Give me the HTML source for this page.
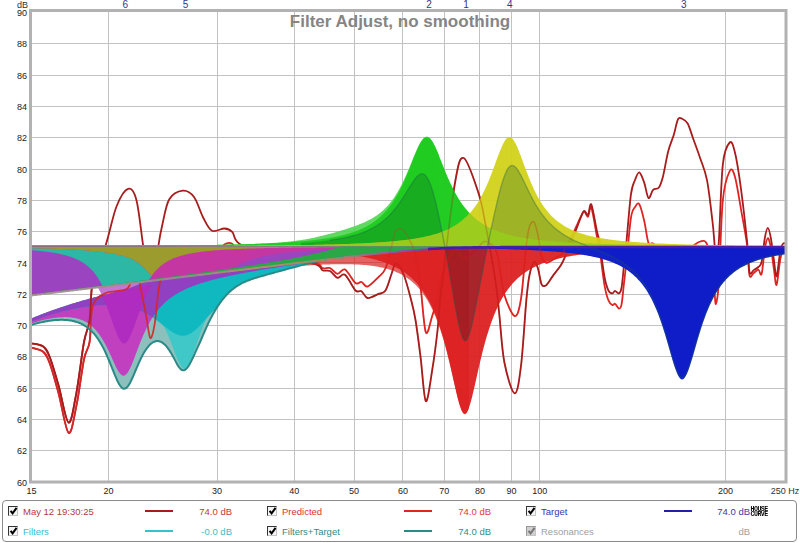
<!DOCTYPE html>
<html><head><meta charset="utf-8"><style>
html,body{margin:0;padding:0;background:#fff;width:800px;height:543px;overflow:hidden;position:relative;font-family:"Liberation Sans",sans-serif}
.lg{position:absolute;left:2px;top:500px;width:795px;height:41.5px;border:1px solid #8a8a8a;border-radius:4px;box-sizing:border-box}
.t{position:absolute;font-size:9.5px;line-height:11px;white-space:nowrap}
.cb{position:absolute;width:8px;height:8px;border:1px solid #444;border-right-color:#c4c4c4;border-bottom-color:#c4c4c4;background:#f4f4f4}
.sw{position:absolute;height:2px;width:28px}
</style></head><body>
<svg width="800" height="543" viewBox="0 0 800 543" style="position:absolute;left:0;top:0"><line x1="108.5" y1="11" x2="108.5" y2="481" stroke="#c2c2c2" stroke-width="1"/><line x1="217.5" y1="11" x2="217.5" y2="481" stroke="#c2c2c2" stroke-width="1"/><line x1="294.5" y1="11" x2="294.5" y2="481" stroke="#c2c2c2" stroke-width="1"/><line x1="354.5" y1="11" x2="354.5" y2="481" stroke="#c2c2c2" stroke-width="1"/><line x1="402.5" y1="11" x2="402.5" y2="481" stroke="#c2c2c2" stroke-width="1"/><line x1="444.5" y1="11" x2="444.5" y2="481" stroke="#c2c2c2" stroke-width="1"/><line x1="479.5" y1="11" x2="479.5" y2="481" stroke="#c2c2c2" stroke-width="1"/><line x1="511.5" y1="11" x2="511.5" y2="481" stroke="#c2c2c2" stroke-width="1"/><line x1="539.5" y1="11" x2="539.5" y2="481" stroke="#c2c2c2" stroke-width="1"/><line x1="725.5" y1="11" x2="725.5" y2="481" stroke="#c2c2c2" stroke-width="1"/><line x1="31" y1="450.5" x2="785" y2="450.5" stroke="#c2c2c2" stroke-width="1"/><line x1="31" y1="419.5" x2="785" y2="419.5" stroke="#c2c2c2" stroke-width="1"/><line x1="31" y1="388.5" x2="785" y2="388.5" stroke="#c2c2c2" stroke-width="1"/><line x1="31" y1="356.5" x2="785" y2="356.5" stroke="#c2c2c2" stroke-width="1"/><line x1="31" y1="325.5" x2="785" y2="325.5" stroke="#c2c2c2" stroke-width="1"/><line x1="31" y1="294.5" x2="785" y2="294.5" stroke="#c2c2c2" stroke-width="1"/><line x1="31" y1="262.5" x2="785" y2="262.5" stroke="#c2c2c2" stroke-width="1"/><line x1="31" y1="231.5" x2="785" y2="231.5" stroke="#c2c2c2" stroke-width="1"/><line x1="31" y1="200.5" x2="785" y2="200.5" stroke="#c2c2c2" stroke-width="1"/><line x1="31" y1="169.5" x2="785" y2="169.5" stroke="#c2c2c2" stroke-width="1"/><line x1="31" y1="137.5" x2="785" y2="137.5" stroke="#c2c2c2" stroke-width="1"/><line x1="31" y1="106.5" x2="785" y2="106.5" stroke="#c2c2c2" stroke-width="1"/><line x1="31" y1="75.5" x2="785" y2="75.5" stroke="#c2c2c2" stroke-width="1"/><line x1="31" y1="43.5" x2="785" y2="43.5" stroke="#c2c2c2" stroke-width="1"/><defs><clipPath id="plot"><rect x="31" y="12" width="754" height="469"/></clipPath></defs><g clip-path="url(#plot)"><path d="M30,347.2 C32.2,347.9 39.9,349 43.2,351.8 C46.5,354.5 47.3,356.7 49.9,363.6 C52.5,370.6 55.6,382.2 58.7,393.7 C61.8,405.2 65.6,430.8 68.6,432.8 C71.5,434.8 73.8,418.2 76.4,405.9 C79,393.7 81.8,370 84,359.3 C86.2,348.6 88.1,350.9 89.6,341.8 C91.1,332.7 90.3,312.9 93,304.8 C95.7,296.6 102,295.3 105.9,293 C109.8,290.7 112.8,292.1 116.5,291.2 C120.2,290.4 124.7,291 128,287.8 C131.3,284.6 133.9,270 136.4,272 C138.9,274.1 141.3,292.4 143,300 C144.7,307.6 145.3,311.5 146.5,317.8 C147.7,324.1 149,336.9 150.3,338 C151.7,339.1 153.2,332.4 154.6,324.4 C156,316.3 157.3,298.5 158.6,289.8 C159.9,281.2 160.7,277.5 162.5,272.3 C164.3,267.2 165.9,256.8 169.3,259.1 C172.7,261.4 178.6,284.2 182.8,286.2 C186.9,288.1 190.6,274.7 194,270.7 C197.4,266.8 200,264.5 203,262.6 C206,260.6 208.4,261.9 212,258.9 C215.6,256 221,247.1 224.4,244.6 C227.8,242.1 229.6,242.3 232.2,243.7 C234.9,245.2 233,250.7 240.1,253.2 C247.2,255.7 262.5,257 275,258.6 C287.5,260.3 307.1,261.4 315,263 C322.9,264.6 320,267.4 322.5,268.2 C325,269.1 327.5,267.2 330,268.1 C332.5,269 335,273.6 337.5,273.8 C340,274 342,268 345,269.5 C348,271.1 352.8,280.9 355.5,283 C358.2,285 359.5,281.4 361.5,282 C363.5,282.6 364.8,287.3 367.5,286.6 C370.2,285.8 375,280.6 378,277.6 C381,274.6 383.2,273.7 385.5,268.5 C387.8,263.3 389.8,252.7 391.5,246.4 C393.2,240.1 394,233.4 396,230.7 C398,228 401,228.3 403.5,230.3 C406,232.3 409,238.5 411,242.8 C413,247 413.9,248.3 415.5,255.7 C417.1,263.2 418.9,274.6 420.6,287.4 C422.3,300.1 423.9,327.5 425.8,332.2 C427.7,337 430.3,321.6 432.2,316 C434.1,310.4 436.1,304.6 437.4,298.8 C438.7,292.9 439.1,285 440,280.8 C440.9,276.6 440,278.8 442.5,273.5 C445,268.2 451.3,251.6 454.8,249.2 C458.3,246.8 459.8,259.3 463.7,258.9 C467.6,258.6 474.7,249.9 478.3,247 C481.9,244.1 482.4,241 485.2,241.3 C488,241.5 493,244.7 495.3,248.7 C497.6,252.6 497.7,257.1 499.2,264.8 C500.7,272.5 501.8,286.4 504.4,294.9 C507,303.4 511.9,315.4 514.7,316 C517.5,316.5 519.2,309.9 521.1,298.1 C523,286.3 524.9,257.1 526.3,245.1 C527.7,233.2 528.2,230.2 529.5,226.4 C530.8,222.5 532.6,220.8 534,222.1 C535.4,223.3 536.4,228.2 537.7,233.9 C539,239.6 540.3,251.5 541.6,256.3 C542.9,261 544.4,261.4 545.5,262.4 C546.6,263.4 546.7,262.8 548,262.3 C549.3,261.9 551,260.8 553.2,259.5 C555.4,258.3 558.9,256.8 561,254.7 C563.1,252.7 563.4,252 566,247.3 C568.6,242.6 574,231.4 576.4,226.5 C578.8,221.5 579,220.2 580.3,217.7 C581.6,215.2 582.8,211.7 584.1,211.5 C585.4,211.3 586.8,217.4 588,216.7 C589.2,216.1 589.8,204.3 591.3,207.7 C592.8,211 595.6,230 597,236.8 C598.4,243.5 599,244.5 599.6,248.2 C600.2,251.8 600,252.4 600.9,258.8 C601.8,265.1 603.4,279.3 604.7,286.3 C606,293.3 607.3,297.6 608.6,300.7 C609.9,303.9 611.4,304.6 612.5,305.1 C613.6,305.6 613.9,303.2 615,303.8 C616.1,304.3 617.8,308.3 618.9,308.5 C620,308.6 620.6,308.8 621.5,304.6 C622.4,300.4 623.1,290.8 624,283.2 C624.9,275.6 625.5,270 626.7,259.1 C627.9,248.1 629.6,226.1 631,217.5 C632.4,208.8 633.6,209.3 635,207.1 C636.4,204.9 637.8,201.8 639.3,204.2 C640.8,206.5 642.8,214.7 644.3,221.2 C645.8,227.6 647,239.2 648.5,242.9 C650,246.6 651.4,241.5 653.1,243.5 C654.8,245.5 657.1,252.8 658.7,254.9 C660.3,257 661.2,257.3 662.8,256.2 C664.4,255.1 666.4,249.1 668.3,248.2 C670.1,247.4 672.3,251.2 673.9,250.9 C675.5,250.6 676.6,246.7 678,246.6 C679.4,246.5 680.6,250.2 682.2,250.4 C683.8,250.6 685.9,248.4 687.7,247.6 C689.5,246.8 691.1,246.7 693.2,245.7 C695.3,244.7 697.8,241.8 700.1,241.6 C702.4,241.3 704.9,238.8 707,244.2 C709.1,249.5 711.2,265.5 712.5,273.5 C713.8,281.4 713.9,286.8 714.5,291.8 C715.1,296.9 715.2,305.3 715.9,303.8 C716.6,302.4 717.6,300.3 718.8,283.1 C719.9,265.9 721,219.4 722.8,200.7 C724.6,182 727.7,175 729.7,171.1 C731.7,167.1 733.1,170.6 735,176.9 C736.9,183.3 739,198 741,209.3 C743,220.7 745.7,234.3 747.1,245.2 C748.5,256.2 748.4,270.6 749.5,275.2 C750.6,279.8 752.3,273.8 753.8,272.9 C755.2,272 757.1,269.4 758.4,269.6 C759.7,269.8 760.5,277.2 761.6,274 C762.7,270.7 763.7,255.8 764.7,249.9 C765.7,243.9 766.8,238.4 767.8,238.2 C768.8,237.9 770,243.2 771,248.4 C772,253.7 773.1,263.6 774,269.7 C774.9,275.8 775.6,286.6 776.6,284.9 C777.6,283.1 779.2,264.6 780.3,259 C781.4,253.3 782.3,252.1 783.4,250.9 C784.5,249.7 786.4,251.8 787,252" fill="none" stroke="#e02424" stroke-width="1.8"/><path d="M30,343.2 C32.2,343.8 39.9,344.1 43.2,346.5 C46.5,348.9 47.3,350.9 49.9,357.5 C52.5,364.1 55.6,375.1 58.7,386 C61.8,396.9 65.6,421.5 68.6,422.6 C71.5,423.7 73.8,406.2 76.4,392.8 C79,379.4 81.8,354.1 84,342 C86.2,329.9 88.1,330.4 89.6,320 C91.1,309.6 90.3,292.1 93,279.5 C95.7,266.9 102,256.8 105.9,244.6 C109.8,232.4 112.8,215.8 116.5,206.5 C120.2,197.2 124.7,190 128,188.9 C131.3,187.8 133.9,190.6 136.4,199.9 C138.9,209.2 141.3,233.2 143,244.6 C144.7,255.9 145.3,260.1 146.5,268 C147.7,275.9 149,290 150.3,292 C151.7,294 153.2,287.9 154.6,280 C156,272.1 157.3,253.9 158.6,244.6 C159.9,235.3 160.7,231.6 162.5,224 C164.3,216.4 165.9,204.8 169.3,199.2 C172.7,193.7 178.6,191.1 182.8,190.7 C186.9,190.3 190.6,192.6 194,197 C197.4,201.4 200,211.6 203,217.2 C206,222.9 208.4,228.9 212,230.8 C215.6,232.6 221,228.3 224.4,228.5 C227.8,228.7 229.6,229.3 232.2,231.9 C234.9,234.5 233,240.2 240.1,244.2 C247.2,248.3 262.5,252.7 275,256 C287.5,259.3 307.1,261.9 315,264.2 C322.9,266.6 320,269.1 322.5,270.2 C325,271.4 327.5,269.8 330,271 C332.5,272.2 335,277.1 337.5,277.8 C340,278.4 342,272.6 345,274.8 C348,276.9 352.8,287.8 355.5,290.5 C358.2,293.2 359.5,290 361.5,291.2 C363.5,292.5 364.8,297.5 367.5,298 C370.2,298.5 375,295.5 378,294.2 C381,293 383.2,293.9 385.5,290.5 C387.8,287.1 389.8,278.5 391.5,274 C393.2,269.5 394,263.5 396,263.5 C398,263.5 401,268 403.5,274 C406,280 409,291.8 411,299.5 C413,307.2 413.9,310.4 415.5,320 C417.1,329.6 418.9,343.8 420.6,357.3 C422.3,370.8 423.9,399 425.8,401.1 C427.7,403.2 430.3,381.8 432.2,370.2 C434.1,358.6 436.1,343.1 437.4,331.5 C438.7,319.9 439.1,309.2 440,300.6 C440.9,292 440,299.4 442.5,280 C445,260.6 451.3,204.3 454.8,184 C458.3,163.7 459.8,156.6 463.7,158 C467.6,159.4 474.7,181.6 478.3,192.4 C481.9,203.2 482.4,208.2 485.2,222.8 C488,237.4 493,264.9 495.3,280 C497.6,295.1 497.7,299.8 499.2,313.5 C500.7,327.2 501.8,349.2 504.4,362.5 C507,375.8 511.9,393 514.7,393.4 C517.5,393.8 519.2,380.5 521.1,365 C523,349.5 524.9,315.6 526.3,300.6 C527.7,285.6 528.2,281.4 529.5,275 C530.8,268.6 532.6,263.2 534,262 C535.4,260.8 536.4,263.9 537.7,267.6 C539,271.3 540.3,281.4 541.6,284.4 C542.9,287.4 544.4,285.9 545.5,285.7 C546.6,285.5 546.7,284.7 548,283 C549.3,281.3 551,278.4 553.2,275.4 C555.4,272.4 558.9,268.4 561,265 C563.1,261.6 563.4,260.7 566,254.7 C568.6,248.7 574,235 576.4,229 C578.8,223 579,221.7 580.3,218.7 C581.6,215.7 582.8,211.7 584.1,211 C585.4,210.3 586.8,215.9 588,214.8 C589.2,213.7 589.8,201.7 591.3,204.5 C592.8,207.3 595.6,225.3 597,231.5 C598.4,237.7 599,238.5 599.6,241.9 C600.2,245.3 600,246 600.9,252 C601.8,258 603.4,271.5 604.7,278 C606,284.5 607.3,288.2 608.6,290.8 C609.9,293.4 611.4,293.4 612.5,293.4 C613.6,293.4 613.9,290.8 615,290.8 C616.1,290.8 617.8,293.9 618.9,293.4 C620,292.9 620.6,292.7 621.5,288 C622.4,283.3 623.1,273.2 624,265 C624.9,256.8 625.5,250.8 626.7,239 C627.9,227.2 629.6,203.8 631,194 C632.4,184.2 633.6,183.6 635,180 C636.4,176.4 637.8,171.9 639.3,172.4 C640.8,172.9 642.8,178.6 644.3,182.9 C645.8,187.2 647,196.8 648.5,198 C650,199.2 651.4,191.5 653.1,189.8 C654.8,188.1 657.1,189.9 658.7,187.8 C660.3,185.7 661.2,183.4 662.8,177.3 C664.4,171.2 666.4,158.2 668.3,151.1 C670.1,144 672.3,139.8 673.9,134.5 C675.5,129.2 676.6,121.9 678,119.3 C679.4,116.7 680.6,118.1 682.2,118.8 C683.8,119.5 685.9,120.2 687.7,123.5 C689.5,126.8 691.1,132.9 693.2,138.7 C695.3,144.4 697.8,151.1 700.1,158 C702.4,164.9 704.9,169.5 707,180.1 C709.1,190.7 711.2,210.9 712.5,221.5 C713.8,232.1 713.9,237.5 714.5,243.6 C715.1,249.7 715.2,258.3 715.9,258 C716.6,257.7 717.6,257.3 718.8,241.8 C719.9,226.3 721,181.4 722.8,164.8 C724.6,148.2 727.7,144.5 729.7,142.5 C731.7,140.5 733.1,144.9 735,152.7 C736.9,160.4 739,174.2 741,189 C743,203.8 745.7,228 747.1,241.8 C748.5,255.6 748.4,267.3 749.5,272 C750.6,276.7 752.3,270.8 753.8,270 C755.2,269.2 757.1,268.3 758.4,267 C759.7,265.7 760.5,266.7 761.6,262 C762.7,257.3 763.7,244.4 764.7,238.8 C765.7,233.1 766.8,227.8 767.8,227.8 C768.8,227.8 770,233.3 771,238.8 C772,244.2 773.1,254.4 774,260.6 C774.9,266.9 775.6,277.9 776.6,276.2 C777.6,274.6 779.2,256.5 780.3,251 C781.4,245.5 782.3,244.4 783.4,243.4 C784.5,242.4 786.4,244.7 787,245" fill="none" stroke="#a81c1c" stroke-width="1.8"/><defs><clipPath id="RT"><path d="M30,246.6 L31,246.6 L32,246.6 L33,246.6 L34,246.6 L35,246.6 L36,246.6 L37,246.6 L38,246.6 L39,246.6 L40,246.6 L41,246.6 L42,246.6 L43,246.6 L44,246.6 L45,246.6 L46,246.6 L47,246.6 L48,246.6 L49,246.6 L50,246.6 L51,246.6 L52,246.6 L53,246.6 L54,246.6 L55,246.6 L56,246.6 L57,246.6 L58,246.6 L59,246.6 L60,246.6 L61,246.6 L62,246.6 L63,246.6 L64,246.6 L65,246.6 L66,246.6 L67,246.6 L68,246.6 L69,246.6 L70,246.6 L71,246.6 L72,246.6 L73,246.6 L74,246.6 L75,246.6 L76,246.6 L77,246.6 L78,246.6 L79,246.6 L80,246.6 L81,246.6 L82,246.6 L83,246.6 L84,246.6 L85,246.6 L86,246.6 L87,246.6 L88,246.6 L89,246.6 L90,246.6 L91,246.6 L92,246.6 L93,246.6 L94,246.6 L95,246.6 L96,246.6 L97,246.6 L98,246.6 L99,246.6 L100,246.6 L101,246.6 L102,246.6 L103,246.6 L104,246.6 L105,246.6 L106,246.6 L107,246.6 L108,246.6 L109,246.6 L110,246.6 L111,246.6 L112,246.6 L113,246.6 L114,246.6 L115,246.6 L116,246.6 L117,246.6 L118,246.6 L119,246.6 L120,246.6 L121,246.6 L122,246.6 L123,246.6 L124,246.6 L125,246.6 L126,246.6 L127,246.6 L128,246.6 L129,246.6 L130,246.6 L131,246.6 L132,246.6 L133,246.6 L134,246.6 L135,246.6 L136,246.6 L137,246.6 L138,246.6 L139,246.6 L140,246.6 L141,246.6 L142,246.6 L143,246.6 L144,246.6 L145,246.6 L146,246.6 L147,246.6 L148,246.6 L149,246.6 L150,246.6 L151,246.6 L152,246.6 L153,246.6 L154,246.6 L155,246.6 L156,246.6 L157,246.6 L158,246.6 L159,246.6 L160,246.6 L161,246.6 L162,246.6 L163,246.6 L164,246.6 L165,246.6 L166,246.6 L167,246.6 L168,246.6 L169,246.6 L170,246.6 L171,246.6 L172,246.6 L173,246.6 L174,246.6 L175,246.6 L176,246.6 L177,246.6 L178,246.6 L179,246.6 L180,246.6 L181,246.6 L182,246.6 L183,246.6 L184,246.6 L185,246.6 L186,246.6 L187,246.6 L188,246.6 L189,246.6 L190,246.6 L191,246.6 L192,246.6 L193,246.6 L194,246.6 L195,246.6 L196,246.6 L197,246.6 L198,246.6 L199,246.6 L200,246.6 L201,246.6 L202,246.6 L203,246.6 L204,246.6 L205,246.6 L206,246.6 L207,246.6 L208,246.6 L209,246.6 L210,246.6 L211,246.6 L212,246.6 L213,246.6 L214,246.6 L215,246.6 L216,246.6 L217,246.6 L218,246.6 L219,246.6 L220,246.6 L221,246.6 L222,246.6 L223,246.6 L224,246.6 L225,246.6 L226,246.6 L227,246.6 L228,246.6 L229,246.6 L230,246.6 L231,246.6 L232,246.6 L233,246.6 L234,246.6 L235,246.6 L236,246.6 L237,246.6 L238,246.6 L239,246.6 L240,246.6 L241,246.6 L242,246.6 L243,246.6 L244,246.6 L245,246.6 L246,246.6 L247,246.6 L248,246.6 L249,246.6 L250,246.6 L251,246.6 L252,246.6 L253,246.6 L254,246.6 L255,246.6 L256,246.6 L257,246.6 L258,246.6 L259,246.6 L260,246.6 L261,246.6 L262,246.6 L263,246.6 L264,246.6 L265,246.6 L266,246.6 L267,246.6 L268,246.6 L269,246.6 L270,246.6 L271,246.6 L272,246.6 L273,246.6 L274,246.6 L275,246.6 L276,246.6 L277,246.6 L278,246.6 L279,246.6 L280,246.6 L281,246.6 L282,246.6 L283,246.6 L284,246.6 L285,246.6 L286,246.6 L287,246.6 L288,246.6 L289,246.6 L290,246.6 L291,246.6 L292,246.6 L293,246.6 L294,246.6 L295,246.6 L296,246.6 L297,246.6 L298,246.6 L299,246.6 L300,246.6 L301,246.6 L302,246.6 L303,246.6 L304,246.6 L305,246.6 L306,246.6 L307,246.6 L308,246.6 L309,246.6 L310,246.6 L311,246.6 L312,246.6 L313,246.6 L314,246.6 L315,246.6 L316,246.6 L317,246.6 L318,246.6 L319,246.6 L320,246.6 L321,246.6 L322,246.6 L323,246.6 L324,246.6 L325,246.6 L326,246.6 L327,246.6 L328,246.6 L329,246.6 L330,246.6 L331,246.6 L332,246.6 L333,246.6 L334,246.6 L335,246.6 L336,246.6 L337,246.6 L338,246.6 L339,246.6 L340,246.6 L341,246.6 L342,246.6 L343,246.6 L344,246.6 L345,246.6 L346,246.6 L347,246.6 L348,246.6 L349,246.6 L350,246.6 L351,246.6 L352,246.6 L353,246.6 L354,246.6 L355,246.6 L356,246.6 L357,246.6 L358,246.6 L359,246.6 L360,246.6 L361,246.6 L362,246.6 L363,246.6 L364,246.6 L365,246.6 L366,246.6 L367,246.6 L368,246.6 L369,246.6 L370,246.6 L371,246.6 L372,246.6 L373,246.6 L374,246.6 L375,246.6 L376,246.6 L377,246.6 L378,246.6 L379,246.6 L380,246.6 L381,246.6 L382,246.6 L383,246.6 L384,246.6 L385,246.6 L386,246.6 L387,246.6 L388,246.6 L389,246.6 L390,246.6 L391,246.6 L392,246.6 L393,246.6 L394,246.6 L395,246.6 L396,246.6 L397,246.6 L398,246.6 L399,246.6 L400,246.6 L401,246.6 L402,246.6 L403,246.6 L404,246.6 L405,246.6 L406,246.6 L407,246.6 L408,246.6 L409,246.6 L410,246.6 L411,246.6 L412,246.6 L413,246.6 L414,246.6 L415,246.6 L416,246.6 L417,246.6 L418,246.6 L419,246.6 L420,246.6 L421,246.6 L422,246.6 L423,246.6 L424,246.6 L425,246.6 L426,246.6 L427,246.6 L428,246.6 L429,246.6 L430,246.6 L431,246.6 L432,246.6 L433,246.6 L434,246.6 L435,246.6 L436,246.6 L437,246.6 L438,246.6 L439,246.6 L440,246.6 L441,246.6 L442,246.6 L443,246.6 L444,246.6 L445,246.6 L446,246.6 L447,246.6 L448,246.6 L449,246.6 L450,246.6 L451,246.6 L452,246.6 L453,246.6 L454,246.6 L455,246.6 L456,246.6 L457,246.6 L458,246.6 L459,246.6 L460,246.6 L461,246.6 L462,246.6 L463,246.6 L464,246.6 L465,246.6 L466,246.6 L467,246.6 L468,246.6 L469,246.6 L469,247.1 L468,247.1 L467,247.1 L466,247.2 L465,247.2 L464,247.2 L463,247.2 L462,247.3 L461,247.3 L460,247.3 L459,247.3 L458,247.4 L457,247.4 L456,247.4 L455,247.4 L454,247.5 L453,247.5 L452,247.5 L451,247.6 L450,247.6 L449,247.6 L448,247.7 L447,247.7 L446,247.8 L445,247.8 L444,247.8 L443,247.9 L442,247.9 L441,248 L440,248 L439,248.1 L438,248.1 L437,248.2 L436,248.2 L435,248.3 L434,248.3 L433,248.4 L432,248.4 L431,248.5 L430,248.5 L429,248.6 L428,248.6 L427,248.7 L426,248.8 L425,248.8 L424,248.9 L423,249 L422,249 L421,249.1 L420,249.2 L419,249.2 L418,249.3 L417,249.4 L416,249.5 L415,249.5 L414,249.6 L413,249.7 L412,249.8 L411,249.8 L410,249.9 L409,250 L408,250.1 L407,250.2 L406,250.3 L405,250.3 L404,250.4 L403,250.5 L402,250.6 L401,250.7 L400,250.8 L399,250.9 L398,251 L397,251.1 L396,251.2 L395,251.3 L394,251.4 L393,251.5 L392,251.5 L391,251.6 L390,251.7 L389,251.8 L388,251.9 L387,252 L386,252.2 L385,252.3 L384,252.4 L383,252.5 L382,252.6 L381,252.7 L380,252.8 L379,252.9 L378,253 L377,253.1 L376,253.2 L375,253.3 L374,253.4 L373,253.5 L372,253.6 L371,253.8 L370,253.9 L369,254 L368,254.1 L367,254.2 L366,254.3 L365,254.4 L364,254.5 L363,254.7 L362,254.8 L361,254.9 L360,255 L359,255.1 L358,255.2 L357,255.3 L356,255.5 L355,255.6 L354,255.7 L353,255.8 L352,255.9 L351,256 L350,256.2 L349,256.3 L348,256.4 L347,256.5 L346,256.6 L345,256.7 L344,256.9 L343,257 L342,257.1 L341,257.2 L340,257.3 L339,257.4 L338,257.6 L337,257.7 L336,257.8 L335,257.9 L334,258 L333,258.2 L332,258.3 L331,258.4 L330,258.5 L329,258.6 L328,258.8 L327,258.9 L326,259 L325,259.1 L324,259.2 L323,259.4 L322,259.5 L321,259.6 L320,259.7 L319,259.8 L318,260 L317,260.1 L316,260.2 L315,260.3 L314,260.4 L313,260.6 L312,260.7 L311,260.8 L310,260.9 L309,261 L308,261.2 L307,261.3 L306,261.4 L305,261.5 L304,261.6 L303,261.8 L302,261.9 L301,262 L300,262.1 L299,262.3 L298,262.4 L297,262.5 L296,262.6 L295,262.7 L294,262.9 L293,263 L292,263.1 L291,263.2 L290,263.3 L289,263.5 L288,263.6 L287,263.7 L286,263.8 L285,264 L284,264.1 L283,264.2 L282,264.3 L281,264.4 L280,264.6 L279,264.7 L278,264.8 L277,264.9 L276,265 L275,265.2 L274,265.3 L273,265.4 L272,265.5 L271,265.7 L270,265.8 L269,265.9 L268,266 L267,266.1 L266,266.3 L265,266.4 L264,266.5 L263,266.6 L262,266.7 L261,266.9 L260,267 L259,267.1 L258,267.2 L257,267.4 L256,267.5 L255,267.6 L254,267.7 L253,267.8 L252,268 L251,268.1 L250,268.2 L249,268.3 L248,268.4 L247,268.6 L246,268.7 L245,268.8 L244,268.9 L243,269.1 L242,269.2 L241,269.3 L240,269.4 L239,269.5 L238,269.7 L237,269.8 L236,269.9 L235,270 L234,270.2 L233,270.3 L232,270.4 L231,270.5 L230,270.6 L229,270.8 L228,270.9 L227,271 L226,271.1 L225,271.2 L224,271.4 L223,271.5 L222,271.6 L221,271.7 L220,271.9 L219,272 L218,272.1 L217,272.2 L216,272.3 L215,272.5 L214,272.6 L213,272.7 L212,272.8 L211,273 L210,273.1 L209,273.2 L208,273.3 L207,273.4 L206,273.6 L205,273.7 L204,273.8 L203,273.9 L202,274.1 L201,274.2 L200,274.3 L199,274.4 L198,274.5 L197,274.7 L196,274.8 L195,274.9 L194,275 L193,275.1 L192,275.3 L191,275.4 L190,275.5 L189,275.6 L188,275.8 L187,275.9 L186,276 L185,276.1 L184,276.2 L183,276.4 L182,276.5 L181,276.6 L180,276.7 L179,276.9 L178,277 L177,277.1 L176,277.2 L175,277.3 L174,277.5 L173,277.6 L172,277.7 L171,277.8 L170,277.9 L169,278.1 L168,278.2 L167,278.3 L166,278.4 L165,278.6 L164,278.7 L163,278.8 L162,278.9 L161,279 L160,279.2 L159,279.3 L158,279.4 L157,279.5 L156,279.7 L155,279.8 L154,279.9 L153,280 L152,280.1 L151,280.3 L150,280.4 L149,280.5 L148,280.6 L147,280.7 L146,280.9 L145,281 L144,281.1 L143,281.2 L142,281.4 L141,281.5 L140,281.6 L139,281.7 L138,281.8 L137,282 L136,282.1 L135,282.2 L134,282.3 L133,282.5 L132,282.6 L131,282.7 L130,282.8 L129,282.9 L128,283.1 L127,283.2 L126,283.3 L125,283.4 L124,283.6 L123,283.7 L122,283.8 L121,283.9 L120,284 L119,284.2 L118,284.3 L117,284.4 L116,284.5 L115,284.6 L114,284.8 L113,284.9 L112,285 L111,285.1 L110,285.3 L109,285.4 L108,285.5 L107,285.6 L106,285.7 L105,285.9 L104,286 L103,286.1 L102,286.2 L101,286.4 L100,286.5 L99,286.6 L98,286.7 L97,286.8 L96,287 L95,287.1 L94,287.2 L93,287.3 L92,287.4 L91,287.6 L90,287.7 L89,287.8 L88,287.9 L87,288.1 L86,288.2 L85,288.3 L84,288.4 L83,288.5 L82,288.7 L81,288.8 L80,288.9 L79,289 L78,289.2 L77,289.3 L76,289.4 L75,289.5 L74,289.6 L73,289.8 L72,289.9 L71,290 L70,290.1 L69,290.2 L68,290.4 L67,290.5 L66,290.6 L65,290.7 L64,290.9 L63,291 L62,291.1 L61,291.2 L60,291.3 L59,291.5 L58,291.6 L57,291.7 L56,291.8 L55,292 L54,292.1 L53,292.2 L52,292.3 L51,292.4 L50,292.6 L49,292.7 L48,292.8 L47,292.9 L46,293.1 L45,293.2 L44,293.3 L43,293.4 L42,293.5 L41,293.7 L40,293.8 L39,293.9 L38,294 L37,294.1 L36,294.3 L35,294.4 L34,294.5 L33,294.6 L32,294.8 L31,294.9 L30,295Z"/></clipPath><clipPath id="CF2"><path d="M30,246.3 L31,246.3 L32,246.3 L33,246.3 L34,246.3 L35,246.3 L36,246.3 L37,246.3 L38,246.3 L39,246.3 L40,246.3 L41,246.3 L42,246.3 L43,246.3 L44,246.3 L45,246.3 L46,246.3 L47,246.3 L48,246.2 L49,246.2 L50,246.2 L51,246.2 L52,246.2 L53,246.2 L54,246.2 L55,246.2 L56,246.2 L57,246.2 L58,246.2 L59,246.2 L60,246.2 L61,246.2 L62,246.2 L63,246.2 L64,246.2 L65,246.2 L66,246.2 L67,246.2 L68,246.2 L69,246.2 L70,246.2 L71,246.2 L72,246.2 L73,246.2 L74,246.2 L75,246.2 L76,246.2 L77,246.1 L78,246.1 L79,246.1 L80,246.1 L81,246.1 L82,246.1 L83,246.1 L84,246.1 L85,246.1 L86,246.1 L87,246.1 L88,246.1 L89,246.1 L90,246.1 L91,246.1 L92,246.1 L93,246.1 L94,246.1 L95,246.1 L96,246.1 L97,246.1 L98,246.1 L99,246.1 L100,246 L101,246 L102,246 L103,246 L104,246 L105,246 L106,246 L107,246 L108,246 L109,246 L110,246 L111,246 L112,246 L113,246 L114,246 L115,246 L116,246 L117,246 L118,246 L119,245.9 L120,245.9 L121,245.9 L122,245.9 L123,245.9 L124,245.9 L125,245.9 L126,245.9 L127,245.9 L128,245.9 L129,245.9 L130,245.9 L131,245.9 L132,245.9 L133,245.9 L134,245.9 L135,245.8 L136,245.8 L137,245.8 L138,245.8 L139,245.8 L140,245.8 L141,245.8 L142,245.8 L143,245.8 L144,245.8 L145,245.8 L146,245.8 L147,245.8 L148,245.7 L149,245.7 L150,245.7 L151,245.7 L152,245.7 L153,245.7 L154,245.7 L155,245.7 L156,245.7 L157,245.7 L158,245.7 L159,245.7 L160,245.6 L161,245.6 L162,245.6 L163,245.6 L164,245.6 L165,245.6 L166,245.6 L167,245.6 L168,245.6 L169,245.6 L170,245.5 L171,245.5 L172,245.5 L173,245.5 L174,245.5 L175,245.5 L176,245.5 L177,245.5 L178,245.5 L179,245.4 L180,245.4 L181,245.4 L182,245.4 L183,245.4 L184,245.4 L185,245.4 L186,245.4 L187,245.3 L188,245.3 L189,245.3 L190,245.3 L191,245.3 L192,245.3 L193,245.3 L194,245.3 L195,245.2 L196,245.2 L197,245.2 L198,245.2 L199,245.2 L200,245.2 L201,245.1 L202,245.1 L203,245.1 L204,245.1 L205,245.1 L206,245.1 L207,245 L208,245 L209,245 L210,245 L211,245 L212,245 L213,244.9 L214,244.9 L215,244.9 L216,244.9 L217,244.9 L218,244.8 L219,244.8 L220,244.8 L221,244.8 L222,244.8 L223,244.7 L224,244.7 L225,244.7 L226,244.7 L227,244.7 L228,244.6 L229,244.6 L230,244.6 L231,244.6 L232,244.5 L233,244.5 L234,244.5 L235,244.5 L236,244.4 L237,244.4 L238,244.4 L239,244.4 L240,244.3 L241,244.3 L242,244.3 L243,244.3 L244,244.2 L245,244.2 L246,244.2 L247,244.1 L248,244.1 L249,244.1 L250,244 L251,244 L252,244 L253,243.9 L254,243.9 L255,243.9 L256,243.8 L257,243.8 L258,243.8 L259,243.7 L260,243.7 L261,243.7 L262,243.6 L263,243.6 L264,243.5 L265,243.5 L266,243.5 L267,243.4 L268,243.4 L269,243.3 L270,243.3 L271,243.2 L272,243.2 L273,243.1 L274,243.1 L275,243 L276,243 L277,242.9 L278,242.9 L279,242.8 L280,242.8 L281,242.7 L282,242.7 L283,242.6 L284,242.5 L285,242.5 L286,242.4 L287,242.4 L288,242.3 L289,242.2 L290,242.2 L291,242.1 L292,242 L293,242 L294,241.9 L295,241.8 L296,241.7 L297,241.7 L298,241.6 L299,241.5 L300,241.4 L301,241.3 L302,241.3 L303,241.2 L304,241.1 L305,241 L306,240.9 L307,240.8 L308,240.7 L309,240.6 L310,240.5 L311,240.4 L312,240.3 L313,240.2 L314,240.1 L315,240 L316,239.8 L317,239.7 L318,239.6 L319,239.5 L320,239.3 L321,239.2 L322,239.1 L323,238.9 L324,238.8 L325,238.6 L326,238.5 L327,238.3 L328,238.2 L329,238 L330,237.8 L331,237.6 L332,237.5 L333,237.3 L334,237.1 L335,236.9 L336,236.7 L337,236.5 L338,236.3 L339,236.1 L340,235.8 L341,235.6 L342,235.4 L343,235.1 L344,234.9 L345,234.6 L346,234.4 L347,234.1 L348,233.8 L349,233.5 L350,233.2 L351,232.9 L352,232.6 L353,232.2 L354,231.9 L355,231.5 L356,231.2 L357,230.8 L358,230.4 L359,230 L360,229.6 L361,229.1 L362,228.7 L363,228.2 L364,227.7 L365,227.2 L366,226.7 L367,226.2 L368,225.6 L369,225 L370,224.4 L371,223.8 L372,223.2 L373,222.5 L374,221.8 L375,221.1 L376,220.3 L377,219.5 L378,218.7 L379,217.9 L380,217 L381,216.1 L382,215.1 L383,214.2 L384,213.1 L385,212.1 L386,210.9 L387,209.8 L388,208.6 L389,207.3 L390,206 L391,204.7 L392,203.2 L393,201.8 L394,200.3 L395,198.7 L396,197 L397,195.3 L398,193.5 L399,191.7 L400,189.8 L401,187.8 L402,185.7 L403,183.6 L404,181.4 L405,179.2 L406,176.9 L407,174.5 L408,172.1 L409,169.7 L410,167.2 L411,164.7 L412,162.2 L413,159.6 L414,157.1 L415,154.7 L416,152.3 L417,149.9 L418,147.7 L419,145.6 L420,143.7 L421,142 L422,140.5 L423,139.2 L424,138.2 L425,137.5 L426,137.1 L427,137.1 L428,137.3 L429,137.8 L430,138.6 L431,139.8 L432,141.1 L433,142.7 L434,144.5 L435,146.5 L436,148.7 L437,150.9 L438,153.3 L439,155.7 L440,158.2 L441,160.7 L442,163.3 L443,165.8 L444,168.3 L445,170.8 L446,173.2 L447,175.6 L448,177.9 L449,180.2 L450,182.4 L451,184.6 L452,186.6 L453,188.7 L454,190.6 L455,192.5 L456,194.3 L457,196.1 L458,197.7 L459,199.4 L460,200.9 L461,202.4 L462,203.9 L463,205.3 L464,206.6 L465,207.9 L466,209.1 L467,210.3 L468,211.4 L469,212.5 L470,213.6 L471,214.6 L472,215.6 L473,216.5 L474,217.4 L475,218.3 L476,219.1 L477,219.9 L478,220.7 L479,221.4 L480,222.1 L481,222.8 L482,223.4 L483,224.1 L484,224.7 L485,225.3 L486,225.9 L487,226.4 L488,226.9 L489,227.4 L490,227.9 L491,228.4 L492,228.9 L493,229.3 L494,229.7 L495,230.2 L496,230.6 L497,231 L498,231.3 L499,231.7 L500,232 L501,232.4 L502,232.7 L503,233 L504,233.3 L505,233.6 L506,233.9 L507,234.2 L508,234.5 L509,234.7 L510,235 L511,235.2 L512,235.5 L513,235.7 L514,235.9 L515,236.2 L516,236.4 L517,236.6 L518,236.8 L519,237 L520,237.2 L521,237.4 L522,237.5 L523,237.7 L524,237.9 L525,238.1 L526,238.2 L527,238.4 L528,238.5 L529,238.7 L530,238.8 L531,239 L532,239.1 L533,239.3 L534,239.4 L535,239.5 L536,239.6 L537,239.8 L538,239.9 L539,240 L540,240.1 L541,240.2 L542,240.3 L543,240.4 L544,240.5 L545,240.6 L546,240.7 L547,240.8 L548,240.9 L549,241 L550,241.1 L551,241.2 L552,241.3 L553,241.4 L554,241.5 L555,241.5 L556,241.6 L557,241.7 L558,241.8 L559,241.9 L560,241.9 L561,242 L562,242.1 L563,242.1 L564,242.2 L565,242.3 L566,242.3 L567,242.4 L568,242.5 L569,242.5 L570,242.6 L571,242.6 L572,242.7 L573,242.7 L574,242.8 L575,242.9 L576,242.9 L577,243 L578,243 L579,243.1 L580,243.1 L581,243.2 L582,243.2 L583,243.3 L584,243.3 L585,243.3 L586,243.4 L587,243.4 L588,243.5 L589,243.5 L590,243.6 L591,243.6 L592,243.6 L593,243.7 L594,243.7 L595,243.7 L596,243.8 L597,243.8 L598,243.9 L599,243.9 L600,243.9 L601,244 L602,244 L603,244 L604,244.1 L605,244.1 L606,244.1 L607,244.1 L608,244.2 L609,244.2 L610,244.2 L611,244.3 L612,244.3 L613,244.3 L614,244.4 L615,244.4 L616,244.4 L617,244.4 L618,244.5 L619,244.5 L620,244.5 L621,244.5 L622,244.6 L623,244.6 L624,244.6 L625,244.6 L626,244.6 L627,244.7 L628,244.7 L629,244.7 L630,244.7 L631,244.8 L632,244.8 L633,244.8 L634,244.8 L635,244.8 L636,244.9 L637,244.9 L638,244.9 L639,244.9 L640,244.9 L641,245 L642,245 L643,245 L644,245 L645,245 L646,245 L647,245.1 L648,245.1 L649,245.1 L650,245.1 L651,245.1 L652,245.1 L653,245.2 L654,245.2 L655,245.2 L656,245.2 L657,245.2 L658,245.2 L659,245.2 L660,245.3 L661,245.3 L662,245.3 L663,245.3 L664,245.3 L665,245.3 L666,245.3 L667,245.4 L668,245.4 L669,245.4 L670,245.4 L671,245.4 L672,245.4 L673,245.4 L674,245.4 L675,245.4 L676,245.5 L677,245.5 L678,245.5 L679,245.5 L680,245.5 L681,245.5 L682,245.5 L683,245.5 L684,245.5 L685,245.6 L686,245.6 L687,245.6 L688,245.6 L689,245.6 L690,245.6 L691,245.6 L692,245.6 L693,245.6 L694,245.6 L695,245.7 L696,245.7 L697,245.7 L698,245.7 L699,245.7 L700,245.7 L701,245.7 L702,245.7 L703,245.7 L704,245.7 L705,245.7 L706,245.8 L707,245.8 L708,245.8 L709,245.8 L710,245.8 L711,245.8 L712,245.8 L713,245.8 L714,245.8 L715,245.8 L716,245.8 L717,245.8 L718,245.8 L719,245.8 L720,245.9 L721,245.9 L722,245.9 L723,245.9 L724,245.9 L725,245.9 L726,245.9 L727,245.9 L728,245.9 L729,245.9 L730,245.9 L731,245.9 L732,245.9 L733,245.9 L734,245.9 L735,246 L736,246 L737,246 L738,246 L739,246 L740,246 L741,246 L742,246 L743,246 L744,246 L745,246 L746,246 L747,246 L748,246 L749,246 L750,246 L751,246 L752,246 L753,246 L754,246.1 L755,246.1 L756,246.1 L757,246.1 L758,246.1 L759,246.1 L760,246.1 L761,246.1 L762,246.1 L763,246.1 L764,246.1 L765,246.1 L766,246.1 L767,246.1 L768,246.1 L769,246.1 L770,246.1 L771,246.1 L772,246.1 L773,246.1 L774,246.1 L775,246.1 L776,246.1 L777,246.2 L778,246.2 L779,246.2 L780,246.2 L781,246.2 L782,246.2 L783,246.2 L784,246.2 L785,246.2 L786,246.2 L786,246.6 L785,246.6 L784,246.6 L783,246.6 L782,246.6 L781,246.6 L780,246.6 L779,246.6 L778,246.6 L777,246.6 L776,246.6 L775,246.6 L774,246.6 L773,246.6 L772,246.6 L771,246.6 L770,246.6 L769,246.6 L768,246.6 L767,246.6 L766,246.6 L765,246.6 L764,246.6 L763,246.6 L762,246.6 L761,246.6 L760,246.6 L759,246.6 L758,246.6 L757,246.6 L756,246.6 L755,246.6 L754,246.6 L753,246.6 L752,246.6 L751,246.6 L750,246.6 L749,246.6 L748,246.6 L747,246.6 L746,246.6 L745,246.6 L744,246.6 L743,246.6 L742,246.6 L741,246.6 L740,246.6 L739,246.6 L738,246.6 L737,246.6 L736,246.6 L735,246.6 L734,246.6 L733,246.6 L732,246.6 L731,246.6 L730,246.6 L729,246.6 L728,246.6 L727,246.6 L726,246.6 L725,246.6 L724,246.6 L723,246.6 L722,246.6 L721,246.6 L720,246.6 L719,246.6 L718,246.6 L717,246.6 L716,246.6 L715,246.6 L714,246.6 L713,246.6 L712,246.6 L711,246.6 L710,246.6 L709,246.6 L708,246.6 L707,246.6 L706,246.6 L705,246.6 L704,246.6 L703,246.6 L702,246.6 L701,246.6 L700,246.6 L699,246.6 L698,246.6 L697,246.6 L696,246.6 L695,246.6 L694,246.6 L693,246.6 L692,246.6 L691,246.6 L690,246.6 L689,246.6 L688,246.6 L687,246.6 L686,246.6 L685,246.6 L684,246.6 L683,246.6 L682,246.6 L681,246.6 L680,246.6 L679,246.6 L678,246.6 L677,246.6 L676,246.6 L675,246.6 L674,246.6 L673,246.6 L672,246.6 L671,246.6 L670,246.6 L669,246.6 L668,246.6 L667,246.6 L666,246.6 L665,246.6 L664,246.6 L663,246.6 L662,246.6 L661,246.6 L660,246.6 L659,246.6 L658,246.6 L657,246.6 L656,246.6 L655,246.6 L654,246.6 L653,246.6 L652,246.6 L651,246.6 L650,246.6 L649,246.6 L648,246.6 L647,246.6 L646,246.6 L645,246.6 L644,246.6 L643,246.6 L642,246.6 L641,246.6 L640,246.6 L639,246.6 L638,246.6 L637,246.6 L636,246.6 L635,246.6 L634,246.6 L633,246.6 L632,246.6 L631,246.6 L630,246.6 L629,246.6 L628,246.6 L627,246.6 L626,246.6 L625,246.6 L624,246.6 L623,246.6 L622,246.6 L621,246.6 L620,246.6 L619,246.6 L618,246.6 L617,246.6 L616,246.6 L615,246.6 L614,246.6 L613,246.6 L612,246.6 L611,246.6 L610,246.6 L609,246.6 L608,246.6 L607,246.6 L606,246.6 L605,246.6 L604,246.6 L603,246.6 L602,246.6 L601,246.6 L600,246.6 L599,246.6 L598,246.6 L597,246.6 L596,246.6 L595,246.6 L594,246.6 L593,246.6 L592,246.6 L591,246.6 L590,246.6 L589,246.6 L588,246.6 L587,246.6 L586,246.6 L585,246.6 L584,246.6 L583,246.6 L582,246.6 L581,246.6 L580,246.6 L579,246.6 L578,246.6 L577,246.6 L576,246.6 L575,246.6 L574,246.6 L573,246.6 L572,246.6 L571,246.6 L570,246.6 L569,246.6 L568,246.6 L567,246.6 L566,246.6 L565,246.6 L564,246.6 L563,246.6 L562,246.6 L561,246.6 L560,246.6 L559,246.6 L558,246.6 L557,246.6 L556,246.6 L555,246.6 L554,246.6 L553,246.6 L552,246.6 L551,246.6 L550,246.6 L549,246.6 L548,246.6 L547,246.6 L546,246.6 L545,246.6 L544,246.6 L543,246.6 L542,246.6 L541,246.6 L540,246.6 L539,246.6 L538,246.6 L537,246.6 L536,246.6 L535,246.6 L534,246.6 L533,246.6 L532,246.6 L531,246.6 L530,246.6 L529,246.6 L528,246.6 L527,246.6 L526,246.6 L525,246.6 L524,246.6 L523,246.6 L522,246.6 L521,246.6 L520,246.6 L519,246.6 L518,246.6 L517,246.6 L516,246.6 L515,246.6 L514,246.6 L513,246.6 L512,246.6 L511,246.6 L510,246.6 L509,246.6 L508,246.6 L507,246.6 L506,246.6 L505,246.6 L504,246.6 L503,246.6 L502,246.6 L501,246.6 L500,246.6 L499,246.6 L498,246.6 L497,246.6 L496,246.6 L495,246.6 L494,246.6 L493,246.6 L492,246.6 L491,246.6 L490,246.6 L489,246.6 L488,246.6 L487,246.6 L486,246.6 L485,246.6 L484,246.6 L483,246.6 L482,246.6 L481,246.6 L480,246.6 L479,246.6 L478,246.6 L477,246.6 L476,246.6 L475,246.6 L474,246.6 L473,246.6 L472,246.6 L471,246.6 L470,246.6 L469,246.6 L468,246.6 L467,246.6 L466,246.6 L465,246.6 L464,246.6 L463,246.6 L462,246.6 L461,246.6 L460,246.6 L459,246.6 L458,246.6 L457,246.6 L456,246.6 L455,246.6 L454,246.6 L453,246.6 L452,246.6 L451,246.6 L450,246.6 L449,246.6 L448,246.6 L447,246.6 L446,246.6 L445,246.6 L444,246.6 L443,246.6 L442,246.6 L441,246.6 L440,246.6 L439,246.6 L438,246.6 L437,246.6 L436,246.6 L435,246.6 L434,246.6 L433,246.6 L432,246.6 L431,246.6 L430,246.6 L429,246.6 L428,246.6 L427,246.6 L426,246.6 L425,246.6 L424,246.6 L423,246.6 L422,246.6 L421,246.6 L420,246.6 L419,246.6 L418,246.6 L417,246.6 L416,246.6 L415,246.6 L414,246.6 L413,246.6 L412,246.6 L411,246.6 L410,246.6 L409,246.6 L408,246.6 L407,246.6 L406,246.6 L405,246.6 L404,246.6 L403,246.6 L402,246.6 L401,246.6 L400,246.6 L399,246.6 L398,246.6 L397,246.6 L396,246.6 L395,246.6 L394,246.6 L393,246.6 L392,246.6 L391,246.6 L390,246.6 L389,246.6 L388,246.6 L387,246.6 L386,246.6 L385,246.6 L384,246.6 L383,246.6 L382,246.6 L381,246.6 L380,246.6 L379,246.6 L378,246.6 L377,246.6 L376,246.6 L375,246.6 L374,246.6 L373,246.6 L372,246.6 L371,246.6 L370,246.6 L369,246.6 L368,246.6 L367,246.6 L366,246.6 L365,246.6 L364,246.6 L363,246.6 L362,246.6 L361,246.6 L360,246.6 L359,246.6 L358,246.6 L357,246.6 L356,246.6 L355,246.6 L354,246.6 L353,246.6 L352,246.6 L351,246.6 L350,246.6 L349,246.6 L348,246.6 L347,246.6 L346,246.6 L345,246.6 L344,246.6 L343,246.6 L342,246.6 L341,246.6 L340,246.6 L339,246.6 L338,246.6 L337,246.6 L336,246.6 L335,246.6 L334,246.6 L333,246.6 L332,246.6 L331,246.6 L330,246.6 L329,246.6 L328,246.6 L327,246.6 L326,246.6 L325,246.6 L324,246.6 L323,246.6 L322,246.6 L321,246.6 L320,246.6 L319,246.6 L318,246.6 L317,246.6 L316,246.6 L315,246.6 L314,246.6 L313,246.6 L312,246.6 L311,246.6 L310,246.6 L309,246.6 L308,246.6 L307,246.6 L306,246.6 L305,246.6 L304,246.6 L303,246.6 L302,246.6 L301,246.6 L300,246.6 L299,246.6 L298,246.6 L297,246.6 L296,246.6 L295,246.6 L294,246.6 L293,246.6 L292,246.6 L291,246.6 L290,246.6 L289,246.6 L288,246.6 L287,246.6 L286,246.6 L285,246.6 L284,246.6 L283,246.6 L282,246.6 L281,246.6 L280,246.6 L279,246.6 L278,246.6 L277,246.6 L276,246.6 L275,246.6 L274,246.6 L273,246.6 L272,246.6 L271,246.6 L270,246.6 L269,246.6 L268,246.6 L267,246.6 L266,246.6 L265,246.6 L264,246.6 L263,246.6 L262,246.6 L261,246.6 L260,246.6 L259,246.6 L258,246.6 L257,246.6 L256,246.6 L255,246.6 L254,246.6 L253,246.6 L252,246.6 L251,246.6 L250,246.6 L249,246.6 L248,246.6 L247,246.6 L246,246.6 L245,246.6 L244,246.6 L243,246.6 L242,246.6 L241,246.6 L240,246.6 L239,246.6 L238,246.6 L237,246.6 L236,246.6 L235,246.6 L234,246.6 L233,246.6 L232,246.6 L231,246.6 L230,246.6 L229,246.6 L228,246.6 L227,246.6 L226,246.6 L225,246.6 L224,246.6 L223,246.6 L222,246.6 L221,246.6 L220,246.6 L219,246.6 L218,246.6 L217,246.6 L216,246.6 L215,246.6 L214,246.6 L213,246.6 L212,246.6 L211,246.6 L210,246.6 L209,246.6 L208,246.6 L207,246.6 L206,246.6 L205,246.6 L204,246.6 L203,246.6 L202,246.6 L201,246.6 L200,246.6 L199,246.6 L198,246.6 L197,246.6 L196,246.6 L195,246.6 L194,246.6 L193,246.6 L192,246.6 L191,246.6 L190,246.6 L189,246.6 L188,246.6 L187,246.6 L186,246.6 L185,246.6 L184,246.6 L183,246.6 L182,246.6 L181,246.6 L180,246.6 L179,246.6 L178,246.6 L177,246.6 L176,246.6 L175,246.6 L174,246.6 L173,246.6 L172,246.6 L171,246.6 L170,246.6 L169,246.6 L168,246.6 L167,246.6 L166,246.6 L165,246.6 L164,246.6 L163,246.6 L162,246.6 L161,246.6 L160,246.6 L159,246.6 L158,246.6 L157,246.6 L156,246.6 L155,246.6 L154,246.6 L153,246.6 L152,246.6 L151,246.6 L150,246.6 L149,246.6 L148,246.6 L147,246.6 L146,246.6 L145,246.6 L144,246.6 L143,246.6 L142,246.6 L141,246.6 L140,246.6 L139,246.6 L138,246.6 L137,246.6 L136,246.6 L135,246.6 L134,246.6 L133,246.6 L132,246.6 L131,246.6 L130,246.6 L129,246.6 L128,246.6 L127,246.6 L126,246.6 L125,246.6 L124,246.6 L123,246.6 L122,246.6 L121,246.6 L120,246.6 L119,246.6 L118,246.6 L117,246.6 L116,246.6 L115,246.6 L114,246.6 L113,246.6 L112,246.6 L111,246.6 L110,246.6 L109,246.6 L108,246.6 L107,246.6 L106,246.6 L105,246.6 L104,246.6 L103,246.6 L102,246.6 L101,246.6 L100,246.6 L99,246.6 L98,246.6 L97,246.6 L96,246.6 L95,246.6 L94,246.6 L93,246.6 L92,246.6 L91,246.6 L90,246.6 L89,246.6 L88,246.6 L87,246.6 L86,246.6 L85,246.6 L84,246.6 L83,246.6 L82,246.6 L81,246.6 L80,246.6 L79,246.6 L78,246.6 L77,246.6 L76,246.6 L75,246.6 L74,246.6 L73,246.6 L72,246.6 L71,246.6 L70,246.6 L69,246.6 L68,246.6 L67,246.6 L66,246.6 L65,246.6 L64,246.6 L63,246.6 L62,246.6 L61,246.6 L60,246.6 L59,246.6 L58,246.6 L57,246.6 L56,246.6 L55,246.6 L54,246.6 L53,246.6 L52,246.6 L51,246.6 L50,246.6 L49,246.6 L48,246.6 L47,246.6 L46,246.6 L45,246.6 L44,246.6 L43,246.6 L42,246.6 L41,246.6 L40,246.6 L39,246.6 L38,246.6 L37,246.6 L36,246.6 L35,246.6 L34,246.6 L33,246.6 L32,246.6 L31,246.6 L30,246.6Z"/></clipPath><clipPath id="GAP"><path d="M30,295 L31,294.9 L32,294.8 L33,294.6 L34,294.5 L35,294.4 L36,294.3 L37,294.1 L38,294 L39,293.9 L40,293.8 L41,293.7 L42,293.5 L43,293.4 L44,293.3 L45,293.2 L46,293.1 L47,292.9 L48,292.8 L49,292.7 L50,292.6 L51,292.4 L52,292.3 L53,292.2 L54,292.1 L55,292 L56,291.8 L57,291.7 L58,291.6 L59,291.5 L60,291.3 L61,291.2 L62,291.1 L63,291 L64,290.9 L65,290.7 L66,290.6 L67,290.5 L68,290.4 L69,290.2 L70,290.1 L71,290 L72,289.9 L73,289.8 L74,289.6 L75,289.5 L76,289.4 L77,289.3 L78,289.2 L79,289 L80,288.9 L81,288.8 L82,288.7 L83,288.5 L84,288.4 L85,288.3 L86,288.2 L87,288.1 L88,287.9 L89,287.8 L90,287.7 L91,287.6 L92,287.4 L93,287.3 L94,287.2 L95,287.1 L96,287 L97,286.8 L98,286.7 L99,286.6 L100,286.5 L101,286.4 L102,286.2 L103,286.1 L104,286 L105,285.9 L106,285.7 L107,285.6 L108,285.5 L109,285.4 L110,285.3 L111,285.1 L112,285 L113,284.9 L114,284.8 L115,284.6 L116,284.5 L117,284.4 L118,284.3 L119,284.2 L120,284 L121,283.9 L122,283.8 L123,283.7 L124,283.6 L125,283.4 L126,283.3 L127,283.2 L128,283.1 L129,282.9 L130,282.8 L131,282.7 L132,282.6 L133,282.5 L134,282.3 L135,282.2 L136,282.1 L137,282 L138,281.8 L139,281.7 L140,281.6 L141,281.5 L142,281.4 L143,281.2 L144,281.1 L145,281 L146,280.9 L147,280.7 L148,280.6 L149,280.5 L150,280.4 L151,280.3 L152,280.1 L153,280 L154,279.9 L155,279.8 L156,279.7 L157,279.5 L158,279.4 L159,279.3 L160,279.2 L161,279 L162,278.9 L163,278.8 L164,278.7 L165,278.6 L166,278.4 L167,278.3 L168,278.2 L169,278.1 L170,277.9 L171,277.8 L172,277.7 L173,277.6 L174,277.5 L175,277.3 L176,277.2 L177,277.1 L178,277 L179,276.9 L180,276.7 L181,276.6 L182,276.5 L183,276.4 L184,276.2 L185,276.1 L186,276 L187,275.9 L188,275.8 L189,275.6 L190,275.5 L191,275.4 L192,275.3 L193,275.1 L194,275 L195,274.9 L196,274.8 L197,274.7 L198,274.5 L199,274.4 L200,274.3 L201,274.2 L202,274.1 L203,273.9 L204,273.8 L205,273.7 L206,273.6 L207,273.4 L208,273.3 L209,273.2 L210,273.1 L211,273 L212,272.8 L213,272.7 L214,272.6 L215,272.5 L216,272.3 L217,272.2 L218,272.1 L219,272 L220,271.9 L221,271.7 L222,271.6 L223,271.5 L224,271.4 L225,271.2 L226,271.1 L227,271 L228,270.9 L229,270.8 L230,270.6 L231,270.5 L232,270.4 L233,270.3 L234,270.2 L235,270 L236,269.9 L237,269.8 L238,269.7 L239,269.5 L240,269.4 L241,269.3 L242,269.2 L243,269.1 L244,268.9 L245,268.8 L246,268.7 L247,268.6 L248,268.4 L249,268.3 L250,268.2 L251,268.1 L252,268 L253,267.8 L254,267.7 L255,267.6 L256,267.5 L257,267.4 L258,267.2 L259,267.1 L260,267 L261,266.9 L262,266.7 L263,266.6 L264,266.5 L265,266.4 L266,266.3 L267,266.1 L268,266 L269,265.9 L270,265.8 L271,265.7 L272,265.5 L273,265.4 L274,265.3 L275,265.2 L276,265 L277,264.9 L278,264.8 L279,264.7 L280,264.6 L281,264.4 L282,264.3 L283,264.2 L284,264.1 L285,264 L286,263.8 L287,263.7 L288,263.6 L289,263.5 L290,263.3 L291,263.2 L292,263.1 L293,263 L294,262.9 L295,262.7 L296,262.6 L297,262.5 L298,262.4 L299,262.3 L300,262.1 L301,262 L302,261.9 L303,261.8 L304,261.6 L305,261.5 L306,261.4 L307,261.3 L308,261.2 L309,261 L310,260.9 L311,260.8 L312,260.7 L313,260.6 L314,260.4 L315,260.3 L316,260.2 L317,260.1 L318,260 L319,259.8 L320,259.7 L321,259.6 L322,259.5 L323,259.4 L324,259.2 L325,259.1 L326,259 L327,258.9 L328,258.8 L329,258.6 L330,258.5 L331,258.4 L332,258.3 L333,258.2 L334,258 L335,257.9 L336,257.8 L337,257.7 L338,257.6 L339,257.4 L340,257.3 L341,257.2 L342,257.1 L343,257 L344,256.9 L344,257.1 L343,257.2 L342,257.4 L341,257.5 L340,257.6 L339,257.7 L338,257.9 L337,258 L336,258.1 L335,258.2 L334,258.3 L333,258.5 L332,258.6 L331,258.7 L330,258.8 L329,259 L328,259.1 L327,259.2 L326,259.3 L325,259.5 L324,259.6 L323,259.7 L322,259.8 L321,260 L320,260.1 L319,260.2 L318,260.3 L317,260.5 L316,260.6 L315,260.7 L314,260.9 L313,261 L312,261.1 L311,261.2 L310,261.4 L309,261.5 L308,261.6 L307,261.7 L306,261.9 L305,262 L304,262.1 L303,262.3 L302,262.4 L301,262.5 L300,262.6 L299,262.8 L298,262.9 L297,263 L296,263.2 L295,263.3 L294,263.4 L293,263.5 L292,263.7 L291,263.8 L290,263.9 L289,264.1 L288,264.2 L287,264.3 L286,264.5 L285,264.6 L284,264.7 L283,264.9 L282,265 L281,265.1 L280,265.2 L279,265.4 L278,265.5 L277,265.6 L276,265.8 L275,265.9 L274,266 L273,266.2 L272,266.3 L271,266.4 L270,266.6 L269,266.7 L268,266.8 L267,267 L266,267.1 L265,267.2 L264,267.4 L263,267.5 L262,267.6 L261,267.8 L260,267.9 L259,268.1 L258,268.2 L257,268.3 L256,268.5 L255,268.6 L254,268.7 L253,268.9 L252,269 L251,269.1 L250,269.3 L249,269.4 L248,269.6 L247,269.7 L246,269.8 L245,270 L244,270.1 L243,270.3 L242,270.4 L241,270.5 L240,270.7 L239,270.8 L238,271 L237,271.1 L236,271.2 L235,271.4 L234,271.5 L233,271.7 L232,271.8 L231,271.9 L230,272.1 L229,272.2 L228,272.4 L227,272.5 L226,272.7 L225,272.8 L224,272.9 L223,273.1 L222,273.2 L221,273.4 L220,273.5 L219,273.7 L218,273.8 L217,274 L216,274.1 L215,274.3 L214,274.4 L213,274.6 L212,274.7 L211,274.9 L210,275 L209,275.2 L208,275.3 L207,275.5 L206,275.6 L205,275.8 L204,275.9 L203,276.1 L202,276.2 L201,276.4 L200,276.5 L199,276.7 L198,276.9 L197,277 L196,277.2 L195,277.3 L194,277.5 L193,277.6 L192,277.8 L191,278 L190,278.1 L189,278.3 L188,278.4 L187,278.6 L186,278.8 L185,278.9 L184,279.1 L183,279.2 L182,279.4 L181,279.6 L180,279.7 L179,279.9 L178,280.1 L177,280.2 L176,280.4 L175,280.6 L174,280.7 L173,280.9 L172,281.1 L171,281.3 L170,281.4 L169,281.6 L168,281.8 L167,282 L166,282.1 L165,282.3 L164,282.5 L163,282.7 L162,282.8 L161,283 L160,283.2 L159,283.4 L158,283.6 L157,283.7 L156,283.9 L155,284.1 L154,284.3 L153,284.5 L152,284.7 L151,284.9 L150,285 L149,285.2 L148,285.4 L147,285.6 L146,285.8 L145,286 L144,286.2 L143,286.4 L142,286.6 L141,286.8 L140,287 L139,287.2 L138,287.4 L137,287.6 L136,287.8 L135,288 L134,288.2 L133,288.4 L132,288.6 L131,288.8 L130,289 L129,289.2 L128,289.4 L127,289.7 L126,289.9 L125,290.1 L124,290.3 L123,290.5 L122,290.7 L121,291 L120,291.2 L119,291.4 L118,291.6 L117,291.9 L116,292.1 L115,292.3 L114,292.6 L113,292.8 L112,293 L111,293.3 L110,293.5 L109,293.7 L108,294 L107,294.2 L106,294.5 L105,294.7 L104,294.9 L103,295.2 L102,295.4 L101,295.7 L100,295.9 L99,296.2 L98,296.5 L97,296.7 L96,297 L95,297.2 L94,297.5 L93,297.8 L92,298 L91,298.3 L90,298.6 L89,298.8 L88,299.1 L87,299.4 L86,299.7 L85,300 L84,300.2 L83,300.5 L82,300.8 L81,301.1 L80,301.4 L79,301.7 L78,302 L77,302.3 L76,302.6 L75,302.9 L74,303.2 L73,303.5 L72,303.8 L71,304.1 L70,304.4 L69,304.7 L68,305.1 L67,305.4 L66,305.7 L65,306 L64,306.4 L63,306.7 L62,307 L61,307.3 L60,307.7 L59,308 L58,308.4 L57,308.7 L56,309.1 L55,309.4 L54,309.8 L53,310.1 L52,310.5 L51,310.8 L50,311.2 L49,311.6 L48,311.9 L47,312.3 L46,312.7 L45,313.1 L44,313.4 L43,313.8 L42,314.2 L41,314.6 L40,315 L39,315.4 L38,315.8 L37,316.2 L36,316.6 L35,317 L34,317.4 L33,317.8 L32,318.2 L31,318.7 L30,319.1Z"/></clipPath><clipPath id="S1F5"><path d="M30,246.6 L31,246.6 L32,246.6 L33,246.6 L34,246.6 L35,246.6 L36,246.6 L37,246.6 L38,246.6 L39,246.6 L40,246.6 L41,246.6 L42,246.6 L43,246.6 L44,246.6 L45,246.6 L46,246.6 L47,246.6 L48,246.6 L49,246.6 L50,246.6 L51,246.6 L52,246.6 L53,246.6 L54,246.6 L55,246.6 L56,246.6 L57,246.6 L58,246.6 L59,246.6 L60,246.6 L61,246.6 L62,246.6 L63,246.6 L64,246.6 L65,246.6 L66,246.6 L67,246.6 L68,246.6 L69,246.6 L70,246.6 L71,246.6 L72,246.6 L73,246.6 L74,246.6 L75,246.6 L76,246.6 L77,246.6 L78,246.6 L79,246.6 L80,246.6 L81,246.6 L82,246.6 L83,246.6 L84,246.6 L85,246.6 L86,246.6 L87,246.6 L88,246.6 L89,246.6 L90,246.6 L91,246.6 L92,246.6 L93,246.6 L94,246.6 L95,246.6 L96,246.6 L97,246.6 L98,246.6 L99,246.6 L100,246.6 L101,246.6 L102,246.6 L103,246.6 L104,246.6 L105,246.6 L106,246.6 L107,246.6 L108,246.6 L109,246.6 L110,246.6 L111,246.6 L112,246.6 L113,246.6 L114,246.6 L115,246.6 L116,246.6 L117,246.6 L118,246.6 L119,246.6 L120,246.6 L121,246.6 L122,246.6 L123,246.6 L124,246.6 L125,246.6 L126,246.6 L127,246.6 L128,246.6 L129,246.6 L130,246.6 L131,246.6 L132,246.6 L133,246.6 L134,246.6 L135,246.6 L136,246.6 L137,246.6 L138,246.6 L139,246.6 L140,246.6 L141,246.6 L142,246.6 L143,246.6 L144,246.6 L145,246.6 L146,246.6 L147,246.6 L148,246.6 L149,246.6 L150,246.6 L151,246.6 L152,246.6 L153,246.6 L154,246.6 L155,246.6 L156,246.6 L157,246.6 L158,246.6 L159,246.6 L160,246.6 L161,246.6 L162,246.6 L163,246.6 L164,246.6 L165,246.6 L166,246.6 L167,246.6 L168,246.6 L169,246.6 L170,246.6 L171,246.6 L172,246.6 L173,246.6 L174,246.6 L175,246.6 L176,246.6 L177,246.6 L178,246.6 L179,246.6 L180,246.6 L181,246.6 L182,246.6 L183,246.6 L184,246.6 L185,246.6 L186,246.6 L187,246.6 L188,246.6 L189,246.6 L190,246.6 L191,246.6 L192,246.6 L193,246.6 L194,246.6 L195,246.6 L196,246.6 L197,246.6 L198,246.6 L199,246.6 L200,246.6 L201,246.6 L202,246.6 L203,246.6 L204,246.6 L205,246.6 L206,246.6 L207,246.6 L208,246.6 L209,246.6 L210,246.6 L211,246.6 L212,246.6 L213,246.6 L214,246.6 L215,246.6 L216,246.6 L217,246.6 L218,246.6 L219,246.6 L220,246.6 L221,246.6 L222,246.6 L223,246.6 L224,246.6 L225,246.6 L226,246.6 L227,246.6 L228,246.6 L229,246.6 L230,246.6 L231,246.6 L232,246.6 L233,246.6 L234,246.6 L235,246.6 L236,246.6 L237,246.6 L238,246.6 L239,246.6 L240,246.6 L241,246.6 L242,246.6 L243,246.6 L244,246.6 L245,246.6 L246,246.6 L247,246.6 L248,246.6 L249,246.6 L250,246.6 L251,246.6 L252,246.6 L253,246.6 L254,246.6 L255,246.6 L256,246.6 L257,246.6 L258,246.6 L259,246.6 L260,246.6 L261,246.6 L262,246.6 L263,246.6 L264,246.6 L265,246.6 L266,246.6 L267,246.6 L268,246.6 L269,246.6 L270,246.6 L271,246.6 L272,246.6 L273,246.6 L274,246.6 L275,246.6 L276,246.6 L277,246.6 L278,246.6 L279,246.6 L280,246.6 L281,246.6 L282,246.6 L283,246.6 L284,246.6 L285,246.6 L286,246.6 L287,246.6 L288,246.6 L289,246.6 L290,246.6 L291,246.6 L292,246.6 L293,246.6 L294,246.6 L295,246.6 L296,246.6 L297,246.6 L298,246.6 L299,246.6 L300,246.6 L301,246.6 L302,246.6 L303,246.6 L304,246.6 L305,246.6 L306,246.6 L307,246.6 L308,246.6 L309,246.6 L310,246.6 L311,246.6 L312,246.6 L313,246.6 L314,246.6 L315,246.6 L316,246.6 L317,246.6 L318,246.6 L319,246.6 L320,246.6 L321,246.6 L322,246.6 L323,246.6 L324,246.6 L325,246.6 L326,246.6 L327,246.6 L328,246.6 L329,246.6 L330,246.6 L331,246.6 L332,246.6 L333,246.6 L334,246.6 L335,246.6 L336,246.6 L337,246.6 L338,246.6 L339,246.6 L340,246.6 L341,246.6 L342,246.6 L343,246.6 L344,246.6 L345,246.6 L346,246.6 L347,246.6 L348,246.6 L349,246.6 L350,246.6 L351,246.6 L352,246.6 L353,246.6 L354,246.6 L355,246.6 L356,246.6 L357,246.6 L358,246.6 L359,246.6 L360,246.6 L361,246.6 L362,246.6 L363,246.6 L364,246.6 L365,246.6 L366,246.6 L367,246.6 L368,246.6 L369,246.6 L370,246.6 L371,246.6 L372,246.6 L373,246.6 L374,246.6 L375,246.6 L376,246.6 L377,246.6 L378,246.6 L379,246.6 L380,246.6 L381,246.6 L382,246.6 L383,246.6 L384,246.6 L385,246.6 L386,246.6 L387,246.6 L388,246.6 L389,246.6 L390,246.6 L391,246.6 L392,246.6 L393,246.6 L394,246.6 L395,246.6 L396,246.6 L397,246.6 L398,246.6 L399,246.6 L400,246.6 L401,246.6 L402,246.6 L403,246.6 L404,246.6 L405,246.6 L406,246.6 L407,246.6 L408,246.6 L409,246.6 L410,246.6 L411,246.6 L412,246.6 L413,246.6 L414,246.6 L415,246.6 L416,246.6 L417,246.6 L418,246.6 L419,246.6 L420,246.6 L421,246.6 L422,246.6 L423,246.6 L424,246.6 L425,246.6 L426,246.6 L427,246.6 L428,246.6 L429,246.6 L430,246.6 L431,246.6 L432,246.6 L433,246.6 L434,246.6 L435,246.6 L436,246.6 L437,246.6 L438,246.6 L439,246.6 L440,246.6 L441,246.6 L442,246.6 L443,246.6 L444,246.6 L445,246.6 L446,246.6 L447,246.6 L448,246.6 L449,246.6 L450,246.6 L451,246.6 L452,246.6 L453,246.6 L454,246.6 L455,246.6 L456,246.6 L457,246.6 L458,246.6 L459,246.6 L460,246.6 L461,246.6 L462,246.6 L463,246.6 L464,246.6 L465,246.6 L466,246.6 L467,246.6 L468,246.6 L469,246.6 L469,247 L468,247 L467,247 L466,247 L465,247 L464,247 L463,247 L462,247 L461,247 L460,247 L459,247 L458,247 L457,247 L456,247 L455,247 L454,247 L453,247 L452,247 L451,247 L450,247 L449,247 L448,247 L447,247 L446,247 L445,247 L444,247 L443,247.1 L442,247.1 L441,247.1 L440,247.1 L439,247.1 L438,247.1 L437,247.1 L436,247.1 L435,247.1 L434,247.1 L433,247.1 L432,247.1 L431,247.1 L430,247.1 L429,247.1 L428,247.1 L427,247.1 L426,247.1 L425,247.1 L424,247.1 L423,247.2 L422,247.2 L421,247.2 L420,247.2 L419,247.2 L418,247.2 L417,247.2 L416,247.2 L415,247.2 L414,247.2 L413,247.2 L412,247.2 L411,247.2 L410,247.2 L409,247.2 L408,247.3 L407,247.3 L406,247.3 L405,247.3 L404,247.3 L403,247.3 L402,247.3 L401,247.3 L400,247.3 L399,247.3 L398,247.3 L397,247.3 L396,247.3 L395,247.4 L394,247.4 L393,247.4 L392,247.4 L391,247.4 L390,247.4 L389,247.4 L388,247.4 L387,247.4 L386,247.4 L385,247.4 L384,247.5 L383,247.5 L382,247.5 L381,247.5 L380,247.5 L379,247.5 L378,247.5 L377,247.5 L376,247.5 L375,247.6 L374,247.6 L373,247.6 L372,247.6 L371,247.6 L370,247.6 L369,247.6 L368,247.6 L367,247.6 L366,247.7 L365,247.7 L364,247.7 L363,247.7 L362,247.7 L361,247.7 L360,247.7 L359,247.8 L358,247.8 L357,247.8 L356,247.8 L355,247.8 L354,247.8 L353,247.9 L352,247.9 L351,247.9 L350,247.9 L349,247.9 L348,247.9 L347,248 L346,248 L345,248 L344,248 L343,248 L342,248.1 L341,248.1 L340,248.1 L339,248.1 L338,248.1 L337,248.2 L336,248.2 L335,248.2 L334,248.2 L333,248.3 L332,248.3 L331,248.3 L330,248.3 L329,248.4 L328,248.4 L327,248.4 L326,248.4 L325,248.5 L324,248.5 L323,248.5 L322,248.6 L321,248.6 L320,248.6 L319,248.6 L318,248.7 L317,248.7 L316,248.7 L315,248.8 L314,248.8 L313,248.9 L312,248.9 L311,248.9 L310,249 L309,249 L308,249 L307,249.1 L306,249.1 L305,249.2 L304,249.2 L303,249.3 L302,249.3 L301,249.4 L300,249.4 L299,249.5 L298,249.5 L297,249.6 L296,249.6 L295,249.7 L294,249.7 L293,249.8 L292,249.9 L291,249.9 L290,250 L289,250 L288,250.1 L287,250.2 L286,250.3 L285,250.3 L284,250.4 L283,250.5 L282,250.6 L281,250.6 L280,250.7 L279,250.8 L278,250.9 L277,251 L276,251.1 L275,251.2 L274,251.3 L273,251.4 L272,251.5 L271,251.6 L270,251.7 L269,251.8 L268,252 L267,252.1 L266,252.2 L265,252.4 L264,252.5 L263,252.6 L262,252.8 L261,252.9 L260,253.1 L259,253.3 L258,253.4 L257,253.6 L256,253.8 L255,254 L254,254.2 L253,254.4 L252,254.6 L251,254.8 L250,255.1 L249,255.3 L248,255.6 L247,255.8 L246,256.1 L245,256.4 L244,256.7 L243,257 L242,257.3 L241,257.7 L240,258 L239,258.4 L238,258.8 L237,259.2 L236,259.6 L235,260 L234,260.5 L233,261 L232,261.5 L231,262 L230,262.6 L229,263.2 L228,263.8 L227,264.5 L226,265.2 L225,265.9 L224,266.6 L223,267.4 L222,268.3 L221,269.2 L220,270.1 L219,271.1 L218,272.2 L217,273.3 L216,274.5 L215,275.7 L214,277 L213,278.4 L212,279.8 L211,281.4 L210,283 L209,284.7 L208,286.5 L207,288.5 L206,290.5 L205,292.6 L204,294.8 L203,297.1 L202,299.5 L201,302 L200,304.6 L199,307.3 L198,310 L197,312.8 L196,315.6 L195,318.4 L194,321.2 L193,323.9 L192,326.4 L191,328.8 L190,330.9 L189,332.8 L188,334.3 L187,335.4 L186,336.2 L185,336.4 L184,336.2 L183,335.6 L182,334.6 L181,333.1 L180,331.3 L179,329.2 L178,326.9 L177,324.4 L176,321.7 L175,319 L174,316.2 L173,313.4 L172,310.6 L171,307.8 L170,305.1 L169,302.5 L168,300 L167,297.6 L166,295.2 L165,293 L164,290.9 L163,288.8 L162,286.9 L161,285.1 L160,283.3 L159,281.7 L158,280.1 L157,278.7 L156,277.3 L155,275.9 L154,274.7 L153,273.5 L152,272.4 L151,271.3 L150,270.3 L149,269.4 L148,268.5 L147,267.6 L146,266.8 L145,266 L144,265.3 L143,264.6 L142,263.9 L141,263.3 L140,262.7 L139,262.1 L138,261.6 L137,261.1 L136,260.6 L135,260.1 L134,259.7 L133,259.3 L132,258.9 L131,258.5 L130,258.1 L129,257.7 L128,257.4 L127,257.1 L126,256.8 L125,256.5 L124,256.2 L123,255.9 L122,255.6 L121,255.4 L120,255.1 L119,254.9 L118,254.7 L117,254.4 L116,254.2 L115,254 L114,253.8 L113,253.7 L112,253.5 L111,253.3 L110,253.1 L109,253 L108,252.8 L107,252.7 L106,252.5 L105,252.4 L104,252.2 L103,252.1 L102,252 L101,251.9 L100,251.7 L99,251.6 L98,251.5 L97,251.4 L96,251.3 L95,251.2 L94,251.1 L93,251 L92,250.9 L91,250.8 L90,250.7 L89,250.7 L88,250.6 L87,250.5 L86,250.4 L85,250.3 L84,250.3 L83,250.2 L82,250.1 L81,250.1 L80,250 L79,249.9 L78,249.9 L77,249.8 L76,249.7 L75,249.7 L74,249.6 L73,249.6 L72,249.5 L71,249.5 L70,249.4 L69,249.4 L68,249.3 L67,249.3 L66,249.2 L65,249.2 L64,249.1 L63,249.1 L62,249.1 L61,249 L60,249 L59,248.9 L58,248.9 L57,248.9 L56,248.8 L55,248.8 L54,248.8 L53,248.7 L52,248.7 L51,248.7 L50,248.6 L49,248.6 L48,248.6 L47,248.5 L46,248.5 L45,248.5 L44,248.4 L43,248.4 L42,248.4 L41,248.4 L40,248.3 L39,248.3 L38,248.3 L37,248.3 L36,248.2 L35,248.2 L34,248.2 L33,248.2 L32,248.1 L31,248.1 L30,248.1Z"/></clipPath><clipPath id="S1F6"><path d="M30,246.6 L31,246.6 L32,246.6 L33,246.6 L34,246.6 L35,246.6 L36,246.6 L37,246.6 L38,246.6 L39,246.6 L40,246.6 L41,246.6 L42,246.6 L43,246.6 L44,246.6 L45,246.6 L46,246.6 L47,246.6 L48,246.6 L49,246.6 L50,246.6 L51,246.6 L52,246.6 L53,246.6 L54,246.6 L55,246.6 L56,246.6 L57,246.6 L58,246.6 L59,246.6 L60,246.6 L61,246.6 L62,246.6 L63,246.6 L64,246.6 L65,246.6 L66,246.6 L67,246.6 L68,246.6 L69,246.6 L70,246.6 L71,246.6 L72,246.6 L73,246.6 L74,246.6 L75,246.6 L76,246.6 L77,246.6 L78,246.6 L79,246.6 L80,246.6 L81,246.6 L82,246.6 L83,246.6 L84,246.6 L85,246.6 L86,246.6 L87,246.6 L88,246.6 L89,246.6 L90,246.6 L91,246.6 L92,246.6 L93,246.6 L94,246.6 L95,246.6 L96,246.6 L97,246.6 L98,246.6 L99,246.6 L100,246.6 L101,246.6 L102,246.6 L103,246.6 L104,246.6 L105,246.6 L106,246.6 L107,246.6 L108,246.6 L109,246.6 L110,246.6 L111,246.6 L112,246.6 L113,246.6 L114,246.6 L115,246.6 L116,246.6 L117,246.6 L118,246.6 L119,246.6 L120,246.6 L121,246.6 L122,246.6 L123,246.6 L124,246.6 L125,246.6 L126,246.6 L127,246.6 L128,246.6 L129,246.6 L130,246.6 L131,246.6 L132,246.6 L133,246.6 L134,246.6 L135,246.6 L136,246.6 L137,246.6 L138,246.6 L139,246.6 L140,246.6 L141,246.6 L142,246.6 L143,246.6 L144,246.6 L145,246.6 L146,246.6 L147,246.6 L148,246.6 L149,246.6 L150,246.6 L151,246.6 L152,246.6 L153,246.6 L154,246.6 L155,246.6 L156,246.6 L157,246.6 L158,246.6 L159,246.6 L160,246.6 L161,246.6 L162,246.6 L163,246.6 L164,246.6 L165,246.6 L166,246.6 L167,246.6 L168,246.6 L169,246.6 L170,246.6 L171,246.6 L172,246.6 L173,246.6 L174,246.6 L175,246.6 L176,246.6 L177,246.6 L178,246.6 L179,246.6 L180,246.6 L181,246.6 L182,246.6 L183,246.6 L184,246.6 L185,246.6 L186,246.6 L187,246.6 L188,246.6 L189,246.6 L190,246.6 L191,246.6 L192,246.6 L193,246.6 L194,246.6 L195,246.6 L196,246.6 L197,246.6 L198,246.6 L199,246.6 L200,246.6 L201,246.6 L202,246.6 L203,246.6 L204,246.6 L205,246.6 L206,246.6 L207,246.6 L208,246.6 L209,246.6 L210,246.6 L211,246.6 L212,246.6 L213,246.6 L214,246.6 L215,246.6 L216,246.6 L217,246.6 L218,246.6 L219,246.6 L220,246.6 L221,246.6 L222,246.6 L223,246.6 L224,246.6 L225,246.6 L226,246.6 L227,246.6 L228,246.6 L229,246.6 L230,246.6 L231,246.6 L232,246.6 L233,246.6 L234,246.6 L235,246.6 L236,246.6 L237,246.6 L238,246.6 L239,246.6 L240,246.6 L241,246.6 L242,246.6 L243,246.6 L244,246.6 L245,246.6 L246,246.6 L247,246.6 L248,246.6 L249,246.6 L250,246.6 L251,246.6 L252,246.6 L253,246.6 L254,246.6 L255,246.6 L256,246.6 L257,246.6 L258,246.6 L259,246.6 L260,246.6 L261,246.6 L262,246.6 L263,246.6 L264,246.6 L265,246.6 L266,246.6 L267,246.6 L268,246.6 L269,246.6 L270,246.6 L271,246.6 L272,246.6 L273,246.6 L274,246.6 L275,246.6 L276,246.6 L277,246.6 L278,246.6 L279,246.6 L280,246.6 L281,246.6 L282,246.6 L283,246.6 L284,246.6 L285,246.6 L286,246.6 L287,246.6 L288,246.6 L289,246.6 L290,246.6 L291,246.6 L292,246.6 L293,246.6 L294,246.6 L295,246.6 L296,246.6 L297,246.6 L298,246.6 L299,246.6 L300,246.6 L301,246.6 L302,246.6 L303,246.6 L304,246.6 L305,246.6 L306,246.6 L307,246.6 L308,246.6 L309,246.6 L310,246.6 L311,246.6 L312,246.6 L313,246.6 L314,246.6 L315,246.6 L316,246.6 L317,246.6 L318,246.6 L319,246.6 L320,246.6 L321,246.6 L322,246.6 L323,246.6 L324,246.6 L325,246.6 L326,246.6 L327,246.6 L328,246.6 L329,246.6 L330,246.6 L331,246.6 L332,246.6 L333,246.6 L334,246.6 L335,246.6 L336,246.6 L337,246.6 L338,246.6 L339,246.6 L340,246.6 L341,246.6 L342,246.6 L343,246.6 L344,246.6 L345,246.6 L346,246.6 L347,246.6 L348,246.6 L349,246.6 L350,246.6 L351,246.6 L352,246.6 L353,246.6 L354,246.6 L355,246.6 L356,246.6 L357,246.6 L358,246.6 L359,246.6 L360,246.6 L361,246.6 L362,246.6 L363,246.6 L364,246.6 L365,246.6 L366,246.6 L367,246.6 L368,246.6 L369,246.6 L370,246.6 L371,246.6 L372,246.6 L373,246.6 L374,246.6 L375,246.6 L376,246.6 L377,246.6 L378,246.6 L379,246.6 L380,246.6 L381,246.6 L382,246.6 L383,246.6 L384,246.6 L385,246.6 L386,246.6 L387,246.6 L388,246.6 L389,246.6 L390,246.6 L391,246.6 L392,246.6 L393,246.6 L394,246.6 L395,246.6 L396,246.6 L397,246.6 L398,246.6 L399,246.6 L400,246.6 L401,246.6 L402,246.6 L403,246.6 L404,246.6 L405,246.6 L406,246.6 L407,246.6 L408,246.6 L409,246.6 L410,246.6 L411,246.6 L412,246.6 L413,246.6 L414,246.6 L415,246.6 L416,246.6 L417,246.6 L418,246.6 L419,246.6 L420,246.6 L421,246.6 L422,246.6 L423,246.6 L424,246.6 L425,246.6 L426,246.6 L427,246.6 L428,246.6 L429,246.6 L430,246.6 L431,246.6 L432,246.6 L433,246.6 L434,246.6 L435,246.6 L436,246.6 L437,246.6 L438,246.6 L439,246.6 L440,246.6 L441,246.6 L442,246.6 L443,246.6 L444,246.6 L445,246.6 L446,246.6 L447,246.6 L448,246.6 L449,246.6 L450,246.6 L451,246.6 L452,246.6 L453,246.6 L454,246.6 L455,246.6 L456,246.6 L457,246.6 L458,246.6 L459,246.6 L460,246.6 L461,246.6 L462,246.6 L463,246.6 L464,246.6 L465,246.6 L466,246.6 L467,246.6 L468,246.6 L469,246.6 L469,246.9 L468,246.9 L467,246.9 L466,246.9 L465,246.9 L464,246.9 L463,246.9 L462,246.9 L461,246.9 L460,246.9 L459,246.9 L458,246.9 L457,246.9 L456,246.9 L455,246.9 L454,246.9 L453,246.9 L452,246.9 L451,246.9 L450,246.9 L449,246.9 L448,246.9 L447,246.9 L446,246.9 L445,246.9 L444,246.9 L443,246.9 L442,246.9 L441,246.9 L440,246.9 L439,246.9 L438,246.9 L437,246.9 L436,246.9 L435,247 L434,247 L433,247 L432,247 L431,247 L430,247 L429,247 L428,247 L427,247 L426,247 L425,247 L424,247 L423,247 L422,247 L421,247 L420,247 L419,247 L418,247 L417,247 L416,247 L415,247 L414,247 L413,247 L412,247 L411,247 L410,247 L409,247 L408,247.1 L407,247.1 L406,247.1 L405,247.1 L404,247.1 L403,247.1 L402,247.1 L401,247.1 L400,247.1 L399,247.1 L398,247.1 L397,247.1 L396,247.1 L395,247.1 L394,247.1 L393,247.1 L392,247.1 L391,247.1 L390,247.1 L389,247.1 L388,247.1 L387,247.2 L386,247.2 L385,247.2 L384,247.2 L383,247.2 L382,247.2 L381,247.2 L380,247.2 L379,247.2 L378,247.2 L377,247.2 L376,247.2 L375,247.2 L374,247.2 L373,247.2 L372,247.2 L371,247.3 L370,247.3 L369,247.3 L368,247.3 L367,247.3 L366,247.3 L365,247.3 L364,247.3 L363,247.3 L362,247.3 L361,247.3 L360,247.3 L359,247.3 L358,247.3 L357,247.4 L356,247.4 L355,247.4 L354,247.4 L353,247.4 L352,247.4 L351,247.4 L350,247.4 L349,247.4 L348,247.4 L347,247.4 L346,247.4 L345,247.5 L344,247.5 L343,247.5 L342,247.5 L341,247.5 L340,247.5 L339,247.5 L338,247.5 L337,247.5 L336,247.5 L335,247.6 L334,247.6 L333,247.6 L332,247.6 L331,247.6 L330,247.6 L329,247.6 L328,247.6 L327,247.6 L326,247.7 L325,247.7 L324,247.7 L323,247.7 L322,247.7 L321,247.7 L320,247.7 L319,247.7 L318,247.8 L317,247.8 L316,247.8 L315,247.8 L314,247.8 L313,247.8 L312,247.8 L311,247.9 L310,247.9 L309,247.9 L308,247.9 L307,247.9 L306,247.9 L305,248 L304,248 L303,248 L302,248 L301,248 L300,248 L299,248.1 L298,248.1 L297,248.1 L296,248.1 L295,248.1 L294,248.2 L293,248.2 L292,248.2 L291,248.2 L290,248.3 L289,248.3 L288,248.3 L287,248.3 L286,248.3 L285,248.4 L284,248.4 L283,248.4 L282,248.4 L281,248.5 L280,248.5 L279,248.5 L278,248.5 L277,248.6 L276,248.6 L275,248.6 L274,248.7 L273,248.7 L272,248.7 L271,248.8 L270,248.8 L269,248.8 L268,248.8 L267,248.9 L266,248.9 L265,249 L264,249 L263,249 L262,249.1 L261,249.1 L260,249.1 L259,249.2 L258,249.2 L257,249.3 L256,249.3 L255,249.3 L254,249.4 L253,249.4 L252,249.5 L251,249.5 L250,249.6 L249,249.6 L248,249.7 L247,249.7 L246,249.8 L245,249.8 L244,249.9 L243,249.9 L242,250 L241,250.1 L240,250.1 L239,250.2 L238,250.3 L237,250.3 L236,250.4 L235,250.5 L234,250.5 L233,250.6 L232,250.7 L231,250.7 L230,250.8 L229,250.9 L228,251 L227,251.1 L226,251.2 L225,251.3 L224,251.3 L223,251.4 L222,251.5 L221,251.6 L220,251.7 L219,251.9 L218,252 L217,252.1 L216,252.2 L215,252.3 L214,252.4 L213,252.6 L212,252.7 L211,252.8 L210,253 L209,253.1 L208,253.3 L207,253.4 L206,253.6 L205,253.7 L204,253.9 L203,254.1 L202,254.3 L201,254.4 L200,254.6 L199,254.8 L198,255.1 L197,255.3 L196,255.5 L195,255.7 L194,256 L193,256.2 L192,256.5 L191,256.7 L190,257 L189,257.3 L188,257.6 L187,257.9 L186,258.2 L185,258.6 L184,258.9 L183,259.3 L182,259.7 L181,260.1 L180,260.5 L179,260.9 L178,261.4 L177,261.8 L176,262.3 L175,262.8 L174,263.4 L173,263.9 L172,264.5 L171,265.1 L170,265.8 L169,266.5 L168,267.2 L167,267.9 L166,268.7 L165,269.5 L164,270.4 L163,271.3 L162,272.2 L161,273.2 L160,274.3 L159,275.4 L158,276.5 L157,277.7 L156,279 L155,280.4 L154,281.8 L153,283.3 L152,284.8 L151,286.5 L150,288.2 L149,290 L148,291.9 L147,293.9 L146,296 L145,298.1 L144,300.4 L143,302.8 L142,305.2 L141,307.8 L140,310.4 L139,313.1 L138,315.8 L137,318.6 L136,321.4 L135,324.2 L134,326.9 L133,329.6 L132,332.2 L131,334.6 L130,336.9 L129,338.8 L128,340.5 L127,341.9 L126,342.9 L125,343.5 L124,343.6 L123,343.4 L122,342.7 L121,341.6 L120,340.2 L119,338.5 L118,336.4 L117,334.2 L116,331.7 L115,329.1 L114,326.4 L113,323.6 L112,320.8 L111,318 L110,315.3 L109,312.5 L108,309.9 L107,307.3 L106,304.7 L105,302.3 L104,300 L103,297.7 L102,295.5 L101,293.5 L100,291.5 L99,289.6 L98,287.8 L97,286.1 L96,284.5 L95,282.9 L94,281.5 L93,280.1 L92,278.7 L91,277.5 L90,276.3 L89,275.1 L88,274 L87,273 L86,272 L85,271.1 L84,270.2 L83,269.3 L82,268.5 L81,267.8 L80,267 L79,266.3 L78,265.7 L77,265 L76,264.4 L75,263.8 L74,263.3 L73,262.7 L72,262.2 L71,261.7 L70,261.3 L69,260.8 L68,260.4 L67,260 L66,259.6 L65,259.2 L64,258.9 L63,258.5 L62,258.2 L61,257.8 L60,257.5 L59,257.2 L58,257 L57,256.7 L56,256.4 L55,256.2 L54,255.9 L53,255.7 L52,255.4 L51,255.2 L50,255 L49,254.8 L48,254.6 L47,254.4 L46,254.2 L45,254 L44,253.9 L43,253.7 L42,253.5 L41,253.4 L40,253.2 L39,253.1 L38,252.9 L37,252.8 L36,252.7 L35,252.5 L34,252.4 L33,252.3 L32,252.2 L31,252.1 L30,251.9Z"/></clipPath><clipPath id="S1F6t"><path d="M30,246.6 L31,246.6 L32,246.6 L33,246.6 L34,246.6 L35,246.6 L36,246.6 L37,246.6 L38,246.6 L39,246.6 L40,246.6 L41,246.6 L42,246.6 L43,246.6 L44,246.6 L45,246.6 L46,246.6 L47,246.6 L48,246.6 L49,246.6 L50,246.6 L51,246.6 L52,246.6 L53,246.6 L54,246.6 L55,246.6 L56,246.6 L57,246.6 L58,246.6 L59,246.6 L60,246.6 L61,246.6 L62,246.6 L63,246.6 L64,246.6 L65,246.6 L66,246.6 L67,246.6 L68,246.6 L69,246.6 L70,246.6 L71,246.6 L72,246.6 L73,246.6 L74,246.6 L75,246.6 L76,246.6 L77,246.6 L78,246.6 L79,246.6 L80,246.6 L81,246.6 L82,246.6 L83,246.6 L84,246.6 L85,246.6 L86,246.6 L87,246.6 L88,246.6 L89,246.6 L90,246.6 L91,246.6 L92,246.6 L93,246.6 L94,246.6 L95,246.6 L96,246.6 L97,246.6 L98,246.6 L99,246.6 L100,246.6 L101,246.6 L102,246.6 L103,246.6 L104,246.6 L105,246.6 L106,246.6 L107,246.6 L108,246.6 L109,246.6 L110,246.6 L111,246.6 L112,246.6 L113,246.6 L114,246.6 L115,246.6 L116,246.6 L117,246.6 L118,246.6 L119,246.6 L120,246.6 L121,246.6 L122,246.6 L123,246.6 L124,246.6 L125,246.6 L126,246.6 L127,246.6 L128,246.6 L129,246.6 L130,246.6 L131,246.6 L132,246.6 L133,246.6 L134,246.6 L135,246.6 L136,246.6 L137,246.6 L138,246.6 L139,246.6 L140,246.6 L141,246.6 L142,246.6 L143,246.6 L144,246.6 L145,246.6 L146,246.6 L147,246.6 L148,246.6 L149,246.6 L150,246.6 L151,246.6 L152,246.6 L153,246.6 L154,246.6 L155,246.6 L156,246.6 L157,246.6 L158,246.6 L159,246.6 L160,246.6 L161,246.6 L162,246.6 L163,246.6 L164,246.6 L165,246.6 L166,246.6 L167,246.6 L168,246.6 L169,246.6 L170,246.6 L171,246.6 L172,246.6 L173,246.6 L174,246.6 L175,246.6 L176,246.6 L177,246.6 L178,246.6 L179,246.6 L180,246.6 L181,246.6 L182,246.6 L183,246.6 L184,246.6 L185,246.6 L186,246.6 L187,246.6 L188,246.6 L189,246.6 L190,246.6 L191,246.6 L192,246.6 L193,246.6 L194,246.6 L195,246.6 L196,246.6 L197,246.6 L198,246.6 L199,246.6 L200,246.6 L201,246.6 L202,246.6 L203,246.6 L204,246.6 L205,246.6 L206,246.6 L207,246.6 L208,246.6 L209,246.6 L210,246.6 L211,246.6 L212,246.6 L213,246.6 L214,246.6 L215,246.6 L216,246.6 L217,246.6 L218,246.6 L219,246.6 L220,246.6 L221,246.6 L222,246.6 L223,246.6 L224,246.6 L225,246.6 L226,246.6 L227,246.6 L228,246.6 L229,246.6 L230,246.6 L231,246.6 L232,246.6 L233,246.6 L234,246.6 L235,246.6 L236,246.6 L237,246.6 L238,246.6 L239,246.6 L240,246.6 L241,246.6 L242,246.6 L243,246.6 L244,246.6 L245,246.6 L246,246.6 L247,246.6 L248,246.6 L249,246.6 L250,246.6 L251,246.6 L252,246.6 L253,246.6 L254,246.6 L255,246.6 L256,246.6 L257,246.6 L258,246.6 L259,246.6 L260,246.6 L261,246.6 L262,246.6 L263,246.6 L264,246.6 L265,246.6 L266,246.6 L267,246.6 L268,246.6 L269,246.6 L270,246.6 L271,246.6 L272,246.6 L273,246.6 L274,246.6 L275,246.6 L276,246.6 L277,246.6 L278,246.6 L279,246.6 L280,246.6 L281,246.6 L282,246.6 L283,246.6 L284,246.6 L285,246.6 L286,246.6 L287,246.6 L288,246.6 L289,246.6 L290,246.6 L291,246.6 L292,246.6 L293,246.6 L294,246.6 L295,246.6 L296,246.6 L297,246.6 L298,246.6 L299,246.6 L300,246.6 L301,246.6 L302,246.6 L303,246.6 L304,246.6 L305,246.6 L306,246.6 L307,246.6 L308,246.6 L309,246.6 L310,246.6 L311,246.6 L312,246.6 L313,246.6 L314,246.6 L315,246.6 L316,246.6 L317,246.6 L318,246.6 L319,246.6 L320,246.6 L321,246.6 L322,246.6 L323,246.6 L324,246.6 L325,246.6 L326,246.6 L327,246.6 L328,246.6 L329,246.6 L330,246.6 L331,246.6 L332,246.6 L333,246.6 L334,246.6 L335,246.6 L336,246.6 L337,246.6 L338,246.6 L339,246.6 L340,246.6 L341,246.6 L342,246.6 L343,246.6 L344,246.6 L345,246.6 L346,246.6 L347,246.6 L348,246.6 L349,246.6 L350,246.6 L351,246.6 L352,246.6 L353,246.6 L354,246.6 L355,246.6 L356,246.6 L357,246.6 L358,246.6 L359,246.6 L360,246.6 L361,246.6 L362,246.6 L363,246.6 L364,246.6 L365,246.6 L366,246.6 L367,246.6 L368,246.6 L369,246.6 L370,246.6 L371,246.6 L372,246.6 L373,246.6 L374,246.6 L375,246.6 L376,246.6 L377,246.6 L378,246.6 L379,246.6 L380,246.6 L381,246.6 L382,246.6 L383,246.6 L384,246.6 L385,246.6 L386,246.6 L387,246.6 L388,246.6 L389,246.6 L390,246.6 L391,246.6 L392,246.6 L393,246.6 L394,246.6 L395,246.6 L396,246.6 L397,246.6 L398,246.6 L399,246.6 L400,246.6 L401,246.6 L402,246.6 L403,246.6 L404,246.6 L405,246.6 L406,246.6 L407,246.6 L408,246.6 L409,246.6 L410,246.6 L411,246.6 L412,246.6 L413,246.6 L414,246.6 L415,246.6 L416,246.6 L417,246.6 L418,246.6 L419,246.6 L420,246.6 L421,246.6 L422,246.6 L423,246.6 L424,246.6 L425,246.6 L426,246.6 L427,246.6 L428,246.6 L429,246.6 L430,246.6 L431,246.6 L432,246.6 L433,246.6 L434,246.6 L435,246.6 L436,246.6 L437,246.6 L438,246.6 L439,246.6 L440,246.6 L441,246.6 L442,246.6 L443,246.6 L444,246.6 L445,246.6 L446,246.6 L447,246.6 L448,246.6 L449,246.6 L450,246.6 L451,246.6 L452,246.6 L453,246.6 L454,246.6 L455,246.6 L456,246.6 L457,246.6 L458,246.6 L459,246.6 L460,246.6 L461,246.6 L462,246.6 L463,246.6 L464,246.6 L465,246.6 L466,246.6 L467,246.6 L468,246.6 L469,246.6 L469,246.8 L468,246.8 L467,246.8 L466,246.8 L465,246.8 L464,246.8 L463,246.8 L462,246.8 L461,246.8 L460,246.8 L459,246.8 L458,246.8 L457,246.8 L456,246.8 L455,246.8 L454,246.8 L453,246.8 L452,246.8 L451,246.8 L450,246.8 L449,246.8 L448,246.8 L447,246.8 L446,246.8 L445,246.8 L444,246.8 L443,246.8 L442,246.8 L441,246.8 L440,246.8 L439,246.8 L438,246.8 L437,246.8 L436,246.8 L435,246.8 L434,246.8 L433,246.8 L432,246.8 L431,246.8 L430,246.8 L429,246.8 L428,246.8 L427,246.8 L426,246.8 L425,246.8 L424,246.8 L423,246.9 L422,246.9 L421,246.9 L420,246.9 L419,246.9 L418,246.9 L417,246.9 L416,246.9 L415,246.9 L414,246.9 L413,246.9 L412,246.9 L411,246.9 L410,246.9 L409,246.9 L408,246.9 L407,246.9 L406,246.9 L405,246.9 L404,246.9 L403,246.9 L402,246.9 L401,246.9 L400,246.9 L399,246.9 L398,246.9 L397,246.9 L396,246.9 L395,246.9 L394,246.9 L393,246.9 L392,246.9 L391,246.9 L390,246.9 L389,246.9 L388,247 L387,247 L386,247 L385,247 L384,247 L383,247 L382,247 L381,247 L380,247 L379,247 L378,247 L377,247 L376,247 L375,247 L374,247 L373,247 L372,247 L371,247 L370,247 L369,247 L368,247 L367,247 L366,247 L365,247 L364,247 L363,247.1 L362,247.1 L361,247.1 L360,247.1 L359,247.1 L358,247.1 L357,247.1 L356,247.1 L355,247.1 L354,247.1 L353,247.1 L352,247.1 L351,247.1 L350,247.1 L349,247.1 L348,247.1 L347,247.1 L346,247.1 L345,247.1 L344,247.2 L343,247.2 L342,247.2 L341,247.2 L340,247.2 L339,247.2 L338,247.2 L337,247.2 L336,247.2 L335,247.2 L334,247.2 L333,247.2 L332,247.2 L331,247.2 L330,247.2 L329,247.3 L328,247.3 L327,247.3 L326,247.3 L325,247.3 L324,247.3 L323,247.3 L322,247.3 L321,247.3 L320,247.3 L319,247.3 L318,247.3 L317,247.4 L316,247.4 L315,247.4 L314,247.4 L313,247.4 L312,247.4 L311,247.4 L310,247.4 L309,247.4 L308,247.4 L307,247.5 L306,247.5 L305,247.5 L304,247.5 L303,247.5 L302,247.5 L301,247.5 L300,247.5 L299,247.5 L298,247.6 L297,247.6 L296,247.6 L295,247.6 L294,247.6 L293,247.6 L292,247.6 L291,247.7 L290,247.7 L289,247.7 L288,247.7 L287,247.7 L286,247.7 L285,247.7 L284,247.8 L283,247.8 L282,247.8 L281,247.8 L280,247.8 L279,247.8 L278,247.9 L277,247.9 L276,247.9 L275,247.9 L274,247.9 L273,247.9 L272,248 L271,248 L270,248 L269,248 L268,248.1 L267,248.1 L266,248.1 L265,248.1 L264,248.1 L263,248.2 L262,248.2 L261,248.2 L260,248.2 L259,248.3 L258,248.3 L257,248.3 L256,248.3 L255,248.4 L254,248.4 L253,248.4 L252,248.5 L251,248.5 L250,248.5 L249,248.6 L248,248.6 L247,248.6 L246,248.7 L245,248.7 L244,248.7 L243,248.8 L242,248.8 L241,248.9 L240,248.9 L239,248.9 L238,249 L237,249 L236,249.1 L235,249.1 L234,249.2 L233,249.2 L232,249.3 L231,249.3 L230,249.4 L229,249.4 L228,249.5 L227,249.5 L226,249.6 L225,249.6 L224,249.7 L223,249.8 L222,249.8 L221,249.9 L220,250 L219,250 L218,250.1 L217,250.2 L216,250.3 L215,250.3 L214,250.4 L213,250.5 L212,250.6 L211,250.7 L210,250.8 L209,250.9 L208,251 L207,251.1 L206,251.2 L205,251.3 L204,251.4 L203,251.5 L202,251.7 L201,251.8 L200,251.9 L199,252.1 L198,252.2 L197,252.4 L196,252.5 L195,252.7 L194,252.8 L193,253 L192,253.2 L191,253.4 L190,253.6 L189,253.8 L188,254 L187,254.2 L186,254.4 L185,254.7 L184,254.9 L183,255.2 L182,255.5 L181,255.7 L180,256 L179,256.3 L178,256.7 L177,257 L176,257.4 L175,257.7 L174,258.1 L173,258.6 L172,259 L171,259.5 L170,259.9 L169,260.5 L168,261 L167,261.6 L166,262.2 L165,262.8 L164,263.5 L163,264.2 L162,264.9 L161,265.7 L160,266.5 L159,267.4 L158,268.4 L157,269.4 L156,270.4 L155,271.6 L154,272.8 L153,274.1 L152,275.4 L151,276.9 L150,278.4 L149,280.1 L148,281.8 L147,283.7 L146,285.7 L145,287.8 L144,290.1 L143,292.5 L142,295 L141,297.7 L140,300.5 L139,303.5 L138,306.6 L137,309.8 L136,313.1 L135,316.6 L134,320.1 L133,323.6 L132,327 L131,330.4 L130,333.5 L129,336.4 L128,338.9 L127,340.9 L126,342.5 L125,343.4 L124,343.6 L123,343.2 L122,342.2 L121,340.6 L120,338.4 L119,335.8 L118,332.9 L117,329.7 L116,326.3 L115,322.9 L114,319.4 L113,315.9 L112,312.5 L111,309.1 L110,305.9 L109,302.8 L108,299.9 L107,297.1 L106,294.5 L105,292 L104,289.6 L103,287.4 L102,285.3 L101,283.3 L100,281.5 L99,279.7 L98,278.1 L97,276.6 L96,275.1 L95,273.8 L94,272.5 L93,271.3 L92,270.2 L91,269.2 L90,268.2 L89,267.2 L88,266.4 L87,265.5 L86,264.8 L85,264 L84,263.3 L83,262.7 L82,262 L81,261.4 L80,260.9 L79,260.3 L78,259.8 L77,259.4 L76,258.9 L75,258.5 L74,258.1 L73,257.7 L72,257.3 L71,256.9 L70,256.6 L69,256.3 L68,256 L67,255.7 L66,255.4 L65,255.1 L64,254.9 L63,254.6 L62,254.4 L61,254.2 L60,253.9 L59,253.7 L58,253.5 L57,253.3 L56,253.2 L55,253 L54,252.8 L53,252.6 L52,252.5 L51,252.3 L50,252.2 L49,252 L48,251.9 L47,251.8 L46,251.6 L45,251.5 L44,251.4 L43,251.3 L42,251.2 L41,251.1 L40,251 L39,250.9 L38,250.8 L37,250.7 L36,250.6 L35,250.5 L34,250.4 L33,250.3 L32,250.2 L31,250.2 L30,250.1Z"/></clipPath><clipPath id="S2F5"><path d="M30,319.1 L31,318.7 L32,318.2 L33,317.8 L34,317.4 L35,317 L36,316.6 L37,316.2 L38,315.8 L39,315.4 L40,315 L41,314.6 L42,314.2 L43,313.8 L44,313.4 L45,313.1 L46,312.7 L47,312.3 L48,311.9 L49,311.6 L50,311.2 L51,310.8 L52,310.5 L53,310.1 L54,309.8 L55,309.4 L56,309.1 L57,308.7 L58,308.4 L59,308 L60,307.7 L61,307.3 L62,307 L63,306.7 L64,306.4 L65,306 L66,305.7 L67,305.4 L68,305.1 L69,304.7 L70,304.4 L71,304.1 L72,303.8 L73,303.5 L74,303.2 L75,302.9 L76,302.6 L77,302.3 L78,302 L79,301.7 L80,301.4 L81,301.1 L82,300.8 L83,300.5 L84,300.2 L85,300 L86,299.7 L87,299.4 L88,299.1 L89,298.8 L90,298.6 L91,298.3 L92,298 L93,297.8 L94,297.5 L95,297.2 L96,297 L97,296.7 L98,296.5 L99,296.2 L100,295.9 L101,295.7 L102,295.4 L103,295.2 L104,294.9 L105,294.7 L106,294.5 L107,294.2 L108,294 L109,293.7 L110,293.5 L111,293.3 L112,293 L113,292.8 L114,292.6 L115,292.3 L116,292.1 L117,291.9 L118,291.6 L119,291.4 L120,291.2 L121,291 L122,290.7 L123,290.5 L124,290.3 L125,290.1 L126,289.9 L127,289.7 L128,289.4 L129,289.2 L130,289 L131,288.8 L132,288.6 L133,288.4 L134,288.2 L135,288 L136,287.8 L137,287.6 L138,287.4 L139,287.2 L140,287 L141,286.8 L142,286.6 L143,286.4 L144,286.2 L145,286 L146,285.8 L147,285.6 L148,285.4 L149,285.2 L150,285 L151,284.9 L152,284.7 L153,284.5 L154,284.3 L155,284.1 L156,283.9 L157,283.7 L158,283.6 L159,283.4 L160,283.2 L161,283 L162,282.8 L163,282.7 L164,282.5 L165,282.3 L166,282.1 L167,282 L168,281.8 L169,281.6 L170,281.4 L171,281.3 L172,281.1 L173,280.9 L174,280.7 L175,280.6 L176,280.4 L177,280.2 L178,280.1 L179,279.9 L180,279.7 L181,279.6 L182,279.4 L183,279.2 L184,279.1 L185,278.9 L186,278.8 L187,278.6 L188,278.4 L189,278.3 L190,278.1 L191,278 L192,277.8 L193,277.6 L194,277.5 L195,277.3 L196,277.2 L197,277 L198,276.9 L199,276.7 L200,276.5 L201,276.4 L202,276.2 L203,276.1 L204,275.9 L205,275.8 L206,275.6 L207,275.5 L208,275.3 L209,275.2 L210,275 L211,274.9 L212,274.7 L213,274.6 L214,274.4 L215,274.3 L216,274.1 L217,274 L218,273.8 L219,273.7 L220,273.5 L221,273.4 L222,273.2 L223,273.1 L224,272.9 L225,272.8 L226,272.7 L227,272.5 L228,272.4 L229,272.2 L230,272.1 L231,271.9 L232,271.8 L233,271.7 L234,271.5 L235,271.4 L236,271.2 L237,271.1 L238,271 L239,270.8 L240,270.7 L241,270.5 L242,270.4 L243,270.3 L244,270.1 L245,270 L246,269.8 L247,269.7 L248,269.6 L249,269.4 L250,269.3 L251,269.1 L252,269 L253,268.9 L254,268.7 L255,268.6 L256,268.5 L257,268.3 L258,268.2 L259,268.1 L260,267.9 L261,267.8 L262,267.6 L263,267.5 L264,267.4 L265,267.2 L266,267.1 L267,267 L268,266.8 L269,266.7 L270,266.6 L271,266.4 L272,266.3 L273,266.2 L274,266 L275,265.9 L276,265.8 L277,265.6 L278,265.5 L279,265.4 L280,265.2 L281,265.1 L282,265 L283,264.9 L284,264.7 L285,264.6 L286,264.5 L287,264.3 L288,264.2 L289,264.1 L290,263.9 L291,263.8 L292,263.7 L293,263.5 L294,263.4 L295,263.3 L296,263.2 L297,263 L298,262.9 L299,262.8 L300,262.6 L301,262.5 L302,262.4 L303,262.3 L304,262.1 L305,262 L306,261.9 L307,261.7 L308,261.6 L309,261.5 L310,261.4 L311,261.2 L312,261.1 L313,261 L314,260.9 L315,260.7 L316,260.6 L317,260.5 L318,260.3 L319,260.2 L320,260.1 L321,260 L322,259.8 L323,259.7 L324,259.6 L325,259.5 L326,259.3 L327,259.2 L328,259.1 L329,259 L330,258.8 L331,258.7 L332,258.6 L333,258.5 L334,258.3 L335,258.2 L336,258.1 L337,258 L338,257.9 L339,257.7 L340,257.6 L341,257.5 L342,257.4 L343,257.2 L344,257.1 L344,258.5 L343,258.7 L342,258.8 L341,259 L340,259.1 L339,259.3 L338,259.4 L337,259.5 L336,259.7 L335,259.8 L334,260 L333,260.1 L332,260.3 L331,260.4 L330,260.6 L329,260.7 L328,260.9 L327,261 L326,261.2 L325,261.3 L324,261.5 L323,261.6 L322,261.8 L321,262 L320,262.1 L319,262.3 L318,262.4 L317,262.6 L316,262.7 L315,262.9 L314,263.1 L313,263.2 L312,263.4 L311,263.6 L310,263.7 L309,263.9 L308,264.1 L307,264.2 L306,264.4 L305,264.6 L304,264.7 L303,264.9 L302,265.1 L301,265.3 L300,265.5 L299,265.6 L298,265.8 L297,266 L296,266.2 L295,266.4 L294,266.5 L293,266.7 L292,266.9 L291,267.1 L290,267.3 L289,267.5 L288,267.7 L287,267.9 L286,268.1 L285,268.3 L284,268.5 L283,268.7 L282,268.9 L281,269.2 L280,269.4 L279,269.6 L278,269.8 L277,270 L276,270.3 L275,270.5 L274,270.7 L273,271 L272,271.2 L271,271.4 L270,271.7 L269,271.9 L268,272.2 L267,272.5 L266,272.7 L265,273 L264,273.3 L263,273.5 L262,273.8 L261,274.1 L260,274.4 L259,274.7 L258,275 L257,275.3 L256,275.7 L255,276 L254,276.3 L253,276.7 L252,277 L251,277.4 L250,277.8 L249,278.1 L248,278.5 L247,278.9 L246,279.3 L245,279.8 L244,280.2 L243,280.7 L242,281.1 L241,281.6 L240,282.1 L239,282.6 L238,283.1 L237,283.7 L236,284.2 L235,284.8 L234,285.4 L233,286.1 L232,286.7 L231,287.4 L230,288.1 L229,288.8 L228,289.6 L227,290.4 L226,291.2 L225,292.1 L224,293 L223,293.9 L222,294.9 L221,296 L220,297.1 L219,298.2 L218,299.4 L217,300.7 L216,302 L215,303.4 L214,304.8 L213,306.4 L212,308 L211,309.7 L210,311.4 L209,313.3 L208,315.3 L207,317.3 L206,319.5 L205,321.7 L204,324.1 L203,326.6 L202,329.1 L201,331.8 L200,334.6 L199,337.4 L198,340.3 L197,343.2 L196,346.2 L195,349.2 L194,352.1 L193,354.9 L192,357.6 L191,360.2 L190,362.5 L189,364.5 L188,366.1 L187,367.4 L186,368.3 L185,368.7 L184,368.7 L183,368.3 L182,367.4 L181,366.1 L180,364.5 L179,362.5 L178,360.4 L177,358 L176,355.5 L175,352.9 L174,350.3 L173,347.7 L172,345.1 L171,342.5 L170,340 L169,337.5 L168,335.2 L167,332.9 L166,330.8 L165,328.7 L164,326.7 L163,324.9 L162,323.1 L161,321.5 L160,319.9 L159,318.5 L158,317.1 L157,315.8 L156,314.6 L155,313.5 L154,312.4 L153,311.4 L152,310.5 L151,309.6 L150,308.8 L149,308 L148,307.3 L147,306.6 L146,306 L145,305.4 L144,304.9 L143,304.4 L142,303.9 L141,303.5 L140,303.1 L139,302.7 L138,302.4 L137,302.1 L136,301.8 L135,301.5 L134,301.3 L133,301.1 L132,300.9 L131,300.7 L130,300.5 L129,300.4 L128,300.2 L127,300.1 L126,300 L125,299.9 L124,299.9 L123,299.8 L122,299.8 L121,299.7 L120,299.7 L119,299.7 L118,299.7 L117,299.7 L116,299.7 L115,299.8 L114,299.8 L113,299.8 L112,299.9 L111,300 L110,300 L109,300.1 L108,300.2 L107,300.3 L106,300.4 L105,300.5 L104,300.6 L103,300.7 L102,300.8 L101,301 L100,301.1 L99,301.2 L98,301.4 L97,301.5 L96,301.7 L95,301.8 L94,302 L93,302.2 L92,302.4 L91,302.5 L90,302.7 L89,302.9 L88,303.1 L87,303.3 L86,303.5 L85,303.7 L84,303.9 L83,304.1 L82,304.3 L81,304.6 L80,304.8 L79,305 L78,305.2 L77,305.5 L76,305.7 L75,306 L74,306.2 L73,306.5 L72,306.7 L71,307 L70,307.2 L69,307.5 L68,307.8 L67,308 L66,308.3 L65,308.6 L64,308.9 L63,309.2 L62,309.5 L61,309.8 L60,310.1 L59,310.4 L58,310.7 L57,311 L56,311.3 L55,311.6 L54,311.9 L53,312.2 L52,312.6 L51,312.9 L50,313.2 L49,313.6 L48,313.9 L47,314.2 L46,314.6 L45,314.9 L44,315.3 L43,315.6 L42,316 L41,316.4 L40,316.7 L39,317.1 L38,317.5 L37,317.8 L36,318.2 L35,318.6 L34,319 L33,319.4 L32,319.8 L31,320.2 L30,320.6Z"/></clipPath><clipPath id="S2F6"><path d="M30,319.1 L31,318.7 L32,318.2 L33,317.8 L34,317.4 L35,317 L36,316.6 L37,316.2 L38,315.8 L39,315.4 L40,315 L41,314.6 L42,314.2 L43,313.8 L44,313.4 L45,313.1 L46,312.7 L47,312.3 L48,311.9 L49,311.6 L50,311.2 L51,310.8 L52,310.5 L53,310.1 L54,309.8 L55,309.4 L56,309.1 L57,308.7 L58,308.4 L59,308 L60,307.7 L61,307.3 L62,307 L63,306.7 L64,306.4 L65,306 L66,305.7 L67,305.4 L68,305.1 L69,304.7 L70,304.4 L71,304.1 L72,303.8 L73,303.5 L74,303.2 L75,302.9 L76,302.6 L77,302.3 L78,302 L79,301.7 L80,301.4 L81,301.1 L82,300.8 L83,300.5 L84,300.2 L85,300 L86,299.7 L87,299.4 L88,299.1 L89,298.8 L90,298.6 L91,298.3 L92,298 L93,297.8 L94,297.5 L95,297.2 L96,297 L97,296.7 L98,296.5 L99,296.2 L100,295.9 L101,295.7 L102,295.4 L103,295.2 L104,294.9 L105,294.7 L106,294.5 L107,294.2 L108,294 L109,293.7 L110,293.5 L111,293.3 L112,293 L113,292.8 L114,292.6 L115,292.3 L116,292.1 L117,291.9 L118,291.6 L119,291.4 L120,291.2 L121,291 L122,290.7 L123,290.5 L124,290.3 L125,290.1 L126,289.9 L127,289.7 L128,289.4 L129,289.2 L130,289 L131,288.8 L132,288.6 L133,288.4 L134,288.2 L135,288 L136,287.8 L137,287.6 L138,287.4 L139,287.2 L140,287 L141,286.8 L142,286.6 L143,286.4 L144,286.2 L145,286 L146,285.8 L147,285.6 L148,285.4 L149,285.2 L150,285 L151,284.9 L152,284.7 L153,284.5 L154,284.3 L155,284.1 L156,283.9 L157,283.7 L158,283.6 L159,283.4 L160,283.2 L161,283 L162,282.8 L163,282.7 L164,282.5 L165,282.3 L166,282.1 L167,282 L168,281.8 L169,281.6 L170,281.4 L171,281.3 L172,281.1 L173,280.9 L174,280.7 L175,280.6 L176,280.4 L177,280.2 L178,280.1 L179,279.9 L180,279.7 L181,279.6 L182,279.4 L183,279.2 L184,279.1 L185,278.9 L186,278.8 L187,278.6 L188,278.4 L189,278.3 L190,278.1 L191,278 L192,277.8 L193,277.6 L194,277.5 L195,277.3 L196,277.2 L197,277 L198,276.9 L199,276.7 L200,276.5 L201,276.4 L202,276.2 L203,276.1 L204,275.9 L205,275.8 L206,275.6 L207,275.5 L208,275.3 L209,275.2 L210,275 L211,274.9 L212,274.7 L213,274.6 L214,274.4 L215,274.3 L216,274.1 L217,274 L218,273.8 L219,273.7 L220,273.5 L221,273.4 L222,273.2 L223,273.1 L224,272.9 L225,272.8 L226,272.7 L227,272.5 L228,272.4 L229,272.2 L230,272.1 L231,271.9 L232,271.8 L233,271.7 L234,271.5 L235,271.4 L236,271.2 L237,271.1 L238,271 L239,270.8 L240,270.7 L241,270.5 L242,270.4 L243,270.3 L244,270.1 L245,270 L246,269.8 L247,269.7 L248,269.6 L249,269.4 L250,269.3 L251,269.1 L252,269 L253,268.9 L254,268.7 L255,268.6 L256,268.5 L257,268.3 L258,268.2 L259,268.1 L260,267.9 L261,267.8 L262,267.6 L263,267.5 L264,267.4 L265,267.2 L266,267.1 L267,267 L268,266.8 L269,266.7 L270,266.6 L271,266.4 L272,266.3 L273,266.2 L274,266 L275,265.9 L276,265.8 L277,265.6 L278,265.5 L279,265.4 L280,265.2 L281,265.1 L282,265 L283,264.9 L284,264.7 L285,264.6 L286,264.5 L287,264.3 L288,264.2 L289,264.1 L290,263.9 L291,263.8 L292,263.7 L293,263.5 L294,263.4 L295,263.3 L296,263.2 L297,263 L298,262.9 L299,262.8 L300,262.6 L301,262.5 L302,262.4 L303,262.3 L304,262.1 L305,262 L306,261.9 L307,261.7 L308,261.6 L309,261.5 L310,261.4 L311,261.2 L312,261.1 L313,261 L314,260.9 L315,260.7 L316,260.6 L317,260.5 L318,260.3 L319,260.2 L320,260.1 L321,260 L322,259.8 L323,259.7 L324,259.6 L325,259.5 L326,259.3 L327,259.2 L328,259.1 L329,259 L330,258.8 L331,258.7 L332,258.6 L333,258.5 L334,258.3 L335,258.2 L336,258.1 L337,258 L338,257.9 L339,257.7 L340,257.6 L341,257.5 L342,257.4 L343,257.2 L344,257.1 L344,257.9 L343,258 L342,258.1 L341,258.3 L340,258.4 L339,258.5 L338,258.7 L337,258.8 L336,258.9 L335,259.1 L334,259.2 L333,259.3 L332,259.5 L331,259.6 L330,259.7 L329,259.9 L328,260 L327,260.1 L326,260.3 L325,260.4 L324,260.5 L323,260.7 L322,260.8 L321,261 L320,261.1 L319,261.2 L318,261.4 L317,261.5 L316,261.6 L315,261.8 L314,261.9 L313,262.1 L312,262.2 L311,262.3 L310,262.5 L309,262.6 L308,262.8 L307,262.9 L306,263.1 L305,263.2 L304,263.3 L303,263.5 L302,263.6 L301,263.8 L300,263.9 L299,264.1 L298,264.2 L297,264.4 L296,264.5 L295,264.6 L294,264.8 L293,264.9 L292,265.1 L291,265.2 L290,265.4 L289,265.5 L288,265.7 L287,265.8 L286,266 L285,266.1 L284,266.3 L283,266.4 L282,266.6 L281,266.8 L280,266.9 L279,267.1 L278,267.2 L277,267.4 L276,267.5 L275,267.7 L274,267.9 L273,268 L272,268.2 L271,268.3 L270,268.5 L269,268.7 L268,268.8 L267,269 L266,269.1 L265,269.3 L264,269.5 L263,269.6 L262,269.8 L261,270 L260,270.1 L259,270.3 L258,270.5 L257,270.7 L256,270.8 L255,271 L254,271.2 L253,271.4 L252,271.5 L251,271.7 L250,271.9 L249,272.1 L248,272.3 L247,272.4 L246,272.6 L245,272.8 L244,273 L243,273.2 L242,273.4 L241,273.6 L240,273.8 L239,274 L238,274.2 L237,274.4 L236,274.6 L235,274.8 L234,275 L233,275.2 L232,275.4 L231,275.6 L230,275.8 L229,276 L228,276.2 L227,276.5 L226,276.7 L225,276.9 L224,277.1 L223,277.4 L222,277.6 L221,277.8 L220,278.1 L219,278.3 L218,278.5 L217,278.8 L216,279 L215,279.3 L214,279.6 L213,279.8 L212,280.1 L211,280.3 L210,280.6 L209,280.9 L208,281.2 L207,281.5 L206,281.8 L205,282.1 L204,282.4 L203,282.7 L202,283 L201,283.3 L200,283.6 L199,284 L198,284.3 L197,284.6 L196,285 L195,285.3 L194,285.7 L193,286.1 L192,286.5 L191,286.9 L190,287.3 L189,287.7 L188,288.1 L187,288.6 L186,289 L185,289.5 L184,289.9 L183,290.4 L182,290.9 L181,291.4 L180,292 L179,292.5 L178,293.1 L177,293.7 L176,294.3 L175,294.9 L174,295.5 L173,296.2 L172,296.9 L171,297.6 L170,298.3 L169,299.1 L168,299.9 L167,300.7 L166,301.6 L165,302.5 L164,303.4 L163,304.4 L162,305.4 L161,306.4 L160,307.5 L159,308.7 L158,309.9 L157,311.1 L156,312.4 L155,313.8 L154,315.2 L153,316.7 L152,318.3 L151,319.9 L150,321.6 L149,323.4 L148,325.3 L147,327.2 L146,329.2 L145,331.4 L144,333.6 L143,335.8 L142,338.2 L141,340.6 L140,343.1 L139,345.7 L138,348.3 L137,350.9 L136,353.6 L135,356.3 L134,358.9 L133,361.5 L132,363.9 L131,366.3 L130,368.5 L129,370.4 L128,372.1 L127,373.5 L126,374.6 L125,375.3 L124,375.7 L123,375.7 L122,375.3 L121,374.6 L120,373.6 L119,372.3 L118,370.7 L117,368.9 L116,367 L115,364.9 L114,362.8 L113,360.6 L112,358.3 L111,356.1 L110,353.9 L109,351.7 L108,349.6 L107,347.6 L106,345.6 L105,343.7 L104,341.9 L103,340.2 L102,338.5 L101,336.9 L100,335.5 L99,334.1 L98,332.7 L97,331.5 L96,330.3 L95,329.2 L94,328.2 L93,327.2 L92,326.3 L91,325.5 L90,324.7 L89,324 L88,323.3 L87,322.6 L86,322.1 L85,321.5 L84,321 L83,320.5 L82,320.1 L81,319.7 L80,319.4 L79,319 L78,318.8 L77,318.5 L76,318.3 L75,318 L74,317.9 L73,317.7 L72,317.6 L71,317.4 L70,317.3 L69,317.3 L68,317.2 L67,317.2 L66,317.1 L65,317.1 L64,317.1 L63,317.2 L62,317.2 L61,317.2 L60,317.3 L59,317.4 L58,317.5 L57,317.6 L56,317.7 L55,317.8 L54,318 L53,318.1 L52,318.3 L51,318.4 L50,318.6 L49,318.8 L48,319 L47,319.2 L46,319.4 L45,319.6 L44,319.8 L43,320.1 L42,320.3 L41,320.6 L40,320.8 L39,321.1 L38,321.4 L37,321.6 L36,321.9 L35,322.2 L34,322.5 L33,322.8 L32,323.1 L31,323.5 L30,323.8Z"/></clipPath><clipPath id="OUT"><path d="M30,319.1 L31,318.7 L32,318.2 L33,317.8 L34,317.4 L35,317 L36,316.6 L37,316.2 L38,315.8 L39,315.4 L40,315 L41,314.6 L42,314.2 L43,313.8 L44,313.4 L45,313.1 L46,312.7 L47,312.3 L48,311.9 L49,311.6 L50,311.2 L51,310.8 L52,310.5 L53,310.1 L54,309.8 L55,309.4 L56,309.1 L57,308.7 L58,308.4 L59,308 L60,307.7 L61,307.3 L62,307 L63,306.7 L64,306.4 L65,306 L66,305.7 L67,305.4 L68,305.1 L69,304.7 L70,304.4 L71,304.1 L72,303.8 L73,303.5 L74,303.2 L75,302.9 L76,302.6 L77,302.3 L78,302 L79,301.7 L80,301.4 L81,301.1 L82,300.8 L83,300.5 L84,300.2 L85,300 L86,299.7 L87,299.4 L88,299.1 L89,298.8 L90,298.6 L91,298.3 L92,298 L93,297.8 L94,297.5 L95,297.2 L96,297 L97,296.7 L98,296.5 L99,296.2 L100,295.9 L101,295.7 L102,295.4 L103,295.2 L104,294.9 L105,294.7 L106,294.5 L107,294.2 L108,294 L109,293.7 L110,293.5 L111,293.3 L112,293 L113,292.8 L114,292.6 L115,292.3 L116,292.1 L117,291.9 L118,291.6 L119,291.4 L120,291.2 L121,291 L122,290.7 L123,290.5 L124,290.3 L125,290.1 L126,289.9 L127,289.7 L128,289.4 L129,289.2 L130,289 L131,288.8 L132,288.6 L133,288.4 L134,288.2 L135,288 L136,287.8 L137,287.6 L138,287.4 L139,287.2 L140,287 L141,286.8 L142,286.6 L143,286.4 L144,286.2 L145,286 L146,285.8 L147,285.6 L148,285.4 L149,285.2 L150,285 L151,284.9 L152,284.7 L153,284.5 L154,284.3 L155,284.1 L156,283.9 L157,283.7 L158,283.6 L159,283.4 L160,283.2 L161,283 L162,282.8 L163,282.7 L164,282.5 L165,282.3 L166,282.1 L167,282 L168,281.8 L169,281.6 L170,281.4 L171,281.3 L172,281.1 L173,280.9 L174,280.7 L175,280.6 L176,280.4 L177,280.2 L178,280.1 L179,279.9 L180,279.7 L181,279.6 L182,279.4 L183,279.2 L184,279.1 L185,278.9 L186,278.8 L187,278.6 L188,278.4 L189,278.3 L190,278.1 L191,278 L192,277.8 L193,277.6 L194,277.5 L195,277.3 L196,277.2 L197,277 L198,276.9 L199,276.7 L200,276.5 L201,276.4 L202,276.2 L203,276.1 L204,275.9 L205,275.8 L206,275.6 L207,275.5 L208,275.3 L209,275.2 L210,275 L211,274.9 L212,274.7 L213,274.6 L214,274.4 L215,274.3 L216,274.1 L217,274 L218,273.8 L219,273.7 L220,273.5 L221,273.4 L222,273.2 L223,273.1 L224,272.9 L225,272.8 L226,272.7 L227,272.5 L228,272.4 L229,272.2 L230,272.1 L231,271.9 L232,271.8 L233,271.7 L234,271.5 L235,271.4 L236,271.2 L237,271.1 L238,271 L239,270.8 L240,270.7 L241,270.5 L242,270.4 L243,270.3 L244,270.1 L245,270 L246,269.8 L247,269.7 L248,269.6 L249,269.4 L250,269.3 L251,269.1 L252,269 L253,268.9 L254,268.7 L255,268.6 L256,268.5 L257,268.3 L258,268.2 L259,268.1 L260,267.9 L261,267.8 L262,267.6 L263,267.5 L264,267.4 L265,267.2 L266,267.1 L267,267 L268,266.8 L269,266.7 L270,266.6 L271,266.4 L272,266.3 L273,266.2 L274,266 L275,265.9 L276,265.8 L277,265.6 L278,265.5 L279,265.4 L280,265.2 L281,265.1 L282,265 L283,264.9 L284,264.7 L285,264.6 L286,264.5 L287,264.3 L288,264.2 L289,264.1 L290,263.9 L291,263.8 L292,263.7 L293,263.5 L294,263.4 L295,263.3 L296,263.2 L297,263 L298,262.9 L299,262.8 L300,262.6 L301,262.5 L302,262.4 L303,262.3 L304,262.1 L305,262 L306,261.9 L307,261.7 L308,261.6 L309,261.5 L310,261.4 L311,261.2 L312,261.1 L313,261 L314,260.9 L315,260.7 L316,260.6 L317,260.5 L318,260.3 L319,260.2 L320,260.1 L321,260 L322,259.8 L323,259.7 L324,259.6 L325,259.5 L326,259.3 L327,259.2 L328,259.1 L329,259 L330,258.8 L331,258.7 L332,258.6 L333,258.5 L334,258.3 L335,258.2 L336,258.1 L337,258 L338,257.9 L339,257.7 L340,257.6 L341,257.5 L342,257.4 L343,257.2 L344,257.1 L344,257.1 L343,257.2 L342,257.4 L341,257.5 L340,257.6 L339,257.7 L338,257.9 L337,258 L336,258.1 L335,258.2 L334,258.3 L333,258.5 L332,258.6 L331,258.7 L330,258.8 L329,259 L328,259.1 L327,259.2 L326,259.3 L325,259.5 L324,259.6 L323,259.7 L322,259.9 L321,260.2 L320,260.4 L319,260.7 L318,261 L317,261.2 L316,261.5 L315,261.7 L314,262 L313,262.3 L312,262.5 L311,262.8 L310,263 L309,263.3 L308,263.6 L307,263.8 L306,264.1 L305,264.3 L304,264.6 L303,264.9 L302,265.1 L301,265.4 L300,265.6 L299,265.9 L298,266.2 L297,266.4 L296,266.7 L295,267 L294,267.2 L293,267.5 L292,267.8 L291,268 L290,268.3 L289,268.6 L288,268.8 L287,269.1 L286,269.4 L285,269.7 L284,269.9 L283,270.2 L282,270.5 L281,270.8 L280,271 L279,271.3 L278,271.6 L277,271.9 L276,272.1 L275,272.4 L274,272.7 L273,273 L272,273.3 L271,273.5 L270,273.8 L269,274.1 L268,274.4 L267,274.6 L266,274.9 L265,275.2 L264,275.5 L263,275.8 L262,276 L261,276.3 L260,276.6 L259,276.9 L258,277.2 L257,277.5 L256,277.8 L255,278.1 L254,278.4 L253,278.7 L252,279.1 L251,279.4 L250,279.8 L249,280.2 L248,280.5 L247,280.9 L246,281.3 L245,281.8 L244,282.2 L243,282.7 L242,283.2 L241,283.7 L240,284.3 L239,284.8 L238,285.4 L237,286.1 L236,286.7 L235,287.4 L234,288.2 L233,289 L232,289.8 L231,290.6 L230,291.5 L229,292.4 L228,293.4 L227,294.4 L226,295.5 L225,296.6 L224,297.8 L223,299 L222,300.2 L221,301.6 L220,302.9 L219,304.4 L218,305.8 L217,307.4 L216,309 L215,310.6 L214,312.4 L213,314.1 L212,316 L211,317.9 L210,319.8 L209,321.9 L208,323.9 L207,326.1 L206,328.3 L205,330.5 L204,332.8 L203,335.1 L202,337.5 L201,339.9 L200,342.3 L199,344.4 L198,346.6 L197,348.7 L196,350.9 L195,353.1 L194,355.3 L193,357.5 L192,359.6 L191,361.6 L190,363.5 L189,365.2 L188,366.8 L187,368.1 L186,369.1 L185,369.9 L184,370.3 L183,370.3 L182,370 L181,369.4 L180,368.4 L179,367.2 L178,365.7 L177,364 L176,362.1 L175,360.1 L174,358.3 L173,356.5 L172,354.7 L171,353 L170,351.4 L169,349.8 L168,348.4 L167,347.1 L166,345.9 L165,344.8 L164,343.9 L163,343.1 L162,342.4 L161,341.9 L160,341.5 L159,341.2 L158,341.1 L157,341.1 L156,341.2 L155,341.4 L154,341.8 L153,342.3 L152,343 L151,343.7 L150,344.6 L149,345.6 L148,346.8 L147,348.1 L146,349.5 L145,351 L144,352.6 L143,354.4 L142,356.3 L141,358.3 L140,360.4 L139,362.6 L138,364.8 L137,367.2 L136,369.5 L135,371.9 L134,374.3 L133,376.6 L132,378.8 L131,380.9 L130,382.9 L129,384.6 L128,386.1 L127,387.3 L126,388.1 L125,388.6 L124,388.7 L123,388.5 L122,387.8 L121,386.9 L120,385.5 L119,383.9 L118,382.1 L117,380 L116,377.7 L115,375.4 L114,372.9 L113,370.4 L112,367.9 L111,365.4 L110,362.9 L109,360.5 L108,358.1 L107,355.8 L106,353.5 L105,351.4 L104,349.3 L103,347.4 L102,345.5 L101,343.7 L100,342.1 L99,340.5 L98,339 L97,337.5 L96,336.2 L95,334.9 L94,333.7 L93,332.6 L92,331.6 L91,330.6 L90,329.7 L89,328.8 L88,328 L87,327.2 L86,326.5 L85,325.9 L84,325.3 L83,324.7 L82,324.2 L81,323.7 L80,323.2 L79,322.8 L78,322.4 L77,322.1 L76,321.8 L75,321.5 L74,321.2 L73,321 L72,320.8 L71,320.6 L70,320.4 L69,320.3 L68,320.2 L67,320.1 L66,320 L65,319.9 L64,319.9 L63,319.8 L62,319.8 L61,319.8 L60,319.8 L59,319.9 L58,319.9 L57,320 L56,320 L55,320.1 L54,320.2 L53,320.3 L52,320.4 L51,320.6 L50,320.7 L49,320.8 L48,321 L47,321.2 L46,321.3 L45,321.5 L44,321.7 L43,321.9 L42,322.1 L41,322.4 L40,322.6 L39,322.8 L38,323.1 L37,323.3 L36,323.6 L35,323.8 L34,324.1 L33,324.4 L32,324.7 L31,325 L30,325.3Z"/></clipPath></defs><linearGradient id="stg" gradientUnits="userSpaceOnUse" x1="30" y1="0" x2="330" y2="0"><stop offset="0" stop-color="#9c9c2e"/><stop offset="0.5" stop-color="#9c9c2e"/><stop offset="0.8" stop-color="#6cb030"/><stop offset="1" stop-color="#3cc040"/></linearGradient><rect x="30" y="245.0" width="300" height="2" fill="url(#stg)"/><path d="M30,295 L31,294.9 L32,294.8 L33,294.6 L34,294.5 L35,294.4 L36,294.3 L37,294.1 L38,294 L39,293.9 L40,293.8 L41,293.7 L42,293.5 L43,293.4 L44,293.3 L45,293.2 L46,293.1 L47,292.9 L48,292.8 L49,292.7 L50,292.6 L51,292.4 L52,292.3 L53,292.2 L54,292.1 L55,292 L56,291.8 L57,291.7 L58,291.6 L59,291.5 L60,291.3 L61,291.2 L62,291.1 L63,291 L64,290.9 L65,290.7 L66,290.6 L67,290.5 L68,290.4 L69,290.2 L70,290.1 L71,290 L72,289.9 L73,289.8 L74,289.6 L75,289.5 L76,289.4 L77,289.3 L78,289.2 L79,289 L80,288.9 L81,288.8 L82,288.7 L83,288.5 L84,288.4 L85,288.3 L86,288.2 L87,288.1 L88,287.9 L89,287.8 L90,287.7 L91,287.6 L92,287.4 L93,287.3 L94,287.2 L95,287.1 L96,287 L97,286.8 L98,286.7 L99,286.6 L100,286.5 L101,286.4 L102,286.2 L103,286.1 L104,286 L105,285.9 L106,285.7 L107,285.6 L108,285.5 L109,285.4 L110,285.3 L111,285.1 L112,285 L113,284.9 L114,284.8 L115,284.6 L116,284.5 L117,284.4 L118,284.3 L119,284.2 L120,284 L121,283.9 L122,283.8 L123,283.7 L124,283.6 L125,283.4 L126,283.3 L127,283.2 L128,283.1 L129,282.9 L130,282.8 L131,282.7 L132,282.6 L133,282.5 L134,282.3 L135,282.2 L136,282.1 L137,282 L138,281.8 L139,281.7 L140,281.6 L141,281.5 L142,281.4 L143,281.2 L144,281.1 L145,281 L146,280.9 L147,280.7 L148,280.6 L149,280.5 L150,280.4 L151,280.3 L152,280.1 L153,280 L154,279.9 L155,279.8 L156,279.7 L157,279.5 L158,279.4 L159,279.3 L160,279.2 L161,279 L162,278.9 L163,278.8 L164,278.7 L165,278.6 L166,278.4 L167,278.3 L168,278.2 L169,278.1 L170,277.9 L171,277.8 L172,277.7 L173,277.6 L174,277.5 L175,277.3 L176,277.2 L177,277.1 L178,277 L179,276.9 L180,276.7 L181,276.6 L182,276.5 L183,276.4 L184,276.2 L185,276.1 L186,276 L187,275.9 L188,275.8 L189,275.6 L190,275.5 L191,275.4 L192,275.3 L193,275.1 L194,275 L195,274.9 L196,274.8 L197,274.7 L198,274.5 L199,274.4 L200,274.3 L201,274.2 L202,274.1 L203,273.9 L204,273.8 L205,273.7 L206,273.6 L207,273.4 L208,273.3 L209,273.2 L210,273.1 L211,273 L212,272.8 L213,272.7 L214,272.6 L215,272.5 L216,272.3 L217,272.2 L218,272.1 L219,272 L220,271.9 L221,271.7 L222,271.6 L223,271.5 L224,271.4 L225,271.2 L226,271.1 L227,271 L228,270.9 L229,270.8 L230,270.6 L231,270.5 L232,270.4 L233,270.3 L234,270.2 L235,270 L236,269.9 L237,269.8 L238,269.7 L239,269.5 L240,269.4 L241,269.3 L242,269.2 L243,269.1 L244,268.9 L245,268.8 L246,268.7 L247,268.6 L248,268.4 L249,268.3 L250,268.2 L251,268.1 L252,268 L253,267.8 L254,267.7 L255,267.6 L256,267.5 L257,267.4 L258,267.2 L259,267.1 L260,267 L261,266.9 L262,266.7 L263,266.6 L264,266.5 L265,266.4 L266,266.3 L267,266.1 L268,266 L269,265.9 L270,265.8 L271,265.7 L272,265.5 L273,265.4 L274,265.3 L275,265.2 L276,265 L277,264.9 L278,264.8 L279,264.7 L280,264.6 L281,264.4 L282,264.3 L283,264.2 L284,264.1 L285,264 L286,263.8 L287,263.7 L288,263.6 L289,263.5 L290,263.3 L291,263.2 L292,263.1 L293,263 L294,262.9 L295,262.7 L296,262.6 L297,262.5 L298,262.4 L299,262.3 L300,262.1 L301,262 L302,261.9 L303,261.8 L304,261.6 L305,261.5 L306,261.4 L307,261.3 L308,261.2 L309,261 L310,260.9 L311,260.8 L312,260.7 L313,260.6 L314,260.4 L315,260.3 L316,260.2 L317,260.1 L318,260 L319,259.8 L320,259.7 L321,259.6 L322,259.5 L323,259.4 L324,259.2 L325,259.1 L326,259 L327,258.9 L328,258.8 L329,258.6 L330,258.5 L331,258.4 L332,258.3 L333,258.2 L334,258 L335,257.9 L336,257.8 L337,257.7 L338,257.6 L339,257.4 L340,257.3 L341,257.2 L342,257.1 L343,257 L344,256.9 L345,256.7 L346,256.6 L347,256.5 L348,256.4 L349,256.3 L350,256.2 L351,256 L352,255.9 L353,255.8 L354,255.7 L355,255.6 L356,255.5 L357,255.3 L358,255.2 L359,255.1 L360,255 L361,254.9 L362,254.8 L363,254.7 L364,254.5 L365,254.4 L366,254.3 L367,254.2 L368,254.1 L369,254 L370,253.9 L371,253.8 L372,253.6 L373,253.5 L374,253.4 L375,253.3 L376,253.2 L377,253.1 L378,253 L379,252.9 L380,252.8 L381,252.7 L382,252.6 L383,252.5 L384,252.4 L385,252.3 L386,252.2 L387,252 L388,251.9 L389,251.8 L390,251.7 L391,251.6 L392,251.5 L393,251.5 L394,251.4 L395,251.3 L396,251.2 L397,251.1 L398,251 L399,250.9 L400,250.8 L401,250.7 L402,250.6 L403,250.5 L404,250.4 L405,250.3 L406,250.3 L407,250.2 L408,250.1 L409,250 L410,249.9 L411,249.8 L412,249.8 L413,249.7 L414,249.6 L415,249.5 L416,249.5 L417,249.4 L418,249.3 L419,249.2 L420,249.2 L421,249.1 L422,249 L423,249 L424,248.9 L425,248.8 L426,248.8 L427,248.7 L428,248.6 L429,248.6 L430,248.5 L431,248.5 L432,248.4 L433,248.4 L434,248.3 L435,248.3 L436,248.2 L437,248.2 L438,248.1 L439,248.1 L440,248 L441,248 L442,247.9 L443,247.9 L444,247.8 L445,247.8 L446,247.8 L447,247.7 L448,247.7 L449,247.6 L450,247.6 L451,247.6 L452,247.5 L453,247.5 L454,247.5 L455,247.4 L456,247.4 L457,247.4 L458,247.4 L459,247.3 L460,247.3 L461,247.3 L462,247.3 L463,247.2 L464,247.2 L465,247.2 L466,247.2 L467,247.1 L468,247.1 L469,247.1 L469,408 L468,410.6 L467,412.5 L466,413.8 L465,414.3 L464,414.1 L463,413.2 L462,411.6 L461,409.3 L460,406.5 L459,403.2 L458,399.5 L457,395.5 L456,391.3 L455,387 L454,382.6 L453,378.2 L452,373.7 L451,369.4 L450,365.1 L449,360.9 L448,356.8 L447,352.8 L446,349 L445,345.3 L444,341.7 L443,338.3 L442,335 L441,331.8 L440,328.8 L439,325.9 L438,323.1 L437,320.5 L436,317.9 L435,315.5 L434,313.2 L433,311 L432,308.9 L431,306.8 L430,304.9 L429,303.1 L428,301.3 L427,299.6 L426,298 L425,296.5 L424,295 L423,293.6 L422,292.2 L421,291 L420,289.7 L419,288.5 L418,287.4 L417,286.3 L416,285.3 L415,284.3 L414,283.4 L413,282.5 L412,281.6 L411,280.8 L410,280 L409,279.3 L408,278.5 L407,277.9 L406,277.2 L405,276.6 L404,276 L403,275.4 L402,274.8 L401,274.3 L400,273.8 L399,273.3 L398,272.8 L397,272.4 L396,271.9 L395,271.5 L394,271.1 L393,270.8 L392,270.4 L391,270.1 L390,269.7 L389,269.4 L388,269.1 L387,268.8 L386,268.6 L385,268.3 L384,268 L383,267.8 L382,267.6 L381,267.4 L380,267.2 L379,267 L378,266.8 L377,266.6 L376,266.4 L375,266.3 L374,266.1 L373,266 L372,265.8 L371,265.7 L370,265.6 L369,265.4 L368,265.3 L367,265.2 L366,265.1 L365,265 L364,264.9 L363,264.9 L362,264.8 L361,264.7 L360,264.7 L359,264.6 L358,264.5 L357,264.5 L356,264.4 L355,264.4 L354,264.4 L353,264.3 L352,264.3 L351,264.3 L350,264.2 L349,264.2 L348,264.2 L347,264.2 L346,264.2 L345,264.2 L344,264.2 L343,264.2 L342,264.2 L341,264.2 L340,264.2 L339,264.2 L338,264.2 L337,264.2 L336,264.2 L335,264.2 L334,264.3 L333,264.3 L332,264.3 L331,264.3 L330,264.4 L329,264.4 L328,264.4 L327,264.5 L326,264.5 L325,264.5 L324,264.6 L323,264.6 L322,264.7 L321,264.7 L320,264.8 L319,264.8 L318,264.9 L317,264.9 L316,265 L315,265 L314,265.1 L313,265.1 L312,265.2 L311,265.2 L310,265.3 L309,265.4 L308,265.4 L307,265.5 L306,265.5 L305,265.6 L304,265.7 L303,265.7 L302,265.8 L301,265.9 L300,266 L299,266 L298,266.1 L297,266.2 L296,266.2 L295,266.3 L294,266.4 L293,266.5 L292,266.5 L291,266.6 L290,266.7 L289,266.8 L288,266.9 L287,266.9 L286,267 L285,267.1 L284,267.2 L283,267.3 L282,267.4 L281,267.4 L280,267.5 L279,267.6 L278,267.7 L277,267.8 L276,267.9 L275,268 L274,268 L273,268.1 L272,268.2 L271,268.3 L270,268.4 L269,268.5 L268,268.6 L267,268.7 L266,268.8 L265,268.9 L264,269 L263,269.1 L262,269.1 L261,269.2 L260,269.3 L259,269.4 L258,269.5 L257,269.6 L256,269.7 L255,269.8 L254,269.9 L253,270 L252,270.1 L251,270.2 L250,270.3 L249,270.4 L248,270.5 L247,270.6 L246,270.7 L245,270.8 L244,270.9 L243,271 L242,271.1 L241,271.2 L240,271.3 L239,271.4 L238,271.5 L237,271.6 L236,271.7 L235,271.8 L234,271.9 L233,272 L232,272.1 L231,272.2 L230,272.3 L229,272.4 L228,272.5 L227,272.6 L226,272.8 L225,272.9 L224,273 L223,273.1 L222,273.2 L221,273.3 L220,273.4 L219,273.5 L218,273.6 L217,273.7 L216,273.8 L215,273.9 L214,274 L213,274.1 L212,274.2 L211,274.4 L210,274.5 L209,274.6 L208,274.7 L207,274.8 L206,274.9 L205,275 L204,275.1 L203,275.2 L202,275.3 L201,275.4 L200,275.5 L199,275.7 L198,275.8 L197,275.9 L196,276 L195,276.1 L194,276.2 L193,276.3 L192,276.4 L191,276.5 L190,276.6 L189,276.8 L188,276.9 L187,277 L186,277.1 L185,277.2 L184,277.3 L183,277.4 L182,277.5 L181,277.7 L180,277.8 L179,277.9 L178,278 L177,278.1 L176,278.2 L175,278.3 L174,278.4 L173,278.6 L172,278.7 L171,278.8 L170,278.9 L169,279 L168,279.1 L167,279.2 L166,279.3 L165,279.5 L164,279.6 L163,279.7 L162,279.8 L161,279.9 L160,280 L159,280.1 L158,280.3 L157,280.4 L156,280.5 L155,280.6 L154,280.7 L153,280.8 L152,280.9 L151,281.1 L150,281.2 L149,281.3 L148,281.4 L147,281.5 L146,281.6 L145,281.7 L144,281.9 L143,282 L142,282.1 L141,282.2 L140,282.3 L139,282.4 L138,282.6 L137,282.7 L136,282.8 L135,282.9 L134,283 L133,283.1 L132,283.2 L131,283.4 L130,283.5 L129,283.6 L128,283.7 L127,283.8 L126,283.9 L125,284.1 L124,284.2 L123,284.3 L122,284.4 L121,284.5 L120,284.6 L119,284.8 L118,284.9 L117,285 L116,285.1 L115,285.2 L114,285.3 L113,285.5 L112,285.6 L111,285.7 L110,285.8 L109,285.9 L108,286 L107,286.2 L106,286.3 L105,286.4 L104,286.5 L103,286.6 L102,286.7 L101,286.9 L100,287 L99,287.1 L98,287.2 L97,287.3 L96,287.5 L95,287.6 L94,287.7 L93,287.8 L92,287.9 L91,288 L90,288.2 L89,288.3 L88,288.4 L87,288.5 L86,288.6 L85,288.7 L84,288.9 L83,289 L82,289.1 L81,289.2 L80,289.3 L79,289.5 L78,289.6 L77,289.7 L76,289.8 L75,289.9 L74,290 L73,290.2 L72,290.3 L71,290.4 L70,290.5 L69,290.6 L68,290.8 L67,290.9 L66,291 L65,291.1 L64,291.2 L63,291.4 L62,291.5 L61,291.6 L60,291.7 L59,291.8 L58,291.9 L57,292.1 L56,292.2 L55,292.3 L54,292.4 L53,292.5 L52,292.7 L51,292.8 L50,292.9 L49,293 L48,293.1 L47,293.3 L46,293.4 L45,293.5 L44,293.6 L43,293.7 L42,293.9 L41,294 L40,294.1 L39,294.2 L38,294.3 L37,294.4 L36,294.6 L35,294.7 L34,294.8 L33,294.9 L32,295 L31,295.2 L30,295.3Z" fill="#dc2020" fill-opacity="0.7" /><path d="M30,246.6 L31,246.6 L32,246.6 L33,246.6 L34,246.6 L35,246.6 L36,246.6 L37,246.6 L38,246.6 L39,246.6 L40,246.6 L41,246.6 L42,246.6 L43,246.6 L44,246.6 L45,246.6 L46,246.6 L47,246.6 L48,246.6 L49,246.6 L50,246.6 L51,246.6 L52,246.6 L53,246.6 L54,246.6 L55,246.6 L56,246.6 L57,246.6 L58,246.6 L59,246.6 L60,246.6 L61,246.6 L62,246.6 L63,246.6 L64,246.6 L65,246.6 L66,246.6 L67,246.6 L68,246.6 L69,246.6 L70,246.6 L71,246.6 L72,246.6 L73,246.6 L74,246.6 L75,246.6 L76,246.6 L77,246.6 L78,246.6 L79,246.6 L80,246.6 L81,246.6 L82,246.6 L83,246.6 L84,246.6 L85,246.6 L86,246.6 L87,246.6 L88,246.6 L89,246.6 L90,246.6 L91,246.6 L92,246.6 L93,246.6 L94,246.6 L95,246.6 L96,246.6 L97,246.6 L98,246.6 L99,246.6 L100,246.6 L101,246.6 L102,246.6 L103,246.6 L104,246.6 L105,246.6 L106,246.6 L107,246.6 L108,246.6 L109,246.6 L110,246.6 L111,246.6 L112,246.6 L113,246.6 L114,246.6 L115,246.6 L116,246.6 L117,246.6 L118,246.6 L119,246.6 L120,246.6 L121,246.6 L122,246.6 L123,246.6 L124,246.6 L125,246.6 L126,246.6 L127,246.6 L128,246.6 L129,246.6 L130,246.6 L131,246.6 L132,246.6 L133,246.6 L134,246.6 L135,246.6 L136,246.6 L137,246.6 L138,246.6 L139,246.6 L140,246.6 L141,246.6 L142,246.6 L143,246.6 L144,246.6 L145,246.6 L146,246.6 L147,246.6 L148,246.6 L149,246.6 L150,246.6 L151,246.6 L152,246.6 L153,246.6 L154,246.6 L155,246.6 L156,246.6 L157,246.6 L158,246.6 L159,246.6 L160,246.6 L161,246.6 L162,246.6 L163,246.6 L164,246.6 L165,246.6 L166,246.6 L167,246.6 L168,246.6 L169,246.6 L170,246.6 L171,246.6 L172,246.6 L173,246.6 L174,246.6 L175,246.6 L176,246.6 L177,246.6 L178,246.6 L179,246.6 L180,246.6 L181,246.6 L182,246.6 L183,246.6 L184,246.6 L185,246.6 L186,246.6 L187,246.6 L188,246.6 L189,246.6 L190,246.6 L191,246.6 L192,246.6 L193,246.6 L194,246.6 L195,246.6 L196,246.6 L197,246.6 L198,246.6 L199,246.6 L200,246.6 L201,246.6 L202,246.6 L203,246.6 L204,246.6 L205,246.6 L206,246.6 L207,246.6 L208,246.6 L209,246.6 L210,246.6 L211,246.6 L212,246.6 L213,246.6 L214,246.6 L215,246.6 L216,246.6 L217,246.6 L218,246.6 L219,246.6 L220,246.6 L221,246.6 L222,246.6 L223,246.6 L224,246.6 L225,246.6 L226,246.6 L227,246.6 L228,246.6 L229,246.6 L230,246.6 L231,246.6 L232,246.6 L233,246.6 L234,246.6 L235,246.6 L236,246.6 L237,246.6 L238,246.6 L239,246.6 L240,246.6 L241,246.6 L242,246.6 L243,246.6 L244,246.6 L245,246.6 L246,246.6 L247,246.6 L248,246.6 L249,246.6 L250,246.6 L251,246.6 L252,246.6 L253,246.6 L254,246.6 L255,246.6 L256,246.6 L257,246.6 L258,246.6 L259,246.6 L260,246.6 L261,246.6 L262,246.6 L263,246.6 L264,246.6 L265,246.6 L266,246.6 L267,246.6 L268,246.6 L269,246.6 L270,246.6 L271,246.6 L272,246.6 L273,246.6 L274,246.6 L275,246.6 L276,246.6 L277,246.6 L278,246.6 L279,246.6 L280,246.6 L281,246.6 L282,246.6 L283,246.6 L284,246.6 L285,246.6 L286,246.6 L287,246.6 L288,246.6 L289,246.6 L290,246.6 L291,246.6 L292,246.6 L293,246.6 L294,246.6 L295,246.6 L296,246.6 L297,246.6 L298,246.6 L299,246.6 L300,246.6 L301,246.6 L302,246.6 L303,246.6 L304,246.6 L305,246.6 L306,246.6 L307,246.6 L308,246.6 L309,246.6 L310,246.6 L311,246.6 L312,246.6 L313,246.6 L314,246.6 L315,246.6 L316,246.6 L317,246.6 L318,246.6 L319,246.6 L320,246.6 L321,246.6 L322,246.6 L323,246.6 L324,246.6 L325,246.6 L326,246.6 L327,246.6 L328,246.6 L329,246.6 L330,246.6 L331,246.6 L332,246.6 L333,246.6 L334,246.6 L335,246.6 L336,246.6 L337,246.6 L338,246.6 L339,246.6 L340,246.6 L341,246.6 L342,246.6 L343,246.6 L344,246.6 L345,246.6 L346,246.6 L347,246.6 L348,246.6 L349,246.6 L350,246.6 L351,246.6 L352,246.6 L353,246.6 L354,246.6 L355,246.6 L356,246.6 L357,246.6 L358,246.6 L359,246.6 L360,246.6 L361,246.6 L362,246.6 L363,246.6 L364,246.6 L365,246.6 L366,246.6 L367,246.6 L368,246.6 L369,246.6 L370,246.6 L371,246.6 L372,246.6 L373,246.6 L374,246.6 L375,246.6 L376,246.6 L377,246.6 L378,246.6 L379,246.6 L380,246.6 L381,246.6 L382,246.6 L383,246.6 L384,246.6 L385,246.6 L386,246.6 L387,246.6 L388,246.6 L389,246.6 L390,246.6 L391,246.6 L392,246.6 L393,246.6 L394,246.6 L395,246.6 L396,246.6 L397,246.6 L398,246.6 L399,246.6 L400,246.6 L401,246.6 L402,246.6 L403,246.6 L404,246.6 L405,246.6 L406,246.6 L407,246.6 L408,246.6 L409,246.6 L410,246.6 L411,246.6 L412,246.6 L413,246.6 L414,246.6 L415,246.6 L416,246.6 L417,246.6 L418,246.6 L419,246.6 L420,246.6 L421,246.6 L422,246.6 L423,246.6 L424,246.6 L425,246.6 L426,246.6 L427,246.6 L428,246.6 L429,246.6 L430,246.6 L431,246.6 L432,246.6 L433,246.6 L434,246.6 L435,246.6 L436,246.6 L437,246.6 L438,246.6 L439,246.6 L440,246.6 L441,246.6 L442,246.6 L443,246.6 L444,246.6 L445,246.6 L446,246.6 L447,246.6 L448,246.6 L449,246.6 L450,246.6 L451,246.6 L452,246.6 L453,246.6 L454,246.6 L455,246.6 L456,246.6 L457,246.6 L458,246.6 L459,246.6 L460,246.6 L461,246.6 L462,246.6 L463,246.6 L464,246.6 L465,246.6 L466,246.6 L467,246.6 L468,246.6 L469,246.6 L470,246.6 L471,246.6 L472,246.6 L473,246.6 L474,246.6 L475,246.6 L476,246.6 L477,246.6 L478,246.6 L479,246.6 L480,246.6 L481,246.6 L482,246.6 L483,246.6 L484,246.6 L485,246.6 L486,246.6 L487,246.6 L488,246.6 L489,246.6 L490,246.6 L491,246.6 L492,246.6 L493,246.6 L494,246.6 L495,246.6 L496,246.6 L497,246.6 L498,246.6 L499,246.6 L500,246.6 L501,246.6 L502,246.6 L503,246.6 L504,246.6 L505,246.6 L506,246.6 L507,246.6 L508,246.6 L509,246.6 L510,246.6 L511,246.6 L512,246.6 L513,246.6 L514,246.6 L515,246.6 L516,246.6 L517,246.6 L518,246.6 L519,246.6 L520,246.6 L521,246.6 L522,246.6 L523,246.6 L524,246.6 L525,246.6 L526,246.6 L527,246.6 L528,246.6 L529,246.6 L530,246.6 L531,246.6 L532,246.6 L533,246.6 L534,246.6 L535,246.6 L536,246.6 L537,246.6 L538,246.6 L539,246.6 L540,246.6 L541,246.6 L542,246.6 L543,246.6 L544,246.6 L545,246.6 L546,246.6 L547,246.6 L548,246.6 L549,246.6 L550,246.6 L551,246.6 L552,246.6 L553,246.6 L554,246.6 L555,246.6 L556,246.6 L557,246.6 L558,246.6 L559,246.6 L560,246.6 L561,246.6 L562,246.6 L563,246.6 L564,246.6 L565,246.6 L566,246.6 L567,246.6 L568,246.6 L569,246.6 L570,246.6 L571,246.6 L572,246.6 L573,246.6 L574,246.6 L575,246.6 L576,246.6 L577,246.6 L578,246.6 L579,246.6 L580,246.6 L581,246.6 L582,246.6 L583,246.6 L584,246.6 L585,246.6 L586,246.6 L587,246.6 L588,246.6 L589,246.6 L590,246.6 L591,246.6 L592,246.6 L593,246.6 L594,246.6 L595,246.6 L596,246.6 L597,246.6 L598,246.6 L599,246.6 L600,246.6 L601,246.6 L602,246.6 L603,246.6 L604,246.6 L605,246.6 L606,246.6 L607,246.6 L608,246.6 L609,246.6 L610,246.6 L611,246.6 L612,246.6 L613,246.6 L614,246.6 L615,246.6 L616,246.6 L617,246.6 L618,246.6 L619,246.6 L620,246.6 L621,246.6 L622,246.6 L623,246.6 L624,246.6 L625,246.6 L626,246.6 L627,246.6 L628,246.6 L629,246.6 L630,246.6 L631,246.6 L632,246.6 L633,246.6 L634,246.6 L635,246.6 L636,246.6 L637,246.6 L638,246.6 L639,246.6 L640,246.6 L641,246.6 L642,246.6 L643,246.6 L644,246.6 L645,246.6 L646,246.6 L647,246.6 L648,246.6 L649,246.6 L650,246.6 L651,246.6 L652,246.6 L653,246.6 L654,246.6 L655,246.6 L656,246.6 L657,246.6 L658,246.6 L659,246.6 L660,246.6 L661,246.6 L662,246.6 L663,246.6 L664,246.6 L665,246.6 L666,246.6 L667,246.6 L668,246.6 L669,246.6 L670,246.6 L671,246.6 L672,246.6 L673,246.6 L674,246.6 L675,246.6 L676,246.6 L677,246.6 L678,246.6 L679,246.6 L680,246.6 L681,246.6 L682,246.6 L683,246.6 L684,246.6 L685,246.6 L686,246.6 L687,246.6 L688,246.6 L689,246.6 L690,246.6 L691,246.6 L692,246.6 L693,246.6 L694,246.6 L695,246.6 L696,246.6 L697,246.6 L698,246.6 L699,246.6 L700,246.6 L701,246.6 L702,246.6 L703,246.6 L704,246.6 L705,246.6 L706,246.6 L707,246.6 L708,246.6 L709,246.6 L710,246.6 L711,246.6 L712,246.6 L713,246.6 L714,246.6 L715,246.6 L716,246.6 L717,246.6 L718,246.6 L719,246.6 L720,246.6 L721,246.6 L722,246.6 L723,246.6 L724,246.6 L725,246.6 L726,246.6 L727,246.6 L728,246.6 L729,246.6 L730,246.6 L731,246.6 L732,246.6 L733,246.6 L734,246.6 L735,246.6 L736,246.6 L737,246.6 L738,246.6 L739,246.6 L740,246.6 L741,246.6 L742,246.6 L743,246.6 L744,246.6 L745,246.6 L746,246.6 L747,246.6 L748,246.6 L749,246.6 L750,246.6 L751,246.6 L752,246.6 L753,246.6 L754,246.6 L755,246.6 L756,246.6 L757,246.6 L758,246.6 L759,246.6 L760,246.6 L761,246.6 L762,246.6 L763,246.6 L764,246.6 L765,246.6 L766,246.6 L767,246.6 L768,246.6 L769,246.6 L770,246.6 L771,246.6 L772,246.6 L773,246.6 L774,246.6 L775,246.6 L776,246.6 L777,246.6 L778,246.6 L779,246.6 L780,246.6 L781,246.6 L782,246.6 L783,246.6 L784,246.6 L785,246.6 L786,246.6 L786,247.3 L785,247.3 L784,247.4 L783,247.4 L782,247.4 L781,247.4 L780,247.4 L779,247.4 L778,247.4 L777,247.4 L776,247.4 L775,247.4 L774,247.4 L773,247.4 L772,247.4 L771,247.4 L770,247.5 L769,247.5 L768,247.5 L767,247.5 L766,247.5 L765,247.5 L764,247.5 L763,247.5 L762,247.5 L761,247.5 L760,247.5 L759,247.5 L758,247.6 L757,247.6 L756,247.6 L755,247.6 L754,247.6 L753,247.6 L752,247.6 L751,247.6 L750,247.6 L749,247.6 L748,247.6 L747,247.7 L746,247.7 L745,247.7 L744,247.7 L743,247.7 L742,247.7 L741,247.7 L740,247.7 L739,247.7 L738,247.8 L737,247.8 L736,247.8 L735,247.8 L734,247.8 L733,247.8 L732,247.8 L731,247.8 L730,247.8 L729,247.9 L728,247.9 L727,247.9 L726,247.9 L725,247.9 L724,247.9 L723,247.9 L722,247.9 L721,248 L720,248 L719,248 L718,248 L717,248 L716,248 L715,248 L714,248.1 L713,248.1 L712,248.1 L711,248.1 L710,248.1 L709,248.1 L708,248.2 L707,248.2 L706,248.2 L705,248.2 L704,248.2 L703,248.2 L702,248.3 L701,248.3 L700,248.3 L699,248.3 L698,248.3 L697,248.3 L696,248.4 L695,248.4 L694,248.4 L693,248.4 L692,248.4 L691,248.5 L690,248.5 L689,248.5 L688,248.5 L687,248.5 L686,248.6 L685,248.6 L684,248.6 L683,248.6 L682,248.6 L681,248.7 L680,248.7 L679,248.7 L678,248.7 L677,248.8 L676,248.8 L675,248.8 L674,248.8 L673,248.9 L672,248.9 L671,248.9 L670,248.9 L669,249 L668,249 L667,249 L666,249 L665,249.1 L664,249.1 L663,249.1 L662,249.2 L661,249.2 L660,249.2 L659,249.3 L658,249.3 L657,249.3 L656,249.3 L655,249.4 L654,249.4 L653,249.4 L652,249.5 L651,249.5 L650,249.6 L649,249.6 L648,249.6 L647,249.7 L646,249.7 L645,249.7 L644,249.8 L643,249.8 L642,249.9 L641,249.9 L640,249.9 L639,250 L638,250 L637,250.1 L636,250.1 L635,250.2 L634,250.2 L633,250.3 L632,250.3 L631,250.4 L630,250.4 L629,250.5 L628,250.5 L627,250.6 L626,250.6 L625,250.7 L624,250.7 L623,250.8 L622,250.8 L621,250.9 L620,251 L619,251 L618,251.1 L617,251.1 L616,251.2 L615,251.3 L614,251.3 L613,251.4 L612,251.5 L611,251.5 L610,251.6 L609,251.7 L608,251.8 L607,251.8 L606,251.9 L605,252 L604,252.1 L603,252.2 L602,252.2 L601,252.3 L600,252.4 L599,252.5 L598,252.6 L597,252.7 L596,252.8 L595,252.9 L594,253 L593,253.1 L592,253.2 L591,253.3 L590,253.4 L589,253.5 L588,253.6 L587,253.7 L586,253.9 L585,254 L584,254.1 L583,254.2 L582,254.4 L581,254.5 L580,254.6 L579,254.8 L578,254.9 L577,255.1 L576,255.2 L575,255.4 L574,255.5 L573,255.7 L572,255.8 L571,256 L570,256.2 L569,256.4 L568,256.6 L567,256.7 L566,256.9 L565,257.1 L564,257.3 L563,257.5 L562,257.8 L561,258 L560,258.2 L559,258.4 L558,258.7 L557,258.9 L556,259.2 L555,259.4 L554,259.7 L553,260 L552,260.3 L551,260.5 L550,260.8 L549,261.2 L548,261.5 L547,261.8 L546,262.1 L545,262.5 L544,262.9 L543,263.2 L542,263.6 L541,264 L540,264.4 L539,264.8 L538,265.3 L537,265.7 L536,266.2 L535,266.7 L534,267.2 L533,267.7 L532,268.2 L531,268.8 L530,269.3 L529,269.9 L528,270.6 L527,271.2 L526,271.9 L525,272.5 L524,273.2 L523,274 L522,274.7 L521,275.5 L520,276.4 L519,277.2 L518,278.1 L517,279 L516,280 L515,281 L514,282 L513,283.1 L512,284.3 L511,285.4 L510,286.7 L509,287.9 L508,289.3 L507,290.7 L506,292.1 L505,293.6 L504,295.2 L503,296.8 L502,298.5 L501,300.3 L500,302.2 L499,304.2 L498,306.2 L497,308.3 L496,310.6 L495,312.9 L494,315.3 L493,317.9 L492,320.5 L491,323.3 L490,326.2 L489,329.2 L488,332.4 L487,335.6 L486,339.1 L485,342.6 L484,346.3 L483,350.1 L482,354.1 L481,358.2 L480,362.3 L479,366.6 L478,371 L477,375.5 L476,379.9 L475,384.4 L474,388.8 L473,393.1 L472,397.2 L471,401 L470,404.5 L469,407.5 L468,410.1 L467,412 L466,413.2 L465,413.7 L464,413.5 L463,412.6 L462,410.9 L461,408.6 L460,405.8 L459,402.5 L458,398.7 L457,394.7 L456,390.5 L455,386.2 L454,381.7 L453,377.3 L452,372.8 L451,368.4 L450,364.1 L449,359.8 L448,355.7 L447,351.7 L446,347.8 L445,344.1 L444,340.5 L443,337 L442,333.7 L441,330.5 L440,327.4 L439,324.4 L438,321.6 L437,318.9 L436,316.3 L435,313.9 L434,311.5 L433,309.2 L432,307.1 L431,305 L430,303 L429,301.1 L428,299.3 L427,297.5 L426,295.8 L425,294.2 L424,292.7 L423,291.2 L422,289.8 L421,288.5 L420,287.2 L419,285.9 L418,284.7 L417,283.6 L416,282.5 L415,281.4 L414,280.4 L413,279.4 L412,278.5 L411,277.6 L410,276.7 L409,275.9 L408,275.1 L407,274.3 L406,273.5 L405,272.8 L404,272.1 L403,271.5 L402,270.8 L401,270.2 L400,269.6 L399,269 L398,268.4 L397,267.9 L396,267.4 L395,266.9 L394,266.4 L393,265.9 L392,265.5 L391,265 L390,264.6 L389,264.2 L388,263.8 L387,263.4 L386,263 L385,262.6 L384,262.3 L383,261.9 L382,261.6 L381,261.3 L380,261 L379,260.7 L378,260.4 L377,260.1 L376,259.8 L375,259.5 L374,259.3 L373,259 L372,258.8 L371,258.5 L370,258.3 L369,258.1 L368,257.8 L367,257.6 L366,257.4 L365,257.2 L364,257 L363,256.8 L362,256.6 L361,256.4 L360,256.3 L359,256.1 L358,255.9 L357,255.7 L356,255.6 L355,255.4 L354,255.3 L353,255.1 L352,255 L351,254.8 L350,254.7 L349,254.5 L348,254.4 L347,254.3 L346,254.2 L345,254 L344,253.9 L343,253.8 L342,253.7 L341,253.6 L340,253.4 L339,253.3 L338,253.2 L337,253.1 L336,253 L335,252.9 L334,252.8 L333,252.7 L332,252.6 L331,252.5 L330,252.4 L329,252.4 L328,252.3 L327,252.2 L326,252.1 L325,252 L324,251.9 L323,251.9 L322,251.8 L321,251.7 L320,251.6 L319,251.6 L318,251.5 L317,251.4 L316,251.4 L315,251.3 L314,251.2 L313,251.2 L312,251.1 L311,251 L310,251 L309,250.9 L308,250.9 L307,250.8 L306,250.7 L305,250.7 L304,250.6 L303,250.6 L302,250.5 L301,250.5 L300,250.4 L299,250.4 L298,250.3 L297,250.3 L296,250.2 L295,250.2 L294,250.1 L293,250.1 L292,250 L291,250 L290,250 L289,249.9 L288,249.9 L287,249.8 L286,249.8 L285,249.8 L284,249.7 L283,249.7 L282,249.6 L281,249.6 L280,249.6 L279,249.5 L278,249.5 L277,249.5 L276,249.4 L275,249.4 L274,249.4 L273,249.3 L272,249.3 L271,249.3 L270,249.2 L269,249.2 L268,249.2 L267,249.1 L266,249.1 L265,249.1 L264,249.1 L263,249 L262,249 L261,249 L260,248.9 L259,248.9 L258,248.9 L257,248.9 L256,248.8 L255,248.8 L254,248.8 L253,248.8 L252,248.7 L251,248.7 L250,248.7 L249,248.7 L248,248.7 L247,248.6 L246,248.6 L245,248.6 L244,248.6 L243,248.5 L242,248.5 L241,248.5 L240,248.5 L239,248.5 L238,248.4 L237,248.4 L236,248.4 L235,248.4 L234,248.4 L233,248.3 L232,248.3 L231,248.3 L230,248.3 L229,248.3 L228,248.3 L227,248.2 L226,248.2 L225,248.2 L224,248.2 L223,248.2 L222,248.2 L221,248.1 L220,248.1 L219,248.1 L218,248.1 L217,248.1 L216,248.1 L215,248.1 L214,248 L213,248 L212,248 L211,248 L210,248 L209,248 L208,248 L207,247.9 L206,247.9 L205,247.9 L204,247.9 L203,247.9 L202,247.9 L201,247.9 L200,247.9 L199,247.8 L198,247.8 L197,247.8 L196,247.8 L195,247.8 L194,247.8 L193,247.8 L192,247.8 L191,247.7 L190,247.7 L189,247.7 L188,247.7 L187,247.7 L186,247.7 L185,247.7 L184,247.7 L183,247.7 L182,247.7 L181,247.6 L180,247.6 L179,247.6 L178,247.6 L177,247.6 L176,247.6 L175,247.6 L174,247.6 L173,247.6 L172,247.6 L171,247.6 L170,247.5 L169,247.5 L168,247.5 L167,247.5 L166,247.5 L165,247.5 L164,247.5 L163,247.5 L162,247.5 L161,247.5 L160,247.5 L159,247.5 L158,247.4 L157,247.4 L156,247.4 L155,247.4 L154,247.4 L153,247.4 L152,247.4 L151,247.4 L150,247.4 L149,247.4 L148,247.4 L147,247.4 L146,247.4 L145,247.4 L144,247.3 L143,247.3 L142,247.3 L141,247.3 L140,247.3 L139,247.3 L138,247.3 L137,247.3 L136,247.3 L135,247.3 L134,247.3 L133,247.3 L132,247.3 L131,247.3 L130,247.3 L129,247.3 L128,247.2 L127,247.2 L126,247.2 L125,247.2 L124,247.2 L123,247.2 L122,247.2 L121,247.2 L120,247.2 L119,247.2 L118,247.2 L117,247.2 L116,247.2 L115,247.2 L114,247.2 L113,247.2 L112,247.2 L111,247.2 L110,247.2 L109,247.1 L108,247.1 L107,247.1 L106,247.1 L105,247.1 L104,247.1 L103,247.1 L102,247.1 L101,247.1 L100,247.1 L99,247.1 L98,247.1 L97,247.1 L96,247.1 L95,247.1 L94,247.1 L93,247.1 L92,247.1 L91,247.1 L90,247.1 L89,247.1 L88,247.1 L87,247.1 L86,247.1 L85,247 L84,247 L83,247 L82,247 L81,247 L80,247 L79,247 L78,247 L77,247 L76,247 L75,247 L74,247 L73,247 L72,247 L71,247 L70,247 L69,247 L68,247 L67,247 L66,247 L65,247 L64,247 L63,247 L62,247 L61,247 L60,247 L59,247 L58,247 L57,247 L56,247 L55,246.9 L54,246.9 L53,246.9 L52,246.9 L51,246.9 L50,246.9 L49,246.9 L48,246.9 L47,246.9 L46,246.9 L45,246.9 L44,246.9 L43,246.9 L42,246.9 L41,246.9 L40,246.9 L39,246.9 L38,246.9 L37,246.9 L36,246.9 L35,246.9 L34,246.9 L33,246.9 L32,246.9 L31,246.9 L30,246.9Z" fill="#dc2020" fill-opacity="0.95" /><path d="M30,246.6 L31,246.6 L32,246.6 L33,246.6 L34,246.6 L35,246.6 L36,246.6 L37,246.6 L38,246.6 L39,246.6 L40,246.6 L41,246.6 L42,246.6 L43,246.6 L44,246.6 L45,246.6 L46,246.6 L47,246.6 L48,246.6 L49,246.6 L50,246.6 L51,246.6 L52,246.6 L53,246.6 L54,246.6 L55,246.6 L56,246.6 L57,246.6 L58,246.6 L59,246.6 L60,246.6 L61,246.6 L62,246.6 L63,246.6 L64,246.6 L65,246.6 L66,246.6 L67,246.6 L68,246.6 L69,246.6 L70,246.6 L71,246.6 L72,246.6 L73,246.6 L74,246.6 L75,246.6 L76,246.6 L77,246.6 L78,246.6 L79,246.6 L80,246.6 L81,246.6 L82,246.6 L83,246.6 L84,246.6 L85,246.6 L86,246.6 L87,246.6 L88,246.6 L89,246.6 L90,246.6 L91,246.6 L92,246.6 L93,246.6 L94,246.6 L95,246.6 L96,246.6 L97,246.6 L98,246.6 L99,246.6 L100,246.6 L101,246.6 L102,246.6 L103,246.6 L104,246.6 L105,246.6 L106,246.6 L107,246.6 L108,246.6 L109,246.6 L110,246.6 L111,246.6 L112,246.6 L113,246.6 L114,246.6 L115,246.6 L116,246.6 L117,246.6 L118,246.6 L119,246.6 L120,246.6 L121,246.6 L122,246.6 L123,246.6 L124,246.6 L125,246.6 L126,246.6 L127,246.6 L128,246.6 L129,246.6 L130,246.6 L131,246.6 L132,246.6 L133,246.6 L134,246.6 L135,246.6 L136,246.6 L137,246.6 L138,246.6 L139,246.6 L140,246.6 L141,246.6 L142,246.6 L143,246.6 L144,246.6 L145,246.6 L146,246.6 L147,246.6 L148,246.6 L149,246.6 L150,246.6 L151,246.6 L152,246.6 L153,246.6 L154,246.6 L155,246.6 L156,246.6 L157,246.6 L158,246.6 L159,246.6 L160,246.6 L161,246.6 L162,246.6 L163,246.6 L164,246.6 L165,246.6 L166,246.6 L167,246.6 L168,246.6 L169,246.6 L170,246.6 L171,246.6 L172,246.6 L173,246.6 L174,246.6 L175,246.6 L176,246.6 L177,246.6 L178,246.6 L179,246.6 L180,246.6 L181,246.6 L182,246.6 L183,246.6 L184,246.6 L185,246.6 L186,246.6 L187,246.6 L188,246.6 L189,246.6 L190,246.6 L191,246.6 L192,246.6 L193,246.6 L194,246.6 L195,246.6 L196,246.6 L197,246.6 L198,246.6 L199,246.6 L200,246.6 L201,246.6 L202,246.6 L203,246.6 L204,246.6 L205,246.6 L206,246.6 L207,246.6 L208,246.6 L209,246.6 L210,246.6 L211,246.6 L212,246.6 L213,246.6 L214,246.6 L215,246.6 L216,246.6 L217,246.6 L218,246.6 L219,246.6 L220,246.6 L221,246.6 L222,246.6 L223,246.6 L224,246.6 L225,246.6 L226,246.6 L227,246.6 L228,246.6 L229,246.6 L230,246.6 L231,246.6 L232,246.6 L233,246.6 L234,246.6 L235,246.6 L236,246.6 L237,246.6 L238,246.6 L239,246.6 L240,246.6 L241,246.6 L242,246.6 L243,246.6 L244,246.6 L245,246.6 L246,246.6 L247,246.6 L248,246.6 L249,246.6 L250,246.6 L251,246.6 L252,246.6 L253,246.6 L254,246.6 L255,246.6 L256,246.6 L257,246.6 L258,246.6 L259,246.6 L260,246.6 L261,246.6 L262,246.6 L263,246.6 L264,246.6 L265,246.6 L266,246.6 L267,246.6 L268,246.6 L269,246.6 L270,246.6 L271,246.6 L272,246.6 L273,246.6 L274,246.6 L275,246.6 L276,246.6 L277,246.6 L278,246.6 L279,246.6 L280,246.6 L281,246.6 L282,246.6 L283,246.6 L284,246.6 L285,246.6 L286,246.6 L287,246.6 L288,246.6 L289,246.6 L290,246.6 L291,246.6 L292,246.6 L293,246.6 L294,246.6 L295,246.6 L296,246.6 L297,246.6 L298,246.6 L299,246.6 L300,246.6 L301,246.6 L302,246.6 L303,246.6 L304,246.6 L305,246.6 L306,246.6 L307,246.6 L308,246.6 L309,246.6 L310,246.6 L311,246.6 L312,246.6 L313,246.6 L314,246.6 L315,246.6 L316,246.6 L317,246.6 L318,246.6 L319,246.6 L320,246.6 L321,246.6 L322,246.6 L323,246.6 L324,246.6 L325,246.6 L326,246.6 L327,246.6 L328,246.6 L329,246.6 L330,246.6 L331,246.6 L332,246.6 L333,246.6 L334,246.6 L335,246.6 L336,246.6 L337,246.6 L338,246.6 L339,246.6 L340,246.6 L341,246.6 L342,246.6 L343,246.6 L344,246.6 L345,246.6 L346,246.6 L347,246.6 L348,246.6 L349,246.6 L350,246.6 L351,246.6 L352,246.6 L353,246.6 L354,246.6 L355,246.6 L356,246.6 L357,246.6 L358,246.6 L359,246.6 L360,246.6 L361,246.6 L362,246.6 L363,246.6 L364,246.6 L365,246.6 L366,246.6 L367,246.6 L368,246.6 L369,246.6 L370,246.6 L371,246.6 L372,246.6 L373,246.6 L374,246.6 L375,246.6 L376,246.6 L377,246.6 L378,246.6 L379,246.6 L380,246.6 L381,246.6 L382,246.6 L383,246.6 L384,246.6 L385,246.6 L386,246.6 L387,246.6 L388,246.6 L389,246.6 L390,246.6 L391,246.6 L392,246.6 L393,246.6 L394,246.6 L395,246.6 L396,246.6 L397,246.6 L398,246.6 L399,246.6 L400,246.6 L401,246.6 L402,246.6 L403,246.6 L404,246.6 L405,246.6 L406,246.6 L407,246.6 L408,246.6 L409,246.6 L410,246.6 L411,246.6 L412,246.6 L413,246.6 L414,246.6 L415,246.6 L416,246.6 L417,246.6 L418,246.6 L419,246.6 L420,246.6 L421,246.6 L422,246.6 L423,246.6 L424,246.6 L425,246.6 L426,246.6 L427,246.6 L428,246.6 L429,246.6 L430,246.6 L431,246.6 L432,246.6 L433,246.6 L434,246.6 L435,246.6 L436,246.6 L437,246.6 L438,246.6 L439,246.6 L440,246.6 L441,246.6 L442,246.6 L443,246.6 L444,246.6 L445,246.6 L446,246.6 L447,246.6 L448,246.6 L449,246.6 L450,246.6 L451,246.6 L452,246.6 L453,246.6 L454,246.6 L455,246.6 L456,246.6 L457,246.6 L458,246.6 L459,246.6 L460,246.6 L461,246.6 L462,246.6 L463,246.6 L464,246.6 L465,246.6 L466,246.6 L467,246.6 L468,246.6 L469,246.6 L470,246.6 L471,246.6 L472,246.6 L473,246.6 L474,246.6 L475,246.6 L476,246.6 L477,246.6 L478,246.6 L479,246.6 L480,246.6 L481,246.6 L482,246.6 L483,246.6 L484,246.6 L485,246.6 L486,246.6 L487,246.6 L488,246.6 L489,246.6 L490,246.6 L491,246.6 L492,246.6 L493,246.6 L494,246.6 L495,246.6 L496,246.6 L497,246.6 L498,246.6 L499,246.6 L500,246.6 L501,246.6 L502,246.6 L503,246.6 L504,246.6 L505,246.6 L506,246.6 L507,246.6 L508,246.6 L509,246.6 L510,246.6 L511,246.6 L512,246.6 L513,246.6 L514,246.6 L515,246.6 L516,246.6 L517,246.6 L518,246.6 L519,246.6 L520,246.6 L521,246.6 L522,246.6 L523,246.6 L524,246.6 L525,246.6 L526,246.6 L527,246.6 L528,246.6 L529,246.6 L530,246.6 L531,246.6 L532,246.6 L533,246.6 L534,246.6 L535,246.6 L536,246.6 L537,246.6 L538,246.6 L539,246.6 L540,246.6 L541,246.6 L542,246.6 L543,246.6 L544,246.6 L545,246.6 L546,246.6 L547,246.6 L548,246.6 L549,246.6 L550,246.6 L551,246.6 L552,246.6 L553,246.6 L554,246.6 L555,246.6 L556,246.6 L557,246.6 L558,246.6 L559,246.6 L560,246.6 L561,246.6 L562,246.6 L563,246.6 L564,246.6 L565,246.6 L566,246.6 L567,246.6 L568,246.6 L569,246.6 L570,246.6 L571,246.6 L572,246.6 L573,246.6 L574,246.6 L575,246.6 L576,246.6 L577,246.6 L578,246.6 L579,246.6 L580,246.6 L581,246.6 L582,246.6 L583,246.6 L584,246.6 L585,246.6 L586,246.6 L587,246.6 L588,246.6 L589,246.6 L590,246.6 L591,246.6 L592,246.6 L593,246.6 L594,246.6 L595,246.6 L596,246.6 L597,246.6 L598,246.6 L599,246.6 L600,246.6 L601,246.6 L602,246.6 L603,246.6 L604,246.6 L605,246.6 L606,246.6 L607,246.6 L608,246.6 L609,246.6 L610,246.6 L611,246.6 L612,246.6 L613,246.6 L614,246.6 L615,246.6 L616,246.6 L617,246.6 L618,246.6 L619,246.6 L620,246.6 L621,246.6 L622,246.6 L623,246.6 L624,246.6 L625,246.6 L626,246.6 L627,246.6 L628,246.6 L629,246.6 L630,246.6 L631,246.6 L632,246.6 L633,246.6 L634,246.6 L635,246.6 L636,246.6 L637,246.6 L638,246.6 L639,246.6 L640,246.6 L641,246.6 L642,246.6 L643,246.6 L644,246.6 L645,246.6 L646,246.6 L647,246.6 L648,246.6 L649,246.6 L650,246.6 L651,246.6 L652,246.6 L653,246.6 L654,246.6 L655,246.6 L656,246.6 L657,246.6 L658,246.6 L659,246.6 L660,246.6 L661,246.6 L662,246.6 L663,246.6 L664,246.6 L665,246.6 L666,246.6 L667,246.6 L668,246.6 L669,246.6 L670,246.6 L671,246.6 L672,246.6 L673,246.6 L674,246.6 L675,246.6 L676,246.6 L677,246.6 L678,246.6 L679,246.6 L680,246.6 L681,246.6 L682,246.6 L683,246.6 L684,246.6 L685,246.6 L686,246.6 L687,246.6 L688,246.6 L689,246.6 L690,246.6 L691,246.6 L692,246.6 L693,246.6 L694,246.6 L695,246.6 L696,246.6 L697,246.6 L698,246.6 L699,246.6 L700,246.6 L701,246.6 L702,246.6 L703,246.6 L704,246.6 L705,246.6 L706,246.6 L707,246.6 L708,246.6 L709,246.6 L710,246.6 L711,246.6 L712,246.6 L713,246.6 L714,246.6 L715,246.6 L716,246.6 L717,246.6 L718,246.6 L719,246.6 L720,246.6 L721,246.6 L722,246.6 L723,246.6 L724,246.6 L725,246.6 L726,246.6 L727,246.6 L728,246.6 L729,246.6 L730,246.6 L731,246.6 L732,246.6 L733,246.6 L734,246.6 L735,246.6 L736,246.6 L737,246.6 L738,246.6 L739,246.6 L740,246.6 L741,246.6 L742,246.6 L743,246.6 L744,246.6 L745,246.6 L746,246.6 L747,246.6 L748,246.6 L749,246.6 L750,246.6 L751,246.6 L752,246.6 L753,246.6 L754,246.6 L755,246.6 L756,246.6 L757,246.6 L758,246.6 L759,246.6 L760,246.6 L761,246.6 L762,246.6 L763,246.6 L764,246.6 L765,246.6 L766,246.6 L767,246.6 L768,246.6 L769,246.6 L770,246.6 L771,246.6 L772,246.6 L773,246.6 L774,246.6 L775,246.6 L776,246.6 L777,246.6 L778,246.6 L779,246.6 L780,246.6 L781,246.6 L782,246.6 L783,246.6 L784,246.6 L785,246.6 L786,246.6 L786,254.1 L785,254.3 L784,254.4 L783,254.6 L782,254.7 L781,254.9 L780,255 L779,255.2 L778,255.4 L777,255.6 L776,255.7 L775,255.9 L774,256.1 L773,256.3 L772,256.5 L771,256.7 L770,256.9 L769,257.2 L768,257.4 L767,257.6 L766,257.9 L765,258.1 L764,258.4 L763,258.7 L762,258.9 L761,259.2 L760,259.5 L759,259.8 L758,260.1 L757,260.5 L756,260.8 L755,261.2 L754,261.5 L753,261.9 L752,262.3 L751,262.7 L750,263.1 L749,263.5 L748,264 L747,264.4 L746,264.9 L745,265.4 L744,265.9 L743,266.4 L742,267 L741,267.6 L740,268.1 L739,268.8 L738,269.4 L737,270.1 L736,270.8 L735,271.5 L734,272.3 L733,273 L732,273.9 L731,274.7 L730,275.6 L729,276.5 L728,277.5 L727,278.5 L726,279.6 L725,280.7 L724,281.8 L723,283 L722,284.3 L721,285.6 L720,287 L719,288.4 L718,289.9 L717,291.5 L716,293.1 L715,294.8 L714,296.6 L713,298.5 L712,300.4 L711,302.5 L710,304.6 L709,306.8 L708,309.2 L707,311.6 L706,314.1 L705,316.8 L704,319.5 L703,322.3 L702,325.3 L701,328.3 L700,331.5 L699,334.7 L698,338.1 L697,341.5 L696,344.9 L695,348.4 L694,351.9 L693,355.4 L692,358.8 L691,362.1 L690,365.3 L689,368.3 L688,371.1 L687,373.5 L686,375.6 L685,377.3 L684,378.5 L683,379.3 L682,379.5 L681,379.2 L680,378.3 L679,377 L678,375.3 L677,373.1 L676,370.6 L675,367.8 L674,364.7 L673,361.5 L672,358.2 L671,354.7 L670,351.2 L669,347.7 L668,344.2 L667,340.8 L666,337.4 L665,334.1 L664,330.9 L663,327.8 L662,324.7 L661,321.8 L660,319 L659,316.2 L658,313.6 L657,311.1 L656,308.7 L655,306.4 L654,304.2 L653,302.1 L652,300 L651,298.1 L650,296.2 L649,294.5 L648,292.8 L647,291.1 L646,289.6 L645,288.1 L644,286.7 L643,285.3 L642,284 L641,282.8 L640,281.6 L639,280.5 L638,279.4 L637,278.3 L636,277.3 L635,276.4 L634,275.4 L633,274.6 L632,273.7 L631,272.9 L630,272.1 L629,271.4 L628,270.6 L627,270 L626,269.3 L625,268.6 L624,268 L623,267.4 L622,266.9 L621,266.3 L620,265.8 L619,265.3 L618,264.8 L617,264.3 L616,263.9 L615,263.4 L614,263 L613,262.6 L612,262.2 L611,261.8 L610,261.4 L609,261.1 L608,260.7 L607,260.4 L606,260.1 L605,259.8 L604,259.5 L603,259.2 L602,258.9 L601,258.6 L600,258.3 L599,258.1 L598,257.8 L597,257.6 L596,257.4 L595,257.1 L594,256.9 L593,256.7 L592,256.5 L591,256.3 L590,256.1 L589,255.9 L588,255.7 L587,255.5 L586,255.3 L585,255.2 L584,255 L583,254.8 L582,254.7 L581,254.5 L580,254.4 L579,254.2 L578,254.1 L577,254 L576,253.8 L575,253.7 L574,253.6 L573,253.4 L572,253.3 L571,253.2 L570,253.1 L569,253 L568,252.9 L567,252.7 L566,252.6 L565,252.5 L564,252.4 L563,252.3 L562,252.2 L561,252.1 L560,252.1 L559,252 L558,251.9 L557,251.8 L556,251.7 L555,251.6 L554,251.5 L553,251.5 L552,251.4 L551,251.3 L550,251.2 L549,251.2 L548,251.1 L547,251 L546,251 L545,250.9 L544,250.8 L543,250.8 L542,250.7 L541,250.7 L540,250.6 L539,250.5 L538,250.5 L537,250.4 L536,250.4 L535,250.3 L534,250.3 L533,250.2 L532,250.2 L531,250.1 L530,250.1 L529,250 L528,250 L527,249.9 L526,249.9 L525,249.8 L524,249.8 L523,249.7 L522,249.7 L521,249.7 L520,249.6 L519,249.6 L518,249.5 L517,249.5 L516,249.5 L515,249.4 L514,249.4 L513,249.3 L512,249.3 L511,249.3 L510,249.2 L509,249.2 L508,249.2 L507,249.1 L506,249.1 L505,249.1 L504,249 L503,249 L502,249 L501,249 L500,248.9 L499,248.9 L498,248.9 L497,248.8 L496,248.8 L495,248.8 L494,248.8 L493,248.7 L492,248.7 L491,248.7 L490,248.7 L489,248.6 L488,248.6 L487,248.6 L486,248.6 L485,248.5 L484,248.5 L483,248.5 L482,248.5 L481,248.5 L480,248.4 L479,248.4 L478,248.4 L477,248.4 L476,248.4 L475,248.3 L474,248.3 L473,248.3 L472,248.3 L471,248.3 L470,248.2 L469,248.2 L468,248.2 L467,248.2 L466,248.2 L465,248.2 L464,248.1 L463,248.1 L462,248.1 L461,248.1 L460,248.1 L459,248.1 L458,248 L457,248 L456,248 L455,248 L454,248 L453,248 L452,247.9 L451,247.9 L450,247.9 L449,247.9 L448,247.9 L447,247.9 L446,247.9 L445,247.9 L444,247.8 L443,247.8 L442,247.8 L441,247.8 L440,247.8 L439,247.8 L438,247.8 L437,247.8 L436,247.7 L435,247.7 L434,247.7 L433,247.7 L432,247.7 L431,247.7 L430,247.7 L429,247.7 L428,247.7 L427,247.6 L426,247.6 L425,247.6 L424,247.6 L423,247.6 L422,247.6 L421,247.6 L420,247.6 L419,247.6 L418,247.6 L417,247.5 L416,247.5 L415,247.5 L414,247.5 L413,247.5 L412,247.5 L411,247.5 L410,247.5 L409,247.5 L408,247.5 L407,247.5 L406,247.5 L405,247.4 L404,247.4 L403,247.4 L402,247.4 L401,247.4 L400,247.4 L399,247.4 L398,247.4 L397,247.4 L396,247.4 L395,247.4 L394,247.4 L393,247.4 L392,247.3 L391,247.3 L390,247.3 L389,247.3 L388,247.3 L387,247.3 L386,247.3 L385,247.3 L384,247.3 L383,247.3 L382,247.3 L381,247.3 L380,247.3 L379,247.3 L378,247.3 L377,247.2 L376,247.2 L375,247.2 L374,247.2 L373,247.2 L372,247.2 L371,247.2 L370,247.2 L369,247.2 L368,247.2 L367,247.2 L366,247.2 L365,247.2 L364,247.2 L363,247.2 L362,247.2 L361,247.2 L360,247.2 L359,247.2 L358,247.1 L357,247.1 L356,247.1 L355,247.1 L354,247.1 L353,247.1 L352,247.1 L351,247.1 L350,247.1 L349,247.1 L348,247.1 L347,247.1 L346,247.1 L345,247.1 L344,247.1 L343,247.1 L342,247.1 L341,247.1 L340,247.1 L339,247.1 L338,247.1 L337,247.1 L336,247.1 L335,247 L334,247 L333,247 L332,247 L331,247 L330,247 L329,247 L328,247 L327,247 L326,247 L325,247 L324,247 L323,247 L322,247 L321,247 L320,247 L319,247 L318,247 L317,247 L316,247 L315,247 L314,247 L313,247 L312,247 L311,247 L310,247 L309,247 L308,247 L307,247 L306,246.9 L305,246.9 L304,246.9 L303,246.9 L302,246.9 L301,246.9 L300,246.9 L299,246.9 L298,246.9 L297,246.9 L296,246.9 L295,246.9 L294,246.9 L293,246.9 L292,246.9 L291,246.9 L290,246.9 L289,246.9 L288,246.9 L287,246.9 L286,246.9 L285,246.9 L284,246.9 L283,246.9 L282,246.9 L281,246.9 L280,246.9 L279,246.9 L278,246.9 L277,246.9 L276,246.9 L275,246.9 L274,246.9 L273,246.9 L272,246.9 L271,246.9 L270,246.9 L269,246.9 L268,246.9 L267,246.9 L266,246.9 L265,246.8 L264,246.8 L263,246.8 L262,246.8 L261,246.8 L260,246.8 L259,246.8 L258,246.8 L257,246.8 L256,246.8 L255,246.8 L254,246.8 L253,246.8 L252,246.8 L251,246.8 L250,246.8 L249,246.8 L248,246.8 L247,246.8 L246,246.8 L245,246.8 L244,246.8 L243,246.8 L242,246.8 L241,246.8 L240,246.8 L239,246.8 L238,246.8 L237,246.8 L236,246.8 L235,246.8 L234,246.8 L233,246.8 L232,246.8 L231,246.8 L230,246.8 L229,246.8 L228,246.8 L227,246.8 L226,246.8 L225,246.8 L224,246.8 L223,246.8 L222,246.8 L221,246.8 L220,246.8 L219,246.8 L218,246.8 L217,246.8 L216,246.8 L215,246.8 L214,246.8 L213,246.8 L212,246.8 L211,246.8 L210,246.8 L209,246.8 L208,246.8 L207,246.8 L206,246.8 L205,246.8 L204,246.8 L203,246.8 L202,246.8 L201,246.7 L200,246.7 L199,246.7 L198,246.7 L197,246.7 L196,246.7 L195,246.7 L194,246.7 L193,246.7 L192,246.7 L191,246.7 L190,246.7 L189,246.7 L188,246.7 L187,246.7 L186,246.7 L185,246.7 L184,246.7 L183,246.7 L182,246.7 L181,246.7 L180,246.7 L179,246.7 L178,246.7 L177,246.7 L176,246.7 L175,246.7 L174,246.7 L173,246.7 L172,246.7 L171,246.7 L170,246.7 L169,246.7 L168,246.7 L167,246.7 L166,246.7 L165,246.7 L164,246.7 L163,246.7 L162,246.7 L161,246.7 L160,246.7 L159,246.7 L158,246.7 L157,246.7 L156,246.7 L155,246.7 L154,246.7 L153,246.7 L152,246.7 L151,246.7 L150,246.7 L149,246.7 L148,246.7 L147,246.7 L146,246.7 L145,246.7 L144,246.7 L143,246.7 L142,246.7 L141,246.7 L140,246.7 L139,246.7 L138,246.7 L137,246.7 L136,246.7 L135,246.7 L134,246.7 L133,246.7 L132,246.7 L131,246.7 L130,246.7 L129,246.7 L128,246.7 L127,246.7 L126,246.7 L125,246.7 L124,246.7 L123,246.7 L122,246.7 L121,246.7 L120,246.7 L119,246.7 L118,246.7 L117,246.7 L116,246.7 L115,246.7 L114,246.7 L113,246.7 L112,246.7 L111,246.7 L110,246.7 L109,246.7 L108,246.7 L107,246.7 L106,246.7 L105,246.7 L104,246.7 L103,246.7 L102,246.7 L101,246.7 L100,246.7 L99,246.7 L98,246.7 L97,246.7 L96,246.7 L95,246.7 L94,246.7 L93,246.7 L92,246.7 L91,246.7 L90,246.7 L89,246.7 L88,246.7 L87,246.7 L86,246.7 L85,246.7 L84,246.7 L83,246.7 L82,246.7 L81,246.7 L80,246.7 L79,246.7 L78,246.7 L77,246.7 L76,246.7 L75,246.7 L74,246.7 L73,246.7 L72,246.7 L71,246.7 L70,246.7 L69,246.7 L68,246.7 L67,246.7 L66,246.7 L65,246.7 L64,246.7 L63,246.7 L62,246.7 L61,246.7 L60,246.7 L59,246.6 L58,246.6 L57,246.6 L56,246.6 L55,246.6 L54,246.6 L53,246.6 L52,246.6 L51,246.6 L50,246.6 L49,246.6 L48,246.6 L47,246.6 L46,246.6 L45,246.6 L44,246.6 L43,246.6 L42,246.6 L41,246.6 L40,246.6 L39,246.6 L38,246.6 L37,246.6 L36,246.6 L35,246.6 L34,246.6 L33,246.6 L32,246.6 L31,246.6 L30,246.6Z" fill="#1222c8" fill-opacity="1" /><path d="M30,294.7 L31,294.6 L32,294.4 L33,294.3 L34,294.2 L35,294.1 L36,294 L37,293.8 L38,293.7 L39,293.6 L40,293.5 L41,293.3 L42,293.2 L43,293.1 L44,293 L45,292.8 L46,292.7 L47,292.6 L48,292.5 L49,292.3 L50,292.2 L51,292.1 L52,292 L53,291.8 L54,291.7 L55,291.6 L56,291.5 L57,291.3 L58,291.2 L59,291.1 L60,291 L61,290.8 L62,290.7 L63,290.6 L64,290.5 L65,290.3 L66,290.2 L67,290.1 L68,290 L69,289.8 L70,289.7 L71,289.6 L72,289.5 L73,289.3 L74,289.2 L75,289.1 L76,289 L77,288.8 L78,288.7 L79,288.6 L80,288.4 L81,288.3 L82,288.2 L83,288.1 L84,287.9 L85,287.8 L86,287.7 L87,287.6 L88,287.4 L89,287.3 L90,287.2 L91,287.1 L92,286.9 L93,286.8 L94,286.7 L95,286.6 L96,286.4 L97,286.3 L98,286.2 L99,286.1 L100,285.9 L101,285.8 L102,285.7 L103,285.5 L104,285.4 L105,285.3 L106,285.2 L107,285 L108,284.9 L109,284.8 L110,284.7 L111,284.5 L112,284.4 L113,284.3 L114,284.1 L115,284 L116,283.9 L117,283.8 L118,283.6 L119,283.5 L120,283.4 L121,283.3 L122,283.1 L123,283 L124,282.9 L125,282.7 L126,282.6 L127,282.5 L128,282.4 L129,282.2 L130,282.1 L131,282 L132,281.8 L133,281.7 L134,281.6 L135,281.5 L136,281.3 L137,281.2 L138,281.1 L139,280.9 L140,280.8 L141,280.7 L142,280.6 L143,280.4 L144,280.3 L145,280.2 L146,280 L147,279.9 L148,279.8 L149,279.6 L150,279.5 L151,279.4 L152,279.3 L153,279.1 L154,279 L155,278.9 L156,278.7 L157,278.6 L158,278.5 L159,278.3 L160,278.2 L161,278.1 L162,277.9 L163,277.8 L164,277.7 L165,277.6 L166,277.4 L167,277.3 L168,277.2 L169,277 L170,276.9 L171,276.8 L172,276.6 L173,276.5 L174,276.4 L175,276.2 L176,276.1 L177,276 L178,275.8 L179,275.7 L180,275.6 L181,275.4 L182,275.3 L183,275.2 L184,275 L185,274.9 L186,274.8 L187,274.6 L188,274.5 L189,274.4 L190,274.2 L191,274.1 L192,273.9 L193,273.8 L194,273.7 L195,273.5 L196,273.4 L197,273.3 L198,273.1 L199,273 L200,272.9 L201,272.7 L202,272.6 L203,272.4 L204,272.3 L205,272.2 L206,272 L207,271.9 L208,271.8 L209,271.6 L210,271.5 L211,271.3 L212,271.2 L213,271.1 L214,270.9 L215,270.8 L216,270.6 L217,270.5 L218,270.4 L219,270.2 L220,270.1 L221,269.9 L222,269.8 L223,269.6 L224,269.5 L225,269.4 L226,269.2 L227,269.1 L228,268.9 L229,268.8 L230,268.6 L231,268.5 L232,268.3 L233,268.2 L234,268 L235,267.9 L236,267.8 L237,267.6 L238,267.5 L239,267.3 L240,267.2 L241,267 L242,266.9 L243,266.7 L244,266.6 L245,266.4 L246,266.3 L247,266.1 L248,266 L249,265.8 L250,265.6 L251,265.5 L252,265.3 L253,265.2 L254,265 L255,264.9 L256,264.7 L257,264.6 L258,264.4 L259,264.2 L260,264.1 L261,263.9 L262,263.8 L263,263.6 L264,263.4 L265,263.3 L266,263.1 L267,262.9 L268,262.8 L269,262.6 L270,262.5 L271,262.3 L272,262.1 L273,261.9 L274,261.8 L275,261.6 L276,261.4 L277,261.3 L278,261.1 L279,260.9 L280,260.7 L281,260.6 L282,260.4 L283,260.2 L284,260 L285,259.8 L286,259.7 L287,259.5 L288,259.3 L289,259.1 L290,258.9 L291,258.7 L292,258.5 L293,258.3 L294,258.2 L295,258 L296,257.8 L297,257.6 L298,257.4 L299,257.2 L300,257 L301,256.8 L302,256.5 L303,256.3 L304,256.1 L305,255.9 L306,255.7 L307,255.5 L308,255.3 L309,255 L310,254.8 L311,254.6 L312,254.4 L313,254.1 L314,253.9 L315,253.7 L316,253.4 L317,253.2 L318,252.9 L319,252.7 L320,252.4 L321,252.2 L322,251.9 L323,251.7 L324,251.4 L325,251.1 L326,250.9 L327,250.6 L328,250.3 L329,250 L330,249.7 L331,249.4 L332,249.1 L333,248.8 L334,248.5 L335,248.2 L336,247.9 L337,247.6 L338,247.3 L339,246.9 L340,246.6 L341,246.2 L342,245.9 L343,245.5 L344,245.1 L345,244.8 L346,244.4 L347,244 L348,243.6 L349,243.2 L350,242.8 L351,242.3 L352,241.9 L353,241.4 L354,241 L355,240.5 L356,240 L357,239.5 L358,239 L359,238.5 L360,238 L361,237.4 L362,236.8 L363,236.3 L364,235.7 L365,235.1 L366,234.4 L367,233.8 L368,233.1 L369,232.4 L370,231.7 L371,231 L372,230.2 L373,229.4 L374,228.6 L375,227.8 L376,226.9 L377,226 L378,225.1 L379,224.2 L380,223.2 L381,222.2 L382,221.1 L383,220 L384,218.9 L385,217.7 L386,216.5 L387,215.2 L388,213.9 L389,212.6 L390,211.2 L391,209.7 L392,208.2 L393,206.6 L394,205 L395,203.3 L396,201.6 L397,199.8 L398,197.9 L399,196 L400,193.9 L401,191.9 L402,189.7 L403,187.5 L404,185.3 L405,182.9 L406,180.6 L407,178.1 L408,175.6 L409,173.1 L410,170.5 L411,167.9 L412,165.3 L413,162.7 L414,160.1 L415,157.6 L416,155.1 L417,152.7 L418,150.4 L419,148.3 L420,146.3 L421,144.5 L422,142.9 L423,141.6 L424,140.5 L425,139.8 L426,139.3 L427,139.2 L428,139.3 L429,139.8 L430,140.6 L431,141.6 L432,142.9 L433,144.5 L434,146.2 L435,148.2 L436,150.3 L437,152.5 L438,154.8 L439,157.2 L440,159.6 L441,162.1 L442,164.6 L443,167.1 L444,169.5 L445,172 L446,174.4 L447,176.7 L448,179 L449,181.2 L450,183.4 L451,185.5 L452,187.6 L453,189.6 L454,191.5 L455,193.3 L456,195.1 L457,196.8 L458,198.5 L459,200.1 L460,201.6 L461,203.1 L462,204.5 L463,205.9 L464,207.2 L465,208.5 L466,209.7 L467,210.8 L468,212 L469,213 L469,247.1 L468,247.1 L467,247.1 L466,247.2 L465,247.2 L464,247.2 L463,247.2 L462,247.3 L461,247.3 L460,247.3 L459,247.3 L458,247.4 L457,247.4 L456,247.4 L455,247.4 L454,247.5 L453,247.5 L452,247.5 L451,247.6 L450,247.6 L449,247.6 L448,247.7 L447,247.7 L446,247.8 L445,247.8 L444,247.8 L443,247.9 L442,247.9 L441,248 L440,248 L439,248.1 L438,248.1 L437,248.2 L436,248.2 L435,248.3 L434,248.3 L433,248.4 L432,248.4 L431,248.5 L430,248.5 L429,248.6 L428,248.6 L427,248.7 L426,248.8 L425,248.8 L424,248.9 L423,249 L422,249 L421,249.1 L420,249.2 L419,249.2 L418,249.3 L417,249.4 L416,249.5 L415,249.5 L414,249.6 L413,249.7 L412,249.8 L411,249.8 L410,249.9 L409,250 L408,250.1 L407,250.2 L406,250.3 L405,250.3 L404,250.4 L403,250.5 L402,250.6 L401,250.7 L400,250.8 L399,250.9 L398,251 L397,251.1 L396,251.2 L395,251.3 L394,251.4 L393,251.5 L392,251.5 L391,251.6 L390,251.7 L389,251.8 L388,251.9 L387,252 L386,252.2 L385,252.3 L384,252.4 L383,252.5 L382,252.6 L381,252.7 L380,252.8 L379,252.9 L378,253 L377,253.1 L376,253.2 L375,253.3 L374,253.4 L373,253.5 L372,253.6 L371,253.8 L370,253.9 L369,254 L368,254.1 L367,254.2 L366,254.3 L365,254.4 L364,254.5 L363,254.7 L362,254.8 L361,254.9 L360,255 L359,255.1 L358,255.2 L357,255.3 L356,255.5 L355,255.6 L354,255.7 L353,255.8 L352,255.9 L351,256 L350,256.2 L349,256.3 L348,256.4 L347,256.5 L346,256.6 L345,256.7 L344,256.9 L343,257 L342,257.1 L341,257.2 L340,257.3 L339,257.4 L338,257.6 L337,257.7 L336,257.8 L335,257.9 L334,258 L333,258.2 L332,258.3 L331,258.4 L330,258.5 L329,258.6 L328,258.8 L327,258.9 L326,259 L325,259.1 L324,259.2 L323,259.4 L322,259.5 L321,259.6 L320,259.7 L319,259.8 L318,260 L317,260.1 L316,260.2 L315,260.3 L314,260.4 L313,260.6 L312,260.7 L311,260.8 L310,260.9 L309,261 L308,261.2 L307,261.3 L306,261.4 L305,261.5 L304,261.6 L303,261.8 L302,261.9 L301,262 L300,262.1 L299,262.3 L298,262.4 L297,262.5 L296,262.6 L295,262.7 L294,262.9 L293,263 L292,263.1 L291,263.2 L290,263.3 L289,263.5 L288,263.6 L287,263.7 L286,263.8 L285,264 L284,264.1 L283,264.2 L282,264.3 L281,264.4 L280,264.6 L279,264.7 L278,264.8 L277,264.9 L276,265 L275,265.2 L274,265.3 L273,265.4 L272,265.5 L271,265.7 L270,265.8 L269,265.9 L268,266 L267,266.1 L266,266.3 L265,266.4 L264,266.5 L263,266.6 L262,266.7 L261,266.9 L260,267 L259,267.1 L258,267.2 L257,267.4 L256,267.5 L255,267.6 L254,267.7 L253,267.8 L252,268 L251,268.1 L250,268.2 L249,268.3 L248,268.4 L247,268.6 L246,268.7 L245,268.8 L244,268.9 L243,269.1 L242,269.2 L241,269.3 L240,269.4 L239,269.5 L238,269.7 L237,269.8 L236,269.9 L235,270 L234,270.2 L233,270.3 L232,270.4 L231,270.5 L230,270.6 L229,270.8 L228,270.9 L227,271 L226,271.1 L225,271.2 L224,271.4 L223,271.5 L222,271.6 L221,271.7 L220,271.9 L219,272 L218,272.1 L217,272.2 L216,272.3 L215,272.5 L214,272.6 L213,272.7 L212,272.8 L211,273 L210,273.1 L209,273.2 L208,273.3 L207,273.4 L206,273.6 L205,273.7 L204,273.8 L203,273.9 L202,274.1 L201,274.2 L200,274.3 L199,274.4 L198,274.5 L197,274.7 L196,274.8 L195,274.9 L194,275 L193,275.1 L192,275.3 L191,275.4 L190,275.5 L189,275.6 L188,275.8 L187,275.9 L186,276 L185,276.1 L184,276.2 L183,276.4 L182,276.5 L181,276.6 L180,276.7 L179,276.9 L178,277 L177,277.1 L176,277.2 L175,277.3 L174,277.5 L173,277.6 L172,277.7 L171,277.8 L170,277.9 L169,278.1 L168,278.2 L167,278.3 L166,278.4 L165,278.6 L164,278.7 L163,278.8 L162,278.9 L161,279 L160,279.2 L159,279.3 L158,279.4 L157,279.5 L156,279.7 L155,279.8 L154,279.9 L153,280 L152,280.1 L151,280.3 L150,280.4 L149,280.5 L148,280.6 L147,280.7 L146,280.9 L145,281 L144,281.1 L143,281.2 L142,281.4 L141,281.5 L140,281.6 L139,281.7 L138,281.8 L137,282 L136,282.1 L135,282.2 L134,282.3 L133,282.5 L132,282.6 L131,282.7 L130,282.8 L129,282.9 L128,283.1 L127,283.2 L126,283.3 L125,283.4 L124,283.6 L123,283.7 L122,283.8 L121,283.9 L120,284 L119,284.2 L118,284.3 L117,284.4 L116,284.5 L115,284.6 L114,284.8 L113,284.9 L112,285 L111,285.1 L110,285.3 L109,285.4 L108,285.5 L107,285.6 L106,285.7 L105,285.9 L104,286 L103,286.1 L102,286.2 L101,286.4 L100,286.5 L99,286.6 L98,286.7 L97,286.8 L96,287 L95,287.1 L94,287.2 L93,287.3 L92,287.4 L91,287.6 L90,287.7 L89,287.8 L88,287.9 L87,288.1 L86,288.2 L85,288.3 L84,288.4 L83,288.5 L82,288.7 L81,288.8 L80,288.9 L79,289 L78,289.2 L77,289.3 L76,289.4 L75,289.5 L74,289.6 L73,289.8 L72,289.9 L71,290 L70,290.1 L69,290.2 L68,290.4 L67,290.5 L66,290.6 L65,290.7 L64,290.9 L63,291 L62,291.1 L61,291.2 L60,291.3 L59,291.5 L58,291.6 L57,291.7 L56,291.8 L55,292 L54,292.1 L53,292.2 L52,292.3 L51,292.4 L50,292.6 L49,292.7 L48,292.8 L47,292.9 L46,293.1 L45,293.2 L44,293.3 L43,293.4 L42,293.5 L41,293.7 L40,293.8 L39,293.9 L38,294 L37,294.1 L36,294.3 L35,294.4 L34,294.5 L33,294.6 L32,294.8 L31,294.9 L30,295Z" fill="#22a040" fill-opacity="0.6" /><path d="M201,245.1 L202,245.1 L203,245.1 L204,245.1 L205,245.1 L206,245.1 L207,245 L208,245 L209,245 L210,245 L211,245 L212,245 L213,244.9 L214,244.9 L215,244.9 L216,244.9 L217,244.9 L218,244.8 L219,244.8 L220,244.8 L221,244.8 L222,244.8 L223,244.7 L224,244.7 L225,244.7 L226,244.7 L227,244.7 L228,244.6 L229,244.6 L230,244.6 L231,244.6 L232,244.5 L233,244.5 L234,244.5 L235,244.5 L236,244.4 L237,244.4 L238,244.4 L239,244.4 L240,244.3 L241,244.3 L242,244.3 L243,244.2 L244,244.2 L245,244.2 L246,244.2 L247,244.1 L248,244.1 L249,244.1 L250,244 L251,244 L252,243.9 L253,243.9 L254,243.9 L255,243.8 L256,243.8 L257,243.8 L258,243.7 L259,243.7 L260,243.6 L261,243.6 L262,243.5 L263,243.5 L264,243.4 L265,243.4 L266,243.3 L267,243.3 L268,243.2 L269,243.2 L270,243.1 L271,243.1 L272,243 L273,242.9 L274,242.9 L275,242.8 L276,242.7 L277,242.7 L278,242.6 L279,242.5 L280,242.4 L281,242.4 L282,242.3 L283,242.2 L284,242.1 L285,242 L286,241.9 L287,241.8 L288,241.7 L289,241.6 L290,241.5 L291,241.4 L292,241.3 L293,241.1 L294,241 L295,240.9 L296,240.8 L297,240.6 L298,240.5 L299,240.3 L300,240.2 L301,240 L302,239.9 L303,239.7 L304,239.6 L305,239.4 L306,239.2 L307,239 L308,238.9 L309,238.7 L310,238.5 L311,238.3 L312,238.1 L313,237.9 L314,237.7 L315,237.5 L316,237.2 L317,237 L318,236.8 L319,236.6 L320,236.3 L321,236.1 L322,235.8 L323,235.6 L324,235.4 L325,235.1 L326,234.8 L327,234.6 L328,234.3 L329,234.1 L330,233.8 L331,233.5 L332,233.2 L333,233 L334,232.7 L335,232.4 L336,232.1 L337,231.8 L338,231.5 L339,231.2 L340,230.9 L341,230.6 L342,230.3 L343,230 L344,229.7 L345,229.4 L346,229.1 L347,228.8 L348,228.4 L349,228.1 L350,227.8 L351,227.4 L352,227.1 L353,226.7 L354,226.4 L355,226 L356,225.7 L357,225.3 L358,224.9 L359,224.5 L360,224.1 L361,223.7 L362,223.3 L363,222.9 L364,222.4 L365,222 L366,221.5 L367,221 L368,220.6 L369,220 L370,219.5 L371,219 L372,218.4 L373,217.8 L374,217.2 L375,216.6 L376,215.9 L377,215.2 L378,214.5 L379,213.7 L380,213 L381,212.2 L382,211.3 L383,210.4 L384,209.5 L385,208.5 L386,207.5 L387,206.5 L388,205.4 L389,204.2 L390,203 L391,201.8 L392,200.5 L393,199.1 L394,197.7 L395,196.2 L396,194.6 L397,193 L398,191.3 L399,189.6 L400,187.7 L401,185.8 L402,183.9 L403,181.9 L404,179.8 L405,177.6 L406,175.4 L407,173.1 L408,170.8 L409,168.4 L410,166 L411,163.5 L412,161.1 L413,158.6 L414,156.1 L415,153.7 L416,151.4 L417,149.1 L418,146.9 L419,144.9 L420,143 L421,141.4 L422,139.9 L423,138.7 L424,137.7 L425,137.1 L426,136.7 L427,136.6 L428,136.9 L429,137.4 L430,138.3 L431,139.4 L432,140.8 L433,142.4 L434,144.3 L435,146.3 L436,148.5 L437,150.7 L438,153.1 L439,155.6 L439,246.6 L438,246.6 L437,246.6 L436,246.6 L435,246.6 L434,246.6 L433,246.6 L432,246.6 L431,246.6 L430,246.6 L429,246.6 L428,246.6 L427,246.6 L426,246.6 L425,246.6 L424,246.6 L423,246.6 L422,246.6 L421,246.6 L420,246.6 L419,246.6 L418,246.6 L417,246.6 L416,246.6 L415,246.6 L414,246.6 L413,246.6 L412,246.6 L411,246.6 L410,246.6 L409,246.6 L408,246.6 L407,246.6 L406,246.6 L405,246.6 L404,246.6 L403,246.6 L402,246.6 L401,246.6 L400,246.6 L399,246.6 L398,246.6 L397,246.6 L396,246.6 L395,246.6 L394,246.6 L393,246.6 L392,246.6 L391,246.6 L390,246.6 L389,246.6 L388,246.6 L387,246.6 L386,246.6 L385,246.6 L384,246.6 L383,246.6 L382,246.6 L381,246.6 L380,246.6 L379,246.6 L378,246.6 L377,246.6 L376,246.6 L375,246.6 L374,246.6 L373,246.6 L372,246.6 L371,246.6 L370,246.6 L369,246.6 L368,246.6 L367,246.6 L366,246.6 L365,246.6 L364,246.6 L363,246.6 L362,246.6 L361,246.6 L360,246.6 L359,246.6 L358,246.6 L357,246.6 L356,246.6 L355,246.6 L354,246.6 L353,246.6 L352,246.6 L351,246.6 L350,246.6 L349,246.6 L348,246.6 L347,246.6 L346,246.6 L345,246.6 L344,246.6 L343,246.6 L342,246.6 L341,246.6 L340,246.6 L339,246.6 L338,246.6 L337,246.6 L336,246.6 L335,246.6 L334,246.6 L333,246.6 L332,246.6 L331,246.6 L330,246.6 L329,246.6 L328,246.6 L327,246.6 L326,246.6 L325,246.6 L324,246.6 L323,246.6 L322,246.6 L321,246.6 L320,246.6 L319,246.6 L318,246.6 L317,246.6 L316,246.6 L315,246.6 L314,246.6 L313,246.6 L312,246.6 L311,246.6 L310,246.6 L309,246.6 L308,246.6 L307,246.6 L306,246.6 L305,246.6 L304,246.6 L303,246.6 L302,246.6 L301,246.6 L300,246.6 L299,246.6 L298,246.6 L297,246.6 L296,246.6 L295,246.6 L294,246.6 L293,246.6 L292,246.6 L291,246.6 L290,246.6 L289,246.6 L288,246.6 L287,246.6 L286,246.6 L285,246.6 L284,246.6 L283,246.6 L282,246.6 L281,246.6 L280,246.6 L279,246.6 L278,246.6 L277,246.6 L276,246.6 L275,246.6 L274,246.6 L273,246.6 L272,246.6 L271,246.6 L270,246.6 L269,246.6 L268,246.6 L267,246.6 L266,246.6 L265,246.6 L264,246.6 L263,246.6 L262,246.6 L261,246.6 L260,246.6 L259,246.6 L258,246.6 L257,246.6 L256,246.6 L255,246.6 L254,246.6 L253,246.6 L252,246.6 L251,246.6 L250,246.6 L249,246.6 L248,246.6 L247,246.6 L246,246.6 L245,246.6 L244,246.6 L243,246.6 L242,246.6 L241,246.6 L240,246.6 L239,246.6 L238,246.6 L237,246.6 L236,246.6 L235,246.6 L234,246.6 L233,246.6 L232,246.6 L231,246.6 L230,246.6 L229,246.6 L228,246.6 L227,246.6 L226,246.6 L225,246.6 L224,246.6 L223,246.6 L222,246.6 L221,246.6 L220,246.6 L219,246.6 L218,246.6 L217,246.6 L216,246.6 L215,246.6 L214,246.6 L213,246.6 L212,246.6 L211,246.6 L210,246.6 L209,246.6 L208,246.6 L207,246.6 L206,246.6 L205,246.6 L204,246.6 L203,246.6 L202,246.6 L201,246.6Z" fill="#50d450" fill-opacity="0.9" /><path d="M30,246.3 L31,246.3 L32,246.3 L33,246.3 L34,246.3 L35,246.3 L36,246.3 L37,246.3 L38,246.3 L39,246.3 L40,246.3 L41,246.3 L42,246.3 L43,246.3 L44,246.3 L45,246.3 L46,246.3 L47,246.3 L48,246.2 L49,246.2 L50,246.2 L51,246.2 L52,246.2 L53,246.2 L54,246.2 L55,246.2 L56,246.2 L57,246.2 L58,246.2 L59,246.2 L60,246.2 L61,246.2 L62,246.2 L63,246.2 L64,246.2 L65,246.2 L66,246.2 L67,246.2 L68,246.2 L69,246.2 L70,246.2 L71,246.2 L72,246.2 L73,246.2 L74,246.2 L75,246.2 L76,246.2 L77,246.1 L78,246.1 L79,246.1 L80,246.1 L81,246.1 L82,246.1 L83,246.1 L84,246.1 L85,246.1 L86,246.1 L87,246.1 L88,246.1 L89,246.1 L90,246.1 L91,246.1 L92,246.1 L93,246.1 L94,246.1 L95,246.1 L96,246.1 L97,246.1 L98,246.1 L99,246.1 L100,246 L101,246 L102,246 L103,246 L104,246 L105,246 L106,246 L107,246 L108,246 L109,246 L110,246 L111,246 L112,246 L113,246 L114,246 L115,246 L116,246 L117,246 L118,246 L119,245.9 L120,245.9 L121,245.9 L122,245.9 L123,245.9 L124,245.9 L125,245.9 L126,245.9 L127,245.9 L128,245.9 L129,245.9 L130,245.9 L131,245.9 L132,245.9 L133,245.9 L134,245.9 L135,245.8 L136,245.8 L137,245.8 L138,245.8 L139,245.8 L140,245.8 L141,245.8 L142,245.8 L143,245.8 L144,245.8 L145,245.8 L146,245.8 L147,245.8 L148,245.7 L149,245.7 L150,245.7 L151,245.7 L152,245.7 L153,245.7 L154,245.7 L155,245.7 L156,245.7 L157,245.7 L158,245.7 L159,245.7 L160,245.6 L161,245.6 L162,245.6 L163,245.6 L164,245.6 L165,245.6 L166,245.6 L167,245.6 L168,245.6 L169,245.6 L170,245.5 L171,245.5 L172,245.5 L173,245.5 L174,245.5 L175,245.5 L176,245.5 L177,245.5 L178,245.5 L179,245.4 L180,245.4 L181,245.4 L182,245.4 L183,245.4 L184,245.4 L185,245.4 L186,245.4 L187,245.3 L188,245.3 L189,245.3 L190,245.3 L191,245.3 L192,245.3 L193,245.3 L194,245.3 L195,245.2 L196,245.2 L197,245.2 L198,245.2 L199,245.2 L200,245.2 L201,245.1 L202,245.1 L203,245.1 L204,245.1 L205,245.1 L206,245.1 L207,245 L208,245 L209,245 L210,245 L211,245 L212,245 L213,244.9 L214,244.9 L215,244.9 L216,244.9 L217,244.9 L218,244.8 L219,244.8 L220,244.8 L221,244.8 L222,244.8 L223,244.7 L224,244.7 L225,244.7 L226,244.7 L227,244.7 L228,244.6 L229,244.6 L230,244.6 L231,244.6 L232,244.5 L233,244.5 L234,244.5 L235,244.5 L236,244.4 L237,244.4 L238,244.4 L239,244.4 L240,244.3 L241,244.3 L242,244.3 L243,244.3 L244,244.2 L245,244.2 L246,244.2 L247,244.1 L248,244.1 L249,244.1 L250,244 L251,244 L252,244 L253,243.9 L254,243.9 L255,243.9 L256,243.8 L257,243.8 L258,243.8 L259,243.7 L260,243.7 L261,243.7 L262,243.6 L263,243.6 L264,243.5 L265,243.5 L266,243.5 L267,243.4 L268,243.4 L269,243.3 L270,243.3 L271,243.2 L272,243.2 L273,243.1 L274,243.1 L275,243 L276,243 L277,242.9 L278,242.9 L279,242.8 L280,242.8 L281,242.7 L282,242.7 L283,242.6 L284,242.5 L285,242.5 L286,242.4 L287,242.4 L288,242.3 L289,242.2 L290,242.2 L291,242.1 L292,242 L293,242 L294,241.9 L295,241.8 L296,241.7 L297,241.7 L298,241.6 L299,241.5 L300,241.4 L301,241.3 L302,241.3 L303,241.2 L304,241.1 L305,241 L306,240.9 L307,240.8 L308,240.7 L309,240.6 L310,240.5 L311,240.4 L312,240.3 L313,240.2 L314,240.1 L315,240 L316,239.8 L317,239.7 L318,239.6 L319,239.5 L320,239.3 L321,239.2 L322,239.1 L323,238.9 L324,238.8 L325,238.6 L326,238.5 L327,238.3 L328,238.2 L329,238 L330,237.8 L331,237.6 L332,237.5 L333,237.3 L334,237.1 L335,236.9 L336,236.7 L337,236.5 L338,236.3 L339,236.1 L340,235.8 L341,235.6 L342,235.4 L343,235.1 L344,234.9 L345,234.6 L346,234.4 L347,234.1 L348,233.8 L349,233.5 L350,233.2 L351,232.9 L352,232.6 L353,232.2 L354,231.9 L355,231.5 L356,231.2 L357,230.8 L358,230.4 L359,230 L360,229.6 L361,229.1 L362,228.7 L363,228.2 L364,227.7 L365,227.2 L366,226.7 L367,226.2 L368,225.6 L369,225 L370,224.4 L371,223.8 L372,223.2 L373,222.5 L374,221.8 L375,221.1 L376,220.3 L377,219.5 L378,218.7 L379,217.9 L380,217 L381,216.1 L382,215.1 L383,214.2 L384,213.1 L385,212.1 L386,210.9 L387,209.8 L388,208.6 L389,207.3 L390,206 L391,204.7 L392,203.2 L393,201.8 L394,200.3 L395,198.7 L396,197 L397,195.3 L398,193.5 L399,191.7 L400,189.8 L401,187.8 L402,185.7 L403,183.6 L404,181.4 L405,179.2 L406,176.9 L407,174.5 L408,172.1 L409,169.7 L410,167.2 L411,164.7 L412,162.2 L413,159.6 L414,157.1 L415,154.7 L416,152.3 L417,149.9 L418,147.7 L419,145.6 L420,143.7 L421,142 L422,140.5 L423,139.2 L424,138.2 L425,137.5 L426,137.1 L427,137.1 L428,137.3 L429,137.8 L430,138.6 L431,139.8 L432,141.1 L433,142.7 L434,144.5 L435,146.5 L436,148.7 L437,150.9 L438,153.3 L439,155.7 L440,158.2 L441,160.7 L442,163.3 L443,165.8 L444,168.3 L445,170.8 L446,173.2 L447,175.6 L448,177.9 L449,180.2 L450,182.4 L451,184.6 L452,186.6 L453,188.7 L454,190.6 L455,192.5 L456,194.3 L457,196.1 L458,197.7 L459,199.4 L460,200.9 L461,202.4 L462,203.9 L463,205.3 L464,206.6 L465,207.9 L466,209.1 L467,210.3 L468,211.4 L469,212.5 L470,213.6 L471,214.6 L472,215.6 L473,216.5 L474,217.4 L475,218.3 L476,219.1 L477,219.9 L478,220.7 L479,221.4 L480,222.1 L481,222.8 L482,223.4 L483,224.1 L484,224.7 L485,225.3 L486,225.9 L487,226.4 L488,226.9 L489,227.4 L490,227.9 L491,228.4 L492,228.9 L493,229.3 L494,229.7 L495,230.2 L496,230.6 L497,231 L498,231.3 L499,231.7 L500,232 L501,232.4 L502,232.7 L503,233 L504,233.3 L505,233.6 L506,233.9 L507,234.2 L508,234.5 L509,234.7 L510,235 L511,235.2 L512,235.5 L513,235.7 L514,235.9 L515,236.2 L516,236.4 L517,236.6 L518,236.8 L519,237 L520,237.2 L521,237.4 L522,237.5 L523,237.7 L524,237.9 L525,238.1 L526,238.2 L527,238.4 L528,238.5 L529,238.7 L530,238.8 L531,239 L532,239.1 L533,239.3 L534,239.4 L535,239.5 L536,239.6 L537,239.8 L538,239.9 L539,240 L540,240.1 L541,240.2 L542,240.3 L543,240.4 L544,240.5 L545,240.6 L546,240.7 L547,240.8 L548,240.9 L549,241 L550,241.1 L551,241.2 L552,241.3 L553,241.4 L554,241.5 L555,241.5 L556,241.6 L557,241.7 L558,241.8 L559,241.9 L560,241.9 L561,242 L562,242.1 L563,242.1 L564,242.2 L565,242.3 L566,242.3 L567,242.4 L568,242.5 L569,242.5 L570,242.6 L571,242.6 L572,242.7 L573,242.7 L574,242.8 L575,242.9 L576,242.9 L577,243 L578,243 L579,243.1 L580,243.1 L581,243.2 L582,243.2 L583,243.3 L584,243.3 L585,243.3 L586,243.4 L587,243.4 L588,243.5 L589,243.5 L590,243.6 L591,243.6 L592,243.6 L593,243.7 L594,243.7 L595,243.7 L596,243.8 L597,243.8 L598,243.9 L599,243.9 L600,243.9 L601,244 L602,244 L603,244 L604,244.1 L605,244.1 L606,244.1 L607,244.1 L608,244.2 L609,244.2 L610,244.2 L611,244.3 L612,244.3 L613,244.3 L614,244.4 L615,244.4 L616,244.4 L617,244.4 L618,244.5 L619,244.5 L620,244.5 L621,244.5 L622,244.6 L623,244.6 L624,244.6 L625,244.6 L626,244.6 L627,244.7 L628,244.7 L629,244.7 L630,244.7 L631,244.8 L632,244.8 L633,244.8 L634,244.8 L635,244.8 L636,244.9 L637,244.9 L638,244.9 L639,244.9 L640,244.9 L641,245 L642,245 L643,245 L644,245 L645,245 L646,245 L647,245.1 L648,245.1 L649,245.1 L650,245.1 L651,245.1 L652,245.1 L653,245.2 L654,245.2 L655,245.2 L656,245.2 L657,245.2 L658,245.2 L659,245.2 L660,245.3 L661,245.3 L662,245.3 L663,245.3 L664,245.3 L665,245.3 L666,245.3 L667,245.4 L668,245.4 L669,245.4 L670,245.4 L671,245.4 L672,245.4 L673,245.4 L674,245.4 L675,245.4 L676,245.5 L677,245.5 L678,245.5 L679,245.5 L680,245.5 L681,245.5 L682,245.5 L683,245.5 L684,245.5 L685,245.6 L686,245.6 L687,245.6 L688,245.6 L689,245.6 L690,245.6 L691,245.6 L692,245.6 L693,245.6 L694,245.6 L695,245.7 L696,245.7 L697,245.7 L698,245.7 L699,245.7 L700,245.7 L701,245.7 L702,245.7 L703,245.7 L704,245.7 L705,245.7 L706,245.8 L707,245.8 L708,245.8 L709,245.8 L710,245.8 L711,245.8 L712,245.8 L713,245.8 L714,245.8 L715,245.8 L716,245.8 L717,245.8 L718,245.8 L719,245.8 L720,245.9 L721,245.9 L722,245.9 L723,245.9 L724,245.9 L725,245.9 L726,245.9 L727,245.9 L728,245.9 L729,245.9 L730,245.9 L731,245.9 L732,245.9 L733,245.9 L734,245.9 L735,246 L736,246 L737,246 L738,246 L739,246 L740,246 L741,246 L742,246 L743,246 L744,246 L745,246 L746,246 L747,246 L748,246 L749,246 L750,246 L751,246 L752,246 L753,246 L754,246.1 L755,246.1 L756,246.1 L757,246.1 L758,246.1 L759,246.1 L760,246.1 L761,246.1 L762,246.1 L763,246.1 L764,246.1 L765,246.1 L766,246.1 L767,246.1 L768,246.1 L769,246.1 L770,246.1 L771,246.1 L772,246.1 L773,246.1 L774,246.1 L775,246.1 L776,246.1 L777,246.2 L778,246.2 L779,246.2 L780,246.2 L781,246.2 L782,246.2 L783,246.2 L784,246.2 L785,246.2 L786,246.2 L786,246.6 L785,246.6 L784,246.6 L783,246.6 L782,246.6 L781,246.6 L780,246.6 L779,246.6 L778,246.6 L777,246.6 L776,246.6 L775,246.6 L774,246.6 L773,246.6 L772,246.6 L771,246.6 L770,246.6 L769,246.6 L768,246.6 L767,246.6 L766,246.6 L765,246.6 L764,246.6 L763,246.6 L762,246.6 L761,246.6 L760,246.6 L759,246.6 L758,246.6 L757,246.6 L756,246.6 L755,246.6 L754,246.6 L753,246.6 L752,246.6 L751,246.6 L750,246.6 L749,246.6 L748,246.6 L747,246.6 L746,246.6 L745,246.6 L744,246.6 L743,246.6 L742,246.6 L741,246.6 L740,246.6 L739,246.6 L738,246.6 L737,246.6 L736,246.6 L735,246.6 L734,246.6 L733,246.6 L732,246.6 L731,246.6 L730,246.6 L729,246.6 L728,246.6 L727,246.6 L726,246.6 L725,246.6 L724,246.6 L723,246.6 L722,246.6 L721,246.6 L720,246.6 L719,246.6 L718,246.6 L717,246.6 L716,246.6 L715,246.6 L714,246.6 L713,246.6 L712,246.6 L711,246.6 L710,246.6 L709,246.6 L708,246.6 L707,246.6 L706,246.6 L705,246.6 L704,246.6 L703,246.6 L702,246.6 L701,246.6 L700,246.6 L699,246.6 L698,246.6 L697,246.6 L696,246.6 L695,246.6 L694,246.6 L693,246.6 L692,246.6 L691,246.6 L690,246.6 L689,246.6 L688,246.6 L687,246.6 L686,246.6 L685,246.6 L684,246.6 L683,246.6 L682,246.6 L681,246.6 L680,246.6 L679,246.6 L678,246.6 L677,246.6 L676,246.6 L675,246.6 L674,246.6 L673,246.6 L672,246.6 L671,246.6 L670,246.6 L669,246.6 L668,246.6 L667,246.6 L666,246.6 L665,246.6 L664,246.6 L663,246.6 L662,246.6 L661,246.6 L660,246.6 L659,246.6 L658,246.6 L657,246.6 L656,246.6 L655,246.6 L654,246.6 L653,246.6 L652,246.6 L651,246.6 L650,246.6 L649,246.6 L648,246.6 L647,246.6 L646,246.6 L645,246.6 L644,246.6 L643,246.6 L642,246.6 L641,246.6 L640,246.6 L639,246.6 L638,246.6 L637,246.6 L636,246.6 L635,246.6 L634,246.6 L633,246.6 L632,246.6 L631,246.6 L630,246.6 L629,246.6 L628,246.6 L627,246.6 L626,246.6 L625,246.6 L624,246.6 L623,246.6 L622,246.6 L621,246.6 L620,246.6 L619,246.6 L618,246.6 L617,246.6 L616,246.6 L615,246.6 L614,246.6 L613,246.6 L612,246.6 L611,246.6 L610,246.6 L609,246.6 L608,246.6 L607,246.6 L606,246.6 L605,246.6 L604,246.6 L603,246.6 L602,246.6 L601,246.6 L600,246.6 L599,246.6 L598,246.6 L597,246.6 L596,246.6 L595,246.6 L594,246.6 L593,246.6 L592,246.6 L591,246.6 L590,246.6 L589,246.6 L588,246.6 L587,246.6 L586,246.6 L585,246.6 L584,246.6 L583,246.6 L582,246.6 L581,246.6 L580,246.6 L579,246.6 L578,246.6 L577,246.6 L576,246.6 L575,246.6 L574,246.6 L573,246.6 L572,246.6 L571,246.6 L570,246.6 L569,246.6 L568,246.6 L567,246.6 L566,246.6 L565,246.6 L564,246.6 L563,246.6 L562,246.6 L561,246.6 L560,246.6 L559,246.6 L558,246.6 L557,246.6 L556,246.6 L555,246.6 L554,246.6 L553,246.6 L552,246.6 L551,246.6 L550,246.6 L549,246.6 L548,246.6 L547,246.6 L546,246.6 L545,246.6 L544,246.6 L543,246.6 L542,246.6 L541,246.6 L540,246.6 L539,246.6 L538,246.6 L537,246.6 L536,246.6 L535,246.6 L534,246.6 L533,246.6 L532,246.6 L531,246.6 L530,246.6 L529,246.6 L528,246.6 L527,246.6 L526,246.6 L525,246.6 L524,246.6 L523,246.6 L522,246.6 L521,246.6 L520,246.6 L519,246.6 L518,246.6 L517,246.6 L516,246.6 L515,246.6 L514,246.6 L513,246.6 L512,246.6 L511,246.6 L510,246.6 L509,246.6 L508,246.6 L507,246.6 L506,246.6 L505,246.6 L504,246.6 L503,246.6 L502,246.6 L501,246.6 L500,246.6 L499,246.6 L498,246.6 L497,246.6 L496,246.6 L495,246.6 L494,246.6 L493,246.6 L492,246.6 L491,246.6 L490,246.6 L489,246.6 L488,246.6 L487,246.6 L486,246.6 L485,246.6 L484,246.6 L483,246.6 L482,246.6 L481,246.6 L480,246.6 L479,246.6 L478,246.6 L477,246.6 L476,246.6 L475,246.6 L474,246.6 L473,246.6 L472,246.6 L471,246.6 L470,246.6 L469,246.6 L468,246.6 L467,246.6 L466,246.6 L465,246.6 L464,246.6 L463,246.6 L462,246.6 L461,246.6 L460,246.6 L459,246.6 L458,246.6 L457,246.6 L456,246.6 L455,246.6 L454,246.6 L453,246.6 L452,246.6 L451,246.6 L450,246.6 L449,246.6 L448,246.6 L447,246.6 L446,246.6 L445,246.6 L444,246.6 L443,246.6 L442,246.6 L441,246.6 L440,246.6 L439,246.6 L438,246.6 L437,246.6 L436,246.6 L435,246.6 L434,246.6 L433,246.6 L432,246.6 L431,246.6 L430,246.6 L429,246.6 L428,246.6 L427,246.6 L426,246.6 L425,246.6 L424,246.6 L423,246.6 L422,246.6 L421,246.6 L420,246.6 L419,246.6 L418,246.6 L417,246.6 L416,246.6 L415,246.6 L414,246.6 L413,246.6 L412,246.6 L411,246.6 L410,246.6 L409,246.6 L408,246.6 L407,246.6 L406,246.6 L405,246.6 L404,246.6 L403,246.6 L402,246.6 L401,246.6 L400,246.6 L399,246.6 L398,246.6 L397,246.6 L396,246.6 L395,246.6 L394,246.6 L393,246.6 L392,246.6 L391,246.6 L390,246.6 L389,246.6 L388,246.6 L387,246.6 L386,246.6 L385,246.6 L384,246.6 L383,246.6 L382,246.6 L381,246.6 L380,246.6 L379,246.6 L378,246.6 L377,246.6 L376,246.6 L375,246.6 L374,246.6 L373,246.6 L372,246.6 L371,246.6 L370,246.6 L369,246.6 L368,246.6 L367,246.6 L366,246.6 L365,246.6 L364,246.6 L363,246.6 L362,246.6 L361,246.6 L360,246.6 L359,246.6 L358,246.6 L357,246.6 L356,246.6 L355,246.6 L354,246.6 L353,246.6 L352,246.6 L351,246.6 L350,246.6 L349,246.6 L348,246.6 L347,246.6 L346,246.6 L345,246.6 L344,246.6 L343,246.6 L342,246.6 L341,246.6 L340,246.6 L339,246.6 L338,246.6 L337,246.6 L336,246.6 L335,246.6 L334,246.6 L333,246.6 L332,246.6 L331,246.6 L330,246.6 L329,246.6 L328,246.6 L327,246.6 L326,246.6 L325,246.6 L324,246.6 L323,246.6 L322,246.6 L321,246.6 L320,246.6 L319,246.6 L318,246.6 L317,246.6 L316,246.6 L315,246.6 L314,246.6 L313,246.6 L312,246.6 L311,246.6 L310,246.6 L309,246.6 L308,246.6 L307,246.6 L306,246.6 L305,246.6 L304,246.6 L303,246.6 L302,246.6 L301,246.6 L300,246.6 L299,246.6 L298,246.6 L297,246.6 L296,246.6 L295,246.6 L294,246.6 L293,246.6 L292,246.6 L291,246.6 L290,246.6 L289,246.6 L288,246.6 L287,246.6 L286,246.6 L285,246.6 L284,246.6 L283,246.6 L282,246.6 L281,246.6 L280,246.6 L279,246.6 L278,246.6 L277,246.6 L276,246.6 L275,246.6 L274,246.6 L273,246.6 L272,246.6 L271,246.6 L270,246.6 L269,246.6 L268,246.6 L267,246.6 L266,246.6 L265,246.6 L264,246.6 L263,246.6 L262,246.6 L261,246.6 L260,246.6 L259,246.6 L258,246.6 L257,246.6 L256,246.6 L255,246.6 L254,246.6 L253,246.6 L252,246.6 L251,246.6 L250,246.6 L249,246.6 L248,246.6 L247,246.6 L246,246.6 L245,246.6 L244,246.6 L243,246.6 L242,246.6 L241,246.6 L240,246.6 L239,246.6 L238,246.6 L237,246.6 L236,246.6 L235,246.6 L234,246.6 L233,246.6 L232,246.6 L231,246.6 L230,246.6 L229,246.6 L228,246.6 L227,246.6 L226,246.6 L225,246.6 L224,246.6 L223,246.6 L222,246.6 L221,246.6 L220,246.6 L219,246.6 L218,246.6 L217,246.6 L216,246.6 L215,246.6 L214,246.6 L213,246.6 L212,246.6 L211,246.6 L210,246.6 L209,246.6 L208,246.6 L207,246.6 L206,246.6 L205,246.6 L204,246.6 L203,246.6 L202,246.6 L201,246.6 L200,246.6 L199,246.6 L198,246.6 L197,246.6 L196,246.6 L195,246.6 L194,246.6 L193,246.6 L192,246.6 L191,246.6 L190,246.6 L189,246.6 L188,246.6 L187,246.6 L186,246.6 L185,246.6 L184,246.6 L183,246.6 L182,246.6 L181,246.6 L180,246.6 L179,246.6 L178,246.6 L177,246.6 L176,246.6 L175,246.6 L174,246.6 L173,246.6 L172,246.6 L171,246.6 L170,246.6 L169,246.6 L168,246.6 L167,246.6 L166,246.6 L165,246.6 L164,246.6 L163,246.6 L162,246.6 L161,246.6 L160,246.6 L159,246.6 L158,246.6 L157,246.6 L156,246.6 L155,246.6 L154,246.6 L153,246.6 L152,246.6 L151,246.6 L150,246.6 L149,246.6 L148,246.6 L147,246.6 L146,246.6 L145,246.6 L144,246.6 L143,246.6 L142,246.6 L141,246.6 L140,246.6 L139,246.6 L138,246.6 L137,246.6 L136,246.6 L135,246.6 L134,246.6 L133,246.6 L132,246.6 L131,246.6 L130,246.6 L129,246.6 L128,246.6 L127,246.6 L126,246.6 L125,246.6 L124,246.6 L123,246.6 L122,246.6 L121,246.6 L120,246.6 L119,246.6 L118,246.6 L117,246.6 L116,246.6 L115,246.6 L114,246.6 L113,246.6 L112,246.6 L111,246.6 L110,246.6 L109,246.6 L108,246.6 L107,246.6 L106,246.6 L105,246.6 L104,246.6 L103,246.6 L102,246.6 L101,246.6 L100,246.6 L99,246.6 L98,246.6 L97,246.6 L96,246.6 L95,246.6 L94,246.6 L93,246.6 L92,246.6 L91,246.6 L90,246.6 L89,246.6 L88,246.6 L87,246.6 L86,246.6 L85,246.6 L84,246.6 L83,246.6 L82,246.6 L81,246.6 L80,246.6 L79,246.6 L78,246.6 L77,246.6 L76,246.6 L75,246.6 L74,246.6 L73,246.6 L72,246.6 L71,246.6 L70,246.6 L69,246.6 L68,246.6 L67,246.6 L66,246.6 L65,246.6 L64,246.6 L63,246.6 L62,246.6 L61,246.6 L60,246.6 L59,246.6 L58,246.6 L57,246.6 L56,246.6 L55,246.6 L54,246.6 L53,246.6 L52,246.6 L51,246.6 L50,246.6 L49,246.6 L48,246.6 L47,246.6 L46,246.6 L45,246.6 L44,246.6 L43,246.6 L42,246.6 L41,246.6 L40,246.6 L39,246.6 L38,246.6 L37,246.6 L36,246.6 L35,246.6 L34,246.6 L33,246.6 L32,246.6 L31,246.6 L30,246.6Z" fill="#1ecc1e" fill-opacity="0.95" /><path d="M30,294.9 L31,294.7 L32,294.6 L33,294.5 L34,294.4 L35,294.3 L36,294.1 L37,294 L38,293.9 L39,293.8 L40,293.6 L41,293.5 L42,293.4 L43,293.3 L44,293.1 L45,293 L46,292.9 L47,292.8 L48,292.7 L49,292.5 L50,292.4 L51,292.3 L52,292.2 L53,292 L54,291.9 L55,291.8 L56,291.7 L57,291.5 L58,291.4 L59,291.3 L60,291.2 L61,291.1 L62,290.9 L63,290.8 L64,290.7 L65,290.6 L66,290.4 L67,290.3 L68,290.2 L69,290.1 L70,289.9 L71,289.8 L72,289.7 L73,289.6 L74,289.5 L75,289.3 L76,289.2 L77,289.1 L78,289 L79,288.8 L80,288.7 L81,288.6 L82,288.5 L83,288.3 L84,288.2 L85,288.1 L86,288 L87,287.8 L88,287.7 L89,287.6 L90,287.5 L91,287.4 L92,287.2 L93,287.1 L94,287 L95,286.9 L96,286.7 L97,286.6 L98,286.5 L99,286.4 L100,286.2 L101,286.1 L102,286 L103,285.9 L104,285.7 L105,285.6 L106,285.5 L107,285.4 L108,285.3 L109,285.1 L110,285 L111,284.9 L112,284.8 L113,284.6 L114,284.5 L115,284.4 L116,284.3 L117,284.1 L118,284 L119,283.9 L120,283.8 L121,283.6 L122,283.5 L123,283.4 L124,283.3 L125,283.1 L126,283 L127,282.9 L128,282.8 L129,282.6 L130,282.5 L131,282.4 L132,282.3 L133,282.1 L134,282 L135,281.9 L136,281.8 L137,281.7 L138,281.5 L139,281.4 L140,281.3 L141,281.2 L142,281 L143,280.9 L144,280.8 L145,280.7 L146,280.5 L147,280.4 L148,280.3 L149,280.2 L150,280 L151,279.9 L152,279.8 L153,279.7 L154,279.5 L155,279.4 L156,279.3 L157,279.2 L158,279 L159,278.9 L160,278.8 L161,278.7 L162,278.5 L163,278.4 L164,278.3 L165,278.2 L166,278 L167,277.9 L168,277.8 L169,277.7 L170,277.5 L171,277.4 L172,277.3 L173,277.2 L174,277 L175,276.9 L176,276.8 L177,276.6 L178,276.5 L179,276.4 L180,276.3 L181,276.1 L182,276 L183,275.9 L184,275.8 L185,275.6 L186,275.5 L187,275.4 L188,275.3 L189,275.1 L190,275 L191,274.9 L192,274.8 L193,274.6 L194,274.5 L195,274.4 L196,274.3 L197,274.1 L198,274 L199,273.9 L200,273.7 L201,273.6 L202,273.5 L203,273.4 L204,273.2 L205,273.1 L206,273 L207,272.9 L208,272.7 L209,272.6 L210,272.5 L211,272.3 L212,272.2 L213,272.1 L214,272 L215,271.8 L216,271.7 L217,271.6 L218,271.5 L219,271.3 L220,271.2 L221,271.1 L222,270.9 L223,270.8 L224,270.7 L225,270.6 L226,270.4 L227,270.3 L228,270.2 L229,270 L230,269.9 L231,269.8 L232,269.7 L233,269.5 L234,269.4 L235,269.3 L236,269.1 L237,269 L238,268.9 L239,268.8 L240,268.6 L241,268.5 L242,268.4 L243,268.2 L244,268.1 L245,268 L246,267.8 L247,267.7 L248,267.6 L249,267.5 L250,267.3 L251,267.2 L252,267.1 L253,266.9 L254,266.8 L255,266.7 L256,266.5 L257,266.4 L258,266.3 L259,266.1 L260,266 L261,265.9 L262,265.8 L263,265.6 L264,265.5 L265,265.4 L266,265.2 L267,265.1 L268,265 L269,264.8 L270,264.7 L271,264.6 L272,264.4 L273,264.3 L274,264.2 L275,264 L276,263.9 L277,263.8 L278,263.6 L279,263.5 L280,263.4 L281,263.2 L282,263.1 L283,263 L284,262.8 L285,262.7 L286,262.6 L287,262.4 L288,262.3 L289,262.1 L290,262 L291,261.9 L292,261.7 L293,261.6 L294,261.5 L295,261.3 L296,261.2 L297,261.1 L298,260.9 L299,260.8 L300,260.6 L301,260.5 L302,260.4 L303,260.2 L304,260.1 L305,260 L306,259.8 L307,259.7 L308,259.5 L309,259.4 L310,259.3 L311,259.1 L312,259 L313,258.8 L314,258.7 L315,258.6 L316,258.4 L317,258.3 L318,258.1 L319,258 L320,257.8 L321,257.7 L322,257.6 L323,257.4 L324,257.3 L325,257.1 L326,257 L327,256.8 L328,256.7 L329,256.5 L330,256.4 L331,256.3 L332,256.1 L333,256 L334,255.8 L335,255.7 L336,255.5 L337,255.4 L338,255.2 L339,255.1 L340,254.9 L341,254.8 L342,254.6 L343,254.5 L344,254.3 L345,254.2 L346,254 L347,253.9 L348,253.7 L349,253.6 L350,253.4 L351,253.3 L352,253.1 L353,252.9 L354,252.8 L355,252.6 L356,252.5 L357,252.3 L358,252.2 L359,252 L360,251.8 L361,251.7 L362,251.5 L363,251.4 L364,251.2 L365,251 L366,250.9 L367,250.7 L368,250.5 L369,250.4 L370,250.2 L371,250 L372,249.9 L373,249.7 L374,249.5 L375,249.4 L376,249.2 L377,249 L378,248.9 L379,248.7 L380,248.5 L381,248.3 L382,248.2 L383,248 L384,247.8 L385,247.6 L386,247.5 L387,247.3 L388,247.1 L389,246.9 L390,246.7 L391,246.5 L392,246.4 L393,246.2 L394,246 L395,245.8 L396,245.6 L397,245.4 L398,245.2 L399,245 L400,244.8 L401,244.6 L402,244.4 L403,244.2 L404,244 L405,243.8 L406,243.6 L407,243.4 L408,243.2 L409,242.9 L410,242.7 L411,242.5 L412,242.3 L413,242 L414,241.8 L415,241.6 L416,241.3 L417,241.1 L418,240.9 L419,240.6 L420,240.4 L421,240.1 L422,239.8 L423,239.6 L424,239.3 L425,239 L426,238.7 L427,238.5 L428,238.2 L429,237.9 L430,237.6 L431,237.2 L432,236.9 L433,236.6 L434,236.3 L435,235.9 L436,235.6 L437,235.2 L438,234.8 L439,234.5 L440,234.1 L441,233.7 L442,233.3 L443,232.8 L444,232.4 L445,231.9 L446,231.5 L447,231 L448,230.5 L449,230 L450,229.5 L451,228.9 L452,228.3 L453,227.8 L454,227.2 L455,226.5 L456,225.9 L457,225.2 L458,224.5 L459,223.8 L460,223 L461,222.2 L462,221.4 L463,220.5 L464,219.7 L465,218.7 L466,217.8 L467,216.8 L468,215.7 L469,214.6 L469,247.1 L468,247.1 L467,247.1 L466,247.2 L465,247.2 L464,247.2 L463,247.2 L462,247.3 L461,247.3 L460,247.3 L459,247.3 L458,247.4 L457,247.4 L456,247.4 L455,247.4 L454,247.5 L453,247.5 L452,247.5 L451,247.6 L450,247.6 L449,247.6 L448,247.7 L447,247.7 L446,247.8 L445,247.8 L444,247.8 L443,247.9 L442,247.9 L441,248 L440,248 L439,248.1 L438,248.1 L437,248.2 L436,248.2 L435,248.3 L434,248.3 L433,248.4 L432,248.4 L431,248.5 L430,248.5 L429,248.6 L428,248.6 L427,248.7 L426,248.8 L425,248.8 L424,248.9 L423,249 L422,249 L421,249.1 L420,249.2 L419,249.2 L418,249.3 L417,249.4 L416,249.5 L415,249.5 L414,249.6 L413,249.7 L412,249.8 L411,249.8 L410,249.9 L409,250 L408,250.1 L407,250.2 L406,250.3 L405,250.3 L404,250.4 L403,250.5 L402,250.6 L401,250.7 L400,250.8 L399,250.9 L398,251 L397,251.1 L396,251.2 L395,251.3 L394,251.4 L393,251.5 L392,251.5 L391,251.6 L390,251.7 L389,251.8 L388,251.9 L387,252 L386,252.2 L385,252.3 L384,252.4 L383,252.5 L382,252.6 L381,252.7 L380,252.8 L379,252.9 L378,253 L377,253.1 L376,253.2 L375,253.3 L374,253.4 L373,253.5 L372,253.6 L371,253.8 L370,253.9 L369,254 L368,254.1 L367,254.2 L366,254.3 L365,254.4 L364,254.5 L363,254.7 L362,254.8 L361,254.9 L360,255 L359,255.1 L358,255.2 L357,255.3 L356,255.5 L355,255.6 L354,255.7 L353,255.8 L352,255.9 L351,256 L350,256.2 L349,256.3 L348,256.4 L347,256.5 L346,256.6 L345,256.7 L344,256.9 L343,257 L342,257.1 L341,257.2 L340,257.3 L339,257.4 L338,257.6 L337,257.7 L336,257.8 L335,257.9 L334,258 L333,258.2 L332,258.3 L331,258.4 L330,258.5 L329,258.6 L328,258.8 L327,258.9 L326,259 L325,259.1 L324,259.2 L323,259.4 L322,259.5 L321,259.6 L320,259.7 L319,259.8 L318,260 L317,260.1 L316,260.2 L315,260.3 L314,260.4 L313,260.6 L312,260.7 L311,260.8 L310,260.9 L309,261 L308,261.2 L307,261.3 L306,261.4 L305,261.5 L304,261.6 L303,261.8 L302,261.9 L301,262 L300,262.1 L299,262.3 L298,262.4 L297,262.5 L296,262.6 L295,262.7 L294,262.9 L293,263 L292,263.1 L291,263.2 L290,263.3 L289,263.5 L288,263.6 L287,263.7 L286,263.8 L285,264 L284,264.1 L283,264.2 L282,264.3 L281,264.4 L280,264.6 L279,264.7 L278,264.8 L277,264.9 L276,265 L275,265.2 L274,265.3 L273,265.4 L272,265.5 L271,265.7 L270,265.8 L269,265.9 L268,266 L267,266.1 L266,266.3 L265,266.4 L264,266.5 L263,266.6 L262,266.7 L261,266.9 L260,267 L259,267.1 L258,267.2 L257,267.4 L256,267.5 L255,267.6 L254,267.7 L253,267.8 L252,268 L251,268.1 L250,268.2 L249,268.3 L248,268.4 L247,268.6 L246,268.7 L245,268.8 L244,268.9 L243,269.1 L242,269.2 L241,269.3 L240,269.4 L239,269.5 L238,269.7 L237,269.8 L236,269.9 L235,270 L234,270.2 L233,270.3 L232,270.4 L231,270.5 L230,270.6 L229,270.8 L228,270.9 L227,271 L226,271.1 L225,271.2 L224,271.4 L223,271.5 L222,271.6 L221,271.7 L220,271.9 L219,272 L218,272.1 L217,272.2 L216,272.3 L215,272.5 L214,272.6 L213,272.7 L212,272.8 L211,273 L210,273.1 L209,273.2 L208,273.3 L207,273.4 L206,273.6 L205,273.7 L204,273.8 L203,273.9 L202,274.1 L201,274.2 L200,274.3 L199,274.4 L198,274.5 L197,274.7 L196,274.8 L195,274.9 L194,275 L193,275.1 L192,275.3 L191,275.4 L190,275.5 L189,275.6 L188,275.8 L187,275.9 L186,276 L185,276.1 L184,276.2 L183,276.4 L182,276.5 L181,276.6 L180,276.7 L179,276.9 L178,277 L177,277.1 L176,277.2 L175,277.3 L174,277.5 L173,277.6 L172,277.7 L171,277.8 L170,277.9 L169,278.1 L168,278.2 L167,278.3 L166,278.4 L165,278.6 L164,278.7 L163,278.8 L162,278.9 L161,279 L160,279.2 L159,279.3 L158,279.4 L157,279.5 L156,279.7 L155,279.8 L154,279.9 L153,280 L152,280.1 L151,280.3 L150,280.4 L149,280.5 L148,280.6 L147,280.7 L146,280.9 L145,281 L144,281.1 L143,281.2 L142,281.4 L141,281.5 L140,281.6 L139,281.7 L138,281.8 L137,282 L136,282.1 L135,282.2 L134,282.3 L133,282.5 L132,282.6 L131,282.7 L130,282.8 L129,282.9 L128,283.1 L127,283.2 L126,283.3 L125,283.4 L124,283.6 L123,283.7 L122,283.8 L121,283.9 L120,284 L119,284.2 L118,284.3 L117,284.4 L116,284.5 L115,284.6 L114,284.8 L113,284.9 L112,285 L111,285.1 L110,285.3 L109,285.4 L108,285.5 L107,285.6 L106,285.7 L105,285.9 L104,286 L103,286.1 L102,286.2 L101,286.4 L100,286.5 L99,286.6 L98,286.7 L97,286.8 L96,287 L95,287.1 L94,287.2 L93,287.3 L92,287.4 L91,287.6 L90,287.7 L89,287.8 L88,287.9 L87,288.1 L86,288.2 L85,288.3 L84,288.4 L83,288.5 L82,288.7 L81,288.8 L80,288.9 L79,289 L78,289.2 L77,289.3 L76,289.4 L75,289.5 L74,289.6 L73,289.8 L72,289.9 L71,290 L70,290.1 L69,290.2 L68,290.4 L67,290.5 L66,290.6 L65,290.7 L64,290.9 L63,291 L62,291.1 L61,291.2 L60,291.3 L59,291.5 L58,291.6 L57,291.7 L56,291.8 L55,292 L54,292.1 L53,292.2 L52,292.3 L51,292.4 L50,292.6 L49,292.7 L48,292.8 L47,292.9 L46,293.1 L45,293.2 L44,293.3 L43,293.4 L42,293.5 L41,293.7 L40,293.8 L39,293.9 L38,294 L37,294.1 L36,294.3 L35,294.4 L34,294.5 L33,294.6 L32,294.8 L31,294.9 L30,295Z" fill="#d2d21a" fill-opacity="0.5" /><path d="M30,246.5 L31,246.5 L32,246.5 L33,246.5 L34,246.5 L35,246.5 L36,246.5 L37,246.5 L38,246.5 L39,246.5 L40,246.5 L41,246.5 L42,246.5 L43,246.5 L44,246.5 L45,246.5 L46,246.4 L47,246.4 L48,246.4 L49,246.4 L50,246.4 L51,246.4 L52,246.4 L53,246.4 L54,246.4 L55,246.4 L56,246.4 L57,246.4 L58,246.4 L59,246.4 L60,246.4 L61,246.4 L62,246.4 L63,246.4 L64,246.4 L65,246.4 L66,246.4 L67,246.4 L68,246.4 L69,246.4 L70,246.4 L71,246.4 L72,246.4 L73,246.4 L74,246.4 L75,246.4 L76,246.4 L77,246.4 L78,246.4 L79,246.4 L80,246.4 L81,246.4 L82,246.4 L83,246.4 L84,246.4 L85,246.4 L86,246.4 L87,246.4 L88,246.4 L89,246.4 L90,246.4 L91,246.4 L92,246.4 L93,246.4 L94,246.4 L95,246.4 L96,246.4 L97,246.4 L98,246.4 L99,246.4 L100,246.4 L101,246.4 L102,246.4 L103,246.4 L104,246.4 L105,246.4 L106,246.4 L107,246.4 L108,246.4 L109,246.3 L110,246.3 L111,246.3 L112,246.3 L113,246.3 L114,246.3 L115,246.3 L116,246.3 L117,246.3 L118,246.3 L119,246.3 L120,246.3 L121,246.3 L122,246.3 L123,246.3 L124,246.3 L125,246.3 L126,246.3 L127,246.3 L128,246.3 L129,246.3 L130,246.3 L131,246.3 L132,246.3 L133,246.3 L134,246.3 L135,246.3 L136,246.3 L137,246.3 L138,246.3 L139,246.3 L140,246.3 L141,246.3 L142,246.3 L143,246.3 L144,246.3 L145,246.3 L146,246.3 L147,246.3 L148,246.3 L149,246.2 L150,246.2 L151,246.2 L152,246.2 L153,246.2 L154,246.2 L155,246.2 L156,246.2 L157,246.2 L158,246.2 L159,246.2 L160,246.2 L161,246.2 L162,246.2 L163,246.2 L164,246.2 L165,246.2 L166,246.2 L167,246.2 L168,246.2 L169,246.2 L170,246.2 L171,246.2 L172,246.2 L173,246.2 L174,246.2 L175,246.2 L176,246.2 L177,246.2 L178,246.1 L179,246.1 L180,246.1 L181,246.1 L182,246.1 L183,246.1 L184,246.1 L185,246.1 L186,246.1 L187,246.1 L188,246.1 L189,246.1 L190,246.1 L191,246.1 L192,246.1 L193,246.1 L194,246.1 L195,246.1 L196,246.1 L197,246.1 L198,246.1 L199,246.1 L200,246.1 L201,246 L202,246 L203,246 L204,246 L205,246 L206,246 L207,246 L208,246 L209,246 L210,246 L211,246 L212,246 L213,246 L214,246 L215,246 L216,246 L217,246 L218,246 L219,245.9 L220,245.9 L221,245.9 L222,245.9 L223,245.9 L224,245.9 L225,245.9 L226,245.9 L227,245.9 L228,245.9 L229,245.9 L230,245.9 L231,245.9 L232,245.9 L233,245.9 L234,245.8 L235,245.8 L236,245.8 L237,245.8 L238,245.8 L239,245.8 L240,245.8 L241,245.8 L242,245.8 L243,245.8 L244,245.8 L245,245.8 L246,245.8 L247,245.7 L248,245.7 L249,245.7 L250,245.7 L251,245.7 L252,245.7 L253,245.7 L254,245.7 L255,245.7 L256,245.7 L257,245.7 L258,245.6 L259,245.6 L260,245.6 L261,245.6 L262,245.6 L263,245.6 L264,245.6 L265,245.6 L266,245.6 L267,245.6 L268,245.5 L269,245.5 L270,245.5 L271,245.5 L272,245.5 L273,245.5 L274,245.5 L275,245.5 L276,245.5 L277,245.4 L278,245.4 L279,245.4 L280,245.4 L281,245.4 L282,245.4 L283,245.4 L284,245.4 L285,245.3 L286,245.3 L287,245.3 L288,245.3 L289,245.3 L290,245.3 L291,245.3 L292,245.2 L293,245.2 L294,245.2 L295,245.2 L296,245.2 L297,245.2 L298,245.1 L299,245.1 L300,245.1 L301,245.1 L302,245.1 L303,245.1 L304,245 L305,245 L306,245 L307,245 L308,245 L309,245 L310,244.9 L311,244.9 L312,244.9 L313,244.9 L314,244.9 L315,244.8 L316,244.8 L317,244.8 L318,244.8 L319,244.7 L320,244.7 L321,244.7 L322,244.7 L323,244.7 L324,244.6 L325,244.6 L326,244.6 L327,244.6 L328,244.5 L329,244.5 L330,244.5 L331,244.5 L332,244.4 L333,244.4 L334,244.4 L335,244.3 L336,244.3 L337,244.3 L338,244.3 L339,244.2 L340,244.2 L341,244.2 L342,244.1 L343,244.1 L344,244.1 L345,244 L346,244 L347,244 L348,243.9 L349,243.9 L350,243.9 L351,243.8 L352,243.8 L353,243.7 L354,243.7 L355,243.7 L356,243.6 L357,243.6 L358,243.5 L359,243.5 L360,243.4 L361,243.4 L362,243.4 L363,243.3 L364,243.3 L365,243.2 L366,243.2 L367,243.1 L368,243.1 L369,243 L370,242.9 L371,242.9 L372,242.8 L373,242.8 L374,242.7 L375,242.7 L376,242.6 L377,242.5 L378,242.5 L379,242.4 L380,242.3 L381,242.3 L382,242.2 L383,242.1 L384,242.1 L385,242 L386,241.9 L387,241.8 L388,241.7 L389,241.7 L390,241.6 L391,241.5 L392,241.4 L393,241.3 L394,241.2 L395,241.1 L396,241 L397,240.9 L398,240.8 L399,240.7 L400,240.6 L401,240.5 L402,240.4 L403,240.3 L404,240.2 L405,240.1 L406,239.9 L407,239.8 L408,239.7 L409,239.5 L410,239.4 L411,239.3 L412,239.1 L413,239 L414,238.8 L415,238.7 L416,238.5 L417,238.3 L418,238.1 L419,238 L420,237.8 L421,237.6 L422,237.4 L423,237.2 L424,237 L425,236.8 L426,236.6 L427,236.3 L428,236.1 L429,235.9 L430,235.6 L431,235.4 L432,235.1 L433,234.8 L434,234.6 L435,234.3 L436,234 L437,233.7 L438,233.3 L439,233 L440,232.7 L441,232.3 L442,231.9 L443,231.6 L444,231.2 L445,230.7 L446,230.3 L447,229.9 L448,229.4 L449,228.9 L450,228.4 L451,227.9 L452,227.4 L453,226.8 L454,226.3 L455,225.7 L456,225.1 L457,224.4 L458,223.7 L459,223 L460,222.3 L461,221.5 L462,220.7 L463,219.9 L464,219 L465,218.1 L466,217.2 L467,216.2 L468,215.2 L469,214.1 L470,213 L471,211.9 L472,210.6 L473,209.4 L474,208.1 L475,206.7 L476,205.2 L477,203.7 L478,202.2 L479,200.5 L480,198.8 L481,197 L482,195.2 L483,193.2 L484,191.2 L485,189.1 L486,187 L487,184.7 L488,182.4 L489,180 L490,177.5 L491,175 L492,172.4 L493,169.7 L494,167 L495,164.3 L496,161.6 L497,158.8 L498,156.1 L499,153.5 L500,150.9 L501,148.5 L502,146.2 L503,144.1 L504,142.2 L505,140.5 L506,139.2 L507,138.1 L508,137.4 L509,137.1 L510,137.1 L511,137.5 L512,138.2 L513,139.3 L514,140.7 L515,142.4 L516,144.3 L517,146.5 L518,148.8 L519,151.3 L520,153.9 L521,156.5 L522,159.2 L523,162 L524,164.7 L525,167.4 L526,170.1 L527,172.8 L528,175.3 L529,177.9 L530,180.3 L531,182.7 L532,185 L533,187.3 L534,189.4 L535,191.5 L536,193.5 L537,195.4 L538,197.3 L539,199.1 L540,200.8 L541,202.4 L542,203.9 L543,205.4 L544,206.9 L545,208.3 L546,209.6 L547,210.8 L548,212 L549,213.2 L550,214.3 L551,215.4 L552,216.4 L553,217.3 L554,218.3 L555,219.2 L556,220 L557,220.9 L558,221.6 L559,222.4 L560,223.1 L561,223.8 L562,224.5 L563,225.1 L564,225.8 L565,226.4 L566,226.9 L567,227.5 L568,228 L569,228.5 L570,229 L571,229.5 L572,229.9 L573,230.4 L574,230.8 L575,231.2 L576,231.6 L577,232 L578,232.4 L579,232.7 L580,233.1 L581,233.4 L582,233.7 L583,234 L584,234.3 L585,234.6 L586,234.9 L587,235.2 L588,235.4 L589,235.7 L590,235.9 L591,236.2 L592,236.4 L593,236.6 L594,236.8 L595,237 L596,237.2 L597,237.4 L598,237.6 L599,237.8 L600,238 L601,238.2 L602,238.3 L603,238.5 L604,238.7 L605,238.8 L606,239 L607,239.1 L608,239.3 L609,239.4 L610,239.6 L611,239.7 L612,239.8 L613,239.9 L614,240.1 L615,240.2 L616,240.3 L617,240.4 L618,240.5 L619,240.6 L620,240.7 L621,240.9 L622,241 L623,241.1 L624,241.1 L625,241.2 L626,241.3 L627,241.4 L628,241.5 L629,241.6 L630,241.7 L631,241.8 L632,241.8 L633,241.9 L634,242 L635,242.1 L636,242.1 L637,242.2 L638,242.3 L639,242.3 L640,242.4 L641,242.5 L642,242.5 L643,242.6 L644,242.7 L645,242.7 L646,242.8 L647,242.8 L648,242.9 L649,243 L650,243 L651,243.1 L652,243.1 L653,243.2 L654,243.2 L655,243.3 L656,243.3 L657,243.4 L658,243.4 L659,243.5 L660,243.5 L661,243.5 L662,243.6 L663,243.6 L664,243.7 L665,243.7 L666,243.7 L667,243.8 L668,243.8 L669,243.9 L670,243.9 L671,243.9 L672,244 L673,244 L674,244 L675,244.1 L676,244.1 L677,244.1 L678,244.2 L679,244.2 L680,244.2 L681,244.3 L682,244.3 L683,244.3 L684,244.3 L685,244.4 L686,244.4 L687,244.4 L688,244.5 L689,244.5 L690,244.5 L691,244.5 L692,244.6 L693,244.6 L694,244.6 L695,244.6 L696,244.7 L697,244.7 L698,244.7 L699,244.7 L700,244.8 L701,244.8 L702,244.8 L703,244.8 L704,244.8 L705,244.9 L706,244.9 L707,244.9 L708,244.9 L709,244.9 L710,245 L711,245 L712,245 L713,245 L714,245 L715,245 L716,245.1 L717,245.1 L718,245.1 L719,245.1 L720,245.1 L721,245.1 L722,245.2 L723,245.2 L724,245.2 L725,245.2 L726,245.2 L727,245.2 L728,245.3 L729,245.3 L730,245.3 L731,245.3 L732,245.3 L733,245.3 L734,245.3 L735,245.4 L736,245.4 L737,245.4 L738,245.4 L739,245.4 L740,245.4 L741,245.4 L742,245.4 L743,245.5 L744,245.5 L745,245.5 L746,245.5 L747,245.5 L748,245.5 L749,245.5 L750,245.5 L751,245.5 L752,245.6 L753,245.6 L754,245.6 L755,245.6 L756,245.6 L757,245.6 L758,245.6 L759,245.6 L760,245.6 L761,245.6 L762,245.7 L763,245.7 L764,245.7 L765,245.7 L766,245.7 L767,245.7 L768,245.7 L769,245.7 L770,245.7 L771,245.7 L772,245.7 L773,245.8 L774,245.8 L775,245.8 L776,245.8 L777,245.8 L778,245.8 L779,245.8 L780,245.8 L781,245.8 L782,245.8 L783,245.8 L784,245.8 L785,245.8 L786,245.9 L786,246.6 L785,246.6 L784,246.6 L783,246.6 L782,246.6 L781,246.6 L780,246.6 L779,246.6 L778,246.6 L777,246.6 L776,246.6 L775,246.6 L774,246.6 L773,246.6 L772,246.6 L771,246.6 L770,246.6 L769,246.6 L768,246.6 L767,246.6 L766,246.6 L765,246.6 L764,246.6 L763,246.6 L762,246.6 L761,246.6 L760,246.6 L759,246.6 L758,246.6 L757,246.6 L756,246.6 L755,246.6 L754,246.6 L753,246.6 L752,246.6 L751,246.6 L750,246.6 L749,246.6 L748,246.6 L747,246.6 L746,246.6 L745,246.6 L744,246.6 L743,246.6 L742,246.6 L741,246.6 L740,246.6 L739,246.6 L738,246.6 L737,246.6 L736,246.6 L735,246.6 L734,246.6 L733,246.6 L732,246.6 L731,246.6 L730,246.6 L729,246.6 L728,246.6 L727,246.6 L726,246.6 L725,246.6 L724,246.6 L723,246.6 L722,246.6 L721,246.6 L720,246.6 L719,246.6 L718,246.6 L717,246.6 L716,246.6 L715,246.6 L714,246.6 L713,246.6 L712,246.6 L711,246.6 L710,246.6 L709,246.6 L708,246.6 L707,246.6 L706,246.6 L705,246.6 L704,246.6 L703,246.6 L702,246.6 L701,246.6 L700,246.6 L699,246.6 L698,246.6 L697,246.6 L696,246.6 L695,246.6 L694,246.6 L693,246.6 L692,246.6 L691,246.6 L690,246.6 L689,246.6 L688,246.6 L687,246.6 L686,246.6 L685,246.6 L684,246.6 L683,246.6 L682,246.6 L681,246.6 L680,246.6 L679,246.6 L678,246.6 L677,246.6 L676,246.6 L675,246.6 L674,246.6 L673,246.6 L672,246.6 L671,246.6 L670,246.6 L669,246.6 L668,246.6 L667,246.6 L666,246.6 L665,246.6 L664,246.6 L663,246.6 L662,246.6 L661,246.6 L660,246.6 L659,246.6 L658,246.6 L657,246.6 L656,246.6 L655,246.6 L654,246.6 L653,246.6 L652,246.6 L651,246.6 L650,246.6 L649,246.6 L648,246.6 L647,246.6 L646,246.6 L645,246.6 L644,246.6 L643,246.6 L642,246.6 L641,246.6 L640,246.6 L639,246.6 L638,246.6 L637,246.6 L636,246.6 L635,246.6 L634,246.6 L633,246.6 L632,246.6 L631,246.6 L630,246.6 L629,246.6 L628,246.6 L627,246.6 L626,246.6 L625,246.6 L624,246.6 L623,246.6 L622,246.6 L621,246.6 L620,246.6 L619,246.6 L618,246.6 L617,246.6 L616,246.6 L615,246.6 L614,246.6 L613,246.6 L612,246.6 L611,246.6 L610,246.6 L609,246.6 L608,246.6 L607,246.6 L606,246.6 L605,246.6 L604,246.6 L603,246.6 L602,246.6 L601,246.6 L600,246.6 L599,246.6 L598,246.6 L597,246.6 L596,246.6 L595,246.6 L594,246.6 L593,246.6 L592,246.6 L591,246.6 L590,246.6 L589,246.6 L588,246.6 L587,246.6 L586,246.6 L585,246.6 L584,246.6 L583,246.6 L582,246.6 L581,246.6 L580,246.6 L579,246.6 L578,246.6 L577,246.6 L576,246.6 L575,246.6 L574,246.6 L573,246.6 L572,246.6 L571,246.6 L570,246.6 L569,246.6 L568,246.6 L567,246.6 L566,246.6 L565,246.6 L564,246.6 L563,246.6 L562,246.6 L561,246.6 L560,246.6 L559,246.6 L558,246.6 L557,246.6 L556,246.6 L555,246.6 L554,246.6 L553,246.6 L552,246.6 L551,246.6 L550,246.6 L549,246.6 L548,246.6 L547,246.6 L546,246.6 L545,246.6 L544,246.6 L543,246.6 L542,246.6 L541,246.6 L540,246.6 L539,246.6 L538,246.6 L537,246.6 L536,246.6 L535,246.6 L534,246.6 L533,246.6 L532,246.6 L531,246.6 L530,246.6 L529,246.6 L528,246.6 L527,246.6 L526,246.6 L525,246.6 L524,246.6 L523,246.6 L522,246.6 L521,246.6 L520,246.6 L519,246.6 L518,246.6 L517,246.6 L516,246.6 L515,246.6 L514,246.6 L513,246.6 L512,246.6 L511,246.6 L510,246.6 L509,246.6 L508,246.6 L507,246.6 L506,246.6 L505,246.6 L504,246.6 L503,246.6 L502,246.6 L501,246.6 L500,246.6 L499,246.6 L498,246.6 L497,246.6 L496,246.6 L495,246.6 L494,246.6 L493,246.6 L492,246.6 L491,246.6 L490,246.6 L489,246.6 L488,246.6 L487,246.6 L486,246.6 L485,246.6 L484,246.6 L483,246.6 L482,246.6 L481,246.6 L480,246.6 L479,246.6 L478,246.6 L477,246.6 L476,246.6 L475,246.6 L474,246.6 L473,246.6 L472,246.6 L471,246.6 L470,246.6 L469,246.6 L468,246.6 L467,246.6 L466,246.6 L465,246.6 L464,246.6 L463,246.6 L462,246.6 L461,246.6 L460,246.6 L459,246.6 L458,246.6 L457,246.6 L456,246.6 L455,246.6 L454,246.6 L453,246.6 L452,246.6 L451,246.6 L450,246.6 L449,246.6 L448,246.6 L447,246.6 L446,246.6 L445,246.6 L444,246.6 L443,246.6 L442,246.6 L441,246.6 L440,246.6 L439,246.6 L438,246.6 L437,246.6 L436,246.6 L435,246.6 L434,246.6 L433,246.6 L432,246.6 L431,246.6 L430,246.6 L429,246.6 L428,246.6 L427,246.6 L426,246.6 L425,246.6 L424,246.6 L423,246.6 L422,246.6 L421,246.6 L420,246.6 L419,246.6 L418,246.6 L417,246.6 L416,246.6 L415,246.6 L414,246.6 L413,246.6 L412,246.6 L411,246.6 L410,246.6 L409,246.6 L408,246.6 L407,246.6 L406,246.6 L405,246.6 L404,246.6 L403,246.6 L402,246.6 L401,246.6 L400,246.6 L399,246.6 L398,246.6 L397,246.6 L396,246.6 L395,246.6 L394,246.6 L393,246.6 L392,246.6 L391,246.6 L390,246.6 L389,246.6 L388,246.6 L387,246.6 L386,246.6 L385,246.6 L384,246.6 L383,246.6 L382,246.6 L381,246.6 L380,246.6 L379,246.6 L378,246.6 L377,246.6 L376,246.6 L375,246.6 L374,246.6 L373,246.6 L372,246.6 L371,246.6 L370,246.6 L369,246.6 L368,246.6 L367,246.6 L366,246.6 L365,246.6 L364,246.6 L363,246.6 L362,246.6 L361,246.6 L360,246.6 L359,246.6 L358,246.6 L357,246.6 L356,246.6 L355,246.6 L354,246.6 L353,246.6 L352,246.6 L351,246.6 L350,246.6 L349,246.6 L348,246.6 L347,246.6 L346,246.6 L345,246.6 L344,246.6 L343,246.6 L342,246.6 L341,246.6 L340,246.6 L339,246.6 L338,246.6 L337,246.6 L336,246.6 L335,246.6 L334,246.6 L333,246.6 L332,246.6 L331,246.6 L330,246.6 L329,246.6 L328,246.6 L327,246.6 L326,246.6 L325,246.6 L324,246.6 L323,246.6 L322,246.6 L321,246.6 L320,246.6 L319,246.6 L318,246.6 L317,246.6 L316,246.6 L315,246.6 L314,246.6 L313,246.6 L312,246.6 L311,246.6 L310,246.6 L309,246.6 L308,246.6 L307,246.6 L306,246.6 L305,246.6 L304,246.6 L303,246.6 L302,246.6 L301,246.6 L300,246.6 L299,246.6 L298,246.6 L297,246.6 L296,246.6 L295,246.6 L294,246.6 L293,246.6 L292,246.6 L291,246.6 L290,246.6 L289,246.6 L288,246.6 L287,246.6 L286,246.6 L285,246.6 L284,246.6 L283,246.6 L282,246.6 L281,246.6 L280,246.6 L279,246.6 L278,246.6 L277,246.6 L276,246.6 L275,246.6 L274,246.6 L273,246.6 L272,246.6 L271,246.6 L270,246.6 L269,246.6 L268,246.6 L267,246.6 L266,246.6 L265,246.6 L264,246.6 L263,246.6 L262,246.6 L261,246.6 L260,246.6 L259,246.6 L258,246.6 L257,246.6 L256,246.6 L255,246.6 L254,246.6 L253,246.6 L252,246.6 L251,246.6 L250,246.6 L249,246.6 L248,246.6 L247,246.6 L246,246.6 L245,246.6 L244,246.6 L243,246.6 L242,246.6 L241,246.6 L240,246.6 L239,246.6 L238,246.6 L237,246.6 L236,246.6 L235,246.6 L234,246.6 L233,246.6 L232,246.6 L231,246.6 L230,246.6 L229,246.6 L228,246.6 L227,246.6 L226,246.6 L225,246.6 L224,246.6 L223,246.6 L222,246.6 L221,246.6 L220,246.6 L219,246.6 L218,246.6 L217,246.6 L216,246.6 L215,246.6 L214,246.6 L213,246.6 L212,246.6 L211,246.6 L210,246.6 L209,246.6 L208,246.6 L207,246.6 L206,246.6 L205,246.6 L204,246.6 L203,246.6 L202,246.6 L201,246.6 L200,246.6 L199,246.6 L198,246.6 L197,246.6 L196,246.6 L195,246.6 L194,246.6 L193,246.6 L192,246.6 L191,246.6 L190,246.6 L189,246.6 L188,246.6 L187,246.6 L186,246.6 L185,246.6 L184,246.6 L183,246.6 L182,246.6 L181,246.6 L180,246.6 L179,246.6 L178,246.6 L177,246.6 L176,246.6 L175,246.6 L174,246.6 L173,246.6 L172,246.6 L171,246.6 L170,246.6 L169,246.6 L168,246.6 L167,246.6 L166,246.6 L165,246.6 L164,246.6 L163,246.6 L162,246.6 L161,246.6 L160,246.6 L159,246.6 L158,246.6 L157,246.6 L156,246.6 L155,246.6 L154,246.6 L153,246.6 L152,246.6 L151,246.6 L150,246.6 L149,246.6 L148,246.6 L147,246.6 L146,246.6 L145,246.6 L144,246.6 L143,246.6 L142,246.6 L141,246.6 L140,246.6 L139,246.6 L138,246.6 L137,246.6 L136,246.6 L135,246.6 L134,246.6 L133,246.6 L132,246.6 L131,246.6 L130,246.6 L129,246.6 L128,246.6 L127,246.6 L126,246.6 L125,246.6 L124,246.6 L123,246.6 L122,246.6 L121,246.6 L120,246.6 L119,246.6 L118,246.6 L117,246.6 L116,246.6 L115,246.6 L114,246.6 L113,246.6 L112,246.6 L111,246.6 L110,246.6 L109,246.6 L108,246.6 L107,246.6 L106,246.6 L105,246.6 L104,246.6 L103,246.6 L102,246.6 L101,246.6 L100,246.6 L99,246.6 L98,246.6 L97,246.6 L96,246.6 L95,246.6 L94,246.6 L93,246.6 L92,246.6 L91,246.6 L90,246.6 L89,246.6 L88,246.6 L87,246.6 L86,246.6 L85,246.6 L84,246.6 L83,246.6 L82,246.6 L81,246.6 L80,246.6 L79,246.6 L78,246.6 L77,246.6 L76,246.6 L75,246.6 L74,246.6 L73,246.6 L72,246.6 L71,246.6 L70,246.6 L69,246.6 L68,246.6 L67,246.6 L66,246.6 L65,246.6 L64,246.6 L63,246.6 L62,246.6 L61,246.6 L60,246.6 L59,246.6 L58,246.6 L57,246.6 L56,246.6 L55,246.6 L54,246.6 L53,246.6 L52,246.6 L51,246.6 L50,246.6 L49,246.6 L48,246.6 L47,246.6 L46,246.6 L45,246.6 L44,246.6 L43,246.6 L42,246.6 L41,246.6 L40,246.6 L39,246.6 L38,246.6 L37,246.6 L36,246.6 L35,246.6 L34,246.6 L33,246.6 L32,246.6 L31,246.6 L30,246.6Z" fill="#d2d21a" fill-opacity="0.95" /><path d="M301,242.9 L302,242.8 L303,242.8 L304,242.7 L305,242.6 L306,242.6 L307,242.5 L308,242.4 L309,242.3 L310,242.3 L311,242.2 L312,242.1 L313,242 L314,241.9 L315,241.8 L316,241.7 L317,241.7 L318,241.6 L319,241.5 L320,241.4 L321,241.3 L322,241.2 L323,241 L324,240.9 L325,240.8 L326,240.7 L327,240.6 L328,240.4 L329,240.3 L330,240.2 L331,240.1 L332,239.9 L333,239.8 L334,239.6 L335,239.5 L336,239.3 L337,239.1 L338,239 L339,238.8 L340,238.6 L341,238.4 L342,238.3 L343,238.1 L344,237.9 L345,237.7 L346,237.4 L347,237.2 L348,237 L349,236.8 L350,236.5 L351,236.3 L352,236 L353,235.7 L354,235.5 L355,235.2 L356,234.9 L357,234.6 L358,234.3 L359,233.9 L360,233.6 L361,233.2 L362,232.9 L363,232.5 L364,232.1 L365,231.7 L366,231.3 L367,230.8 L368,230.4 L369,229.9 L370,229.4 L371,228.9 L372,228.4 L373,227.9 L374,227.3 L375,226.7 L376,226.1 L377,225.5 L378,224.8 L379,224.2 L380,223.4 L381,222.7 L382,221.9 L383,221.2 L384,220.3 L385,219.5 L386,218.6 L387,217.7 L388,216.7 L389,215.7 L390,214.7 L391,213.6 L392,212.5 L393,211.4 L394,210.2 L395,209 L396,207.7 L397,206.4 L398,205.1 L399,203.7 L400,202.3 L401,200.8 L402,199.3 L403,197.8 L404,196.2 L405,194.6 L406,193 L407,191.4 L408,189.7 L409,188.1 L410,186.5 L411,184.9 L412,183.3 L413,181.8 L414,180.4 L415,179 L416,177.8 L417,176.6 L418,175.7 L419,174.9 L420,174.3 L421,173.9 L422,173.7 L423,173.9 L424,174.3 L425,175 L426,176.1 L427,177.4 L428,179.1 L429,181.1 L430,183.5 L431,186.1 L432,189.1 L433,192.3 L434,195.9 L435,199.6 L436,203.7 L437,207.9 L438,212.4 L439,217 L440,221.8 L441,226.8 L442,231.9 L443,237.1 L444,242.5 L445,246.6 L446,246.6 L447,246.6 L448,246.6 L449,246.6 L450,246.6 L451,246.6 L452,246.6 L453,246.6 L454,246.6 L455,246.6 L456,246.6 L457,246.6 L458,246.6 L459,246.6 L460,246.6 L461,246.6 L462,246.6 L463,246.6 L464,246.6 L465,246.6 L466,246.6 L467,246.6 L468,246.6 L469,246.6 L470,246.6 L471,246.6 L472,246.6 L473,246.6 L474,246.6 L475,246.6 L476,246.6 L477,246.6 L478,246.6 L479,246.6 L480,246.6 L481,246.6 L482,246.6 L483,246.6 L484,246.6 L485,246.6 L486,246.6 L487,246.6 L488,244.2 L489,239.3 L490,234.4 L491,229.6 L492,224.9 L493,220.3 L494,215.7 L495,211.2 L496,206.8 L497,202.5 L498,198.3 L499,194.3 L500,190.5 L501,186.8 L502,183.3 L503,180.1 L504,177.2 L505,174.5 L506,172.2 L507,170.2 L508,168.5 L509,167.2 L510,166.3 L511,165.7 L512,165.5 L513,165.6 L514,166.1 L515,166.8 L516,167.8 L517,169 L518,170.5 L519,172.1 L520,173.8 L521,175.7 L522,177.6 L523,179.6 L524,181.7 L525,183.7 L526,185.8 L527,187.9 L528,190 L529,192 L530,194 L531,196 L532,197.9 L533,199.8 L534,201.6 L535,203.4 L536,205.1 L537,206.7 L538,208.3 L539,209.9 L540,211.4 L541,212.8 L542,214.2 L543,215.6 L544,216.8 L545,218.1 L546,219.3 L547,220.4 L548,221.5 L549,222.6 L550,223.6 L551,224.6 L552,225.6 L553,226.5 L554,227.4 L555,228.2 L556,229.1 L557,229.9 L558,230.6 L559,231.4 L560,232.1 L561,232.8 L562,233.5 L563,234.1 L564,234.8 L565,235.4 L566,236 L567,236.6 L568,237.1 L569,237.7 L570,238.2 L571,238.8 L572,239.3 L573,239.8 L574,240.3 L575,240.8 L576,241.2 L577,241.7 L578,242.1 L579,242.6 L580,243 L581,243.5 L582,243.9 L583,244.3 L584,244.7 L585,245.2 L586,245.6 L587,246 L588,246.4 L589,246.6 L590,246.6 L591,246.6 L592,246.6 L593,246.6 L594,246.6 L595,246.6 L596,246.6 L597,246.6 L598,246.6 L599,246.6 L600,246.6 L601,246.6 L602,246.6 L603,246.6 L604,246.6 L605,246.6 L606,246.6 L607,246.6 L608,246.6 L609,246.6 L610,246.6 L611,246.6 L612,246.6 L613,246.6 L614,246.6 L615,246.6 L616,246.6 L617,246.6 L618,246.6 L619,246.6 L620,246.6 L621,246.6 L622,246.6 L623,246.6 L624,246.6 L625,246.6 L626,246.6 L627,246.6 L628,246.6 L629,246.6 L630,246.6 L631,246.6 L632,246.6 L633,246.6 L634,246.6 L635,246.6 L636,246.6 L637,246.6 L638,246.6 L639,246.6 L640,246.6 L641,246.6 L642,246.6 L643,246.6 L644,246.6 L645,246.6 L646,246.6 L647,246.6 L648,246.6 L649,246.6 L650,246.6 L651,246.6 L652,246.6 L653,246.6 L654,246.6 L655,246.6 L656,246.6 L657,246.6 L658,246.6 L659,246.6 L660,246.6 L661,246.6 L662,246.6 L663,246.6 L664,246.6 L665,246.6 L666,246.6 L667,246.6 L668,246.6 L669,246.6 L670,246.6 L671,246.6 L672,246.6 L673,246.6 L674,246.6 L675,246.6 L676,246.6 L677,246.6 L678,246.6 L679,246.6 L680,246.6 L681,246.6 L682,246.6 L683,246.6 L684,246.6 L685,246.6 L686,246.6 L687,246.6 L688,246.6 L689,246.6 L690,246.6 L691,246.6 L692,246.6 L693,246.6 L694,246.6 L695,246.6 L696,246.6 L697,246.6 L698,246.6 L699,246.6 L700,246.6 L701,246.6 L702,246.6 L703,246.6 L704,246.6 L705,246.6 L706,246.6 L707,246.6 L708,246.6 L709,246.6 L710,246.6 L711,246.6 L712,246.6 L713,246.6 L714,246.6 L715,246.6 L716,246.6 L717,246.6 L718,246.6 L719,246.6 L720,246.6 L721,246.6 L722,246.6 L723,246.6 L724,246.6 L725,246.6 L726,246.6 L727,246.6 L728,246.6 L729,246.6 L730,246.6 L731,246.6 L732,246.6 L733,246.6 L734,246.6 L735,246.6 L736,246.6 L737,246.6 L738,246.6 L739,246.6 L740,246.6 L741,246.6 L742,246.6 L743,246.6 L744,246.6 L745,246.6 L746,246.6 L747,246.6 L748,246.6 L749,246.6 L750,246.6 L751,246.6 L752,246.6 L753,246.6 L754,246.6 L755,246.6 L756,246.6 L757,246.6 L758,246.6 L759,246.6 L760,246.6 L761,246.6 L762,246.6 L763,246.6 L764,246.6 L765,246.6 L766,246.6 L767,246.6 L768,246.6 L769,246.6 L770,246.6 L771,246.6 L772,246.6 L773,246.6 L774,246.6 L775,246.6 L776,246.6 L777,246.6 L778,246.6 L779,246.6 L780,246.6 L781,246.6 L782,246.6 L783,246.6 L784,246.6 L785,246.6 L786,246.6 L786,253.5 L785,253.7 L784,253.8 L783,253.9 L782,254.1 L781,254.2 L780,254.4 L779,254.6 L778,254.7 L777,254.9 L776,255.1 L775,255.3 L774,255.4 L773,255.6 L772,255.8 L771,256 L770,256.2 L769,256.5 L768,256.7 L767,256.9 L766,257.1 L765,257.4 L764,257.6 L763,257.9 L762,258.2 L761,258.5 L760,258.7 L759,259 L758,259.3 L757,259.7 L756,260 L755,260.3 L754,260.7 L753,261 L752,261.4 L751,261.8 L750,262.2 L749,262.6 L748,263.1 L747,263.5 L746,264 L745,264.5 L744,265 L743,265.5 L742,266 L741,266.6 L740,267.2 L739,267.8 L738,268.4 L737,269.1 L736,269.8 L735,270.5 L734,271.2 L733,272 L732,272.8 L731,273.7 L730,274.5 L729,275.5 L728,276.4 L727,277.4 L726,278.5 L725,279.5 L724,280.7 L723,281.9 L722,283.1 L721,284.4 L720,285.8 L719,287.2 L718,288.7 L717,290.2 L716,291.8 L715,293.5 L714,295.3 L713,297.2 L712,299.1 L711,301.1 L710,303.3 L709,305.5 L708,307.8 L707,310.2 L706,312.7 L705,315.3 L704,318.1 L703,320.9 L702,323.8 L701,326.9 L700,330 L699,333.2 L698,336.5 L697,339.9 L696,343.3 L695,346.8 L694,350.3 L693,353.8 L692,357.2 L691,360.5 L690,363.6 L689,366.6 L688,369.4 L687,371.8 L686,373.9 L685,375.5 L684,376.7 L683,377.4 L682,377.6 L681,377.3 L680,376.4 L679,375.1 L678,373.3 L677,371.1 L676,368.6 L675,365.7 L674,362.7 L673,359.4 L672,356 L671,352.6 L670,349 L669,345.5 L668,342 L667,338.5 L666,335.1 L665,331.8 L664,328.5 L663,325.3 L662,322.3 L661,319.3 L660,316.4 L659,313.7 L658,311 L657,308.5 L656,306 L655,303.7 L654,301.4 L653,299.3 L652,297.2 L651,295.2 L650,293.3 L649,291.5 L648,289.8 L647,288.1 L646,286.5 L645,285 L644,283.5 L643,282.1 L642,280.7 L641,279.4 L640,278.2 L639,277 L638,275.8 L637,274.7 L636,273.7 L635,272.7 L634,271.7 L633,270.7 L632,269.8 L631,268.9 L630,268.1 L629,267.3 L628,266.5 L627,265.7 L626,265 L625,264.3 L624,263.6 L623,262.9 L622,262.2 L621,261.6 L620,261 L619,260.4 L618,259.8 L617,259.3 L616,258.7 L615,258.2 L614,257.6 L613,257.1 L612,256.6 L611,256.1 L610,255.6 L609,255.2 L608,254.7 L607,254.3 L606,253.8 L605,253.4 L604,252.9 L603,252.5 L602,252.1 L601,251.7 L600,251.2 L599,250.8 L598,250.4 L597,250 L596,249.6 L595,249.2 L594,248.8 L593,248.4 L592,248 L591,247.6 L590,247.2 L589,246.8 L588,246.6 L587,246.6 L586,246.6 L585,246.6 L584,246.6 L583,246.6 L582,246.6 L581,246.6 L580,246.6 L579,246.6 L578,246.6 L577,246.6 L576,246.6 L575,246.6 L574,246.6 L573,246.6 L572,246.6 L571,246.6 L570,246.6 L569,246.6 L568,246.6 L567,246.6 L566,246.6 L565,246.6 L564,246.6 L563,246.6 L562,246.6 L561,246.6 L560,246.6 L559,246.6 L558,246.6 L557,246.6 L556,246.6 L555,246.6 L554,246.6 L553,246.6 L552,246.6 L551,246.6 L550,246.6 L549,246.6 L548,246.6 L547,246.6 L546,246.6 L545,246.6 L544,246.6 L543,246.6 L542,246.6 L541,246.6 L540,246.6 L539,246.6 L538,246.6 L537,246.6 L536,246.6 L535,246.6 L534,246.6 L533,246.6 L532,246.6 L531,246.6 L530,246.6 L529,246.6 L528,246.6 L527,246.6 L526,246.6 L525,246.6 L524,246.6 L523,246.6 L522,246.6 L521,246.6 L520,246.6 L519,246.6 L518,246.6 L517,246.6 L516,246.6 L515,246.6 L514,246.6 L513,246.6 L512,246.6 L511,246.6 L510,246.6 L509,246.6 L508,246.6 L507,246.6 L506,246.6 L505,246.6 L504,246.6 L503,246.6 L502,246.6 L501,246.6 L500,246.6 L499,246.6 L498,246.6 L497,246.6 L496,246.6 L495,246.6 L494,246.6 L493,246.6 L492,246.6 L491,246.6 L490,246.6 L489,246.6 L488,246.6 L487,249.1 L486,254.1 L485,259.1 L484,264.2 L483,269.4 L482,274.5 L481,279.7 L480,285 L479,290.2 L478,295.4 L477,300.6 L476,305.8 L475,310.8 L474,315.7 L473,320.3 L472,324.7 L471,328.8 L470,332.4 L469,335.5 L468,338 L467,339.7 L466,340.7 L465,341 L464,340.3 L463,338.9 L462,336.7 L461,333.8 L460,330.2 L459,326 L458,321.4 L457,316.4 L456,311.1 L455,305.6 L454,300 L453,294.2 L452,288.3 L451,282.4 L450,276.6 L449,270.7 L448,264.9 L447,259.2 L446,253.5 L445,247.9 L444,246.6 L443,246.6 L442,246.6 L441,246.6 L440,246.6 L439,246.6 L438,246.6 L437,246.6 L436,246.6 L435,246.6 L434,246.6 L433,246.6 L432,246.6 L431,246.6 L430,246.6 L429,246.6 L428,246.6 L427,246.6 L426,246.6 L425,246.6 L424,246.6 L423,246.6 L422,246.6 L421,246.6 L420,246.6 L419,246.6 L418,246.6 L417,246.6 L416,246.6 L415,246.6 L414,246.6 L413,246.6 L412,246.6 L411,246.6 L410,246.6 L409,246.6 L408,246.6 L407,246.6 L406,246.6 L405,246.6 L404,246.6 L403,246.6 L402,246.6 L401,246.6 L400,246.6 L399,246.6 L398,246.6 L397,246.6 L396,246.6 L395,246.6 L394,246.6 L393,246.6 L392,246.6 L391,246.6 L390,246.6 L389,246.6 L388,246.6 L387,246.6 L386,246.6 L385,246.6 L384,246.6 L383,246.6 L382,246.6 L381,246.6 L380,246.6 L379,246.6 L378,246.6 L377,246.6 L376,246.6 L375,246.6 L374,246.6 L373,246.6 L372,246.6 L371,246.6 L370,246.6 L369,246.6 L368,246.6 L367,246.6 L366,246.6 L365,246.6 L364,246.6 L363,246.6 L362,246.6 L361,246.6 L360,246.6 L359,246.6 L358,246.6 L357,246.6 L356,246.6 L355,246.6 L354,246.6 L353,246.6 L352,246.6 L351,246.6 L350,246.6 L349,246.6 L348,246.6 L347,246.6 L346,246.6 L345,246.6 L344,246.6 L343,246.6 L342,246.6 L341,246.6 L340,246.6 L339,246.6 L338,246.6 L337,246.6 L336,246.6 L335,246.6 L334,246.6 L333,246.6 L332,246.6 L331,246.6 L330,246.6 L329,246.6 L328,246.6 L327,246.6 L326,246.6 L325,246.6 L324,246.6 L323,246.6 L322,246.6 L321,246.6 L320,246.6 L319,246.6 L318,246.6 L317,246.6 L316,246.6 L315,246.6 L314,246.6 L313,246.6 L312,246.6 L311,246.6 L310,246.6 L309,246.6 L308,246.6 L307,246.6 L306,246.6 L305,246.6 L304,246.6 L303,246.6 L302,246.6 L301,246.6Z" fill="#c0d8ff" style="mix-blend-mode:multiply"/><g clip-path="url(#CF2)"><path d="M30,246.5 L31,246.5 L32,246.5 L33,246.5 L34,246.5 L35,246.5 L36,246.5 L37,246.5 L38,246.5 L39,246.5 L40,246.5 L41,246.5 L42,246.5 L43,246.5 L44,246.5 L45,246.5 L46,246.4 L47,246.4 L48,246.4 L49,246.4 L50,246.4 L51,246.4 L52,246.4 L53,246.4 L54,246.4 L55,246.4 L56,246.4 L57,246.4 L58,246.4 L59,246.4 L60,246.4 L61,246.4 L62,246.4 L63,246.4 L64,246.4 L65,246.4 L66,246.4 L67,246.4 L68,246.4 L69,246.4 L70,246.4 L71,246.4 L72,246.4 L73,246.4 L74,246.4 L75,246.4 L76,246.4 L77,246.4 L78,246.4 L79,246.4 L80,246.4 L81,246.4 L82,246.4 L83,246.4 L84,246.4 L85,246.4 L86,246.4 L87,246.4 L88,246.4 L89,246.4 L90,246.4 L91,246.4 L92,246.4 L93,246.4 L94,246.4 L95,246.4 L96,246.4 L97,246.4 L98,246.4 L99,246.4 L100,246.4 L101,246.4 L102,246.4 L103,246.4 L104,246.4 L105,246.4 L106,246.4 L107,246.4 L108,246.4 L109,246.3 L110,246.3 L111,246.3 L112,246.3 L113,246.3 L114,246.3 L115,246.3 L116,246.3 L117,246.3 L118,246.3 L119,246.3 L120,246.3 L121,246.3 L122,246.3 L123,246.3 L124,246.3 L125,246.3 L126,246.3 L127,246.3 L128,246.3 L129,246.3 L130,246.3 L131,246.3 L132,246.3 L133,246.3 L134,246.3 L135,246.3 L136,246.3 L137,246.3 L138,246.3 L139,246.3 L140,246.3 L141,246.3 L142,246.3 L143,246.3 L144,246.3 L145,246.3 L146,246.3 L147,246.3 L148,246.3 L149,246.2 L150,246.2 L151,246.2 L152,246.2 L153,246.2 L154,246.2 L155,246.2 L156,246.2 L157,246.2 L158,246.2 L159,246.2 L160,246.2 L161,246.2 L162,246.2 L163,246.2 L164,246.2 L165,246.2 L166,246.2 L167,246.2 L168,246.2 L169,246.2 L170,246.2 L171,246.2 L172,246.2 L173,246.2 L174,246.2 L175,246.2 L176,246.2 L177,246.2 L178,246.1 L179,246.1 L180,246.1 L181,246.1 L182,246.1 L183,246.1 L184,246.1 L185,246.1 L186,246.1 L187,246.1 L188,246.1 L189,246.1 L190,246.1 L191,246.1 L192,246.1 L193,246.1 L194,246.1 L195,246.1 L196,246.1 L197,246.1 L198,246.1 L199,246.1 L200,246.1 L201,246 L202,246 L203,246 L204,246 L205,246 L206,246 L207,246 L208,246 L209,246 L210,246 L211,246 L212,246 L213,246 L214,246 L215,246 L216,246 L217,246 L218,246 L219,245.9 L220,245.9 L221,245.9 L222,245.9 L223,245.9 L224,245.9 L225,245.9 L226,245.9 L227,245.9 L228,245.9 L229,245.9 L230,245.9 L231,245.9 L232,245.9 L233,245.9 L234,245.8 L235,245.8 L236,245.8 L237,245.8 L238,245.8 L239,245.8 L240,245.8 L241,245.8 L242,245.8 L243,245.8 L244,245.8 L245,245.8 L246,245.8 L247,245.7 L248,245.7 L249,245.7 L250,245.7 L251,245.7 L252,245.7 L253,245.7 L254,245.7 L255,245.7 L256,245.7 L257,245.7 L258,245.6 L259,245.6 L260,245.6 L261,245.6 L262,245.6 L263,245.6 L264,245.6 L265,245.6 L266,245.6 L267,245.6 L268,245.5 L269,245.5 L270,245.5 L271,245.5 L272,245.5 L273,245.5 L274,245.5 L275,245.5 L276,245.5 L277,245.4 L278,245.4 L279,245.4 L280,245.4 L281,245.4 L282,245.4 L283,245.4 L284,245.4 L285,245.3 L286,245.3 L287,245.3 L288,245.3 L289,245.3 L290,245.3 L291,245.3 L292,245.2 L293,245.2 L294,245.2 L295,245.2 L296,245.2 L297,245.2 L298,245.1 L299,245.1 L300,245.1 L301,245.1 L302,245.1 L303,245.1 L304,245 L305,245 L306,245 L307,245 L308,245 L309,245 L310,244.9 L311,244.9 L312,244.9 L313,244.9 L314,244.9 L315,244.8 L316,244.8 L317,244.8 L318,244.8 L319,244.7 L320,244.7 L321,244.7 L322,244.7 L323,244.7 L324,244.6 L325,244.6 L326,244.6 L327,244.6 L328,244.5 L329,244.5 L330,244.5 L331,244.5 L332,244.4 L333,244.4 L334,244.4 L335,244.3 L336,244.3 L337,244.3 L338,244.3 L339,244.2 L340,244.2 L341,244.2 L342,244.1 L343,244.1 L344,244.1 L345,244 L346,244 L347,244 L348,243.9 L349,243.9 L350,243.9 L351,243.8 L352,243.8 L353,243.7 L354,243.7 L355,243.7 L356,243.6 L357,243.6 L358,243.5 L359,243.5 L360,243.4 L361,243.4 L362,243.4 L363,243.3 L364,243.3 L365,243.2 L366,243.2 L367,243.1 L368,243.1 L369,243 L370,242.9 L371,242.9 L372,242.8 L373,242.8 L374,242.7 L375,242.7 L376,242.6 L377,242.5 L378,242.5 L379,242.4 L380,242.3 L381,242.3 L382,242.2 L383,242.1 L384,242.1 L385,242 L386,241.9 L387,241.8 L388,241.7 L389,241.7 L390,241.6 L391,241.5 L392,241.4 L393,241.3 L394,241.2 L395,241.1 L396,241 L397,240.9 L398,240.8 L399,240.7 L400,240.6 L401,240.5 L402,240.4 L403,240.3 L404,240.2 L405,240.1 L406,239.9 L407,239.8 L408,239.7 L409,239.5 L410,239.4 L411,239.3 L412,239.1 L413,239 L414,238.8 L415,238.7 L416,238.5 L417,238.3 L418,238.1 L419,238 L420,237.8 L421,237.6 L422,237.4 L423,237.2 L424,237 L425,236.8 L426,236.6 L427,236.3 L428,236.1 L429,235.9 L430,235.6 L431,235.4 L432,235.1 L433,234.8 L434,234.6 L435,234.3 L436,234 L437,233.7 L438,233.3 L439,233 L440,232.7 L441,232.3 L442,231.9 L443,231.6 L444,231.2 L445,230.7 L446,230.3 L447,229.9 L448,229.4 L449,228.9 L450,228.4 L451,227.9 L452,227.4 L453,226.8 L454,226.3 L455,225.7 L456,225.1 L457,224.4 L458,223.7 L459,223 L460,222.3 L461,221.5 L462,220.7 L463,219.9 L464,219 L465,218.1 L466,217.2 L467,216.2 L468,215.2 L469,214.1 L470,213 L471,211.9 L472,210.6 L473,209.4 L474,208.1 L475,206.7 L476,205.2 L477,203.7 L478,202.2 L479,200.5 L480,198.8 L481,197 L482,195.2 L483,193.2 L484,191.2 L485,189.1 L486,187 L487,184.7 L488,182.4 L489,180 L490,177.5 L491,175 L492,172.4 L493,169.7 L494,167 L495,164.3 L496,161.6 L497,158.8 L498,156.1 L499,153.5 L500,150.9 L501,148.5 L502,146.2 L503,144.1 L504,142.2 L505,140.5 L506,139.2 L507,138.1 L508,137.4 L509,137.1 L510,137.1 L511,137.5 L512,138.2 L513,139.3 L514,140.7 L515,142.4 L516,144.3 L517,146.5 L518,148.8 L519,151.3 L520,153.9 L521,156.5 L522,159.2 L523,162 L524,164.7 L525,167.4 L526,170.1 L527,172.8 L528,175.3 L529,177.9 L530,180.3 L531,182.7 L532,185 L533,187.3 L534,189.4 L535,191.5 L536,193.5 L537,195.4 L538,197.3 L539,199.1 L540,200.8 L541,202.4 L542,203.9 L543,205.4 L544,206.9 L545,208.3 L546,209.6 L547,210.8 L548,212 L549,213.2 L550,214.3 L551,215.4 L552,216.4 L553,217.3 L554,218.3 L555,219.2 L556,220 L557,220.9 L558,221.6 L559,222.4 L560,223.1 L561,223.8 L562,224.5 L563,225.1 L564,225.8 L565,226.4 L566,226.9 L567,227.5 L568,228 L569,228.5 L570,229 L571,229.5 L572,229.9 L573,230.4 L574,230.8 L575,231.2 L576,231.6 L577,232 L578,232.4 L579,232.7 L580,233.1 L581,233.4 L582,233.7 L583,234 L584,234.3 L585,234.6 L586,234.9 L587,235.2 L588,235.4 L589,235.7 L590,235.9 L591,236.2 L592,236.4 L593,236.6 L594,236.8 L595,237 L596,237.2 L597,237.4 L598,237.6 L599,237.8 L600,238 L601,238.2 L602,238.3 L603,238.5 L604,238.7 L605,238.8 L606,239 L607,239.1 L608,239.3 L609,239.4 L610,239.6 L611,239.7 L612,239.8 L613,239.9 L614,240.1 L615,240.2 L616,240.3 L617,240.4 L618,240.5 L619,240.6 L620,240.7 L621,240.9 L622,241 L623,241.1 L624,241.1 L625,241.2 L626,241.3 L627,241.4 L628,241.5 L629,241.6 L630,241.7 L631,241.8 L632,241.8 L633,241.9 L634,242 L635,242.1 L636,242.1 L637,242.2 L638,242.3 L639,242.3 L640,242.4 L641,242.5 L642,242.5 L643,242.6 L644,242.7 L645,242.7 L646,242.8 L647,242.8 L648,242.9 L649,243 L650,243 L651,243.1 L652,243.1 L653,243.2 L654,243.2 L655,243.3 L656,243.3 L657,243.4 L658,243.4 L659,243.5 L660,243.5 L661,243.5 L662,243.6 L663,243.6 L664,243.7 L665,243.7 L666,243.7 L667,243.8 L668,243.8 L669,243.9 L670,243.9 L671,243.9 L672,244 L673,244 L674,244 L675,244.1 L676,244.1 L677,244.1 L678,244.2 L679,244.2 L680,244.2 L681,244.3 L682,244.3 L683,244.3 L684,244.3 L685,244.4 L686,244.4 L687,244.4 L688,244.5 L689,244.5 L690,244.5 L691,244.5 L692,244.6 L693,244.6 L694,244.6 L695,244.6 L696,244.7 L697,244.7 L698,244.7 L699,244.7 L700,244.8 L701,244.8 L702,244.8 L703,244.8 L704,244.8 L705,244.9 L706,244.9 L707,244.9 L708,244.9 L709,244.9 L710,245 L711,245 L712,245 L713,245 L714,245 L715,245 L716,245.1 L717,245.1 L718,245.1 L719,245.1 L720,245.1 L721,245.1 L722,245.2 L723,245.2 L724,245.2 L725,245.2 L726,245.2 L727,245.2 L728,245.3 L729,245.3 L730,245.3 L731,245.3 L732,245.3 L733,245.3 L734,245.3 L735,245.4 L736,245.4 L737,245.4 L738,245.4 L739,245.4 L740,245.4 L741,245.4 L742,245.4 L743,245.5 L744,245.5 L745,245.5 L746,245.5 L747,245.5 L748,245.5 L749,245.5 L750,245.5 L751,245.5 L752,245.6 L753,245.6 L754,245.6 L755,245.6 L756,245.6 L757,245.6 L758,245.6 L759,245.6 L760,245.6 L761,245.6 L762,245.7 L763,245.7 L764,245.7 L765,245.7 L766,245.7 L767,245.7 L768,245.7 L769,245.7 L770,245.7 L771,245.7 L772,245.7 L773,245.8 L774,245.8 L775,245.8 L776,245.8 L777,245.8 L778,245.8 L779,245.8 L780,245.8 L781,245.8 L782,245.8 L783,245.8 L784,245.8 L785,245.8 L786,245.9 L786,246.6 L785,246.6 L784,246.6 L783,246.6 L782,246.6 L781,246.6 L780,246.6 L779,246.6 L778,246.6 L777,246.6 L776,246.6 L775,246.6 L774,246.6 L773,246.6 L772,246.6 L771,246.6 L770,246.6 L769,246.6 L768,246.6 L767,246.6 L766,246.6 L765,246.6 L764,246.6 L763,246.6 L762,246.6 L761,246.6 L760,246.6 L759,246.6 L758,246.6 L757,246.6 L756,246.6 L755,246.6 L754,246.6 L753,246.6 L752,246.6 L751,246.6 L750,246.6 L749,246.6 L748,246.6 L747,246.6 L746,246.6 L745,246.6 L744,246.6 L743,246.6 L742,246.6 L741,246.6 L740,246.6 L739,246.6 L738,246.6 L737,246.6 L736,246.6 L735,246.6 L734,246.6 L733,246.6 L732,246.6 L731,246.6 L730,246.6 L729,246.6 L728,246.6 L727,246.6 L726,246.6 L725,246.6 L724,246.6 L723,246.6 L722,246.6 L721,246.6 L720,246.6 L719,246.6 L718,246.6 L717,246.6 L716,246.6 L715,246.6 L714,246.6 L713,246.6 L712,246.6 L711,246.6 L710,246.6 L709,246.6 L708,246.6 L707,246.6 L706,246.6 L705,246.6 L704,246.6 L703,246.6 L702,246.6 L701,246.6 L700,246.6 L699,246.6 L698,246.6 L697,246.6 L696,246.6 L695,246.6 L694,246.6 L693,246.6 L692,246.6 L691,246.6 L690,246.6 L689,246.6 L688,246.6 L687,246.6 L686,246.6 L685,246.6 L684,246.6 L683,246.6 L682,246.6 L681,246.6 L680,246.6 L679,246.6 L678,246.6 L677,246.6 L676,246.6 L675,246.6 L674,246.6 L673,246.6 L672,246.6 L671,246.6 L670,246.6 L669,246.6 L668,246.6 L667,246.6 L666,246.6 L665,246.6 L664,246.6 L663,246.6 L662,246.6 L661,246.6 L660,246.6 L659,246.6 L658,246.6 L657,246.6 L656,246.6 L655,246.6 L654,246.6 L653,246.6 L652,246.6 L651,246.6 L650,246.6 L649,246.6 L648,246.6 L647,246.6 L646,246.6 L645,246.6 L644,246.6 L643,246.6 L642,246.6 L641,246.6 L640,246.6 L639,246.6 L638,246.6 L637,246.6 L636,246.6 L635,246.6 L634,246.6 L633,246.6 L632,246.6 L631,246.6 L630,246.6 L629,246.6 L628,246.6 L627,246.6 L626,246.6 L625,246.6 L624,246.6 L623,246.6 L622,246.6 L621,246.6 L620,246.6 L619,246.6 L618,246.6 L617,246.6 L616,246.6 L615,246.6 L614,246.6 L613,246.6 L612,246.6 L611,246.6 L610,246.6 L609,246.6 L608,246.6 L607,246.6 L606,246.6 L605,246.6 L604,246.6 L603,246.6 L602,246.6 L601,246.6 L600,246.6 L599,246.6 L598,246.6 L597,246.6 L596,246.6 L595,246.6 L594,246.6 L593,246.6 L592,246.6 L591,246.6 L590,246.6 L589,246.6 L588,246.6 L587,246.6 L586,246.6 L585,246.6 L584,246.6 L583,246.6 L582,246.6 L581,246.6 L580,246.6 L579,246.6 L578,246.6 L577,246.6 L576,246.6 L575,246.6 L574,246.6 L573,246.6 L572,246.6 L571,246.6 L570,246.6 L569,246.6 L568,246.6 L567,246.6 L566,246.6 L565,246.6 L564,246.6 L563,246.6 L562,246.6 L561,246.6 L560,246.6 L559,246.6 L558,246.6 L557,246.6 L556,246.6 L555,246.6 L554,246.6 L553,246.6 L552,246.6 L551,246.6 L550,246.6 L549,246.6 L548,246.6 L547,246.6 L546,246.6 L545,246.6 L544,246.6 L543,246.6 L542,246.6 L541,246.6 L540,246.6 L539,246.6 L538,246.6 L537,246.6 L536,246.6 L535,246.6 L534,246.6 L533,246.6 L532,246.6 L531,246.6 L530,246.6 L529,246.6 L528,246.6 L527,246.6 L526,246.6 L525,246.6 L524,246.6 L523,246.6 L522,246.6 L521,246.6 L520,246.6 L519,246.6 L518,246.6 L517,246.6 L516,246.6 L515,246.6 L514,246.6 L513,246.6 L512,246.6 L511,246.6 L510,246.6 L509,246.6 L508,246.6 L507,246.6 L506,246.6 L505,246.6 L504,246.6 L503,246.6 L502,246.6 L501,246.6 L500,246.6 L499,246.6 L498,246.6 L497,246.6 L496,246.6 L495,246.6 L494,246.6 L493,246.6 L492,246.6 L491,246.6 L490,246.6 L489,246.6 L488,246.6 L487,246.6 L486,246.6 L485,246.6 L484,246.6 L483,246.6 L482,246.6 L481,246.6 L480,246.6 L479,246.6 L478,246.6 L477,246.6 L476,246.6 L475,246.6 L474,246.6 L473,246.6 L472,246.6 L471,246.6 L470,246.6 L469,246.6 L468,246.6 L467,246.6 L466,246.6 L465,246.6 L464,246.6 L463,246.6 L462,246.6 L461,246.6 L460,246.6 L459,246.6 L458,246.6 L457,246.6 L456,246.6 L455,246.6 L454,246.6 L453,246.6 L452,246.6 L451,246.6 L450,246.6 L449,246.6 L448,246.6 L447,246.6 L446,246.6 L445,246.6 L444,246.6 L443,246.6 L442,246.6 L441,246.6 L440,246.6 L439,246.6 L438,246.6 L437,246.6 L436,246.6 L435,246.6 L434,246.6 L433,246.6 L432,246.6 L431,246.6 L430,246.6 L429,246.6 L428,246.6 L427,246.6 L426,246.6 L425,246.6 L424,246.6 L423,246.6 L422,246.6 L421,246.6 L420,246.6 L419,246.6 L418,246.6 L417,246.6 L416,246.6 L415,246.6 L414,246.6 L413,246.6 L412,246.6 L411,246.6 L410,246.6 L409,246.6 L408,246.6 L407,246.6 L406,246.6 L405,246.6 L404,246.6 L403,246.6 L402,246.6 L401,246.6 L400,246.6 L399,246.6 L398,246.6 L397,246.6 L396,246.6 L395,246.6 L394,246.6 L393,246.6 L392,246.6 L391,246.6 L390,246.6 L389,246.6 L388,246.6 L387,246.6 L386,246.6 L385,246.6 L384,246.6 L383,246.6 L382,246.6 L381,246.6 L380,246.6 L379,246.6 L378,246.6 L377,246.6 L376,246.6 L375,246.6 L374,246.6 L373,246.6 L372,246.6 L371,246.6 L370,246.6 L369,246.6 L368,246.6 L367,246.6 L366,246.6 L365,246.6 L364,246.6 L363,246.6 L362,246.6 L361,246.6 L360,246.6 L359,246.6 L358,246.6 L357,246.6 L356,246.6 L355,246.6 L354,246.6 L353,246.6 L352,246.6 L351,246.6 L350,246.6 L349,246.6 L348,246.6 L347,246.6 L346,246.6 L345,246.6 L344,246.6 L343,246.6 L342,246.6 L341,246.6 L340,246.6 L339,246.6 L338,246.6 L337,246.6 L336,246.6 L335,246.6 L334,246.6 L333,246.6 L332,246.6 L331,246.6 L330,246.6 L329,246.6 L328,246.6 L327,246.6 L326,246.6 L325,246.6 L324,246.6 L323,246.6 L322,246.6 L321,246.6 L320,246.6 L319,246.6 L318,246.6 L317,246.6 L316,246.6 L315,246.6 L314,246.6 L313,246.6 L312,246.6 L311,246.6 L310,246.6 L309,246.6 L308,246.6 L307,246.6 L306,246.6 L305,246.6 L304,246.6 L303,246.6 L302,246.6 L301,246.6 L300,246.6 L299,246.6 L298,246.6 L297,246.6 L296,246.6 L295,246.6 L294,246.6 L293,246.6 L292,246.6 L291,246.6 L290,246.6 L289,246.6 L288,246.6 L287,246.6 L286,246.6 L285,246.6 L284,246.6 L283,246.6 L282,246.6 L281,246.6 L280,246.6 L279,246.6 L278,246.6 L277,246.6 L276,246.6 L275,246.6 L274,246.6 L273,246.6 L272,246.6 L271,246.6 L270,246.6 L269,246.6 L268,246.6 L267,246.6 L266,246.6 L265,246.6 L264,246.6 L263,246.6 L262,246.6 L261,246.6 L260,246.6 L259,246.6 L258,246.6 L257,246.6 L256,246.6 L255,246.6 L254,246.6 L253,246.6 L252,246.6 L251,246.6 L250,246.6 L249,246.6 L248,246.6 L247,246.6 L246,246.6 L245,246.6 L244,246.6 L243,246.6 L242,246.6 L241,246.6 L240,246.6 L239,246.6 L238,246.6 L237,246.6 L236,246.6 L235,246.6 L234,246.6 L233,246.6 L232,246.6 L231,246.6 L230,246.6 L229,246.6 L228,246.6 L227,246.6 L226,246.6 L225,246.6 L224,246.6 L223,246.6 L222,246.6 L221,246.6 L220,246.6 L219,246.6 L218,246.6 L217,246.6 L216,246.6 L215,246.6 L214,246.6 L213,246.6 L212,246.6 L211,246.6 L210,246.6 L209,246.6 L208,246.6 L207,246.6 L206,246.6 L205,246.6 L204,246.6 L203,246.6 L202,246.6 L201,246.6 L200,246.6 L199,246.6 L198,246.6 L197,246.6 L196,246.6 L195,246.6 L194,246.6 L193,246.6 L192,246.6 L191,246.6 L190,246.6 L189,246.6 L188,246.6 L187,246.6 L186,246.6 L185,246.6 L184,246.6 L183,246.6 L182,246.6 L181,246.6 L180,246.6 L179,246.6 L178,246.6 L177,246.6 L176,246.6 L175,246.6 L174,246.6 L173,246.6 L172,246.6 L171,246.6 L170,246.6 L169,246.6 L168,246.6 L167,246.6 L166,246.6 L165,246.6 L164,246.6 L163,246.6 L162,246.6 L161,246.6 L160,246.6 L159,246.6 L158,246.6 L157,246.6 L156,246.6 L155,246.6 L154,246.6 L153,246.6 L152,246.6 L151,246.6 L150,246.6 L149,246.6 L148,246.6 L147,246.6 L146,246.6 L145,246.6 L144,246.6 L143,246.6 L142,246.6 L141,246.6 L140,246.6 L139,246.6 L138,246.6 L137,246.6 L136,246.6 L135,246.6 L134,246.6 L133,246.6 L132,246.6 L131,246.6 L130,246.6 L129,246.6 L128,246.6 L127,246.6 L126,246.6 L125,246.6 L124,246.6 L123,246.6 L122,246.6 L121,246.6 L120,246.6 L119,246.6 L118,246.6 L117,246.6 L116,246.6 L115,246.6 L114,246.6 L113,246.6 L112,246.6 L111,246.6 L110,246.6 L109,246.6 L108,246.6 L107,246.6 L106,246.6 L105,246.6 L104,246.6 L103,246.6 L102,246.6 L101,246.6 L100,246.6 L99,246.6 L98,246.6 L97,246.6 L96,246.6 L95,246.6 L94,246.6 L93,246.6 L92,246.6 L91,246.6 L90,246.6 L89,246.6 L88,246.6 L87,246.6 L86,246.6 L85,246.6 L84,246.6 L83,246.6 L82,246.6 L81,246.6 L80,246.6 L79,246.6 L78,246.6 L77,246.6 L76,246.6 L75,246.6 L74,246.6 L73,246.6 L72,246.6 L71,246.6 L70,246.6 L69,246.6 L68,246.6 L67,246.6 L66,246.6 L65,246.6 L64,246.6 L63,246.6 L62,246.6 L61,246.6 L60,246.6 L59,246.6 L58,246.6 L57,246.6 L56,246.6 L55,246.6 L54,246.6 L53,246.6 L52,246.6 L51,246.6 L50,246.6 L49,246.6 L48,246.6 L47,246.6 L46,246.6 L45,246.6 L44,246.6 L43,246.6 L42,246.6 L41,246.6 L40,246.6 L39,246.6 L38,246.6 L37,246.6 L36,246.6 L35,246.6 L34,246.6 L33,246.6 L32,246.6 L31,246.6 L30,246.6Z" fill="#98cc1e" fill-opacity="0.92"/></g><path d="M30,246.6 L31,246.6 L32,246.6 L33,246.6 L34,246.6 L35,246.6 L36,246.6 L37,246.6 L38,246.6 L39,246.6 L40,246.6 L41,246.6 L42,246.6 L43,246.6 L44,246.6 L45,246.6 L46,246.6 L47,246.6 L48,246.6 L49,246.6 L50,246.6 L51,246.6 L52,246.6 L53,246.6 L54,246.6 L55,246.6 L56,246.6 L57,246.6 L58,246.6 L59,246.6 L60,246.6 L61,246.6 L62,246.6 L63,246.6 L64,246.6 L65,246.6 L66,246.6 L67,246.6 L68,246.6 L69,246.6 L70,246.6 L71,246.6 L72,246.6 L73,246.6 L74,246.6 L75,246.6 L76,246.6 L77,246.6 L78,246.6 L79,246.6 L80,246.6 L81,246.6 L82,246.6 L83,246.6 L84,246.6 L85,246.6 L86,246.6 L87,246.6 L88,246.6 L89,246.6 L90,246.6 L91,246.6 L92,246.6 L93,246.6 L94,246.6 L95,246.6 L96,246.6 L97,246.6 L98,246.6 L99,246.6 L100,246.6 L101,246.6 L102,246.6 L103,246.6 L104,246.6 L105,246.6 L106,246.6 L107,246.6 L108,246.6 L109,246.6 L110,246.6 L111,246.6 L112,246.6 L113,246.6 L114,246.6 L115,246.6 L116,246.6 L117,246.6 L118,246.6 L119,246.6 L120,246.6 L121,246.6 L122,246.6 L123,246.6 L124,246.6 L125,246.6 L126,246.6 L127,246.6 L128,246.6 L129,246.6 L130,246.6 L131,246.6 L132,246.6 L133,246.6 L134,246.6 L135,246.6 L136,246.6 L137,246.6 L138,246.6 L139,246.6 L140,246.6 L141,246.6 L142,246.6 L143,246.6 L144,246.6 L145,246.6 L146,246.6 L147,246.6 L148,246.6 L149,246.6 L150,246.6 L151,246.6 L152,246.6 L153,246.6 L154,246.6 L155,246.6 L156,246.6 L157,246.6 L158,246.6 L159,246.6 L160,246.6 L161,246.6 L162,246.6 L163,246.6 L164,246.6 L165,246.6 L166,246.6 L167,246.6 L168,246.6 L169,246.6 L170,246.6 L171,246.6 L172,246.6 L173,246.6 L174,246.6 L175,246.6 L176,246.6 L177,246.6 L178,246.6 L179,246.6 L180,246.6 L181,246.6 L182,246.6 L183,246.6 L184,246.6 L185,246.6 L186,246.6 L187,246.6 L188,246.6 L189,246.6 L190,246.6 L191,246.6 L192,246.6 L193,246.6 L194,246.6 L195,246.6 L196,246.6 L197,246.6 L198,246.6 L199,246.6 L200,246.6 L201,246.6 L202,246.6 L203,246.6 L204,246.6 L205,246.6 L206,246.6 L207,246.6 L208,246.6 L209,246.6 L210,246.6 L211,246.6 L212,246.6 L213,246.6 L214,246.6 L215,246.6 L216,246.6 L217,246.6 L218,246.6 L219,246.6 L220,246.6 L221,246.6 L222,246.6 L223,246.6 L224,246.6 L225,246.6 L226,246.6 L227,246.6 L228,246.6 L229,246.6 L230,246.6 L231,246.6 L232,246.6 L233,246.6 L234,246.6 L235,246.6 L236,246.6 L237,246.6 L238,246.6 L239,246.6 L240,246.6 L241,246.6 L242,246.6 L243,246.6 L244,246.6 L245,246.6 L246,246.6 L247,246.6 L248,246.6 L249,246.6 L250,246.6 L251,246.6 L252,246.6 L253,246.6 L254,246.6 L255,246.6 L256,246.6 L257,246.6 L258,246.6 L259,246.6 L260,246.6 L261,246.6 L262,246.6 L263,246.6 L264,246.6 L265,246.6 L266,246.6 L267,246.6 L268,246.6 L269,246.6 L270,246.6 L271,246.6 L272,246.6 L273,246.6 L274,246.6 L275,246.6 L276,246.6 L277,246.6 L278,246.6 L279,246.6 L280,246.6 L281,246.6 L282,246.6 L283,246.6 L284,246.6 L285,246.6 L286,246.6 L287,246.6 L288,246.6 L289,246.6 L290,246.6 L291,246.6 L292,246.6 L293,246.6 L294,246.6 L295,246.6 L296,246.6 L297,246.6 L298,246.6 L299,246.6 L300,246.6 L301,246.6 L302,246.6 L303,246.6 L304,246.6 L305,246.6 L306,246.6 L307,246.6 L308,246.6 L309,246.6 L310,246.6 L311,246.6 L312,246.6 L313,246.6 L314,246.6 L315,246.6 L316,246.6 L317,246.6 L318,246.6 L319,246.6 L320,246.6 L321,246.6 L322,246.6 L323,246.6 L324,246.6 L325,246.6 L326,246.6 L327,246.6 L328,246.6 L329,246.6 L330,246.6 L331,246.6 L332,246.6 L333,246.6 L334,246.6 L335,246.6 L336,246.6 L337,246.6 L338,246.6 L339,246.6 L340,246.6 L341,246.6 L342,246.6 L343,246.6 L344,246.6 L345,246.6 L346,246.6 L347,246.6 L348,246.6 L349,246.6 L350,246.6 L351,246.6 L352,246.6 L353,246.6 L354,246.6 L355,246.6 L356,246.6 L357,246.6 L358,246.6 L359,246.6 L360,246.6 L361,246.6 L362,246.6 L363,246.6 L364,246.6 L365,246.6 L366,246.6 L367,246.6 L368,246.6 L369,246.6 L370,246.6 L371,246.6 L372,246.6 L373,246.6 L374,246.6 L375,246.6 L376,246.6 L377,246.6 L378,246.6 L379,246.6 L380,246.6 L381,246.6 L382,246.6 L383,246.6 L384,246.6 L385,246.6 L386,246.6 L387,246.6 L388,246.6 L389,246.6 L390,246.6 L391,246.6 L392,246.6 L393,246.6 L394,246.6 L395,246.6 L396,246.6 L397,246.6 L398,246.6 L399,246.6 L400,246.6 L401,246.6 L402,246.6 L403,246.6 L404,246.6 L405,246.6 L406,246.6 L407,246.6 L408,246.6 L409,246.6 L410,246.6 L411,246.6 L412,246.6 L413,246.6 L414,246.6 L415,246.6 L416,246.6 L417,246.6 L418,246.6 L419,246.6 L420,246.6 L421,246.6 L422,246.6 L423,246.6 L424,246.6 L425,246.6 L426,246.6 L427,246.6 L428,246.6 L429,246.6 L430,246.6 L431,246.6 L432,246.6 L433,246.6 L434,246.6 L435,246.6 L436,246.6 L437,246.6 L438,246.6 L439,246.6 L440,246.6 L441,246.6 L442,246.6 L443,246.6 L444,246.6 L445,246.6 L446,246.6 L447,246.6 L448,246.6 L449,246.6 L450,246.6 L451,246.6 L452,246.6 L453,246.6 L454,246.6 L455,246.6 L456,246.6 L457,246.6 L458,246.6 L459,246.6 L460,246.6 L461,246.6 L462,246.6 L463,246.6 L464,246.6 L465,246.6 L466,246.6 L467,246.6 L468,246.6 L469,246.6 L469,247.1 L468,247.1 L467,247.1 L466,247.2 L465,247.2 L464,247.2 L463,247.2 L462,247.3 L461,247.3 L460,247.3 L459,247.3 L458,247.4 L457,247.4 L456,247.4 L455,247.4 L454,247.5 L453,247.5 L452,247.5 L451,247.6 L450,247.6 L449,247.6 L448,247.7 L447,247.7 L446,247.8 L445,247.8 L444,247.8 L443,247.9 L442,247.9 L441,248 L440,248 L439,248.1 L438,248.1 L437,248.2 L436,248.2 L435,248.3 L434,248.3 L433,248.4 L432,248.4 L431,248.5 L430,248.5 L429,248.6 L428,248.6 L427,248.7 L426,248.8 L425,248.8 L424,248.9 L423,249 L422,249 L421,249.1 L420,249.2 L419,249.2 L418,249.3 L417,249.4 L416,249.5 L415,249.5 L414,249.6 L413,249.7 L412,249.8 L411,249.8 L410,249.9 L409,250 L408,250.1 L407,250.2 L406,250.3 L405,250.3 L404,250.4 L403,250.5 L402,250.6 L401,250.7 L400,250.8 L399,250.9 L398,251 L397,251.1 L396,251.2 L395,251.3 L394,251.4 L393,251.5 L392,251.5 L391,251.6 L390,251.7 L389,251.8 L388,251.9 L387,252 L386,252.2 L385,252.3 L384,252.4 L383,252.5 L382,252.6 L381,252.7 L380,252.8 L379,252.9 L378,253 L377,253.1 L376,253.2 L375,253.3 L374,253.4 L373,253.5 L372,253.6 L371,253.8 L370,253.9 L369,254 L368,254.1 L367,254.2 L366,254.3 L365,254.4 L364,254.5 L363,254.7 L362,254.8 L361,254.9 L360,255 L359,255.1 L358,255.2 L357,255.3 L356,255.5 L355,255.6 L354,255.7 L353,255.8 L352,255.9 L351,256 L350,256.2 L349,256.3 L348,256.4 L347,256.5 L346,256.6 L345,256.7 L344,256.9 L343,257 L342,257.1 L341,257.2 L340,257.3 L339,257.4 L338,257.6 L337,257.7 L336,257.8 L335,257.9 L334,258 L333,258.2 L332,258.3 L331,258.4 L330,258.5 L329,258.6 L328,258.8 L327,258.9 L326,259 L325,259.1 L324,259.2 L323,259.4 L322,259.5 L321,259.6 L320,259.7 L319,259.8 L318,260 L317,260.1 L316,260.2 L315,260.3 L314,260.4 L313,260.6 L312,260.7 L311,260.8 L310,260.9 L309,261 L308,261.2 L307,261.3 L306,261.4 L305,261.5 L304,261.6 L303,261.8 L302,261.9 L301,262 L300,262.1 L299,262.3 L298,262.4 L297,262.5 L296,262.6 L295,262.7 L294,262.9 L293,263 L292,263.1 L291,263.2 L290,263.3 L289,263.5 L288,263.6 L287,263.7 L286,263.8 L285,264 L284,264.1 L283,264.2 L282,264.3 L281,264.4 L280,264.6 L279,264.7 L278,264.8 L277,264.9 L276,265 L275,265.2 L274,265.3 L273,265.4 L272,265.5 L271,265.7 L270,265.8 L269,265.9 L268,266 L267,266.1 L266,266.3 L265,266.4 L264,266.5 L263,266.6 L262,266.7 L261,266.9 L260,267 L259,267.1 L258,267.2 L257,267.4 L256,267.5 L255,267.6 L254,267.7 L253,267.8 L252,268 L251,268.1 L250,268.2 L249,268.3 L248,268.4 L247,268.6 L246,268.7 L245,268.8 L244,268.9 L243,269.1 L242,269.2 L241,269.3 L240,269.4 L239,269.5 L238,269.7 L237,269.8 L236,269.9 L235,270 L234,270.2 L233,270.3 L232,270.4 L231,270.5 L230,270.6 L229,270.8 L228,270.9 L227,271 L226,271.1 L225,271.2 L224,271.4 L223,271.5 L222,271.6 L221,271.7 L220,271.9 L219,272 L218,272.1 L217,272.2 L216,272.3 L215,272.5 L214,272.6 L213,272.7 L212,272.8 L211,273 L210,273.1 L209,273.2 L208,273.3 L207,273.4 L206,273.6 L205,273.7 L204,273.8 L203,273.9 L202,274.1 L201,274.2 L200,274.3 L199,274.4 L198,274.5 L197,274.7 L196,274.8 L195,274.9 L194,275 L193,275.1 L192,275.3 L191,275.4 L190,275.5 L189,275.6 L188,275.8 L187,275.9 L186,276 L185,276.1 L184,276.2 L183,276.4 L182,276.5 L181,276.6 L180,276.7 L179,276.9 L178,277 L177,277.1 L176,277.2 L175,277.3 L174,277.5 L173,277.6 L172,277.7 L171,277.8 L170,277.9 L169,278.1 L168,278.2 L167,278.3 L166,278.4 L165,278.6 L164,278.7 L163,278.8 L162,278.9 L161,279 L160,279.2 L159,279.3 L158,279.4 L157,279.5 L156,279.7 L155,279.8 L154,279.9 L153,280 L152,280.1 L151,280.3 L150,280.4 L149,280.5 L148,280.6 L147,280.7 L146,280.9 L145,281 L144,281.1 L143,281.2 L142,281.4 L141,281.5 L140,281.6 L139,281.7 L138,281.8 L137,282 L136,282.1 L135,282.2 L134,282.3 L133,282.5 L132,282.6 L131,282.7 L130,282.8 L129,282.9 L128,283.1 L127,283.2 L126,283.3 L125,283.4 L124,283.6 L123,283.7 L122,283.8 L121,283.9 L120,284 L119,284.2 L118,284.3 L117,284.4 L116,284.5 L115,284.6 L114,284.8 L113,284.9 L112,285 L111,285.1 L110,285.3 L109,285.4 L108,285.5 L107,285.6 L106,285.7 L105,285.9 L104,286 L103,286.1 L102,286.2 L101,286.4 L100,286.5 L99,286.6 L98,286.7 L97,286.8 L96,287 L95,287.1 L94,287.2 L93,287.3 L92,287.4 L91,287.6 L90,287.7 L89,287.8 L88,287.9 L87,288.1 L86,288.2 L85,288.3 L84,288.4 L83,288.5 L82,288.7 L81,288.8 L80,288.9 L79,289 L78,289.2 L77,289.3 L76,289.4 L75,289.5 L74,289.6 L73,289.8 L72,289.9 L71,290 L70,290.1 L69,290.2 L68,290.4 L67,290.5 L66,290.6 L65,290.7 L64,290.9 L63,291 L62,291.1 L61,291.2 L60,291.3 L59,291.5 L58,291.6 L57,291.7 L56,291.8 L55,292 L54,292.1 L53,292.2 L52,292.3 L51,292.4 L50,292.6 L49,292.7 L48,292.8 L47,292.9 L46,293.1 L45,293.2 L44,293.3 L43,293.4 L42,293.5 L41,293.7 L40,293.8 L39,293.9 L38,294 L37,294.1 L36,294.3 L35,294.4 L34,294.5 L33,294.6 L32,294.8 L31,294.9 L30,295Z" fill="#9a45bf" fill-opacity="1.0" /><g clip-path="url(#RT)"><path d="M30,246.6 L31,246.6 L32,246.6 L33,246.6 L34,246.6 L35,246.6 L36,246.6 L37,246.6 L38,246.6 L39,246.6 L40,246.6 L41,246.6 L42,246.6 L43,246.6 L44,246.6 L45,246.6 L46,246.6 L47,246.6 L48,246.6 L49,246.6 L50,246.6 L51,246.6 L52,246.6 L53,246.6 L54,246.6 L55,246.6 L56,246.6 L57,246.6 L58,246.6 L59,246.6 L60,246.6 L61,246.6 L62,246.6 L63,246.6 L64,246.6 L65,246.6 L66,246.6 L67,246.6 L68,246.6 L69,246.6 L70,246.6 L71,246.6 L72,246.6 L73,246.6 L74,246.6 L75,246.6 L76,246.6 L77,246.6 L78,246.6 L79,246.6 L80,246.6 L81,246.6 L82,246.6 L83,246.6 L84,246.6 L85,246.6 L86,246.6 L87,246.6 L88,246.6 L89,246.6 L90,246.6 L91,246.6 L92,246.6 L93,246.6 L94,246.6 L95,246.6 L96,246.6 L97,246.6 L98,246.6 L99,246.6 L100,246.6 L101,246.6 L102,246.6 L103,246.6 L104,246.6 L105,246.6 L106,246.6 L107,246.6 L108,246.6 L109,246.6 L110,246.6 L111,246.6 L112,246.6 L113,246.6 L114,246.6 L115,246.6 L116,246.6 L117,246.6 L118,246.6 L119,246.6 L120,246.6 L121,246.6 L122,246.6 L123,246.6 L124,246.6 L125,246.6 L126,246.6 L127,246.6 L128,246.6 L129,246.6 L130,246.6 L131,246.6 L132,246.6 L133,246.6 L134,246.6 L135,246.6 L136,246.6 L137,246.6 L138,246.6 L139,246.6 L140,246.6 L141,246.6 L142,246.6 L143,246.6 L144,246.6 L145,246.6 L146,246.6 L147,246.6 L148,246.6 L149,246.6 L150,246.6 L151,246.6 L152,246.6 L153,246.6 L154,246.6 L155,246.6 L156,246.6 L157,246.6 L158,246.6 L159,246.6 L160,246.6 L161,246.6 L162,246.6 L163,246.6 L164,246.6 L165,246.6 L166,246.6 L167,246.6 L168,246.6 L169,246.6 L170,246.6 L171,246.6 L172,246.6 L173,246.6 L174,246.6 L175,246.6 L176,246.6 L177,246.6 L178,246.6 L179,246.6 L180,246.6 L181,246.6 L182,246.6 L183,246.6 L184,246.6 L185,246.6 L186,246.6 L187,246.6 L188,246.6 L189,246.6 L190,246.6 L191,246.6 L192,246.6 L193,246.6 L194,246.6 L195,246.6 L196,246.6 L197,246.6 L198,246.6 L199,246.6 L200,246.6 L201,246.6 L202,246.6 L203,246.6 L204,246.6 L205,246.6 L206,246.6 L207,246.6 L208,246.6 L209,246.6 L210,246.6 L211,246.6 L212,246.6 L213,246.6 L214,246.6 L215,246.6 L216,246.6 L217,246.6 L218,246.6 L219,246.6 L220,246.6 L221,246.6 L222,246.6 L223,246.6 L224,246.6 L225,246.6 L226,246.6 L227,246.6 L228,246.6 L229,246.6 L230,246.6 L231,246.6 L232,246.6 L233,246.6 L234,246.6 L235,246.6 L236,246.6 L237,246.6 L238,246.6 L239,246.6 L240,246.6 L241,246.6 L242,246.6 L243,246.6 L244,246.6 L245,246.6 L246,246.6 L247,246.6 L248,246.6 L249,246.6 L250,246.6 L251,246.6 L252,246.6 L253,246.6 L254,246.6 L255,246.6 L256,246.6 L257,246.6 L258,246.6 L259,246.6 L260,246.6 L261,246.6 L262,246.6 L263,246.6 L264,246.6 L265,246.6 L266,246.6 L267,246.6 L268,246.6 L269,246.6 L270,246.6 L271,246.6 L272,246.6 L273,246.6 L274,246.6 L275,246.6 L276,246.6 L277,246.6 L278,246.6 L279,246.6 L280,246.6 L281,246.6 L282,246.6 L283,246.6 L284,246.6 L285,246.6 L286,246.6 L287,246.6 L288,246.6 L289,246.6 L290,246.6 L291,246.6 L292,246.6 L293,246.6 L294,246.6 L295,246.6 L296,246.6 L297,246.6 L298,246.6 L299,246.6 L300,246.6 L301,246.6 L302,246.6 L303,246.6 L304,246.6 L305,246.6 L306,246.6 L307,246.6 L308,246.6 L309,246.6 L310,246.6 L311,246.6 L312,246.6 L313,246.6 L314,246.6 L315,246.6 L316,246.6 L317,246.6 L318,246.6 L319,246.6 L320,246.6 L321,246.6 L322,246.6 L323,246.6 L324,246.6 L325,246.6 L326,246.6 L327,246.6 L328,246.6 L329,246.6 L330,246.6 L331,246.6 L332,246.6 L333,246.6 L334,246.6 L335,246.6 L336,246.6 L337,246.6 L338,246.6 L339,246.6 L340,246.6 L341,246.6 L342,246.6 L343,246.6 L344,246.6 L345,246.6 L346,246.6 L347,246.6 L348,246.6 L349,246.6 L350,246.6 L351,246.6 L352,246.6 L353,246.6 L354,246.6 L355,246.6 L356,246.6 L357,246.6 L358,246.6 L359,246.6 L360,246.6 L361,246.6 L362,246.6 L363,246.6 L364,246.6 L365,246.6 L366,246.6 L367,246.6 L368,246.6 L369,246.6 L370,246.6 L371,246.6 L372,246.6 L373,246.6 L374,246.6 L375,246.6 L376,246.6 L377,246.6 L378,246.6 L379,246.6 L380,246.6 L381,246.6 L382,246.6 L383,246.6 L384,246.6 L385,246.6 L386,246.6 L387,246.6 L388,246.6 L389,246.6 L390,246.6 L391,246.6 L392,246.6 L393,246.6 L394,246.6 L395,246.6 L396,246.6 L397,246.6 L398,246.6 L399,246.6 L400,246.6 L401,246.6 L402,246.6 L403,246.6 L404,246.6 L405,246.6 L406,246.6 L407,246.6 L408,246.6 L409,246.6 L410,246.6 L411,246.6 L412,246.6 L413,246.6 L414,246.6 L415,246.6 L416,246.6 L417,246.6 L418,246.6 L419,246.6 L420,246.6 L421,246.6 L422,246.6 L423,246.6 L424,246.6 L425,246.6 L426,246.6 L427,246.6 L428,246.6 L429,246.6 L430,246.6 L431,246.6 L432,246.6 L433,246.6 L434,246.6 L435,246.6 L436,246.6 L437,246.6 L438,246.6 L439,246.6 L440,246.6 L441,246.6 L442,246.6 L443,246.6 L444,246.6 L445,246.6 L446,246.6 L447,246.6 L448,246.6 L449,246.6 L450,246.6 L451,246.6 L452,246.6 L453,246.6 L454,246.6 L455,246.6 L456,246.6 L457,246.6 L458,246.6 L459,246.6 L460,246.6 L461,246.6 L462,246.6 L463,246.6 L464,246.6 L465,246.6 L466,246.6 L467,246.6 L468,246.6 L469,246.6 L469,246.8 L468,246.8 L467,246.8 L466,246.8 L465,246.8 L464,246.8 L463,246.8 L462,246.8 L461,246.8 L460,246.8 L459,246.8 L458,246.8 L457,246.8 L456,246.8 L455,246.8 L454,246.8 L453,246.8 L452,246.8 L451,246.8 L450,246.8 L449,246.8 L448,246.8 L447,246.8 L446,246.8 L445,246.8 L444,246.8 L443,246.8 L442,246.8 L441,246.8 L440,246.8 L439,246.8 L438,246.8 L437,246.8 L436,246.8 L435,246.8 L434,246.8 L433,246.8 L432,246.8 L431,246.8 L430,246.8 L429,246.8 L428,246.8 L427,246.8 L426,246.8 L425,246.8 L424,246.8 L423,246.9 L422,246.9 L421,246.9 L420,246.9 L419,246.9 L418,246.9 L417,246.9 L416,246.9 L415,246.9 L414,246.9 L413,246.9 L412,246.9 L411,246.9 L410,246.9 L409,246.9 L408,246.9 L407,246.9 L406,246.9 L405,246.9 L404,246.9 L403,246.9 L402,246.9 L401,246.9 L400,246.9 L399,246.9 L398,246.9 L397,246.9 L396,246.9 L395,246.9 L394,246.9 L393,246.9 L392,246.9 L391,246.9 L390,246.9 L389,246.9 L388,247 L387,247 L386,247 L385,247 L384,247 L383,247 L382,247 L381,247 L380,247 L379,247 L378,247 L377,247 L376,247 L375,247 L374,247 L373,247 L372,247 L371,247 L370,247 L369,247 L368,247 L367,247 L366,247 L365,247 L364,247 L363,247.1 L362,247.1 L361,247.1 L360,247.1 L359,247.1 L358,247.1 L357,247.1 L356,247.1 L355,247.1 L354,247.1 L353,247.1 L352,247.1 L351,247.1 L350,247.1 L349,247.1 L348,247.1 L347,247.1 L346,247.1 L345,247.1 L344,247.2 L343,247.2 L342,247.2 L341,247.2 L340,247.2 L339,247.2 L338,247.2 L337,247.2 L336,247.2 L335,247.2 L334,247.2 L333,247.2 L332,247.2 L331,247.2 L330,247.2 L329,247.3 L328,247.3 L327,247.3 L326,247.3 L325,247.3 L324,247.3 L323,247.3 L322,247.3 L321,247.3 L320,247.3 L319,247.3 L318,247.3 L317,247.4 L316,247.4 L315,247.4 L314,247.4 L313,247.4 L312,247.4 L311,247.4 L310,247.4 L309,247.4 L308,247.4 L307,247.5 L306,247.5 L305,247.5 L304,247.5 L303,247.5 L302,247.5 L301,247.5 L300,247.5 L299,247.5 L298,247.6 L297,247.6 L296,247.6 L295,247.6 L294,247.6 L293,247.6 L292,247.6 L291,247.7 L290,247.7 L289,247.7 L288,247.7 L287,247.7 L286,247.7 L285,247.7 L284,247.8 L283,247.8 L282,247.8 L281,247.8 L280,247.8 L279,247.8 L278,247.9 L277,247.9 L276,247.9 L275,247.9 L274,247.9 L273,247.9 L272,248 L271,248 L270,248 L269,248 L268,248.1 L267,248.1 L266,248.1 L265,248.1 L264,248.1 L263,248.2 L262,248.2 L261,248.2 L260,248.2 L259,248.3 L258,248.3 L257,248.3 L256,248.3 L255,248.4 L254,248.4 L253,248.4 L252,248.5 L251,248.5 L250,248.5 L249,248.6 L248,248.6 L247,248.6 L246,248.7 L245,248.7 L244,248.7 L243,248.8 L242,248.8 L241,248.9 L240,248.9 L239,248.9 L238,249 L237,249 L236,249.1 L235,249.1 L234,249.2 L233,249.2 L232,249.3 L231,249.3 L230,249.4 L229,249.4 L228,249.5 L227,249.5 L226,249.6 L225,249.6 L224,249.7 L223,249.8 L222,249.8 L221,249.9 L220,250 L219,250 L218,250.1 L217,250.2 L216,250.3 L215,250.3 L214,250.4 L213,250.5 L212,250.6 L211,250.7 L210,250.8 L209,250.9 L208,251 L207,251.1 L206,251.2 L205,251.3 L204,251.4 L203,251.5 L202,251.7 L201,251.8 L200,251.9 L199,252.1 L198,252.2 L197,252.4 L196,252.5 L195,252.7 L194,252.8 L193,253 L192,253.2 L191,253.4 L190,253.6 L189,253.8 L188,254 L187,254.2 L186,254.4 L185,254.7 L184,254.9 L183,255.2 L182,255.5 L181,255.7 L180,256 L179,256.3 L178,256.7 L177,257 L176,257.4 L175,257.7 L174,258.1 L173,258.6 L172,259 L171,259.5 L170,259.9 L169,260.5 L168,261 L167,261.6 L166,262.2 L165,262.8 L164,263.5 L163,264.2 L162,264.9 L161,265.7 L160,266.5 L159,267.4 L158,268.4 L157,269.4 L156,270.4 L155,271.6 L154,272.8 L153,274.1 L152,275.4 L151,276.9 L150,278.4 L149,280.1 L148,281.8 L147,283.7 L146,285.7 L145,287.8 L144,290.1 L143,292.5 L142,295 L141,297.7 L140,300.5 L139,303.5 L138,306.6 L137,309.8 L136,313.1 L135,316.6 L134,320.1 L133,323.6 L132,327 L131,330.4 L130,333.5 L129,336.4 L128,338.9 L127,340.9 L126,342.5 L125,343.4 L124,343.6 L123,343.2 L122,342.2 L121,340.6 L120,338.4 L119,335.8 L118,332.9 L117,329.7 L116,326.3 L115,322.9 L114,319.4 L113,315.9 L112,312.5 L111,309.1 L110,305.9 L109,302.8 L108,299.9 L107,297.1 L106,294.5 L105,292 L104,289.6 L103,287.4 L102,285.3 L101,283.3 L100,281.5 L99,279.7 L98,278.1 L97,276.6 L96,275.1 L95,273.8 L94,272.5 L93,271.3 L92,270.2 L91,269.2 L90,268.2 L89,267.2 L88,266.4 L87,265.5 L86,264.8 L85,264 L84,263.3 L83,262.7 L82,262 L81,261.4 L80,260.9 L79,260.3 L78,259.8 L77,259.4 L76,258.9 L75,258.5 L74,258.1 L73,257.7 L72,257.3 L71,256.9 L70,256.6 L69,256.3 L68,256 L67,255.7 L66,255.4 L65,255.1 L64,254.9 L63,254.6 L62,254.4 L61,254.2 L60,253.9 L59,253.7 L58,253.5 L57,253.3 L56,253.2 L55,253 L54,252.8 L53,252.6 L52,252.5 L51,252.3 L50,252.2 L49,252 L48,251.9 L47,251.8 L46,251.6 L45,251.5 L44,251.4 L43,251.3 L42,251.2 L41,251.1 L40,251 L39,250.9 L38,250.8 L37,250.7 L36,250.6 L35,250.5 L34,250.4 L33,250.3 L32,250.2 L31,250.2 L30,250.1Z" fill="#2db8a6" fill-opacity="1.0"/></g><g clip-path="url(#RT)"><path d="M30,246.6 L31,246.6 L32,246.6 L33,246.6 L34,246.6 L35,246.6 L36,246.6 L37,246.6 L38,246.6 L39,246.6 L40,246.6 L41,246.6 L42,246.6 L43,246.6 L44,246.6 L45,246.6 L46,246.6 L47,246.6 L48,246.6 L49,246.6 L50,246.6 L51,246.6 L52,246.6 L53,246.6 L54,246.6 L55,246.6 L56,246.6 L57,246.6 L58,246.6 L59,246.6 L60,246.6 L61,246.6 L62,246.6 L63,246.6 L64,246.6 L65,246.6 L66,246.6 L67,246.6 L68,246.6 L69,246.6 L70,246.6 L71,246.6 L72,246.6 L73,246.6 L74,246.6 L75,246.6 L76,246.6 L77,246.6 L78,246.6 L79,246.6 L80,246.6 L81,246.6 L82,246.6 L83,246.6 L84,246.6 L85,246.6 L86,246.6 L87,246.6 L88,246.6 L89,246.6 L90,246.6 L91,246.6 L92,246.6 L93,246.6 L94,246.6 L95,246.6 L96,246.6 L97,246.6 L98,246.6 L99,246.6 L100,246.6 L101,246.6 L102,246.6 L103,246.6 L104,246.6 L105,246.6 L106,246.6 L107,246.6 L108,246.6 L109,246.6 L110,246.6 L111,246.6 L112,246.6 L113,246.6 L114,246.6 L115,246.6 L116,246.6 L117,246.6 L118,246.6 L119,246.6 L120,246.6 L121,246.6 L122,246.6 L123,246.6 L124,246.6 L125,246.6 L126,246.6 L127,246.6 L128,246.6 L129,246.6 L130,246.6 L131,246.6 L132,246.6 L133,246.6 L134,246.6 L135,246.6 L136,246.6 L137,246.6 L138,246.6 L139,246.6 L140,246.6 L141,246.6 L142,246.6 L143,246.6 L144,246.6 L145,246.6 L146,246.6 L147,246.6 L148,246.6 L149,246.6 L150,246.6 L151,246.6 L152,246.6 L153,246.6 L154,246.6 L155,246.6 L156,246.6 L157,246.6 L158,246.6 L159,246.6 L160,246.6 L161,246.6 L162,246.6 L163,246.6 L164,246.6 L165,246.6 L166,246.6 L167,246.6 L168,246.6 L169,246.6 L170,246.6 L171,246.6 L172,246.6 L173,246.6 L174,246.6 L175,246.6 L176,246.6 L177,246.6 L178,246.6 L179,246.6 L180,246.6 L181,246.6 L182,246.6 L183,246.6 L184,246.6 L185,246.6 L186,246.6 L187,246.6 L188,246.6 L189,246.6 L190,246.6 L191,246.6 L192,246.6 L193,246.6 L194,246.6 L195,246.6 L196,246.6 L197,246.6 L198,246.6 L199,246.6 L200,246.6 L201,246.6 L202,246.6 L203,246.6 L204,246.6 L205,246.6 L206,246.6 L207,246.6 L208,246.6 L209,246.6 L210,246.6 L211,246.6 L212,246.6 L213,246.6 L214,246.6 L215,246.6 L216,246.6 L217,246.6 L218,246.6 L219,246.6 L220,246.6 L221,246.6 L222,246.6 L223,246.6 L224,246.6 L225,246.6 L226,246.6 L227,246.6 L228,246.6 L229,246.6 L230,246.6 L231,246.6 L232,246.6 L233,246.6 L234,246.6 L235,246.6 L236,246.6 L237,246.6 L238,246.6 L239,246.6 L240,246.6 L241,246.6 L242,246.6 L243,246.6 L244,246.6 L245,246.6 L246,246.6 L247,246.6 L248,246.6 L249,246.6 L250,246.6 L251,246.6 L252,246.6 L253,246.6 L254,246.6 L255,246.6 L256,246.6 L257,246.6 L258,246.6 L259,246.6 L260,246.6 L261,246.6 L262,246.6 L263,246.6 L264,246.6 L265,246.6 L266,246.6 L267,246.6 L268,246.6 L269,246.6 L270,246.6 L271,246.6 L272,246.6 L273,246.6 L274,246.6 L275,246.6 L276,246.6 L277,246.6 L278,246.6 L279,246.6 L280,246.6 L281,246.6 L282,246.6 L283,246.6 L284,246.6 L285,246.6 L286,246.6 L287,246.6 L288,246.6 L289,246.6 L290,246.6 L291,246.6 L292,246.6 L293,246.6 L294,246.6 L295,246.6 L296,246.6 L297,246.6 L298,246.6 L299,246.6 L300,246.6 L301,246.6 L302,246.6 L303,246.6 L304,246.6 L305,246.6 L306,246.6 L307,246.6 L308,246.6 L309,246.6 L310,246.6 L311,246.6 L312,246.6 L313,246.6 L314,246.6 L315,246.6 L316,246.6 L317,246.6 L318,246.6 L319,246.6 L320,246.6 L321,246.6 L322,246.6 L323,246.6 L324,246.6 L325,246.6 L326,246.6 L327,246.6 L328,246.6 L329,246.6 L330,246.6 L331,246.6 L332,246.6 L333,246.6 L334,246.6 L335,246.6 L336,246.6 L337,246.6 L338,246.6 L339,246.6 L340,246.6 L341,246.6 L342,246.6 L343,246.6 L344,246.6 L345,246.6 L346,246.6 L347,246.6 L348,246.6 L349,246.6 L350,246.6 L351,246.6 L352,246.6 L353,246.6 L354,246.6 L355,246.6 L356,246.6 L357,246.6 L358,246.6 L359,246.6 L360,246.6 L361,246.6 L362,246.6 L363,246.6 L364,246.6 L365,246.6 L366,246.6 L367,246.6 L368,246.6 L369,246.6 L370,246.6 L371,246.6 L372,246.6 L373,246.6 L374,246.6 L375,246.6 L376,246.6 L377,246.6 L378,246.6 L379,246.6 L380,246.6 L381,246.6 L382,246.6 L383,246.6 L384,246.6 L385,246.6 L386,246.6 L387,246.6 L388,246.6 L389,246.6 L390,246.6 L391,246.6 L392,246.6 L393,246.6 L394,246.6 L395,246.6 L396,246.6 L397,246.6 L398,246.6 L399,246.6 L400,246.6 L401,246.6 L402,246.6 L403,246.6 L404,246.6 L405,246.6 L406,246.6 L407,246.6 L408,246.6 L409,246.6 L410,246.6 L411,246.6 L412,246.6 L413,246.6 L414,246.6 L415,246.6 L416,246.6 L417,246.6 L418,246.6 L419,246.6 L420,246.6 L421,246.6 L422,246.6 L423,246.6 L424,246.6 L425,246.6 L426,246.6 L427,246.6 L428,246.6 L429,246.6 L430,246.6 L431,246.6 L432,246.6 L433,246.6 L434,246.6 L435,246.6 L436,246.6 L437,246.6 L438,246.6 L439,246.6 L440,246.6 L441,246.6 L442,246.6 L443,246.6 L444,246.6 L445,246.6 L446,246.6 L447,246.6 L448,246.6 L449,246.6 L450,246.6 L451,246.6 L452,246.6 L453,246.6 L454,246.6 L455,246.6 L456,246.6 L457,246.6 L458,246.6 L459,246.6 L460,246.6 L461,246.6 L462,246.6 L463,246.6 L464,246.6 L465,246.6 L466,246.6 L467,246.6 L468,246.6 L469,246.6 L469,247.2 L468,247.2 L467,247.2 L466,247.2 L465,247.2 L464,247.2 L463,247.2 L462,247.2 L461,247.2 L460,247.2 L459,247.3 L458,247.3 L457,247.3 L456,247.3 L455,247.3 L454,247.3 L453,247.3 L452,247.3 L451,247.3 L450,247.3 L449,247.3 L448,247.3 L447,247.3 L446,247.3 L445,247.3 L444,247.4 L443,247.4 L442,247.4 L441,247.4 L440,247.4 L439,247.4 L438,247.4 L437,247.4 L436,247.4 L435,247.4 L434,247.4 L433,247.4 L432,247.5 L431,247.5 L430,247.5 L429,247.5 L428,247.5 L427,247.5 L426,247.5 L425,247.5 L424,247.5 L423,247.5 L422,247.5 L421,247.6 L420,247.6 L419,247.6 L418,247.6 L417,247.6 L416,247.6 L415,247.6 L414,247.6 L413,247.6 L412,247.6 L411,247.7 L410,247.7 L409,247.7 L408,247.7 L407,247.7 L406,247.7 L405,247.7 L404,247.7 L403,247.8 L402,247.8 L401,247.8 L400,247.8 L399,247.8 L398,247.8 L397,247.8 L396,247.8 L395,247.9 L394,247.9 L393,247.9 L392,247.9 L391,247.9 L390,247.9 L389,248 L388,248 L387,248 L386,248 L385,248 L384,248 L383,248 L382,248.1 L381,248.1 L380,248.1 L379,248.1 L378,248.1 L377,248.2 L376,248.2 L375,248.2 L374,248.2 L373,248.2 L372,248.3 L371,248.3 L370,248.3 L369,248.3 L368,248.3 L367,248.4 L366,248.4 L365,248.4 L364,248.4 L363,248.4 L362,248.5 L361,248.5 L360,248.5 L359,248.5 L358,248.6 L357,248.6 L356,248.6 L355,248.6 L354,248.7 L353,248.7 L352,248.7 L351,248.8 L350,248.8 L349,248.8 L348,248.8 L347,248.9 L346,248.9 L345,248.9 L344,249 L343,249 L342,249 L341,249.1 L340,249.1 L339,249.1 L338,249.2 L337,249.2 L336,249.2 L335,249.3 L334,249.3 L333,249.4 L332,249.4 L331,249.4 L330,249.5 L329,249.5 L328,249.6 L327,249.6 L326,249.7 L325,249.7 L324,249.7 L323,249.8 L322,249.8 L321,249.9 L320,249.9 L319,250 L318,250 L317,250.1 L316,250.2 L315,250.2 L314,250.3 L313,250.3 L312,250.4 L311,250.5 L310,250.5 L309,250.6 L308,250.6 L307,250.7 L306,250.8 L305,250.9 L304,250.9 L303,251 L302,251.1 L301,251.2 L300,251.2 L299,251.3 L298,251.4 L297,251.5 L296,251.6 L295,251.7 L294,251.8 L293,251.8 L292,251.9 L291,252 L290,252.1 L289,252.2 L288,252.4 L287,252.5 L286,252.6 L285,252.7 L284,252.8 L283,252.9 L282,253.1 L281,253.2 L280,253.3 L279,253.5 L278,253.6 L277,253.7 L276,253.9 L275,254.1 L274,254.2 L273,254.4 L272,254.5 L271,254.7 L270,254.9 L269,255.1 L268,255.3 L267,255.5 L266,255.7 L265,255.9 L264,256.1 L263,256.3 L262,256.5 L261,256.8 L260,257 L259,257.3 L258,257.5 L257,257.8 L256,258.1 L255,258.4 L254,258.7 L253,259 L252,259.3 L251,259.6 L250,260 L249,260.3 L248,260.7 L247,261.1 L246,261.5 L245,261.9 L244,262.3 L243,262.8 L242,263.2 L241,263.7 L240,264.2 L239,264.7 L238,265.3 L237,265.8 L236,266.4 L235,267 L234,267.7 L233,268.3 L232,269 L231,269.7 L230,270.5 L229,271.2 L228,272.1 L227,272.9 L226,273.8 L225,274.7 L224,275.7 L223,276.7 L222,277.7 L221,278.8 L220,280 L219,281.1 L218,282.4 L217,283.7 L216,285 L215,286.4 L214,287.9 L213,289.4 L212,291 L211,292.6 L210,294.3 L209,296 L208,297.9 L207,299.7 L206,301.7 L205,303.6 L204,305.7 L203,307.8 L202,309.9 L201,312 L200,314.2 L199,316.3 L198,318.5 L197,320.6 L196,322.7 L195,324.7 L194,326.7 L193,328.5 L192,330.2 L191,331.7 L190,333.1 L189,334.2 L188,335.2 L187,335.8 L186,336.3 L185,336.4 L184,336.3 L183,335.9 L182,335.3 L181,334.4 L180,333.3 L179,332 L178,330.4 L177,328.6 L176,326.6 L175,324.5 L174,322.3 L173,319.9 L172,317.6 L171,315.1 L170,312.7 L169,310.2 L168,307.8 L167,305.4 L166,303 L165,300.7 L164,298.5 L163,296.3 L162,294.1 L161,292.1 L160,290.1 L159,288.2 L158,286.4 L157,284.6 L156,282.9 L155,281.3 L154,279.8 L153,278.3 L152,276.9 L151,275.5 L150,274.3 L149,273 L148,271.9 L147,270.8 L146,269.7 L145,268.7 L144,267.7 L143,266.8 L142,265.9 L141,265.1 L140,264.3 L139,263.5 L138,262.8 L137,262.1 L136,261.5 L135,260.8 L134,260.2 L133,259.7 L132,259.1 L131,258.6 L130,258.1 L129,257.7 L128,257.4 L127,257.1 L126,256.8 L125,256.5 L124,256.2 L123,255.9 L122,255.6 L121,255.4 L120,255.1 L119,254.9 L118,254.7 L117,254.4 L116,254.2 L115,254 L114,253.8 L113,253.7 L112,253.5 L111,253.3 L110,253.1 L109,253 L108,252.8 L107,252.7 L106,252.5 L105,252.4 L104,252.2 L103,252.1 L102,252 L101,251.9 L100,251.7 L99,251.6 L98,251.5 L97,251.4 L96,251.3 L95,251.2 L94,251.1 L93,251 L92,250.9 L91,250.8 L90,250.7 L89,250.7 L88,250.6 L87,250.5 L86,250.4 L85,250.3 L84,250.3 L83,250.2 L82,250.1 L81,250.1 L80,250 L79,249.9 L78,249.9 L77,249.8 L76,249.7 L75,249.7 L74,249.6 L73,249.6 L72,249.5 L71,249.5 L70,249.4 L69,249.4 L68,249.3 L67,249.3 L66,249.2 L65,249.2 L64,249.1 L63,249.1 L62,249.1 L61,249 L60,249 L59,248.9 L58,248.9 L57,248.9 L56,248.8 L55,248.8 L54,248.8 L53,248.7 L52,248.7 L51,248.7 L50,248.6 L49,248.6 L48,248.6 L47,248.5 L46,248.5 L45,248.5 L44,248.4 L43,248.4 L42,248.4 L41,248.4 L40,248.3 L39,248.3 L38,248.3 L37,248.3 L36,248.2 L35,248.2 L34,248.2 L33,248.2 L32,248.1 L31,248.1 L30,248.1Z" fill="#c437a3" fill-opacity="1.0"/></g><g clip-path="url(#RT)"><g clip-path="url(#S1F6t)"><path d="M30,246.6 L31,246.6 L32,246.6 L33,246.6 L34,246.6 L35,246.6 L36,246.6 L37,246.6 L38,246.6 L39,246.6 L40,246.6 L41,246.6 L42,246.6 L43,246.6 L44,246.6 L45,246.6 L46,246.6 L47,246.6 L48,246.6 L49,246.6 L50,246.6 L51,246.6 L52,246.6 L53,246.6 L54,246.6 L55,246.6 L56,246.6 L57,246.6 L58,246.6 L59,246.6 L60,246.6 L61,246.6 L62,246.6 L63,246.6 L64,246.6 L65,246.6 L66,246.6 L67,246.6 L68,246.6 L69,246.6 L70,246.6 L71,246.6 L72,246.6 L73,246.6 L74,246.6 L75,246.6 L76,246.6 L77,246.6 L78,246.6 L79,246.6 L80,246.6 L81,246.6 L82,246.6 L83,246.6 L84,246.6 L85,246.6 L86,246.6 L87,246.6 L88,246.6 L89,246.6 L90,246.6 L91,246.6 L92,246.6 L93,246.6 L94,246.6 L95,246.6 L96,246.6 L97,246.6 L98,246.6 L99,246.6 L100,246.6 L101,246.6 L102,246.6 L103,246.6 L104,246.6 L105,246.6 L106,246.6 L107,246.6 L108,246.6 L109,246.6 L110,246.6 L111,246.6 L112,246.6 L113,246.6 L114,246.6 L115,246.6 L116,246.6 L117,246.6 L118,246.6 L119,246.6 L120,246.6 L121,246.6 L122,246.6 L123,246.6 L124,246.6 L125,246.6 L126,246.6 L127,246.6 L128,246.6 L129,246.6 L130,246.6 L131,246.6 L132,246.6 L133,246.6 L134,246.6 L135,246.6 L136,246.6 L137,246.6 L138,246.6 L139,246.6 L140,246.6 L141,246.6 L142,246.6 L143,246.6 L144,246.6 L145,246.6 L146,246.6 L147,246.6 L148,246.6 L149,246.6 L150,246.6 L151,246.6 L152,246.6 L153,246.6 L154,246.6 L155,246.6 L156,246.6 L157,246.6 L158,246.6 L159,246.6 L160,246.6 L161,246.6 L162,246.6 L163,246.6 L164,246.6 L165,246.6 L166,246.6 L167,246.6 L168,246.6 L169,246.6 L170,246.6 L171,246.6 L172,246.6 L173,246.6 L174,246.6 L175,246.6 L176,246.6 L177,246.6 L178,246.6 L179,246.6 L180,246.6 L181,246.6 L182,246.6 L183,246.6 L184,246.6 L185,246.6 L186,246.6 L187,246.6 L188,246.6 L189,246.6 L190,246.6 L191,246.6 L192,246.6 L193,246.6 L194,246.6 L195,246.6 L196,246.6 L197,246.6 L198,246.6 L199,246.6 L200,246.6 L201,246.6 L202,246.6 L203,246.6 L204,246.6 L205,246.6 L206,246.6 L207,246.6 L208,246.6 L209,246.6 L210,246.6 L211,246.6 L212,246.6 L213,246.6 L214,246.6 L215,246.6 L216,246.6 L217,246.6 L218,246.6 L219,246.6 L220,246.6 L221,246.6 L222,246.6 L223,246.6 L224,246.6 L225,246.6 L226,246.6 L227,246.6 L228,246.6 L229,246.6 L230,246.6 L231,246.6 L232,246.6 L233,246.6 L234,246.6 L235,246.6 L236,246.6 L237,246.6 L238,246.6 L239,246.6 L240,246.6 L241,246.6 L242,246.6 L243,246.6 L244,246.6 L245,246.6 L246,246.6 L247,246.6 L248,246.6 L249,246.6 L250,246.6 L251,246.6 L252,246.6 L253,246.6 L254,246.6 L255,246.6 L256,246.6 L257,246.6 L258,246.6 L259,246.6 L260,246.6 L261,246.6 L262,246.6 L263,246.6 L264,246.6 L265,246.6 L266,246.6 L267,246.6 L268,246.6 L269,246.6 L270,246.6 L271,246.6 L272,246.6 L273,246.6 L274,246.6 L275,246.6 L276,246.6 L277,246.6 L278,246.6 L279,246.6 L280,246.6 L281,246.6 L282,246.6 L283,246.6 L284,246.6 L285,246.6 L286,246.6 L287,246.6 L288,246.6 L289,246.6 L290,246.6 L291,246.6 L292,246.6 L293,246.6 L294,246.6 L295,246.6 L296,246.6 L297,246.6 L298,246.6 L299,246.6 L300,246.6 L301,246.6 L302,246.6 L303,246.6 L304,246.6 L305,246.6 L306,246.6 L307,246.6 L308,246.6 L309,246.6 L310,246.6 L311,246.6 L312,246.6 L313,246.6 L314,246.6 L315,246.6 L316,246.6 L317,246.6 L318,246.6 L319,246.6 L320,246.6 L321,246.6 L322,246.6 L323,246.6 L324,246.6 L325,246.6 L326,246.6 L327,246.6 L328,246.6 L329,246.6 L330,246.6 L331,246.6 L332,246.6 L333,246.6 L334,246.6 L335,246.6 L336,246.6 L337,246.6 L338,246.6 L339,246.6 L340,246.6 L341,246.6 L342,246.6 L343,246.6 L344,246.6 L345,246.6 L346,246.6 L347,246.6 L348,246.6 L349,246.6 L350,246.6 L351,246.6 L352,246.6 L353,246.6 L354,246.6 L355,246.6 L356,246.6 L357,246.6 L358,246.6 L359,246.6 L360,246.6 L361,246.6 L362,246.6 L363,246.6 L364,246.6 L365,246.6 L366,246.6 L367,246.6 L368,246.6 L369,246.6 L370,246.6 L371,246.6 L372,246.6 L373,246.6 L374,246.6 L375,246.6 L376,246.6 L377,246.6 L378,246.6 L379,246.6 L380,246.6 L381,246.6 L382,246.6 L383,246.6 L384,246.6 L385,246.6 L386,246.6 L387,246.6 L388,246.6 L389,246.6 L390,246.6 L391,246.6 L392,246.6 L393,246.6 L394,246.6 L395,246.6 L396,246.6 L397,246.6 L398,246.6 L399,246.6 L400,246.6 L401,246.6 L402,246.6 L403,246.6 L404,246.6 L405,246.6 L406,246.6 L407,246.6 L408,246.6 L409,246.6 L410,246.6 L411,246.6 L412,246.6 L413,246.6 L414,246.6 L415,246.6 L416,246.6 L417,246.6 L418,246.6 L419,246.6 L420,246.6 L421,246.6 L422,246.6 L423,246.6 L424,246.6 L425,246.6 L426,246.6 L427,246.6 L428,246.6 L429,246.6 L430,246.6 L431,246.6 L432,246.6 L433,246.6 L434,246.6 L435,246.6 L436,246.6 L437,246.6 L438,246.6 L439,246.6 L440,246.6 L441,246.6 L442,246.6 L443,246.6 L444,246.6 L445,246.6 L446,246.6 L447,246.6 L448,246.6 L449,246.6 L450,246.6 L451,246.6 L452,246.6 L453,246.6 L454,246.6 L455,246.6 L456,246.6 L457,246.6 L458,246.6 L459,246.6 L460,246.6 L461,246.6 L462,246.6 L463,246.6 L464,246.6 L465,246.6 L466,246.6 L467,246.6 L468,246.6 L469,246.6 L469,247.2 L468,247.2 L467,247.2 L466,247.2 L465,247.2 L464,247.2 L463,247.2 L462,247.2 L461,247.2 L460,247.2 L459,247.3 L458,247.3 L457,247.3 L456,247.3 L455,247.3 L454,247.3 L453,247.3 L452,247.3 L451,247.3 L450,247.3 L449,247.3 L448,247.3 L447,247.3 L446,247.3 L445,247.3 L444,247.4 L443,247.4 L442,247.4 L441,247.4 L440,247.4 L439,247.4 L438,247.4 L437,247.4 L436,247.4 L435,247.4 L434,247.4 L433,247.4 L432,247.5 L431,247.5 L430,247.5 L429,247.5 L428,247.5 L427,247.5 L426,247.5 L425,247.5 L424,247.5 L423,247.5 L422,247.5 L421,247.6 L420,247.6 L419,247.6 L418,247.6 L417,247.6 L416,247.6 L415,247.6 L414,247.6 L413,247.6 L412,247.6 L411,247.7 L410,247.7 L409,247.7 L408,247.7 L407,247.7 L406,247.7 L405,247.7 L404,247.7 L403,247.8 L402,247.8 L401,247.8 L400,247.8 L399,247.8 L398,247.8 L397,247.8 L396,247.8 L395,247.9 L394,247.9 L393,247.9 L392,247.9 L391,247.9 L390,247.9 L389,248 L388,248 L387,248 L386,248 L385,248 L384,248 L383,248 L382,248.1 L381,248.1 L380,248.1 L379,248.1 L378,248.1 L377,248.2 L376,248.2 L375,248.2 L374,248.2 L373,248.2 L372,248.3 L371,248.3 L370,248.3 L369,248.3 L368,248.3 L367,248.4 L366,248.4 L365,248.4 L364,248.4 L363,248.4 L362,248.5 L361,248.5 L360,248.5 L359,248.5 L358,248.6 L357,248.6 L356,248.6 L355,248.6 L354,248.7 L353,248.7 L352,248.7 L351,248.8 L350,248.8 L349,248.8 L348,248.8 L347,248.9 L346,248.9 L345,248.9 L344,249 L343,249 L342,249 L341,249.1 L340,249.1 L339,249.1 L338,249.2 L337,249.2 L336,249.2 L335,249.3 L334,249.3 L333,249.4 L332,249.4 L331,249.4 L330,249.5 L329,249.5 L328,249.6 L327,249.6 L326,249.7 L325,249.7 L324,249.7 L323,249.8 L322,249.8 L321,249.9 L320,249.9 L319,250 L318,250 L317,250.1 L316,250.2 L315,250.2 L314,250.3 L313,250.3 L312,250.4 L311,250.5 L310,250.5 L309,250.6 L308,250.6 L307,250.7 L306,250.8 L305,250.9 L304,250.9 L303,251 L302,251.1 L301,251.2 L300,251.2 L299,251.3 L298,251.4 L297,251.5 L296,251.6 L295,251.7 L294,251.8 L293,251.8 L292,251.9 L291,252 L290,252.1 L289,252.2 L288,252.4 L287,252.5 L286,252.6 L285,252.7 L284,252.8 L283,252.9 L282,253.1 L281,253.2 L280,253.3 L279,253.5 L278,253.6 L277,253.7 L276,253.9 L275,254.1 L274,254.2 L273,254.4 L272,254.5 L271,254.7 L270,254.9 L269,255.1 L268,255.3 L267,255.5 L266,255.7 L265,255.9 L264,256.1 L263,256.3 L262,256.5 L261,256.8 L260,257 L259,257.3 L258,257.5 L257,257.8 L256,258.1 L255,258.4 L254,258.7 L253,259 L252,259.3 L251,259.6 L250,260 L249,260.3 L248,260.7 L247,261.1 L246,261.5 L245,261.9 L244,262.3 L243,262.8 L242,263.2 L241,263.7 L240,264.2 L239,264.7 L238,265.3 L237,265.8 L236,266.4 L235,267 L234,267.7 L233,268.3 L232,269 L231,269.7 L230,270.5 L229,271.2 L228,272.1 L227,272.9 L226,273.8 L225,274.7 L224,275.7 L223,276.7 L222,277.7 L221,278.8 L220,280 L219,281.1 L218,282.4 L217,283.7 L216,285 L215,286.4 L214,287.9 L213,289.4 L212,291 L211,292.6 L210,294.3 L209,296 L208,297.9 L207,299.7 L206,301.7 L205,303.6 L204,305.7 L203,307.8 L202,309.9 L201,312 L200,314.2 L199,316.3 L198,318.5 L197,320.6 L196,322.7 L195,324.7 L194,326.7 L193,328.5 L192,330.2 L191,331.7 L190,333.1 L189,334.2 L188,335.2 L187,335.8 L186,336.3 L185,336.4 L184,336.3 L183,335.9 L182,335.3 L181,334.4 L180,333.3 L179,332 L178,330.4 L177,328.6 L176,326.6 L175,324.5 L174,322.3 L173,319.9 L172,317.6 L171,315.1 L170,312.7 L169,310.2 L168,307.8 L167,305.4 L166,303 L165,300.7 L164,298.5 L163,296.3 L162,294.1 L161,292.1 L160,290.1 L159,288.2 L158,286.4 L157,284.6 L156,282.9 L155,281.3 L154,279.8 L153,278.3 L152,276.9 L151,275.5 L150,274.3 L149,273 L148,271.9 L147,270.8 L146,269.7 L145,268.7 L144,267.7 L143,266.8 L142,265.9 L141,265.1 L140,264.3 L139,263.5 L138,262.8 L137,262.1 L136,261.5 L135,260.8 L134,260.2 L133,259.7 L132,259.1 L131,258.6 L130,258.1 L129,257.7 L128,257.4 L127,257.1 L126,256.8 L125,256.5 L124,256.2 L123,255.9 L122,255.6 L121,255.4 L120,255.1 L119,254.9 L118,254.7 L117,254.4 L116,254.2 L115,254 L114,253.8 L113,253.7 L112,253.5 L111,253.3 L110,253.1 L109,253 L108,252.8 L107,252.7 L106,252.5 L105,252.4 L104,252.2 L103,252.1 L102,252 L101,251.9 L100,251.7 L99,251.6 L98,251.5 L97,251.4 L96,251.3 L95,251.2 L94,251.1 L93,251 L92,250.9 L91,250.8 L90,250.7 L89,250.7 L88,250.6 L87,250.5 L86,250.4 L85,250.3 L84,250.3 L83,250.2 L82,250.1 L81,250.1 L80,250 L79,249.9 L78,249.9 L77,249.8 L76,249.7 L75,249.7 L74,249.6 L73,249.6 L72,249.5 L71,249.5 L70,249.4 L69,249.4 L68,249.3 L67,249.3 L66,249.2 L65,249.2 L64,249.1 L63,249.1 L62,249.1 L61,249 L60,249 L59,248.9 L58,248.9 L57,248.9 L56,248.8 L55,248.8 L54,248.8 L53,248.7 L52,248.7 L51,248.7 L50,248.6 L49,248.6 L48,248.6 L47,248.5 L46,248.5 L45,248.5 L44,248.4 L43,248.4 L42,248.4 L41,248.4 L40,248.3 L39,248.3 L38,248.3 L37,248.3 L36,248.2 L35,248.2 L34,248.2 L33,248.2 L32,248.1 L31,248.1 L30,248.1Z" fill="#9c9c2e" fill-opacity="1.0"/></g></g><g clip-path="url(#RT)"><path d="M30,294.7 L31,294.6 L32,294.4 L33,294.3 L34,294.2 L35,294.1 L36,294 L37,293.8 L38,293.7 L39,293.6 L40,293.5 L41,293.3 L42,293.2 L43,293.1 L44,293 L45,292.8 L46,292.7 L47,292.6 L48,292.5 L49,292.3 L50,292.2 L51,292.1 L52,292 L53,291.8 L54,291.7 L55,291.6 L56,291.5 L57,291.3 L58,291.2 L59,291.1 L60,291 L61,290.8 L62,290.7 L63,290.6 L64,290.5 L65,290.3 L66,290.2 L67,290.1 L68,290 L69,289.8 L70,289.7 L71,289.6 L72,289.5 L73,289.3 L74,289.2 L75,289.1 L76,289 L77,288.8 L78,288.7 L79,288.6 L80,288.4 L81,288.3 L82,288.2 L83,288.1 L84,287.9 L85,287.8 L86,287.7 L87,287.6 L88,287.4 L89,287.3 L90,287.2 L91,287.1 L92,286.9 L93,286.8 L94,286.7 L95,286.6 L96,286.4 L97,286.3 L98,286.2 L99,286.1 L100,285.9 L101,285.8 L102,285.7 L103,285.5 L104,285.4 L105,285.3 L106,285.2 L107,285 L108,284.9 L109,284.8 L110,284.7 L111,284.5 L112,284.4 L113,284.3 L114,284.1 L115,284 L116,283.9 L117,283.8 L118,283.6 L119,283.5 L120,283.4 L121,283.3 L122,283.1 L123,283 L124,282.9 L125,282.7 L126,282.6 L127,282.5 L128,282.4 L129,282.2 L130,282.1 L131,282 L132,281.8 L133,281.7 L134,281.6 L135,281.5 L136,281.3 L137,281.2 L138,281.1 L139,280.9 L140,280.8 L141,280.7 L142,280.6 L143,280.4 L144,280.3 L145,280.2 L146,280 L147,279.9 L148,279.8 L149,279.6 L150,279.5 L151,279.4 L152,279.3 L153,279.1 L154,279 L155,278.9 L156,278.7 L157,278.6 L158,278.5 L159,278.3 L160,278.2 L161,278.1 L162,277.9 L163,277.8 L164,277.7 L165,277.6 L166,277.4 L167,277.3 L168,277.2 L169,277 L170,276.9 L171,276.8 L172,276.6 L173,276.5 L174,276.4 L175,276.2 L176,276.1 L177,276 L178,275.8 L179,275.7 L180,275.6 L181,275.4 L182,275.3 L183,275.2 L184,275 L185,274.9 L186,274.8 L187,274.6 L188,274.5 L189,274.4 L190,274.2 L191,274.1 L192,273.9 L193,273.8 L194,273.7 L195,273.5 L196,273.4 L197,273.3 L198,273.1 L199,273 L200,272.9 L201,272.7 L202,272.6 L203,272.4 L204,272.3 L205,272.2 L206,272 L207,271.9 L208,271.8 L209,271.6 L210,271.5 L211,271.3 L212,271.2 L213,271.1 L214,270.9 L215,270.8 L216,270.6 L217,270.5 L218,270.4 L219,270.2 L220,270.1 L221,269.9 L222,269.8 L223,269.6 L224,269.5 L225,269.4 L226,269.2 L227,269.1 L228,268.9 L229,268.8 L230,268.6 L231,268.5 L232,268.3 L233,268.2 L234,268 L235,267.9 L236,267.8 L237,267.6 L238,267.5 L239,267.3 L240,267.2 L241,267 L242,266.9 L243,266.7 L244,266.6 L245,266.4 L246,266.3 L247,266.1 L248,266 L249,265.8 L250,265.6 L251,265.5 L252,265.3 L253,265.2 L254,265 L255,264.9 L256,264.7 L257,264.6 L258,264.4 L259,264.2 L260,264.1 L261,263.9 L262,263.8 L263,263.6 L264,263.4 L265,263.3 L266,263.1 L267,262.9 L268,262.8 L269,262.6 L270,262.5 L271,262.3 L272,262.1 L273,261.9 L274,261.8 L275,261.6 L276,261.4 L277,261.3 L278,261.1 L279,260.9 L280,260.7 L281,260.6 L282,260.4 L283,260.2 L284,260 L285,259.8 L286,259.7 L287,259.5 L288,259.3 L289,259.1 L290,258.9 L291,258.7 L292,258.5 L293,258.3 L294,258.2 L295,258 L296,257.8 L297,257.6 L298,257.4 L299,257.2 L300,257 L301,256.8 L302,256.5 L303,256.3 L304,256.1 L305,255.9 L306,255.7 L307,255.5 L308,255.3 L309,255 L310,254.8 L311,254.6 L312,254.4 L313,254.1 L314,253.9 L315,253.7 L316,253.4 L317,253.2 L318,252.9 L319,252.7 L320,252.4 L321,252.2 L322,251.9 L323,251.7 L324,251.4 L325,251.1 L326,250.9 L327,250.6 L328,250.3 L329,250 L330,249.7 L331,249.4 L332,249.1 L333,248.8 L334,248.5 L335,248.2 L336,247.9 L337,247.6 L338,247.3 L339,246.9 L340,246.6 L341,246.2 L342,245.9 L343,245.5 L344,245.1 L345,244.8 L346,244.4 L347,244 L348,243.6 L349,243.2 L350,242.8 L351,242.3 L352,241.9 L353,241.4 L354,241 L355,240.5 L356,240 L357,239.5 L358,239 L359,238.5 L360,238 L361,237.4 L362,236.8 L363,236.3 L364,235.7 L365,235.1 L366,234.4 L367,233.8 L368,233.1 L369,232.4 L370,231.7 L371,231 L372,230.2 L373,229.4 L374,228.6 L375,227.8 L376,226.9 L377,226 L378,225.1 L379,224.2 L380,223.2 L381,222.2 L382,221.1 L383,220 L384,218.9 L385,217.7 L386,216.5 L387,215.2 L388,213.9 L389,212.6 L390,211.2 L391,209.7 L392,208.2 L393,206.6 L394,205 L395,203.3 L396,201.6 L397,199.8 L398,197.9 L399,196 L400,193.9 L401,191.9 L402,189.7 L403,187.5 L404,185.3 L405,182.9 L406,180.6 L407,178.1 L408,175.6 L409,173.1 L410,170.5 L411,167.9 L412,165.3 L413,162.7 L414,160.1 L415,157.6 L416,155.1 L417,152.7 L418,150.4 L419,148.3 L420,146.3 L421,144.5 L422,142.9 L423,141.6 L424,140.5 L425,139.8 L426,139.3 L427,139.2 L428,139.3 L429,139.8 L430,140.6 L431,141.6 L432,142.9 L433,144.5 L434,146.2 L435,148.2 L436,150.3 L437,152.5 L438,154.8 L439,157.2 L440,159.6 L441,162.1 L442,164.6 L443,167.1 L444,169.5 L445,172 L446,174.4 L447,176.7 L448,179 L449,181.2 L450,183.4 L451,185.5 L452,187.6 L453,189.6 L454,191.5 L455,193.3 L456,195.1 L457,196.8 L458,198.5 L459,200.1 L460,201.6 L461,203.1 L462,204.5 L463,205.9 L464,207.2 L465,208.5 L466,209.7 L467,210.8 L468,212 L469,213 L469,247.1 L468,247.1 L467,247.1 L466,247.2 L465,247.2 L464,247.2 L463,247.2 L462,247.3 L461,247.3 L460,247.3 L459,247.3 L458,247.4 L457,247.4 L456,247.4 L455,247.4 L454,247.5 L453,247.5 L452,247.5 L451,247.6 L450,247.6 L449,247.6 L448,247.7 L447,247.7 L446,247.8 L445,247.8 L444,247.8 L443,247.9 L442,247.9 L441,248 L440,248 L439,248.1 L438,248.1 L437,248.2 L436,248.2 L435,248.3 L434,248.3 L433,248.4 L432,248.4 L431,248.5 L430,248.5 L429,248.6 L428,248.6 L427,248.7 L426,248.8 L425,248.8 L424,248.9 L423,249 L422,249 L421,249.1 L420,249.2 L419,249.2 L418,249.3 L417,249.4 L416,249.5 L415,249.5 L414,249.6 L413,249.7 L412,249.8 L411,249.8 L410,249.9 L409,250 L408,250.1 L407,250.2 L406,250.3 L405,250.3 L404,250.4 L403,250.5 L402,250.6 L401,250.7 L400,250.8 L399,250.9 L398,251 L397,251.1 L396,251.2 L395,251.3 L394,251.4 L393,251.5 L392,251.5 L391,251.6 L390,251.7 L389,251.8 L388,251.9 L387,252 L386,252.2 L385,252.3 L384,252.4 L383,252.5 L382,252.6 L381,252.7 L380,252.8 L379,252.9 L378,253 L377,253.1 L376,253.2 L375,253.3 L374,253.4 L373,253.5 L372,253.6 L371,253.8 L370,253.9 L369,254 L368,254.1 L367,254.2 L366,254.3 L365,254.4 L364,254.5 L363,254.7 L362,254.8 L361,254.9 L360,255 L359,255.1 L358,255.2 L357,255.3 L356,255.5 L355,255.6 L354,255.7 L353,255.8 L352,255.9 L351,256 L350,256.2 L349,256.3 L348,256.4 L347,256.5 L346,256.6 L345,256.7 L344,256.9 L343,257 L342,257.1 L341,257.2 L340,257.3 L339,257.4 L338,257.6 L337,257.7 L336,257.8 L335,257.9 L334,258 L333,258.2 L332,258.3 L331,258.4 L330,258.5 L329,258.6 L328,258.8 L327,258.9 L326,259 L325,259.1 L324,259.2 L323,259.4 L322,259.5 L321,259.6 L320,259.7 L319,259.8 L318,260 L317,260.1 L316,260.2 L315,260.3 L314,260.4 L313,260.6 L312,260.7 L311,260.8 L310,260.9 L309,261 L308,261.2 L307,261.3 L306,261.4 L305,261.5 L304,261.6 L303,261.8 L302,261.9 L301,262 L300,262.1 L299,262.3 L298,262.4 L297,262.5 L296,262.6 L295,262.7 L294,262.9 L293,263 L292,263.1 L291,263.2 L290,263.3 L289,263.5 L288,263.6 L287,263.7 L286,263.8 L285,264 L284,264.1 L283,264.2 L282,264.3 L281,264.4 L280,264.6 L279,264.7 L278,264.8 L277,264.9 L276,265 L275,265.2 L274,265.3 L273,265.4 L272,265.5 L271,265.7 L270,265.8 L269,265.9 L268,266 L267,266.1 L266,266.3 L265,266.4 L264,266.5 L263,266.6 L262,266.7 L261,266.9 L260,267 L259,267.1 L258,267.2 L257,267.4 L256,267.5 L255,267.6 L254,267.7 L253,267.8 L252,268 L251,268.1 L250,268.2 L249,268.3 L248,268.4 L247,268.6 L246,268.7 L245,268.8 L244,268.9 L243,269.1 L242,269.2 L241,269.3 L240,269.4 L239,269.5 L238,269.7 L237,269.8 L236,269.9 L235,270 L234,270.2 L233,270.3 L232,270.4 L231,270.5 L230,270.6 L229,270.8 L228,270.9 L227,271 L226,271.1 L225,271.2 L224,271.4 L223,271.5 L222,271.6 L221,271.7 L220,271.9 L219,272 L218,272.1 L217,272.2 L216,272.3 L215,272.5 L214,272.6 L213,272.7 L212,272.8 L211,273 L210,273.1 L209,273.2 L208,273.3 L207,273.4 L206,273.6 L205,273.7 L204,273.8 L203,273.9 L202,274.1 L201,274.2 L200,274.3 L199,274.4 L198,274.5 L197,274.7 L196,274.8 L195,274.9 L194,275 L193,275.1 L192,275.3 L191,275.4 L190,275.5 L189,275.6 L188,275.8 L187,275.9 L186,276 L185,276.1 L184,276.2 L183,276.4 L182,276.5 L181,276.6 L180,276.7 L179,276.9 L178,277 L177,277.1 L176,277.2 L175,277.3 L174,277.5 L173,277.6 L172,277.7 L171,277.8 L170,277.9 L169,278.1 L168,278.2 L167,278.3 L166,278.4 L165,278.6 L164,278.7 L163,278.8 L162,278.9 L161,279 L160,279.2 L159,279.3 L158,279.4 L157,279.5 L156,279.7 L155,279.8 L154,279.9 L153,280 L152,280.1 L151,280.3 L150,280.4 L149,280.5 L148,280.6 L147,280.7 L146,280.9 L145,281 L144,281.1 L143,281.2 L142,281.4 L141,281.5 L140,281.6 L139,281.7 L138,281.8 L137,282 L136,282.1 L135,282.2 L134,282.3 L133,282.5 L132,282.6 L131,282.7 L130,282.8 L129,282.9 L128,283.1 L127,283.2 L126,283.3 L125,283.4 L124,283.6 L123,283.7 L122,283.8 L121,283.9 L120,284 L119,284.2 L118,284.3 L117,284.4 L116,284.5 L115,284.6 L114,284.8 L113,284.9 L112,285 L111,285.1 L110,285.3 L109,285.4 L108,285.5 L107,285.6 L106,285.7 L105,285.9 L104,286 L103,286.1 L102,286.2 L101,286.4 L100,286.5 L99,286.6 L98,286.7 L97,286.8 L96,287 L95,287.1 L94,287.2 L93,287.3 L92,287.4 L91,287.6 L90,287.7 L89,287.8 L88,287.9 L87,288.1 L86,288.2 L85,288.3 L84,288.4 L83,288.5 L82,288.7 L81,288.8 L80,288.9 L79,289 L78,289.2 L77,289.3 L76,289.4 L75,289.5 L74,289.6 L73,289.8 L72,289.9 L71,290 L70,290.1 L69,290.2 L68,290.4 L67,290.5 L66,290.6 L65,290.7 L64,290.9 L63,291 L62,291.1 L61,291.2 L60,291.3 L59,291.5 L58,291.6 L57,291.7 L56,291.8 L55,292 L54,292.1 L53,292.2 L52,292.3 L51,292.4 L50,292.6 L49,292.7 L48,292.8 L47,292.9 L46,293.1 L45,293.2 L44,293.3 L43,293.4 L42,293.5 L41,293.7 L40,293.8 L39,293.9 L38,294 L37,294.1 L36,294.3 L35,294.4 L34,294.5 L33,294.6 L32,294.8 L31,294.9 L30,295Z" fill="#2aa848" fill-opacity="1.0"/></g><g clip-path="url(#GAP)"><path d="M30,246.6 L31,246.6 L32,246.6 L33,246.6 L34,246.6 L35,246.6 L36,246.6 L37,246.6 L38,246.6 L39,246.6 L40,246.6 L41,246.6 L42,246.6 L43,246.6 L44,246.6 L45,246.6 L46,246.6 L47,246.6 L48,246.6 L49,246.6 L50,246.6 L51,246.6 L52,246.6 L53,246.6 L54,246.6 L55,246.6 L56,246.6 L57,246.6 L58,246.6 L59,246.6 L60,246.6 L61,246.6 L62,246.6 L63,246.6 L64,246.6 L65,246.6 L66,246.6 L67,246.6 L68,246.6 L69,246.6 L70,246.6 L71,246.6 L72,246.6 L73,246.6 L74,246.6 L75,246.6 L76,246.6 L77,246.6 L78,246.6 L79,246.6 L80,246.6 L81,246.6 L82,246.6 L83,246.6 L84,246.6 L85,246.6 L86,246.6 L87,246.6 L88,246.6 L89,246.6 L90,246.6 L91,246.6 L92,246.6 L93,246.6 L94,246.6 L95,246.6 L96,246.6 L97,246.6 L98,246.6 L99,246.6 L100,246.6 L101,246.6 L102,246.6 L103,246.6 L104,246.6 L105,246.6 L106,246.6 L107,246.6 L108,246.6 L109,246.6 L110,246.6 L111,246.6 L112,246.6 L113,246.6 L114,246.6 L115,246.6 L116,246.6 L117,246.6 L118,246.6 L119,246.6 L120,246.6 L121,246.6 L122,246.6 L123,246.6 L124,246.6 L125,246.6 L126,246.6 L127,246.6 L128,246.6 L129,246.6 L130,246.6 L131,246.6 L132,246.6 L133,246.6 L134,246.6 L135,246.6 L136,246.6 L137,246.6 L138,246.6 L139,246.6 L140,246.6 L141,246.6 L142,246.6 L143,246.6 L144,246.6 L145,246.6 L146,246.6 L147,246.6 L148,246.6 L149,246.6 L150,246.6 L151,246.6 L152,246.6 L153,246.6 L154,246.6 L155,246.6 L156,246.6 L157,246.6 L158,246.6 L159,246.6 L160,246.6 L161,246.6 L162,246.6 L163,246.6 L164,246.6 L165,246.6 L166,246.6 L167,246.6 L168,246.6 L169,246.6 L170,246.6 L171,246.6 L172,246.6 L173,246.6 L174,246.6 L175,246.6 L176,246.6 L177,246.6 L178,246.6 L179,246.6 L180,246.6 L181,246.6 L182,246.6 L183,246.6 L184,246.6 L185,246.6 L186,246.6 L187,246.6 L188,246.6 L189,246.6 L190,246.6 L191,246.6 L192,246.6 L193,246.6 L194,246.6 L195,246.6 L196,246.6 L197,246.6 L198,246.6 L199,246.6 L200,246.6 L201,246.6 L202,246.6 L203,246.6 L204,246.6 L205,246.6 L206,246.6 L207,246.6 L208,246.6 L209,246.6 L210,246.6 L211,246.6 L212,246.6 L213,246.6 L214,246.6 L215,246.6 L216,246.6 L217,246.6 L218,246.6 L219,246.6 L220,246.6 L221,246.6 L222,246.6 L223,246.6 L224,246.6 L225,246.6 L226,246.6 L227,246.6 L228,246.6 L229,246.6 L230,246.6 L231,246.6 L232,246.6 L233,246.6 L234,246.6 L235,246.6 L236,246.6 L237,246.6 L238,246.6 L239,246.6 L240,246.6 L241,246.6 L242,246.6 L243,246.6 L244,246.6 L245,246.6 L246,246.6 L247,246.6 L248,246.6 L249,246.6 L250,246.6 L251,246.6 L252,246.6 L253,246.6 L254,246.6 L255,246.6 L256,246.6 L257,246.6 L258,246.6 L259,246.6 L260,246.6 L261,246.6 L262,246.6 L263,246.6 L264,246.6 L265,246.6 L266,246.6 L267,246.6 L268,246.6 L269,246.6 L270,246.6 L271,246.6 L272,246.6 L273,246.6 L274,246.6 L275,246.6 L276,246.6 L277,246.6 L278,246.6 L279,246.6 L280,246.6 L281,246.6 L282,246.6 L283,246.6 L284,246.6 L285,246.6 L286,246.6 L287,246.6 L288,246.6 L289,246.6 L290,246.6 L291,246.6 L292,246.6 L293,246.6 L294,246.6 L295,246.6 L296,246.6 L297,246.6 L298,246.6 L299,246.6 L300,246.6 L301,246.6 L302,246.6 L303,246.6 L304,246.6 L305,246.6 L306,246.6 L307,246.6 L308,246.6 L309,246.6 L310,246.6 L311,246.6 L312,246.6 L313,246.6 L314,246.6 L315,246.6 L316,246.6 L317,246.6 L318,246.6 L319,246.6 L320,246.6 L321,246.6 L322,246.6 L323,246.6 L324,246.6 L325,246.6 L326,246.6 L327,246.6 L328,246.6 L329,246.6 L330,246.6 L331,246.6 L332,246.6 L333,246.6 L334,246.6 L335,246.6 L336,246.6 L337,246.6 L338,246.6 L339,246.6 L340,246.6 L341,246.6 L342,246.6 L343,246.6 L344,246.6 L344,247.5 L343,247.5 L342,247.5 L341,247.5 L340,247.5 L339,247.5 L338,247.5 L337,247.5 L336,247.5 L335,247.6 L334,247.6 L333,247.6 L332,247.6 L331,247.6 L330,247.6 L329,247.6 L328,247.6 L327,247.6 L326,247.7 L325,247.7 L324,247.7 L323,247.7 L322,247.7 L321,247.7 L320,247.7 L319,247.7 L318,247.8 L317,247.8 L316,247.8 L315,247.8 L314,247.8 L313,247.8 L312,247.8 L311,247.9 L310,247.9 L309,247.9 L308,247.9 L307,247.9 L306,247.9 L305,248 L304,248 L303,248 L302,248 L301,248 L300,248 L299,248.1 L298,248.1 L297,248.1 L296,248.1 L295,248.1 L294,248.2 L293,248.2 L292,248.2 L291,248.2 L290,248.3 L289,248.3 L288,248.3 L287,248.3 L286,248.3 L285,248.4 L284,248.4 L283,248.4 L282,248.4 L281,248.5 L280,248.5 L279,248.5 L278,248.5 L277,248.6 L276,248.6 L275,248.6 L274,248.7 L273,248.7 L272,248.7 L271,248.8 L270,248.8 L269,248.8 L268,248.8 L267,248.9 L266,248.9 L265,249 L264,249 L263,249 L262,249.1 L261,249.1 L260,249.1 L259,249.2 L258,249.2 L257,249.3 L256,249.3 L255,249.3 L254,249.4 L253,249.4 L252,249.5 L251,249.5 L250,249.6 L249,249.6 L248,249.7 L247,249.7 L246,249.8 L245,249.8 L244,249.9 L243,249.9 L242,250 L241,250.1 L240,250.1 L239,250.2 L238,250.3 L237,250.3 L236,250.4 L235,250.5 L234,250.5 L233,250.6 L232,250.7 L231,250.7 L230,250.8 L229,250.9 L228,251 L227,251.1 L226,251.2 L225,251.3 L224,251.3 L223,251.4 L222,251.5 L221,251.6 L220,251.7 L219,251.9 L218,252 L217,252.1 L216,252.2 L215,252.3 L214,252.4 L213,252.6 L212,252.7 L211,252.8 L210,253 L209,253.1 L208,253.3 L207,253.4 L206,253.6 L205,253.7 L204,253.9 L203,254.1 L202,254.3 L201,254.4 L200,254.6 L199,254.8 L198,255.1 L197,255.3 L196,255.5 L195,255.7 L194,256 L193,256.2 L192,256.5 L191,256.7 L190,257 L189,257.3 L188,257.6 L187,257.9 L186,258.2 L185,258.6 L184,258.9 L183,259.3 L182,259.7 L181,260.1 L180,260.5 L179,260.9 L178,261.4 L177,261.8 L176,262.3 L175,262.8 L174,263.4 L173,263.9 L172,264.5 L171,265.1 L170,265.8 L169,266.5 L168,267.2 L167,267.9 L166,268.7 L165,269.5 L164,270.4 L163,271.3 L162,272.2 L161,273.2 L160,274.3 L159,275.4 L158,276.5 L157,277.7 L156,279 L155,280.4 L154,281.8 L153,283.3 L152,284.8 L151,286.5 L150,288.2 L149,290 L148,291.9 L147,293.9 L146,296 L145,298.1 L144,300.4 L143,302.8 L142,305.2 L141,307.8 L140,310.4 L139,313.1 L138,315.8 L137,318.6 L136,321.4 L135,324.2 L134,326.9 L133,329.6 L132,332.2 L131,334.6 L130,336.9 L129,338.8 L128,340.5 L127,341.9 L126,342.9 L125,343.5 L124,343.6 L123,343.4 L122,342.7 L121,341.6 L120,340.2 L119,338.5 L118,336.4 L117,334.2 L116,331.7 L115,329.1 L114,326.4 L113,323.6 L112,320.8 L111,318 L110,315.3 L109,312.5 L108,309.9 L107,307.3 L106,304.7 L105,302.3 L104,300 L103,297.7 L102,295.5 L101,293.5 L100,291.5 L99,289.6 L98,287.8 L97,286.1 L96,284.5 L95,282.9 L94,281.5 L93,280.1 L92,278.7 L91,277.5 L90,276.3 L89,275.1 L88,274 L87,273 L86,272 L85,271.1 L84,270.2 L83,269.3 L82,268.5 L81,267.8 L80,267 L79,266.3 L78,265.7 L77,265 L76,264.4 L75,263.8 L74,263.3 L73,262.7 L72,262.2 L71,261.7 L70,261.3 L69,260.8 L68,260.4 L67,260 L66,259.6 L65,259.2 L64,258.9 L63,258.5 L62,258.2 L61,257.8 L60,257.5 L59,257.2 L58,257 L57,256.7 L56,256.4 L55,256.2 L54,255.9 L53,255.7 L52,255.4 L51,255.2 L50,255 L49,254.8 L48,254.6 L47,254.4 L46,254.2 L45,254 L44,253.9 L43,253.7 L42,253.5 L41,253.4 L40,253.2 L39,253.1 L38,252.9 L37,252.8 L36,252.7 L35,252.5 L34,252.4 L33,252.3 L32,252.2 L31,252.1 L30,251.9Z" fill="#c277d2" fill-opacity="1.0"/></g><path d="M30,319.1 L31,318.7 L32,318.2 L33,317.8 L34,317.4 L35,317 L36,316.6 L37,316.2 L38,315.8 L39,315.4 L40,315 L41,314.6 L42,314.2 L43,313.8 L44,313.4 L45,313.1 L46,312.7 L47,312.3 L48,311.9 L49,311.6 L50,311.2 L51,310.8 L52,310.5 L53,310.1 L54,309.8 L55,309.4 L56,309.1 L57,308.7 L58,308.4 L59,308 L60,307.7 L61,307.3 L62,307 L63,306.7 L64,306.4 L65,306 L66,305.7 L67,305.4 L68,305.1 L69,304.7 L70,304.4 L71,304.1 L72,303.8 L73,303.5 L74,303.2 L75,302.9 L76,302.6 L77,302.3 L78,302 L79,301.7 L80,301.4 L81,301.1 L82,300.8 L83,300.5 L84,300.2 L85,300 L86,299.7 L87,299.4 L88,299.1 L89,298.8 L90,298.6 L91,298.3 L92,298 L93,297.8 L94,297.5 L95,297.2 L96,297 L97,296.7 L98,296.5 L99,296.2 L100,295.9 L101,295.7 L102,295.4 L103,295.2 L104,294.9 L105,294.7 L106,294.5 L107,294.2 L108,294 L109,293.7 L110,293.5 L111,293.3 L112,293 L113,292.8 L114,292.6 L115,292.3 L116,292.1 L117,291.9 L118,291.6 L119,291.4 L120,291.2 L121,291 L122,290.7 L123,290.5 L124,290.3 L125,290.1 L126,289.9 L127,289.7 L128,289.4 L129,289.2 L130,289 L131,288.8 L132,288.6 L133,288.4 L134,288.2 L135,288 L136,287.8 L137,287.6 L138,287.4 L139,287.2 L140,287 L141,286.8 L142,286.6 L143,286.4 L144,286.2 L145,286 L146,285.8 L147,285.6 L148,285.4 L149,285.2 L150,285 L151,284.9 L152,284.7 L153,284.5 L154,284.3 L155,284.1 L156,283.9 L157,283.7 L158,283.6 L159,283.4 L160,283.2 L161,283 L162,282.8 L163,282.7 L164,282.5 L165,282.3 L166,282.1 L167,282 L168,281.8 L169,281.6 L170,281.4 L171,281.3 L172,281.1 L173,280.9 L174,280.7 L175,280.6 L176,280.4 L177,280.2 L178,280.1 L179,279.9 L180,279.7 L181,279.6 L182,279.4 L183,279.2 L184,279.1 L185,278.9 L186,278.8 L187,278.6 L188,278.4 L189,278.3 L190,278.1 L191,278 L192,277.8 L193,277.6 L194,277.5 L195,277.3 L196,277.2 L197,277 L198,276.9 L199,276.7 L200,276.5 L201,276.4 L202,276.2 L203,276.1 L204,275.9 L205,275.8 L206,275.6 L207,275.5 L208,275.3 L209,275.2 L210,275 L211,274.9 L212,274.7 L213,274.6 L214,274.4 L215,274.3 L216,274.1 L217,274 L218,273.8 L219,273.7 L220,273.5 L221,273.4 L222,273.2 L223,273.1 L224,272.9 L225,272.8 L226,272.7 L227,272.5 L228,272.4 L229,272.2 L230,272.1 L231,271.9 L232,271.8 L233,271.7 L234,271.5 L235,271.4 L236,271.2 L237,271.1 L238,271 L239,270.8 L240,270.7 L241,270.5 L242,270.4 L243,270.3 L244,270.1 L245,270 L246,269.8 L247,269.7 L248,269.6 L249,269.4 L250,269.3 L251,269.1 L252,269 L253,268.9 L254,268.7 L255,268.6 L256,268.5 L257,268.3 L258,268.2 L259,268.1 L260,267.9 L261,267.8 L262,267.6 L263,267.5 L264,267.4 L265,267.2 L266,267.1 L267,267 L268,266.8 L269,266.7 L270,266.6 L271,266.4 L272,266.3 L273,266.2 L274,266 L275,265.9 L276,265.8 L277,265.6 L278,265.5 L279,265.4 L280,265.2 L281,265.1 L282,265 L283,264.9 L284,264.7 L285,264.6 L286,264.5 L287,264.3 L288,264.2 L289,264.1 L290,263.9 L291,263.8 L292,263.7 L293,263.5 L294,263.4 L295,263.3 L296,263.2 L297,263 L298,262.9 L299,262.8 L300,262.6 L301,262.5 L302,262.4 L303,262.3 L304,262.1 L305,262 L306,261.9 L307,261.7 L308,261.6 L309,261.5 L310,261.4 L311,261.2 L312,261.1 L313,261 L314,260.9 L315,260.7 L316,260.6 L317,260.5 L318,260.3 L319,260.2 L320,260.1 L321,260 L322,259.8 L323,259.7 L324,259.6 L325,259.5 L326,259.3 L327,259.2 L328,259.1 L329,259 L330,258.8 L331,258.7 L332,258.6 L333,258.5 L334,258.3 L335,258.2 L336,258.1 L337,258 L338,257.9 L339,257.7 L340,257.6 L341,257.5 L342,257.4 L343,257.2 L344,257.1 L344,257.1 L343,257.2 L342,257.4 L341,257.5 L340,257.6 L339,257.7 L338,257.9 L337,258 L336,258.1 L335,258.2 L334,258.3 L333,258.5 L332,258.6 L331,258.7 L330,258.8 L329,259 L328,259.1 L327,259.2 L326,259.3 L325,259.5 L324,259.6 L323,259.7 L322,259.9 L321,260.2 L320,260.4 L319,260.7 L318,261 L317,261.2 L316,261.5 L315,261.7 L314,262 L313,262.3 L312,262.5 L311,262.8 L310,263 L309,263.3 L308,263.6 L307,263.8 L306,264.1 L305,264.3 L304,264.6 L303,264.9 L302,265.1 L301,265.4 L300,265.6 L299,265.9 L298,266.2 L297,266.4 L296,266.7 L295,267 L294,267.2 L293,267.5 L292,267.8 L291,268 L290,268.3 L289,268.6 L288,268.8 L287,269.1 L286,269.4 L285,269.7 L284,269.9 L283,270.2 L282,270.5 L281,270.8 L280,271 L279,271.3 L278,271.6 L277,271.9 L276,272.1 L275,272.4 L274,272.7 L273,273 L272,273.3 L271,273.5 L270,273.8 L269,274.1 L268,274.4 L267,274.6 L266,274.9 L265,275.2 L264,275.5 L263,275.8 L262,276 L261,276.3 L260,276.6 L259,276.9 L258,277.2 L257,277.5 L256,277.8 L255,278.1 L254,278.4 L253,278.7 L252,279.1 L251,279.4 L250,279.8 L249,280.2 L248,280.5 L247,280.9 L246,281.3 L245,281.8 L244,282.2 L243,282.7 L242,283.2 L241,283.7 L240,284.3 L239,284.8 L238,285.4 L237,286.1 L236,286.7 L235,287.4 L234,288.2 L233,289 L232,289.8 L231,290.6 L230,291.5 L229,292.4 L228,293.4 L227,294.4 L226,295.5 L225,296.6 L224,297.8 L223,299 L222,300.2 L221,301.6 L220,302.9 L219,304.4 L218,305.8 L217,307.4 L216,309 L215,310.6 L214,312.4 L213,314.1 L212,316 L211,317.9 L210,319.8 L209,321.9 L208,323.9 L207,326.1 L206,328.3 L205,330.5 L204,332.8 L203,335.1 L202,337.5 L201,339.9 L200,342.3 L199,344.4 L198,346.6 L197,348.7 L196,350.9 L195,353.1 L194,355.3 L193,357.5 L192,359.6 L191,361.6 L190,363.5 L189,365.2 L188,366.8 L187,368.1 L186,369.1 L185,369.9 L184,370.3 L183,370.3 L182,370 L181,369.4 L180,368.4 L179,367.2 L178,365.7 L177,364 L176,362.1 L175,360.1 L174,358.3 L173,356.5 L172,354.7 L171,353 L170,351.4 L169,349.8 L168,348.4 L167,347.1 L166,345.9 L165,344.8 L164,343.9 L163,343.1 L162,342.4 L161,341.9 L160,341.5 L159,341.2 L158,341.1 L157,341.1 L156,341.2 L155,341.4 L154,341.8 L153,342.3 L152,343 L151,343.7 L150,344.6 L149,345.6 L148,346.8 L147,348.1 L146,349.5 L145,351 L144,352.6 L143,354.4 L142,356.3 L141,358.3 L140,360.4 L139,362.6 L138,364.8 L137,367.2 L136,369.5 L135,371.9 L134,374.3 L133,376.6 L132,378.8 L131,380.9 L130,382.9 L129,384.6 L128,386.1 L127,387.3 L126,388.1 L125,388.6 L124,388.7 L123,388.5 L122,387.8 L121,386.9 L120,385.5 L119,383.9 L118,382.1 L117,380 L116,377.7 L115,375.4 L114,372.9 L113,370.4 L112,367.9 L111,365.4 L110,362.9 L109,360.5 L108,358.1 L107,355.8 L106,353.5 L105,351.4 L104,349.3 L103,347.4 L102,345.5 L101,343.7 L100,342.1 L99,340.5 L98,339 L97,337.5 L96,336.2 L95,334.9 L94,333.7 L93,332.6 L92,331.6 L91,330.6 L90,329.7 L89,328.8 L88,328 L87,327.2 L86,326.5 L85,325.9 L84,325.3 L83,324.7 L82,324.2 L81,323.7 L80,323.2 L79,322.8 L78,322.4 L77,322.1 L76,321.8 L75,321.5 L74,321.2 L73,321 L72,320.8 L71,320.6 L70,320.4 L69,320.3 L68,320.2 L67,320.1 L66,320 L65,319.9 L64,319.9 L63,319.8 L62,319.8 L61,319.8 L60,319.8 L59,319.9 L58,319.9 L57,320 L56,320 L55,320.1 L54,320.2 L53,320.3 L52,320.4 L51,320.6 L50,320.7 L49,320.8 L48,321 L47,321.2 L46,321.3 L45,321.5 L44,321.7 L43,321.9 L42,322.1 L41,322.4 L40,322.6 L39,322.8 L38,323.1 L37,323.3 L36,323.6 L35,323.8 L34,324.1 L33,324.4 L32,324.7 L31,325 L30,325.3Z" fill="#8cc0bc" fill-opacity="1.0" /><g clip-path="url(#OUT)"><path d="M30,319.1 L31,318.7 L32,318.2 L33,317.8 L34,317.4 L35,317 L36,316.6 L37,316.2 L38,315.8 L39,315.4 L40,315 L41,314.6 L42,314.2 L43,313.8 L44,313.4 L45,313.1 L46,312.7 L47,312.3 L48,311.9 L49,311.6 L50,311.2 L51,310.8 L52,310.5 L53,310.1 L54,309.8 L55,309.4 L56,309.1 L57,308.7 L58,308.4 L59,308 L60,307.7 L61,307.3 L62,307 L63,306.7 L64,306.4 L65,306 L66,305.7 L67,305.4 L68,305.1 L69,304.7 L70,304.4 L71,304.1 L72,303.8 L73,303.5 L74,303.2 L75,302.9 L76,302.6 L77,302.3 L78,302 L79,301.7 L80,301.4 L81,301.1 L82,300.8 L83,300.5 L84,300.2 L85,300 L86,299.7 L87,299.4 L88,299.1 L89,298.8 L90,298.6 L91,298.3 L92,298 L93,297.8 L94,297.5 L95,297.2 L96,297 L97,296.7 L98,296.5 L99,296.2 L100,295.9 L101,295.7 L102,295.4 L103,295.2 L104,294.9 L105,294.7 L106,294.5 L107,294.2 L108,294 L109,293.7 L110,293.5 L111,293.3 L112,293 L113,292.8 L114,292.6 L115,292.3 L116,292.1 L117,291.9 L118,291.6 L119,291.4 L120,291.2 L121,291 L122,290.7 L123,290.5 L124,290.3 L125,290.1 L126,289.9 L127,289.7 L128,289.4 L129,289.2 L130,289 L131,288.8 L132,288.6 L133,288.4 L134,288.2 L135,288 L136,287.8 L137,287.6 L138,287.4 L139,287.2 L140,287 L141,286.8 L142,286.6 L143,286.4 L144,286.2 L145,286 L146,285.8 L147,285.6 L148,285.4 L149,285.2 L150,285 L151,284.9 L152,284.7 L153,284.5 L154,284.3 L155,284.1 L156,283.9 L157,283.7 L158,283.6 L159,283.4 L160,283.2 L161,283 L162,282.8 L163,282.7 L164,282.5 L165,282.3 L166,282.1 L167,282 L168,281.8 L169,281.6 L170,281.4 L171,281.3 L172,281.1 L173,280.9 L174,280.7 L175,280.6 L176,280.4 L177,280.2 L178,280.1 L179,279.9 L180,279.7 L181,279.6 L182,279.4 L183,279.2 L184,279.1 L185,278.9 L186,278.8 L187,278.6 L188,278.4 L189,278.3 L190,278.1 L191,278 L192,277.8 L193,277.6 L194,277.5 L195,277.3 L196,277.2 L197,277 L198,276.9 L199,276.7 L200,276.5 L201,276.4 L202,276.2 L203,276.1 L204,275.9 L205,275.8 L206,275.6 L207,275.5 L208,275.3 L209,275.2 L210,275 L211,274.9 L212,274.7 L213,274.6 L214,274.4 L215,274.3 L216,274.1 L217,274 L218,273.8 L219,273.7 L220,273.5 L221,273.4 L222,273.2 L223,273.1 L224,272.9 L225,272.8 L226,272.7 L227,272.5 L228,272.4 L229,272.2 L230,272.1 L231,271.9 L232,271.8 L233,271.7 L234,271.5 L235,271.4 L236,271.2 L237,271.1 L238,271 L239,270.8 L240,270.7 L241,270.5 L242,270.4 L243,270.3 L244,270.1 L245,270 L246,269.8 L247,269.7 L248,269.6 L249,269.4 L250,269.3 L251,269.1 L252,269 L253,268.9 L254,268.7 L255,268.6 L256,268.5 L257,268.3 L258,268.2 L259,268.1 L260,267.9 L261,267.8 L262,267.6 L263,267.5 L264,267.4 L265,267.2 L266,267.1 L267,267 L268,266.8 L269,266.7 L270,266.6 L271,266.4 L272,266.3 L273,266.2 L274,266 L275,265.9 L276,265.8 L277,265.6 L278,265.5 L279,265.4 L280,265.2 L281,265.1 L282,265 L283,264.9 L284,264.7 L285,264.6 L286,264.5 L287,264.3 L288,264.2 L289,264.1 L290,263.9 L291,263.8 L292,263.7 L293,263.5 L294,263.4 L295,263.3 L296,263.2 L297,263 L298,262.9 L299,262.8 L300,262.6 L301,262.5 L302,262.4 L303,262.3 L304,262.1 L305,262 L306,261.9 L307,261.7 L308,261.6 L309,261.5 L310,261.4 L311,261.2 L312,261.1 L313,261 L314,260.9 L315,260.7 L316,260.6 L317,260.5 L318,260.3 L319,260.2 L320,260.1 L321,260 L322,259.8 L323,259.7 L324,259.6 L325,259.5 L326,259.3 L327,259.2 L328,259.1 L329,259 L330,258.8 L331,258.7 L332,258.6 L333,258.5 L334,258.3 L335,258.2 L336,258.1 L337,258 L338,257.9 L339,257.7 L340,257.6 L341,257.5 L342,257.4 L343,257.2 L344,257.1 L344,258.5 L343,258.7 L342,258.8 L341,259 L340,259.1 L339,259.3 L338,259.4 L337,259.5 L336,259.7 L335,259.8 L334,260 L333,260.1 L332,260.3 L331,260.4 L330,260.6 L329,260.7 L328,260.9 L327,261 L326,261.2 L325,261.3 L324,261.5 L323,261.6 L322,261.8 L321,262 L320,262.1 L319,262.3 L318,262.4 L317,262.6 L316,262.7 L315,262.9 L314,263.1 L313,263.2 L312,263.4 L311,263.6 L310,263.7 L309,263.9 L308,264.1 L307,264.2 L306,264.4 L305,264.6 L304,264.7 L303,264.9 L302,265.1 L301,265.3 L300,265.5 L299,265.6 L298,265.8 L297,266 L296,266.2 L295,266.4 L294,266.5 L293,266.7 L292,266.9 L291,267.1 L290,267.3 L289,267.5 L288,267.7 L287,267.9 L286,268.1 L285,268.3 L284,268.5 L283,268.7 L282,268.9 L281,269.2 L280,269.4 L279,269.6 L278,269.8 L277,270 L276,270.3 L275,270.5 L274,270.7 L273,271 L272,271.2 L271,271.4 L270,271.7 L269,271.9 L268,272.2 L267,272.5 L266,272.7 L265,273 L264,273.3 L263,273.5 L262,273.8 L261,274.1 L260,274.4 L259,274.7 L258,275 L257,275.3 L256,275.7 L255,276 L254,276.3 L253,276.7 L252,277 L251,277.4 L250,277.8 L249,278.1 L248,278.5 L247,278.9 L246,279.3 L245,279.8 L244,280.2 L243,280.7 L242,281.1 L241,281.6 L240,282.1 L239,282.6 L238,283.1 L237,283.7 L236,284.2 L235,284.8 L234,285.4 L233,286.1 L232,286.7 L231,287.4 L230,288.1 L229,288.8 L228,289.6 L227,290.4 L226,291.2 L225,292.1 L224,293 L223,293.9 L222,294.9 L221,296 L220,297.1 L219,298.2 L218,299.4 L217,300.7 L216,302 L215,303.4 L214,304.8 L213,306.4 L212,308 L211,309.7 L210,311.4 L209,313.3 L208,315.3 L207,317.3 L206,319.5 L205,321.7 L204,324.1 L203,326.6 L202,329.1 L201,331.8 L200,334.6 L199,337.4 L198,340.3 L197,343.2 L196,346.2 L195,349.2 L194,352.1 L193,354.9 L192,357.6 L191,360.2 L190,362.5 L189,364.5 L188,366.1 L187,367.4 L186,368.3 L185,368.7 L184,368.7 L183,368.3 L182,367.4 L181,366.1 L180,364.5 L179,362.5 L178,360.4 L177,358 L176,355.5 L175,352.9 L174,350.3 L173,347.7 L172,345.1 L171,342.5 L170,340 L169,337.5 L168,335.2 L167,332.9 L166,330.8 L165,328.7 L164,326.7 L163,324.9 L162,323.1 L161,321.5 L160,319.9 L159,318.5 L158,317.1 L157,315.8 L156,314.6 L155,313.5 L154,312.4 L153,311.4 L152,310.5 L151,309.6 L150,308.8 L149,308 L148,307.3 L147,306.6 L146,306 L145,305.4 L144,304.9 L143,304.4 L142,303.9 L141,303.5 L140,303.1 L139,302.7 L138,302.4 L137,302.1 L136,301.8 L135,301.5 L134,301.3 L133,301.1 L132,300.9 L131,300.7 L130,300.5 L129,300.4 L128,300.2 L127,300.1 L126,300 L125,299.9 L124,299.9 L123,299.8 L122,299.8 L121,299.7 L120,299.7 L119,299.7 L118,299.7 L117,299.7 L116,299.7 L115,299.8 L114,299.8 L113,299.8 L112,299.9 L111,300 L110,300 L109,300.1 L108,300.2 L107,300.3 L106,300.4 L105,300.5 L104,300.6 L103,300.7 L102,300.8 L101,301 L100,301.1 L99,301.2 L98,301.4 L97,301.5 L96,301.7 L95,301.8 L94,302 L93,302.2 L92,302.4 L91,302.5 L90,302.7 L89,302.9 L88,303.1 L87,303.3 L86,303.5 L85,303.7 L84,303.9 L83,304.1 L82,304.3 L81,304.6 L80,304.8 L79,305 L78,305.2 L77,305.5 L76,305.7 L75,306 L74,306.2 L73,306.5 L72,306.7 L71,307 L70,307.2 L69,307.5 L68,307.8 L67,308 L66,308.3 L65,308.6 L64,308.9 L63,309.2 L62,309.5 L61,309.8 L60,310.1 L59,310.4 L58,310.7 L57,311 L56,311.3 L55,311.6 L54,311.9 L53,312.2 L52,312.6 L51,312.9 L50,313.2 L49,313.6 L48,313.9 L47,314.2 L46,314.6 L45,314.9 L44,315.3 L43,315.6 L42,316 L41,316.4 L40,316.7 L39,317.1 L38,317.5 L37,317.8 L36,318.2 L35,318.6 L34,319 L33,319.4 L32,319.8 L31,320.2 L30,320.6Z" fill="#40c8c8" fill-opacity="1.0"/></g><path d="M30,319.1 L31,318.7 L32,318.2 L33,317.8 L34,317.4 L35,317 L36,316.6 L37,316.2 L38,315.8 L39,315.4 L40,315 L41,314.6 L42,314.2 L43,313.8 L44,313.4 L45,313.1 L46,312.7 L47,312.3 L48,311.9 L49,311.6 L50,311.2 L51,310.8 L52,310.5 L53,310.1 L54,309.8 L55,309.4 L56,309.1 L57,308.7 L58,308.4 L59,308 L60,307.7 L61,307.3 L62,307 L63,306.7 L64,306.4 L65,306 L66,305.7 L67,305.4 L68,305.1 L69,304.7 L70,304.4 L71,304.1 L72,303.8 L73,303.5 L74,303.2 L75,302.9 L76,302.6 L77,302.3 L78,302 L79,301.7 L80,301.4 L81,301.1 L82,300.8 L83,300.5 L84,300.2 L85,300 L86,299.7 L87,299.4 L88,299.1 L89,298.8 L90,298.6 L91,298.3 L92,298 L93,297.8 L94,297.5 L95,297.2 L96,297 L97,296.7 L98,296.5 L99,296.2 L100,295.9 L101,295.7 L102,295.4 L103,295.2 L104,294.9 L105,294.7 L106,294.5 L107,294.2 L108,294 L109,293.7 L110,293.5 L111,293.3 L112,293 L113,292.8 L114,292.6 L115,292.3 L116,292.1 L117,291.9 L118,291.6 L119,291.4 L120,291.2 L121,291 L122,290.7 L123,290.5 L124,290.3 L125,290.1 L126,289.9 L127,289.7 L128,289.4 L129,289.2 L130,289 L131,288.8 L132,288.6 L133,288.4 L134,288.2 L135,288 L136,287.8 L137,287.6 L138,287.4 L139,287.2 L140,287 L141,286.8 L142,286.6 L143,286.4 L144,286.2 L145,286 L146,285.8 L147,285.6 L148,285.4 L149,285.2 L150,285 L151,284.9 L152,284.7 L153,284.5 L154,284.3 L155,284.1 L156,283.9 L157,283.7 L158,283.6 L159,283.4 L160,283.2 L161,283 L162,282.8 L163,282.7 L164,282.5 L165,282.3 L166,282.1 L167,282 L168,281.8 L169,281.6 L170,281.4 L171,281.3 L172,281.1 L173,280.9 L174,280.7 L175,280.6 L176,280.4 L177,280.2 L178,280.1 L179,279.9 L180,279.7 L181,279.6 L182,279.4 L183,279.2 L184,279.1 L185,278.9 L186,278.8 L187,278.6 L188,278.4 L189,278.3 L190,278.1 L191,278 L192,277.8 L193,277.6 L194,277.5 L195,277.3 L196,277.2 L197,277 L198,276.9 L199,276.7 L200,276.5 L201,276.4 L202,276.2 L203,276.1 L204,275.9 L205,275.8 L206,275.6 L207,275.5 L208,275.3 L209,275.2 L210,275 L211,274.9 L212,274.7 L213,274.6 L214,274.4 L215,274.3 L216,274.1 L217,274 L218,273.8 L219,273.7 L220,273.5 L221,273.4 L222,273.2 L223,273.1 L224,272.9 L225,272.8 L226,272.7 L227,272.5 L228,272.4 L229,272.2 L230,272.1 L231,271.9 L232,271.8 L233,271.7 L234,271.5 L235,271.4 L236,271.2 L237,271.1 L238,271 L239,270.8 L240,270.7 L241,270.5 L242,270.4 L243,270.3 L244,270.1 L245,270 L246,269.8 L247,269.7 L248,269.6 L249,269.4 L250,269.3 L251,269.1 L252,269 L253,268.9 L254,268.7 L255,268.6 L256,268.5 L257,268.3 L258,268.2 L259,268.1 L260,267.9 L261,267.8 L262,267.6 L263,267.5 L264,267.4 L265,267.2 L266,267.1 L267,267 L268,266.8 L269,266.7 L270,266.6 L271,266.4 L272,266.3 L273,266.2 L274,266 L275,265.9 L276,265.8 L277,265.6 L278,265.5 L279,265.4 L280,265.2 L281,265.1 L282,265 L283,264.9 L284,264.7 L285,264.6 L286,264.5 L287,264.3 L288,264.2 L289,264.1 L290,263.9 L291,263.8 L292,263.7 L293,263.5 L294,263.4 L295,263.3 L296,263.2 L297,263 L298,262.9 L299,262.8 L300,262.6 L301,262.5 L302,262.4 L303,262.3 L304,262.1 L305,262 L306,261.9 L307,261.7 L308,261.6 L309,261.5 L310,261.4 L311,261.2 L312,261.1 L313,261 L314,260.9 L315,260.7 L316,260.6 L317,260.5 L318,260.3 L319,260.2 L320,260.1 L321,260 L322,259.8 L323,259.7 L324,259.6 L325,259.5 L326,259.3 L327,259.2 L328,259.1 L329,259 L330,258.8 L331,258.7 L332,258.6 L333,258.5 L334,258.3 L335,258.2 L336,258.1 L337,258 L338,257.9 L339,257.7 L340,257.6 L341,257.5 L342,257.4 L343,257.2 L344,257.1 L344,257.9 L343,258 L342,258.1 L341,258.3 L340,258.4 L339,258.5 L338,258.7 L337,258.8 L336,258.9 L335,259.1 L334,259.2 L333,259.3 L332,259.5 L331,259.6 L330,259.7 L329,259.9 L328,260 L327,260.1 L326,260.3 L325,260.4 L324,260.5 L323,260.7 L322,260.8 L321,261 L320,261.1 L319,261.2 L318,261.4 L317,261.5 L316,261.6 L315,261.8 L314,261.9 L313,262.1 L312,262.2 L311,262.3 L310,262.5 L309,262.6 L308,262.8 L307,262.9 L306,263.1 L305,263.2 L304,263.3 L303,263.5 L302,263.6 L301,263.8 L300,263.9 L299,264.1 L298,264.2 L297,264.4 L296,264.5 L295,264.6 L294,264.8 L293,264.9 L292,265.1 L291,265.2 L290,265.4 L289,265.5 L288,265.7 L287,265.8 L286,266 L285,266.1 L284,266.3 L283,266.4 L282,266.6 L281,266.8 L280,266.9 L279,267.1 L278,267.2 L277,267.4 L276,267.5 L275,267.7 L274,267.9 L273,268 L272,268.2 L271,268.3 L270,268.5 L269,268.7 L268,268.8 L267,269 L266,269.1 L265,269.3 L264,269.5 L263,269.6 L262,269.8 L261,270 L260,270.1 L259,270.3 L258,270.5 L257,270.7 L256,270.8 L255,271 L254,271.2 L253,271.4 L252,271.5 L251,271.7 L250,271.9 L249,272.1 L248,272.3 L247,272.4 L246,272.6 L245,272.8 L244,273 L243,273.2 L242,273.4 L241,273.6 L240,273.8 L239,274 L238,274.2 L237,274.4 L236,274.6 L235,274.8 L234,275 L233,275.2 L232,275.4 L231,275.6 L230,275.8 L229,276 L228,276.2 L227,276.5 L226,276.7 L225,276.9 L224,277.1 L223,277.4 L222,277.6 L221,277.8 L220,278.1 L219,278.3 L218,278.5 L217,278.8 L216,279 L215,279.3 L214,279.6 L213,279.8 L212,280.1 L211,280.3 L210,280.6 L209,280.9 L208,281.2 L207,281.5 L206,281.8 L205,282.1 L204,282.4 L203,282.7 L202,283 L201,283.3 L200,283.6 L199,284 L198,284.3 L197,284.6 L196,285 L195,285.3 L194,285.7 L193,286.1 L192,286.5 L191,286.9 L190,287.3 L189,287.7 L188,288.1 L187,288.6 L186,289 L185,289.5 L184,289.9 L183,290.4 L182,290.9 L181,291.4 L180,292 L179,292.5 L178,293.1 L177,293.7 L176,294.3 L175,294.9 L174,295.5 L173,296.2 L172,296.9 L171,297.6 L170,298.3 L169,299.1 L168,299.9 L167,300.7 L166,301.6 L165,302.5 L164,303.4 L163,304.4 L162,305.4 L161,306.4 L160,307.5 L159,308.7 L158,309.9 L157,311.1 L156,312.4 L155,313.8 L154,315.2 L153,316.7 L152,318.3 L151,319.9 L150,321.6 L149,323.4 L148,325.3 L147,327.2 L146,329.2 L145,331.4 L144,333.6 L143,335.8 L142,338.2 L141,340.6 L140,343.1 L139,345.7 L138,348.3 L137,350.9 L136,353.6 L135,356.3 L134,358.9 L133,361.5 L132,363.9 L131,366.3 L130,368.5 L129,370.4 L128,372.1 L127,373.5 L126,374.6 L125,375.3 L124,375.7 L123,375.7 L122,375.3 L121,374.6 L120,373.6 L119,372.3 L118,370.7 L117,368.9 L116,367 L115,364.9 L114,362.8 L113,360.6 L112,358.3 L111,356.1 L110,353.9 L109,351.7 L108,349.6 L107,347.6 L106,345.6 L105,343.7 L104,341.9 L103,340.2 L102,338.5 L101,336.9 L100,335.5 L99,334.1 L98,332.7 L97,331.5 L96,330.3 L95,329.2 L94,328.2 L93,327.2 L92,326.3 L91,325.5 L90,324.7 L89,324 L88,323.3 L87,322.6 L86,322.1 L85,321.5 L84,321 L83,320.5 L82,320.1 L81,319.7 L80,319.4 L79,319 L78,318.8 L77,318.5 L76,318.3 L75,318 L74,317.9 L73,317.7 L72,317.6 L71,317.4 L70,317.3 L69,317.3 L68,317.2 L67,317.2 L66,317.1 L65,317.1 L64,317.1 L63,317.2 L62,317.2 L61,317.2 L60,317.3 L59,317.4 L58,317.5 L57,317.6 L56,317.7 L55,317.8 L54,318 L53,318.1 L52,318.3 L51,318.4 L50,318.6 L49,318.8 L48,319 L47,319.2 L46,319.4 L45,319.6 L44,319.8 L43,320.1 L42,320.3 L41,320.6 L40,320.8 L39,321.1 L38,321.4 L37,321.6 L36,321.9 L35,322.2 L34,322.5 L33,322.8 L32,323.1 L31,323.5 L30,323.8Z" fill="#c040c0" fill-opacity="1.0" /><g clip-path="url(#OUT)"><path d="M30,319.1 L31,318.7 L32,318.2 L33,317.8 L34,317.4 L35,317 L36,316.6 L37,316.2 L38,315.8 L39,315.4 L40,315 L41,314.6 L42,314.2 L43,313.8 L44,313.4 L45,313.1 L46,312.7 L47,312.3 L48,311.9 L49,311.6 L50,311.2 L51,310.8 L52,310.5 L53,310.1 L54,309.8 L55,309.4 L56,309.1 L57,308.7 L58,308.4 L59,308 L60,307.7 L61,307.3 L62,307 L63,306.7 L64,306.4 L65,306 L66,305.7 L67,305.4 L68,305.1 L69,304.7 L70,304.4 L71,304.1 L72,303.8 L73,303.5 L74,303.2 L75,302.9 L76,302.6 L77,302.3 L78,302 L79,301.7 L80,301.4 L81,301.1 L82,300.8 L83,300.5 L84,300.2 L85,300 L86,299.7 L87,299.4 L88,299.1 L89,298.8 L90,298.6 L91,298.3 L92,298 L93,297.8 L94,297.5 L95,297.2 L96,297 L97,296.7 L98,296.5 L99,296.2 L100,295.9 L101,295.7 L102,295.4 L103,295.2 L104,294.9 L105,294.7 L106,294.5 L107,294.2 L108,294 L109,293.7 L110,293.5 L111,293.3 L112,293 L113,292.8 L114,292.6 L115,292.3 L116,292.1 L117,291.9 L118,291.6 L119,291.4 L120,291.2 L121,291 L122,290.7 L123,290.5 L124,290.3 L125,290.1 L126,289.6 L127,289.1 L128,288.7 L129,288.2 L130,287.8 L131,287.3 L132,286.9 L133,286.5 L134,286.1 L135,285.7 L136,285.3 L137,284.9 L138,284.5 L139,284.1 L140,283.8 L141,283.4 L142,283 L143,282.7 L144,282.3 L145,282 L146,281.7 L147,281.3 L148,281 L149,280.7 L150,280.4 L151,280.3 L152,280.1 L153,280 L154,279.9 L155,279.8 L156,279.7 L157,279.5 L158,279.4 L159,279.3 L160,279.2 L161,279 L162,278.9 L163,278.8 L164,278.7 L165,278.6 L166,278.4 L167,278.3 L168,278.2 L169,278.1 L170,277.9 L171,277.8 L172,277.7 L173,277.6 L174,277.5 L175,277.3 L176,277.2 L177,277.1 L178,277 L179,276.9 L180,276.7 L181,276.6 L182,276.5 L183,276.4 L184,276.2 L185,276.1 L186,276 L187,275.9 L188,275.8 L189,275.6 L190,275.5 L191,275.4 L192,275.3 L193,275.1 L194,275 L195,274.9 L196,274.8 L197,274.7 L198,274.5 L199,274.4 L200,274.3 L201,274.2 L202,274.1 L203,273.9 L204,273.8 L205,273.7 L206,273.6 L207,273.4 L208,273.3 L209,273.2 L210,273.1 L211,273 L212,272.8 L213,272.7 L214,272.6 L215,272.5 L216,272.3 L217,272.2 L218,272.1 L219,272 L220,271.9 L221,271.7 L222,271.6 L223,271.5 L224,271.4 L225,271.2 L226,271.1 L227,271 L228,270.9 L229,270.8 L230,270.6 L231,270.5 L232,270.4 L233,270.3 L234,270.2 L235,270 L236,269.9 L237,269.8 L238,269.7 L239,269.5 L240,269.4 L241,269.3 L242,269.2 L243,269.1 L244,268.9 L245,268.8 L246,268.7 L247,268.6 L248,268.4 L249,268.3 L250,268.2 L251,268.1 L252,268 L253,267.8 L254,267.7 L255,267.6 L256,267.5 L257,267.4 L258,267.2 L259,267.1 L260,267 L261,266.9 L262,266.7 L263,266.6 L264,266.5 L265,266.4 L266,266.3 L267,266.1 L268,266 L269,265.9 L270,265.8 L271,265.7 L272,265.5 L273,265.4 L274,265.3 L275,265.2 L276,265 L277,264.9 L278,264.8 L279,264.7 L280,264.6 L281,264.4 L282,264.3 L283,264.2 L284,264.1 L285,264 L286,263.8 L287,263.7 L288,263.6 L289,263.5 L290,263.3 L291,263.2 L292,263.1 L293,263 L294,262.9 L295,262.7 L296,262.6 L297,262.5 L298,262.4 L299,262.3 L300,262.1 L301,262 L302,261.9 L303,261.8 L304,261.6 L305,261.5 L306,261.4 L307,261.3 L308,261.2 L309,261 L310,260.9 L311,260.8 L312,260.7 L313,260.6 L314,260.4 L315,260.3 L316,260.2 L317,260.1 L318,260 L319,259.8 L320,259.7 L321,259.6 L322,259.5 L323,259.4 L324,259.2 L325,259.1 L326,259 L327,258.9 L328,258.8 L329,258.6 L330,258.5 L331,258.4 L332,258.3 L333,258.2 L334,258 L335,257.9 L336,257.8 L337,257.7 L338,257.6 L339,257.4 L340,257.3 L341,257.2 L342,257.1 L343,257 L344,256.9 L344,260 L343,260.1 L342,260.3 L341,260.4 L340,260.6 L339,260.8 L338,260.9 L337,261.1 L336,261.3 L335,261.4 L334,261.6 L333,261.8 L332,261.9 L331,262.1 L330,262.3 L329,262.5 L328,262.6 L327,262.8 L326,263 L325,263.2 L324,263.4 L323,263.5 L322,263.7 L321,263.9 L320,264.1 L319,264.3 L318,264.5 L317,264.6 L316,264.8 L315,265 L314,265.2 L313,265.4 L312,265.6 L311,265.8 L310,266 L309,266.2 L308,266.4 L307,266.6 L306,266.8 L305,267 L304,267.2 L303,267.4 L302,267.7 L301,267.9 L300,268.1 L299,268.3 L298,268.5 L297,268.8 L296,269 L295,269.2 L294,269.5 L293,269.7 L292,269.9 L291,270.2 L290,270.4 L289,270.7 L288,270.9 L287,271.2 L286,271.4 L285,271.7 L284,271.9 L283,272.2 L282,272.5 L281,272.7 L280,273 L279,273.3 L278,273.6 L277,273.9 L276,274.1 L275,274.4 L274,274.7 L273,275 L272,275.4 L271,275.7 L270,276 L269,276.3 L268,276.7 L267,277 L266,277.3 L265,277.7 L264,278 L263,278.4 L262,278.8 L261,279.1 L260,279.5 L259,279.9 L258,280.3 L257,280.7 L256,281.1 L255,281.5 L254,282 L253,282.4 L252,282.9 L251,283.3 L250,283.8 L249,284.3 L248,284.7 L247,285.2 L246,285.8 L245,286.3 L244,286.8 L243,287.4 L242,287.9 L241,288.5 L240,289.1 L239,289.7 L238,290.3 L237,290.9 L236,291.5 L235,292.2 L234,292.9 L233,293.6 L232,294.3 L231,295 L230,295.7 L229,296.5 L228,297.3 L227,298.1 L226,298.9 L225,299.7 L224,300.6 L223,301.5 L222,302.4 L221,303.3 L220,304.2 L219,305.1 L218,306.1 L217,307.1 L216,308.1 L215,309.1 L214,310.2 L213,311.2 L212,312.3 L211,313.4 L210,314.5 L209,315.6 L208,316.7 L207,317.8 L206,318.9 L205,320 L204,321.1 L203,322.2 L202,323.3 L201,324.4 L200,325.4 L199,326.4 L198,327.4 L197,328.4 L196,329.3 L195,330.2 L194,331 L193,331.8 L192,332.5 L191,333.2 L190,333.8 L189,334.3 L188,334.7 L187,335.1 L186,335.4 L185,335.6 L184,335.7 L183,335.8 L182,335.7 L181,335.6 L180,335.5 L179,335.2 L178,334.9 L177,334.5 L176,334.1 L175,333.6 L174,333.1 L173,332.5 L172,331.8 L171,331.2 L170,330.5 L169,329.8 L168,329 L167,328.3 L166,327.5 L165,326.7 L164,325.9 L163,325.2 L162,324.4 L161,323.6 L160,322.8 L159,322.1 L158,321.3 L157,320.6 L156,319.9 L155,319.1 L154,318.5 L153,317.8 L152,317.1 L151,316.5 L150,315.9 L149,315.3 L148,314.7 L147,314.1 L146,313.6 L145,313.1 L144,312.6 L143,312.1 L142,311.6 L141,311.2 L140,310.8 L139,310.4 L138,310 L137,309.6 L136,309.3 L135,308.9 L134,308.6 L133,308.3 L132,308 L131,307.8 L130,307.5 L129,307.3 L128,307 L127,306.8 L126,306.6 L125,306.5 L124,306.3 L123,306.1 L122,306 L121,305.9 L120,305.8 L119,305.6 L118,305.5 L117,305.5 L116,305.4 L115,305.3 L114,305.3 L113,305.2 L112,305.2 L111,305.2 L110,305.1 L109,305.1 L108,305.1 L107,305.1 L106,305.2 L105,305.2 L104,305.2 L103,305.2 L102,305.3 L101,305.3 L100,305.4 L99,305.5 L98,305.5 L97,305.6 L96,305.7 L95,305.8 L94,305.9 L93,306 L92,306.1 L91,306.2 L90,306.4 L89,306.5 L88,306.6 L87,306.8 L86,306.9 L85,307.1 L84,307.2 L83,307.4 L82,307.5 L81,307.7 L80,307.9 L79,308.1 L78,308.2 L77,308.4 L76,308.6 L75,308.8 L74,309 L73,309.2 L72,309.5 L71,309.7 L70,309.9 L69,310.1 L68,310.3 L67,310.6 L66,310.8 L65,311.1 L64,311.3 L63,311.6 L62,311.8 L61,312.1 L60,312.3 L59,312.6 L58,312.9 L57,313.2 L56,313.4 L55,313.7 L54,314 L53,314.3 L52,314.6 L51,314.9 L50,315.2 L49,315.5 L48,315.8 L47,316.1 L46,316.5 L45,316.8 L44,317.1 L43,317.4 L42,317.8 L41,318.1 L40,318.5 L39,318.8 L38,319.1 L37,319.5 L36,319.9 L35,320.2 L34,320.6 L33,321 L32,321.3 L31,321.7 L30,322.1Z" fill="#10b8c0" fill-opacity="1.0"/></g><clipPath id="S2F6b"><path d="M30,319.1 L31,318.7 L32,318.2 L33,317.8 L34,317.4 L35,317 L36,316.6 L37,316.2 L38,315.8 L39,315.4 L40,315 L41,314.6 L42,314.2 L43,313.8 L44,313.4 L45,313.1 L46,312.7 L47,312.3 L48,311.9 L49,311.6 L50,311.2 L51,310.8 L52,310.5 L53,310.1 L54,309.8 L55,309.4 L56,309.1 L57,308.7 L58,308.4 L59,308 L60,307.7 L61,307.3 L62,307 L63,306.7 L64,306.4 L65,306 L66,305.7 L67,305.4 L68,305.1 L69,304.7 L70,304.4 L71,304.1 L72,303.8 L73,303.5 L74,303.2 L75,302.9 L76,302.6 L77,302.3 L78,302 L79,301.7 L80,301.4 L81,301.1 L82,300.8 L83,300.5 L84,300.2 L85,300 L86,299.7 L87,299.4 L88,299.1 L89,298.8 L90,298.6 L91,298.3 L92,298 L93,297.8 L94,297.5 L95,297.2 L96,297 L97,296.7 L98,296.5 L99,296.2 L100,295.9 L101,295.7 L102,295.4 L103,295.2 L104,294.9 L105,294.7 L106,294.5 L107,294.2 L108,294 L109,293.7 L110,293.5 L111,293.3 L112,293 L113,292.8 L114,292.6 L115,292.3 L116,292.1 L117,291.9 L118,291.6 L119,291.4 L120,291.2 L121,291 L122,290.7 L123,290.5 L124,290.3 L125,290.1 L126,289.6 L127,289.1 L128,288.7 L129,288.2 L130,287.8 L131,287.3 L132,286.9 L133,286.5 L134,286.1 L135,285.7 L136,285.3 L137,284.9 L138,284.5 L139,284.1 L140,283.8 L141,283.4 L142,283 L143,282.7 L144,282.3 L145,282 L146,281.7 L147,281.3 L148,281 L149,280.7 L150,280.4 L151,280.3 L152,280.1 L153,280 L154,279.9 L155,279.8 L156,279.7 L157,279.5 L158,279.4 L159,279.3 L160,279.2 L161,279 L162,278.9 L163,278.8 L164,278.7 L165,278.6 L166,278.4 L167,278.3 L168,278.2 L169,278.1 L170,277.9 L171,277.8 L172,277.7 L173,277.6 L174,277.5 L175,277.3 L176,277.2 L177,277.1 L178,277 L179,276.9 L180,276.7 L181,276.6 L182,276.5 L183,276.4 L184,276.2 L185,276.1 L186,276 L187,275.9 L188,275.8 L189,275.6 L190,275.5 L191,275.4 L192,275.3 L193,275.1 L194,275 L195,274.9 L196,274.8 L197,274.7 L198,274.5 L199,274.4 L200,274.3 L201,274.2 L202,274.1 L203,273.9 L204,273.8 L205,273.7 L206,273.6 L207,273.4 L208,273.3 L209,273.2 L210,273.1 L211,273 L212,272.8 L213,272.7 L214,272.6 L215,272.5 L216,272.3 L217,272.2 L218,272.1 L219,272 L220,271.9 L221,271.7 L222,271.6 L223,271.5 L224,271.4 L225,271.2 L226,271.1 L227,271 L228,270.9 L229,270.8 L230,270.6 L231,270.5 L232,270.4 L233,270.3 L234,270.2 L235,270 L236,269.9 L237,269.8 L238,269.7 L239,269.5 L240,269.4 L241,269.3 L242,269.2 L243,269.1 L244,268.9 L245,268.8 L246,268.7 L247,268.6 L248,268.4 L249,268.3 L250,268.2 L251,268.1 L252,268 L253,267.8 L254,267.7 L255,267.6 L256,267.5 L257,267.4 L258,267.2 L259,267.1 L260,267 L261,266.9 L262,266.7 L263,266.6 L264,266.5 L265,266.4 L266,266.3 L267,266.1 L268,266 L269,265.9 L270,265.8 L271,265.7 L272,265.5 L273,265.4 L274,265.3 L275,265.2 L276,265 L277,264.9 L278,264.8 L279,264.7 L280,264.6 L281,264.4 L282,264.3 L283,264.2 L284,264.1 L285,264 L286,263.8 L287,263.7 L288,263.6 L289,263.5 L290,263.3 L291,263.2 L292,263.1 L293,263 L294,262.9 L295,262.7 L296,262.6 L297,262.5 L298,262.4 L299,262.3 L300,262.1 L301,262 L302,261.9 L303,261.8 L304,261.6 L305,261.5 L306,261.4 L307,261.3 L308,261.2 L309,261 L310,260.9 L311,260.8 L312,260.7 L313,260.6 L314,260.4 L315,260.3 L316,260.2 L317,260.1 L318,260 L319,259.8 L320,259.7 L321,259.6 L322,259.5 L323,259.4 L324,259.2 L325,259.1 L326,259 L327,258.9 L328,258.8 L329,258.6 L330,258.5 L331,258.4 L332,258.3 L333,258.2 L334,258 L335,257.9 L336,257.8 L337,257.7 L338,257.6 L339,257.4 L340,257.3 L341,257.2 L342,257.1 L343,257 L344,256.9 L344,257.9 L343,258 L342,258.1 L341,258.3 L340,258.4 L339,258.5 L338,258.7 L337,258.8 L336,258.9 L335,259.1 L334,259.2 L333,259.3 L332,259.5 L331,259.6 L330,259.7 L329,259.9 L328,260 L327,260.1 L326,260.3 L325,260.4 L324,260.5 L323,260.7 L322,260.8 L321,261 L320,261.1 L319,261.2 L318,261.4 L317,261.5 L316,261.6 L315,261.8 L314,261.9 L313,262.1 L312,262.2 L311,262.3 L310,262.5 L309,262.6 L308,262.8 L307,262.9 L306,263.1 L305,263.2 L304,263.3 L303,263.5 L302,263.6 L301,263.8 L300,263.9 L299,264.1 L298,264.2 L297,264.4 L296,264.5 L295,264.6 L294,264.8 L293,264.9 L292,265.1 L291,265.2 L290,265.4 L289,265.5 L288,265.7 L287,265.8 L286,266 L285,266.1 L284,266.3 L283,266.4 L282,266.6 L281,266.8 L280,266.9 L279,267.1 L278,267.2 L277,267.4 L276,267.5 L275,267.7 L274,267.9 L273,268 L272,268.2 L271,268.3 L270,268.5 L269,268.7 L268,268.8 L267,269 L266,269.1 L265,269.3 L264,269.5 L263,269.6 L262,269.8 L261,270 L260,270.1 L259,270.3 L258,270.5 L257,270.7 L256,270.8 L255,271 L254,271.2 L253,271.4 L252,271.5 L251,271.7 L250,271.9 L249,272.1 L248,272.3 L247,272.4 L246,272.6 L245,272.8 L244,273 L243,273.2 L242,273.4 L241,273.6 L240,273.8 L239,274 L238,274.2 L237,274.4 L236,274.6 L235,274.8 L234,275 L233,275.2 L232,275.4 L231,275.6 L230,275.8 L229,276 L228,276.2 L227,276.5 L226,276.7 L225,276.9 L224,277.1 L223,277.4 L222,277.6 L221,277.8 L220,278.1 L219,278.3 L218,278.5 L217,278.8 L216,279 L215,279.3 L214,279.6 L213,279.8 L212,280.1 L211,280.3 L210,280.6 L209,280.9 L208,281.2 L207,281.5 L206,281.8 L205,282.1 L204,282.4 L203,282.7 L202,283 L201,283.3 L200,283.6 L199,284 L198,284.3 L197,284.6 L196,285 L195,285.3 L194,285.7 L193,286.1 L192,286.5 L191,286.9 L190,287.3 L189,287.7 L188,288.1 L187,288.6 L186,289 L185,289.5 L184,289.9 L183,290.4 L182,290.9 L181,291.4 L180,292 L179,292.5 L178,293.1 L177,293.7 L176,294.3 L175,294.9 L174,295.5 L173,296.2 L172,296.9 L171,297.6 L170,298.3 L169,299.1 L168,299.9 L167,300.7 L166,301.6 L165,302.5 L164,303.4 L163,304.4 L162,305.4 L161,306.4 L160,307.5 L159,308.7 L158,309.9 L157,311.1 L156,312.4 L155,313.8 L154,315.2 L153,316.7 L152,318.3 L151,319.9 L150,321.6 L149,323.4 L148,325.3 L147,327.2 L146,329.2 L145,331.4 L144,333.6 L143,335.8 L142,338.2 L141,340.6 L140,343.1 L139,345.7 L138,348.3 L137,350.9 L136,353.6 L135,356.3 L134,358.9 L133,361.5 L132,363.9 L131,366.3 L130,368.5 L129,370.4 L128,372.1 L127,373.5 L126,374.6 L125,375.3 L124,375.7 L123,375.7 L122,375.3 L121,374.6 L120,373.6 L119,372.3 L118,370.7 L117,368.9 L116,367 L115,364.9 L114,362.8 L113,360.6 L112,358.3 L111,356.1 L110,353.9 L109,351.7 L108,349.6 L107,347.6 L106,345.6 L105,343.7 L104,341.9 L103,340.2 L102,338.5 L101,336.9 L100,335.5 L99,334.1 L98,332.7 L97,331.5 L96,330.3 L95,329.2 L94,328.2 L93,327.2 L92,326.3 L91,325.5 L90,324.7 L89,324 L88,323.3 L87,322.6 L86,322.1 L85,321.5 L84,321 L83,320.5 L82,320.1 L81,319.7 L80,319.4 L79,319 L78,318.8 L77,318.5 L76,318.3 L75,318 L74,317.9 L73,317.7 L72,317.6 L71,317.4 L70,317.3 L69,317.3 L68,317.2 L67,317.2 L66,317.1 L65,317.1 L64,317.1 L63,317.2 L62,317.2 L61,317.2 L60,317.3 L59,317.4 L58,317.5 L57,317.6 L56,317.7 L55,317.8 L54,318 L53,318.1 L52,318.3 L51,318.4 L50,318.6 L49,318.8 L48,319 L47,319.2 L46,319.4 L45,319.6 L44,319.8 L43,320.1 L42,320.3 L41,320.6 L40,320.8 L39,321.1 L38,321.4 L37,321.6 L36,321.9 L35,322.2 L34,322.5 L33,322.8 L32,323.1 L31,323.5 L30,323.8Z"/></clipPath><g clip-path="url(#S2F6b)"><path d="M30,319.1 L31,318.7 L32,318.2 L33,317.8 L34,317.4 L35,317 L36,316.6 L37,316.2 L38,315.8 L39,315.4 L40,315 L41,314.6 L42,314.2 L43,313.8 L44,313.4 L45,313.1 L46,312.7 L47,312.3 L48,311.9 L49,311.6 L50,311.2 L51,310.8 L52,310.5 L53,310.1 L54,309.8 L55,309.4 L56,309.1 L57,308.7 L58,308.4 L59,308 L60,307.7 L61,307.3 L62,307 L63,306.7 L64,306.4 L65,306 L66,305.7 L67,305.4 L68,305.1 L69,304.7 L70,304.4 L71,304.1 L72,303.8 L73,303.5 L74,303.2 L75,302.9 L76,302.6 L77,302.3 L78,302 L79,301.7 L80,301.4 L81,301.1 L82,300.8 L83,300.5 L84,300.2 L85,300 L86,299.7 L87,299.4 L88,299.1 L89,298.8 L90,298.6 L91,298.3 L92,298 L93,297.8 L94,297.5 L95,297.2 L96,297 L97,296.7 L98,296.5 L99,296.2 L100,295.9 L101,295.7 L102,295.4 L103,295.2 L104,294.9 L105,294.7 L106,294.5 L107,294.2 L108,294 L109,293.7 L110,293.5 L111,293.3 L112,293 L113,292.8 L114,292.6 L115,292.3 L116,292.1 L117,291.9 L118,291.6 L119,291.4 L120,291.2 L121,291 L122,290.7 L123,290.5 L124,290.3 L125,290.1 L126,289.6 L127,289.1 L128,288.7 L129,288.2 L130,287.8 L131,287.3 L132,286.9 L133,286.5 L134,286.1 L135,285.7 L136,285.3 L137,284.9 L138,284.5 L139,284.1 L140,283.8 L141,283.4 L142,283 L143,282.7 L144,282.3 L145,282 L146,281.7 L147,281.3 L148,281 L149,280.7 L150,280.4 L151,280.3 L152,280.1 L153,280 L154,279.9 L155,279.8 L156,279.7 L157,279.5 L158,279.4 L159,279.3 L160,279.2 L161,279 L162,278.9 L163,278.8 L164,278.7 L165,278.6 L166,278.4 L167,278.3 L168,278.2 L169,278.1 L170,277.9 L171,277.8 L172,277.7 L173,277.6 L174,277.5 L175,277.3 L176,277.2 L177,277.1 L178,277 L179,276.9 L180,276.7 L181,276.6 L182,276.5 L183,276.4 L184,276.2 L185,276.1 L186,276 L187,275.9 L188,275.8 L189,275.6 L190,275.5 L191,275.4 L192,275.3 L193,275.1 L194,275 L195,274.9 L196,274.8 L197,274.7 L198,274.5 L199,274.4 L200,274.3 L201,274.2 L202,274.1 L203,273.9 L204,273.8 L205,273.7 L206,273.6 L207,273.4 L208,273.3 L209,273.2 L210,273.1 L211,273 L212,272.8 L213,272.7 L214,272.6 L215,272.5 L216,272.3 L217,272.2 L218,272.1 L219,272 L220,271.9 L221,271.7 L222,271.6 L223,271.5 L224,271.4 L225,271.2 L226,271.1 L227,271 L228,270.9 L229,270.8 L230,270.6 L231,270.5 L232,270.4 L233,270.3 L234,270.2 L235,270 L236,269.9 L237,269.8 L238,269.7 L239,269.5 L240,269.4 L241,269.3 L242,269.2 L243,269.1 L244,268.9 L245,268.8 L246,268.7 L247,268.6 L248,268.4 L249,268.3 L250,268.2 L251,268.1 L252,268 L253,267.8 L254,267.7 L255,267.6 L256,267.5 L257,267.4 L258,267.2 L259,267.1 L260,267 L261,266.9 L262,266.7 L263,266.6 L264,266.5 L265,266.4 L266,266.3 L267,266.1 L268,266 L269,265.9 L270,265.8 L271,265.7 L272,265.5 L273,265.4 L274,265.3 L275,265.2 L276,265 L277,264.9 L278,264.8 L279,264.7 L280,264.6 L281,264.4 L282,264.3 L283,264.2 L284,264.1 L285,264 L286,263.8 L287,263.7 L288,263.6 L289,263.5 L290,263.3 L291,263.2 L292,263.1 L293,263 L294,262.9 L295,262.7 L296,262.6 L297,262.5 L298,262.4 L299,262.3 L300,262.1 L301,262 L302,261.9 L303,261.8 L304,261.6 L305,261.5 L306,261.4 L307,261.3 L308,261.2 L309,261 L310,260.9 L311,260.8 L312,260.7 L313,260.6 L314,260.4 L315,260.3 L316,260.2 L317,260.1 L318,260 L319,259.8 L320,259.7 L321,259.6 L322,259.5 L323,259.4 L324,259.2 L325,259.1 L326,259 L327,258.9 L328,258.8 L329,258.6 L330,258.5 L331,258.4 L332,258.3 L333,258.2 L334,258 L335,257.9 L336,257.8 L337,257.7 L338,257.6 L339,257.4 L340,257.3 L341,257.2 L342,257.1 L343,257 L344,256.9 L344,260 L343,260.1 L342,260.3 L341,260.4 L340,260.6 L339,260.8 L338,260.9 L337,261.1 L336,261.3 L335,261.4 L334,261.6 L333,261.8 L332,261.9 L331,262.1 L330,262.3 L329,262.5 L328,262.6 L327,262.8 L326,263 L325,263.2 L324,263.4 L323,263.5 L322,263.7 L321,263.9 L320,264.1 L319,264.3 L318,264.5 L317,264.6 L316,264.8 L315,265 L314,265.2 L313,265.4 L312,265.6 L311,265.8 L310,266 L309,266.2 L308,266.4 L307,266.6 L306,266.8 L305,267 L304,267.2 L303,267.4 L302,267.7 L301,267.9 L300,268.1 L299,268.3 L298,268.5 L297,268.8 L296,269 L295,269.2 L294,269.5 L293,269.7 L292,269.9 L291,270.2 L290,270.4 L289,270.7 L288,270.9 L287,271.2 L286,271.4 L285,271.7 L284,271.9 L283,272.2 L282,272.5 L281,272.7 L280,273 L279,273.3 L278,273.6 L277,273.9 L276,274.1 L275,274.4 L274,274.7 L273,275 L272,275.4 L271,275.7 L270,276 L269,276.3 L268,276.7 L267,277 L266,277.3 L265,277.7 L264,278 L263,278.4 L262,278.8 L261,279.1 L260,279.5 L259,279.9 L258,280.3 L257,280.7 L256,281.1 L255,281.5 L254,282 L253,282.4 L252,282.9 L251,283.3 L250,283.8 L249,284.3 L248,284.7 L247,285.2 L246,285.8 L245,286.3 L244,286.8 L243,287.4 L242,287.9 L241,288.5 L240,289.1 L239,289.7 L238,290.3 L237,290.9 L236,291.5 L235,292.2 L234,292.9 L233,293.6 L232,294.3 L231,295 L230,295.7 L229,296.5 L228,297.3 L227,298.1 L226,298.9 L225,299.7 L224,300.6 L223,301.5 L222,302.4 L221,303.3 L220,304.2 L219,305.1 L218,306.1 L217,307.1 L216,308.1 L215,309.1 L214,310.2 L213,311.2 L212,312.3 L211,313.4 L210,314.5 L209,315.6 L208,316.7 L207,317.8 L206,318.9 L205,320 L204,321.1 L203,322.2 L202,323.3 L201,324.4 L200,325.4 L199,326.4 L198,327.4 L197,328.4 L196,329.3 L195,330.2 L194,331 L193,331.8 L192,332.5 L191,333.2 L190,333.8 L189,334.3 L188,334.7 L187,335.1 L186,335.4 L185,335.6 L184,335.7 L183,335.8 L182,335.7 L181,335.6 L180,335.5 L179,335.2 L178,334.9 L177,334.5 L176,334.1 L175,333.6 L174,333.1 L173,332.5 L172,331.8 L171,331.2 L170,330.5 L169,329.8 L168,329 L167,328.3 L166,327.5 L165,326.7 L164,325.9 L163,325.2 L162,324.4 L161,323.6 L160,322.8 L159,322.1 L158,321.3 L157,320.6 L156,319.9 L155,319.1 L154,318.5 L153,317.8 L152,317.1 L151,316.5 L150,315.9 L149,315.3 L148,314.7 L147,314.1 L146,313.6 L145,313.1 L144,312.6 L143,312.1 L142,311.6 L141,311.2 L140,310.8 L139,310.4 L138,310 L137,309.6 L136,309.3 L135,308.9 L134,308.6 L133,308.3 L132,308 L131,307.8 L130,307.5 L129,307.3 L128,307 L127,306.8 L126,306.6 L125,306.5 L124,306.3 L123,306.1 L122,306 L121,305.9 L120,305.8 L119,305.6 L118,305.5 L117,305.5 L116,305.4 L115,305.3 L114,305.3 L113,305.2 L112,305.2 L111,305.2 L110,305.1 L109,305.1 L108,305.1 L107,305.1 L106,305.2 L105,305.2 L104,305.2 L103,305.2 L102,305.3 L101,305.3 L100,305.4 L99,305.5 L98,305.5 L97,305.6 L96,305.7 L95,305.8 L94,305.9 L93,306 L92,306.1 L91,306.2 L90,306.4 L89,306.5 L88,306.6 L87,306.8 L86,306.9 L85,307.1 L84,307.2 L83,307.4 L82,307.5 L81,307.7 L80,307.9 L79,308.1 L78,308.2 L77,308.4 L76,308.6 L75,308.8 L74,309 L73,309.2 L72,309.5 L71,309.7 L70,309.9 L69,310.1 L68,310.3 L67,310.6 L66,310.8 L65,311.1 L64,311.3 L63,311.6 L62,311.8 L61,312.1 L60,312.3 L59,312.6 L58,312.9 L57,313.2 L56,313.4 L55,313.7 L54,314 L53,314.3 L52,314.6 L51,314.9 L50,315.2 L49,315.5 L48,315.8 L47,316.1 L46,316.5 L45,316.8 L44,317.1 L43,317.4 L42,317.8 L41,318.1 L40,318.5 L39,318.8 L38,319.1 L37,319.5 L36,319.9 L35,320.2 L34,320.6 L33,321 L32,321.3 L31,321.7 L30,322.1Z" fill="#9040c0" fill-opacity="1.0"/></g><g clip-path="url(#OUT)"><path d="M30,246.6 L31,246.6 L32,246.6 L33,246.6 L34,246.6 L35,246.6 L36,246.6 L37,246.6 L38,246.6 L39,246.6 L40,246.6 L41,246.6 L42,246.6 L43,246.6 L44,246.6 L45,246.6 L46,246.6 L47,246.6 L48,246.6 L49,246.6 L50,246.6 L51,246.6 L52,246.6 L53,246.6 L54,246.6 L55,246.6 L56,246.6 L57,246.6 L58,246.6 L59,246.6 L60,246.6 L61,246.6 L62,246.6 L63,246.6 L64,246.6 L65,246.6 L66,246.6 L67,246.6 L68,246.6 L69,246.6 L70,246.6 L71,246.6 L72,246.6 L73,246.6 L74,246.6 L75,246.6 L76,246.6 L77,246.6 L78,246.6 L79,246.6 L80,246.6 L81,246.6 L82,246.6 L83,246.6 L84,246.6 L85,246.6 L86,246.6 L87,246.6 L88,246.6 L89,246.6 L90,246.6 L91,246.6 L92,246.6 L93,246.6 L94,246.6 L95,246.6 L96,246.6 L97,246.6 L98,246.6 L99,246.6 L100,246.6 L101,246.6 L102,246.6 L103,246.6 L104,246.6 L105,246.6 L106,246.6 L107,246.6 L108,246.6 L109,246.6 L110,246.6 L111,246.6 L112,246.6 L113,246.6 L114,246.6 L115,246.6 L116,246.6 L117,246.6 L118,246.6 L119,246.6 L120,246.6 L121,246.6 L122,246.6 L123,246.6 L124,246.6 L125,246.6 L126,246.6 L127,246.6 L128,246.6 L129,246.6 L130,246.6 L131,246.6 L132,246.6 L133,246.6 L134,246.6 L135,246.6 L136,246.6 L137,246.6 L138,246.6 L139,246.6 L140,246.6 L141,246.6 L142,246.6 L143,246.6 L144,246.6 L145,246.6 L146,246.6 L147,246.6 L148,246.6 L149,246.6 L150,246.6 L151,246.6 L152,246.6 L153,246.6 L154,246.6 L155,246.6 L156,246.6 L157,246.6 L158,246.6 L159,246.6 L160,246.6 L161,246.6 L162,246.6 L163,246.6 L164,246.6 L165,246.6 L166,246.6 L167,246.6 L168,246.6 L169,246.6 L170,246.6 L171,246.6 L172,246.6 L173,246.6 L174,246.6 L175,246.6 L176,246.6 L177,246.6 L178,246.6 L179,246.6 L180,246.6 L181,246.6 L182,246.6 L183,246.6 L184,246.6 L185,246.6 L186,246.6 L187,246.6 L188,246.6 L189,246.6 L190,246.6 L191,246.6 L192,246.6 L193,246.6 L194,246.6 L195,246.6 L196,246.6 L197,246.6 L198,246.6 L199,246.6 L200,246.6 L201,246.6 L202,246.6 L203,246.6 L204,246.6 L205,246.6 L206,246.6 L207,246.6 L208,246.6 L209,246.6 L210,246.6 L211,246.6 L212,246.6 L213,246.6 L214,246.6 L215,246.6 L216,246.6 L217,246.6 L218,246.6 L219,246.6 L220,246.6 L221,246.6 L222,246.6 L223,246.6 L224,246.6 L225,246.6 L226,246.6 L227,246.6 L228,246.6 L229,246.6 L230,246.6 L231,246.6 L232,246.6 L233,246.6 L234,246.6 L235,246.6 L236,246.6 L237,246.6 L238,246.6 L239,246.6 L240,246.6 L241,246.6 L242,246.6 L243,246.6 L244,246.6 L245,246.6 L246,246.6 L247,246.6 L248,246.6 L249,246.6 L250,246.6 L251,246.6 L252,246.6 L253,246.6 L254,246.6 L255,246.6 L256,246.6 L257,246.6 L258,246.6 L259,246.6 L260,246.6 L261,246.6 L262,246.6 L263,246.6 L264,246.6 L265,246.6 L266,246.6 L267,246.6 L268,246.6 L269,246.6 L270,246.6 L271,246.6 L272,246.6 L273,246.6 L274,246.6 L275,246.6 L276,246.6 L277,246.6 L278,246.6 L279,246.6 L280,246.6 L281,246.6 L282,246.6 L283,246.6 L284,246.6 L285,246.6 L286,246.6 L287,246.6 L288,246.6 L289,246.6 L290,246.6 L291,246.6 L292,246.6 L293,246.6 L294,246.6 L295,246.6 L296,246.6 L297,246.6 L298,246.6 L299,246.6 L300,246.6 L301,246.6 L302,246.6 L303,246.6 L304,246.6 L305,246.6 L306,246.6 L307,246.6 L308,246.6 L309,246.6 L310,246.6 L311,246.6 L312,246.6 L313,246.6 L314,246.6 L315,246.6 L316,246.6 L317,246.6 L318,246.6 L319,246.6 L320,246.6 L321,246.6 L322,246.6 L323,246.6 L324,246.6 L325,246.6 L326,246.6 L327,246.6 L328,246.6 L329,246.6 L330,246.6 L331,246.6 L332,246.6 L333,246.6 L334,246.6 L335,246.6 L336,246.6 L337,246.6 L338,246.6 L339,246.6 L340,246.6 L341,246.6 L342,246.6 L343,246.6 L344,246.6 L344,247.5 L343,247.5 L342,247.5 L341,247.5 L340,247.5 L339,247.5 L338,247.5 L337,247.5 L336,247.5 L335,247.6 L334,247.6 L333,247.6 L332,247.6 L331,247.6 L330,247.6 L329,247.6 L328,247.6 L327,247.6 L326,247.7 L325,247.7 L324,247.7 L323,247.7 L322,247.7 L321,247.7 L320,247.7 L319,247.7 L318,247.8 L317,247.8 L316,247.8 L315,247.8 L314,247.8 L313,247.8 L312,247.8 L311,247.9 L310,247.9 L309,247.9 L308,247.9 L307,247.9 L306,247.9 L305,248 L304,248 L303,248 L302,248 L301,248 L300,248 L299,248.1 L298,248.1 L297,248.1 L296,248.1 L295,248.1 L294,248.2 L293,248.2 L292,248.2 L291,248.2 L290,248.3 L289,248.3 L288,248.3 L287,248.3 L286,248.3 L285,248.4 L284,248.4 L283,248.4 L282,248.4 L281,248.5 L280,248.5 L279,248.5 L278,248.5 L277,248.6 L276,248.6 L275,248.6 L274,248.7 L273,248.7 L272,248.7 L271,248.8 L270,248.8 L269,248.8 L268,248.8 L267,248.9 L266,248.9 L265,249 L264,249 L263,249 L262,249.1 L261,249.1 L260,249.1 L259,249.2 L258,249.2 L257,249.3 L256,249.3 L255,249.3 L254,249.4 L253,249.4 L252,249.5 L251,249.5 L250,249.6 L249,249.6 L248,249.7 L247,249.7 L246,249.8 L245,249.8 L244,249.9 L243,249.9 L242,250 L241,250.1 L240,250.1 L239,250.2 L238,250.3 L237,250.3 L236,250.4 L235,250.5 L234,250.5 L233,250.6 L232,250.7 L231,250.7 L230,250.8 L229,250.9 L228,251 L227,251.1 L226,251.2 L225,251.3 L224,251.3 L223,251.4 L222,251.5 L221,251.6 L220,251.7 L219,251.9 L218,252 L217,252.1 L216,252.2 L215,252.3 L214,252.4 L213,252.6 L212,252.7 L211,252.8 L210,253 L209,253.1 L208,253.3 L207,253.4 L206,253.6 L205,253.7 L204,253.9 L203,254.1 L202,254.3 L201,254.4 L200,254.6 L199,254.8 L198,255.1 L197,255.3 L196,255.5 L195,255.7 L194,256 L193,256.2 L192,256.5 L191,256.7 L190,257 L189,257.3 L188,257.6 L187,257.9 L186,258.2 L185,258.6 L184,258.9 L183,259.3 L182,259.7 L181,260.1 L180,260.5 L179,260.9 L178,261.4 L177,261.8 L176,262.3 L175,262.8 L174,263.4 L173,263.9 L172,264.5 L171,265.1 L170,265.8 L169,266.5 L168,267.2 L167,267.9 L166,268.7 L165,269.5 L164,270.4 L163,271.3 L162,272.2 L161,273.2 L160,274.3 L159,275.4 L158,276.5 L157,277.7 L156,279 L155,280.4 L154,281.8 L153,283.3 L152,284.8 L151,286.5 L150,288.2 L149,290 L148,291.9 L147,293.9 L146,296 L145,298.1 L144,300.4 L143,302.8 L142,305.2 L141,307.8 L140,310.4 L139,313.1 L138,315.8 L137,318.6 L136,321.4 L135,324.2 L134,326.9 L133,329.6 L132,332.2 L131,334.6 L130,336.9 L129,338.8 L128,340.5 L127,341.9 L126,342.9 L125,343.5 L124,343.6 L123,343.4 L122,342.7 L121,341.6 L120,340.2 L119,338.5 L118,336.4 L117,334.2 L116,331.7 L115,329.1 L114,326.4 L113,323.6 L112,320.8 L111,318 L110,315.3 L109,312.5 L108,309.9 L107,307.3 L106,304.7 L105,302.3 L104,300 L103,297.7 L102,295.5 L101,293.5 L100,291.5 L99,289.6 L98,287.8 L97,286.1 L96,284.5 L95,282.9 L94,281.5 L93,280.1 L92,278.7 L91,277.5 L90,276.3 L89,275.1 L88,274 L87,273 L86,272 L85,271.1 L84,270.2 L83,269.3 L82,268.5 L81,267.8 L80,267 L79,266.3 L78,265.7 L77,265 L76,264.4 L75,263.8 L74,263.3 L73,262.7 L72,262.2 L71,261.7 L70,261.3 L69,260.8 L68,260.4 L67,260 L66,259.6 L65,259.2 L64,258.9 L63,258.5 L62,258.2 L61,257.8 L60,257.5 L59,257.2 L58,257 L57,256.7 L56,256.4 L55,256.2 L54,255.9 L53,255.7 L52,255.4 L51,255.2 L50,255 L49,254.8 L48,254.6 L47,254.4 L46,254.2 L45,254 L44,253.9 L43,253.7 L42,253.5 L41,253.4 L40,253.2 L39,253.1 L38,252.9 L37,252.8 L36,252.7 L35,252.5 L34,252.4 L33,252.3 L32,252.2 L31,252.1 L30,251.9Z" fill="#b02cc0" fill-opacity="1.0"/></g><clipPath id="vclip"><path d="M30,543 L30,296 L31,295.9 L32,295.8 L33,295.6 L34,295.5 L35,295.4 L36,295.3 L37,295.1 L38,295 L39,294.9 L40,294.8 L41,294.7 L42,294.5 L43,294.4 L44,294.3 L45,294.2 L46,294.1 L47,293.9 L48,293.8 L49,293.7 L50,293.6 L51,293.4 L52,293.3 L53,293.2 L54,293.1 L55,293 L56,292.8 L57,292.7 L58,292.6 L59,292.5 L60,292.3 L61,292.2 L62,292.1 L63,292 L64,291.9 L65,291.7 L66,291.6 L67,291.5 L68,291.4 L69,291.2 L70,291.1 L71,291 L72,290.9 L73,290.8 L74,290.6 L75,290.5 L76,290.4 L77,290.3 L78,290.2 L79,290 L80,289.9 L81,289.8 L82,289.7 L83,289.5 L84,289.4 L85,289.3 L86,289.2 L87,289.1 L88,288.9 L89,288.8 L90,288.7 L91,288.6 L92,288.4 L93,288.3 L94,288.2 L95,288.1 L96,288 L97,287.8 L98,287.7 L99,287.6 L100,287.5 L101,287.4 L102,287.2 L103,287.1 L104,287 L105,286.9 L106,286.7 L107,286.6 L108,286.5 L109,286.4 L110,286.3 L111,286.1 L112,286 L113,285.9 L114,285.8 L115,285.6 L116,285.5 L117,285.4 L118,285.3 L119,285.2 L120,285 L121,284.9 L122,284.8 L123,284.7 L124,284.6 L125,284.4 L126,284.3 L127,284.2 L128,284.1 L129,283.9 L130,283.8 L131,283.7 L132,283.6 L133,283.5 L134,283.3 L135,283.2 L136,283.1 L137,283 L138,282.8 L139,282.7 L140,282.6 L141,282.5 L142,282.4 L143,282.2 L144,282.1 L145,282 L146,281.9 L147,281.7 L148,281.6 L149,281.5 L150,281.4 L151,281.3 L152,281.1 L153,281 L154,280.9 L155,280.8 L156,280.7 L157,280.5 L158,280.4 L159,280.3 L160,280.2 L161,280 L162,279.9 L163,279.8 L164,279.7 L165,279.6 L166,279.4 L167,279.3 L168,279.2 L169,279.1 L170,278.9 L171,278.8 L172,278.7 L173,278.6 L174,278.5 L175,278.3 L176,278.2 L177,278.1 L178,278 L179,277.9 L180,277.7 L181,277.6 L182,277.5 L183,277.4 L184,277.2 L185,277.1 L186,277 L187,276.9 L188,276.8 L189,276.6 L190,276.5 L191,276.4 L192,276.3 L193,276.1 L194,276 L195,275.9 L196,275.8 L197,275.7 L198,275.5 L199,275.4 L200,275.3 L201,275.2 L202,275.1 L203,274.9 L204,274.8 L205,274.7 L206,274.6 L207,274.4 L208,274.3 L209,274.2 L210,274.1 L211,274 L212,273.8 L213,273.7 L214,273.6 L215,273.5 L216,273.3 L217,273.2 L218,273.1 L219,273 L220,272.9 L221,272.7 L222,272.6 L223,272.5 L224,272.4 L225,272.2 L226,272.1 L227,272 L228,271.9 L229,271.8 L230,271.6 L231,271.5 L232,271.4 L233,271.3 L234,271.2 L235,271 L236,270.9 L237,270.8 L238,270.7 L239,270.5 L240,270.4 L241,270.3 L242,270.2 L243,270.1 L244,269.9 L245,269.8 L246,269.7 L247,269.6 L248,269.4 L249,269.3 L250,269.2 L251,269.1 L252,269 L253,268.8 L254,268.7 L255,268.6 L256,268.5 L257,268.4 L258,268.2 L259,268.1 L260,268 L261,267.9 L262,267.7 L263,267.6 L264,267.5 L265,267.4 L266,267.3 L267,267.1 L268,267 L269,266.9 L270,266.8 L271,266.7 L272,266.5 L273,266.4 L274,266.3 L275,266.2 L276,266 L277,265.9 L278,265.8 L279,265.7 L280,265.6 L281,265.4 L282,265.3 L283,265.2 L284,265.1 L285,265 L286,264.8 L287,264.7 L288,264.6 L289,264.5 L290,264.3 L291,264.2 L292,264.1 L293,264 L294,263.9 L295,263.7 L296,263.6 L297,263.5 L298,263.4 L299,263.3 L300,263.1 L301,263 L302,262.9 L303,262.8 L304,262.6 L305,262.5 L306,262.4 L307,262.3 L308,262.2 L309,262 L310,261.9 L311,261.8 L312,261.7 L313,261.6 L314,261.4 L315,261.3 L316,261.2 L317,261.1 L318,261 L319,260.8 L320,260.7 L321,260.6 L322,260.5 L323,260.4 L324,260.2 L325,260.1 L326,260 L327,259.9 L328,259.8 L329,259.6 L330,259.5 L331,259.4 L332,259.3 L333,259.2 L334,259 L335,258.9 L336,258.8 L337,258.7 L338,258.6 L339,258.4 L340,258.3 L341,258.2 L342,258.1 L343,258 L344,257.9 L345,257.7 L345,543Z"/></clipPath><clipPath id="vclip3"><rect x="30" y="200" width="135" height="300"/></clipPath><g clip-path="url(#vclip)"><path clip-path="url(#vclip3)" d="M30,347.2 C32.2,347.9 39.9,349 43.2,351.8 C46.5,354.5 47.3,356.7 49.9,363.6 C52.5,370.6 55.6,382.2 58.7,393.7 C61.8,405.2 65.6,430.8 68.6,432.8 C71.5,434.8 73.8,418.2 76.4,405.9 C79,393.7 81.8,370 84,359.3 C86.2,348.6 88.1,350.9 89.6,341.8 C91.1,332.7 90.3,312.9 93,304.8 C95.7,296.6 102,295.3 105.9,293 C109.8,290.7 112.8,292.1 116.5,291.2 C120.2,290.4 124.7,291 128,287.8 C131.3,284.6 133.9,270 136.4,272 C138.9,274.1 141.3,292.4 143,300 C144.7,307.6 145.3,311.5 146.5,317.8 C147.7,324.1 149,336.9 150.3,338 C151.7,339.1 153.2,332.4 154.6,324.4 C156,316.3 157.3,298.5 158.6,289.8 C159.9,281.2 160.7,277.5 162.5,272.3 C164.3,267.2 165.9,256.8 169.3,259.1 C172.7,261.4 178.6,284.2 182.8,286.2 C186.9,288.1 190.6,274.7 194,270.7 C197.4,266.8 200,264.5 203,262.6 C206,260.6 208.4,261.9 212,258.9 C215.6,256 221,247.1 224.4,244.6 C227.8,242.1 229.6,242.3 232.2,243.7 C234.9,245.2 233,250.7 240.1,253.2 C247.2,255.7 262.5,257 275,258.6 C287.5,260.3 307.1,261.4 315,263 C322.9,264.6 320,267.4 322.5,268.2 C325,269.1 327.5,267.2 330,268.1 C332.5,269 335,273.6 337.5,273.8 C340,274 342,268 345,269.5 C348,271.1 352.8,280.9 355.5,283 C358.2,285 359.5,281.4 361.5,282 C363.5,282.6 364.8,287.3 367.5,286.6 C370.2,285.8 375,280.6 378,277.6 C381,274.6 383.2,273.7 385.5,268.5 C387.8,263.3 389.8,252.7 391.5,246.4 C393.2,240.1 394,233.4 396,230.7 C398,228 401,228.3 403.5,230.3 C406,232.3 409,238.5 411,242.8 C413,247 413.9,248.3 415.5,255.7 C417.1,263.2 418.9,274.6 420.6,287.4 C422.3,300.1 423.9,327.5 425.8,332.2 C427.7,337 430.3,321.6 432.2,316 C434.1,310.4 436.1,304.6 437.4,298.8 C438.7,292.9 439.1,285 440,280.8 C440.9,276.6 440,278.8 442.5,273.5 C445,268.2 451.3,251.6 454.8,249.2 C458.3,246.8 459.8,259.3 463.7,258.9 C467.6,258.6 474.7,249.9 478.3,247 C481.9,244.1 482.4,241 485.2,241.3 C488,241.5 493,244.7 495.3,248.7 C497.6,252.6 497.7,257.1 499.2,264.8 C500.7,272.5 501.8,286.4 504.4,294.9 C507,303.4 511.9,315.4 514.7,316 C517.5,316.5 519.2,309.9 521.1,298.1 C523,286.3 524.9,257.1 526.3,245.1 C527.7,233.2 528.2,230.2 529.5,226.4 C530.8,222.5 532.6,220.8 534,222.1 C535.4,223.3 536.4,228.2 537.7,233.9 C539,239.6 540.3,251.5 541.6,256.3 C542.9,261 544.4,261.4 545.5,262.4 C546.6,263.4 546.7,262.8 548,262.3 C549.3,261.9 551,260.8 553.2,259.5 C555.4,258.3 558.9,256.8 561,254.7 C563.1,252.7 563.4,252 566,247.3 C568.6,242.6 574,231.4 576.4,226.5 C578.8,221.5 579,220.2 580.3,217.7 C581.6,215.2 582.8,211.7 584.1,211.5 C585.4,211.3 586.8,217.4 588,216.7 C589.2,216.1 589.8,204.3 591.3,207.7 C592.8,211 595.6,230 597,236.8 C598.4,243.5 599,244.5 599.6,248.2 C600.2,251.8 600,252.4 600.9,258.8 C601.8,265.1 603.4,279.3 604.7,286.3 C606,293.3 607.3,297.6 608.6,300.7 C609.9,303.9 611.4,304.6 612.5,305.1 C613.6,305.6 613.9,303.2 615,303.8 C616.1,304.3 617.8,308.3 618.9,308.5 C620,308.6 620.6,308.8 621.5,304.6 C622.4,300.4 623.1,290.8 624,283.2 C624.9,275.6 625.5,270 626.7,259.1 C627.9,248.1 629.6,226.1 631,217.5 C632.4,208.8 633.6,209.3 635,207.1 C636.4,204.9 637.8,201.8 639.3,204.2 C640.8,206.5 642.8,214.7 644.3,221.2 C645.8,227.6 647,239.2 648.5,242.9 C650,246.6 651.4,241.5 653.1,243.5 C654.8,245.5 657.1,252.8 658.7,254.9 C660.3,257 661.2,257.3 662.8,256.2 C664.4,255.1 666.4,249.1 668.3,248.2 C670.1,247.4 672.3,251.2 673.9,250.9 C675.5,250.6 676.6,246.7 678,246.6 C679.4,246.5 680.6,250.2 682.2,250.4 C683.8,250.6 685.9,248.4 687.7,247.6 C689.5,246.8 691.1,246.7 693.2,245.7 C695.3,244.7 697.8,241.8 700.1,241.6 C702.4,241.3 704.9,238.8 707,244.2 C709.1,249.5 711.2,265.5 712.5,273.5 C713.8,281.4 713.9,286.8 714.5,291.8 C715.1,296.9 715.2,305.3 715.9,303.8 C716.6,302.4 717.6,300.3 718.8,283.1 C719.9,265.9 721,219.4 722.8,200.7 C724.6,182 727.7,175 729.7,171.1 C731.7,167.1 733.1,170.6 735,176.9 C736.9,183.3 739,198 741,209.3 C743,220.7 745.7,234.3 747.1,245.2 C748.5,256.2 748.4,270.6 749.5,275.2 C750.6,279.8 752.3,273.8 753.8,272.9 C755.2,272 757.1,269.4 758.4,269.6 C759.7,269.8 760.5,277.2 761.6,274 C762.7,270.7 763.7,255.8 764.7,249.9 C765.7,243.9 766.8,238.4 767.8,238.2 C768.8,237.9 770,243.2 771,248.4 C772,253.7 773.1,263.6 774,269.7 C774.9,275.8 775.6,286.6 776.6,284.9 C777.6,283.1 779.2,264.6 780.3,259 C781.4,253.3 782.3,252.1 783.4,250.9 C784.5,249.7 786.4,251.8 787,252" fill="none" stroke="#d02828" stroke-width="1.8" stroke-opacity="0.9"/></g><clipPath id="vclip2"><rect x="30" y="280" width="70" height="200"/></clipPath><g clip-path="url(#vclip)"><g clip-path="url(#vclip2)"><path d="M30,343.2 C32.2,343.8 39.9,344.1 43.2,346.5 C46.5,348.9 47.3,350.9 49.9,357.5 C52.5,364.1 55.6,375.1 58.7,386 C61.8,396.9 65.6,421.5 68.6,422.6 C71.5,423.7 73.8,406.2 76.4,392.8 C79,379.4 81.8,354.1 84,342 C86.2,329.9 88.1,330.4 89.6,320 C91.1,309.6 90.3,292.1 93,279.5 C95.7,266.9 102,256.8 105.9,244.6 C109.8,232.4 112.8,215.8 116.5,206.5 C120.2,197.2 124.7,190 128,188.9 C131.3,187.8 133.9,190.6 136.4,199.9 C138.9,209.2 141.3,233.2 143,244.6 C144.7,255.9 145.3,260.1 146.5,268 C147.7,275.9 149,290 150.3,292 C151.7,294 153.2,287.9 154.6,280 C156,272.1 157.3,253.9 158.6,244.6 C159.9,235.3 160.7,231.6 162.5,224 C164.3,216.4 165.9,204.8 169.3,199.2 C172.7,193.7 178.6,191.1 182.8,190.7 C186.9,190.3 190.6,192.6 194,197 C197.4,201.4 200,211.6 203,217.2 C206,222.9 208.4,228.9 212,230.8 C215.6,232.6 221,228.3 224.4,228.5 C227.8,228.7 229.6,229.3 232.2,231.9 C234.9,234.5 233,240.2 240.1,244.2 C247.2,248.3 262.5,252.7 275,256 C287.5,259.3 307.1,261.9 315,264.2 C322.9,266.6 320,269.1 322.5,270.2 C325,271.4 327.5,269.8 330,271 C332.5,272.2 335,277.1 337.5,277.8 C340,278.4 342,272.6 345,274.8 C348,276.9 352.8,287.8 355.5,290.5 C358.2,293.2 359.5,290 361.5,291.2 C363.5,292.5 364.8,297.5 367.5,298 C370.2,298.5 375,295.5 378,294.2 C381,293 383.2,293.9 385.5,290.5 C387.8,287.1 389.8,278.5 391.5,274 C393.2,269.5 394,263.5 396,263.5 C398,263.5 401,268 403.5,274 C406,280 409,291.8 411,299.5 C413,307.2 413.9,310.4 415.5,320 C417.1,329.6 418.9,343.8 420.6,357.3 C422.3,370.8 423.9,399 425.8,401.1 C427.7,403.2 430.3,381.8 432.2,370.2 C434.1,358.6 436.1,343.1 437.4,331.5 C438.7,319.9 439.1,309.2 440,300.6 C440.9,292 440,299.4 442.5,280 C445,260.6 451.3,204.3 454.8,184 C458.3,163.7 459.8,156.6 463.7,158 C467.6,159.4 474.7,181.6 478.3,192.4 C481.9,203.2 482.4,208.2 485.2,222.8 C488,237.4 493,264.9 495.3,280 C497.6,295.1 497.7,299.8 499.2,313.5 C500.7,327.2 501.8,349.2 504.4,362.5 C507,375.8 511.9,393 514.7,393.4 C517.5,393.8 519.2,380.5 521.1,365 C523,349.5 524.9,315.6 526.3,300.6 C527.7,285.6 528.2,281.4 529.5,275 C530.8,268.6 532.6,263.2 534,262 C535.4,260.8 536.4,263.9 537.7,267.6 C539,271.3 540.3,281.4 541.6,284.4 C542.9,287.4 544.4,285.9 545.5,285.7 C546.6,285.5 546.7,284.7 548,283 C549.3,281.3 551,278.4 553.2,275.4 C555.4,272.4 558.9,268.4 561,265 C563.1,261.6 563.4,260.7 566,254.7 C568.6,248.7 574,235 576.4,229 C578.8,223 579,221.7 580.3,218.7 C581.6,215.7 582.8,211.7 584.1,211 C585.4,210.3 586.8,215.9 588,214.8 C589.2,213.7 589.8,201.7 591.3,204.5 C592.8,207.3 595.6,225.3 597,231.5 C598.4,237.7 599,238.5 599.6,241.9 C600.2,245.3 600,246 600.9,252 C601.8,258 603.4,271.5 604.7,278 C606,284.5 607.3,288.2 608.6,290.8 C609.9,293.4 611.4,293.4 612.5,293.4 C613.6,293.4 613.9,290.8 615,290.8 C616.1,290.8 617.8,293.9 618.9,293.4 C620,292.9 620.6,292.7 621.5,288 C622.4,283.3 623.1,273.2 624,265 C624.9,256.8 625.5,250.8 626.7,239 C627.9,227.2 629.6,203.8 631,194 C632.4,184.2 633.6,183.6 635,180 C636.4,176.4 637.8,171.9 639.3,172.4 C640.8,172.9 642.8,178.6 644.3,182.9 C645.8,187.2 647,196.8 648.5,198 C650,199.2 651.4,191.5 653.1,189.8 C654.8,188.1 657.1,189.9 658.7,187.8 C660.3,185.7 661.2,183.4 662.8,177.3 C664.4,171.2 666.4,158.2 668.3,151.1 C670.1,144 672.3,139.8 673.9,134.5 C675.5,129.2 676.6,121.9 678,119.3 C679.4,116.7 680.6,118.1 682.2,118.8 C683.8,119.5 685.9,120.2 687.7,123.5 C689.5,126.8 691.1,132.9 693.2,138.7 C695.3,144.4 697.8,151.1 700.1,158 C702.4,164.9 704.9,169.5 707,180.1 C709.1,190.7 711.2,210.9 712.5,221.5 C713.8,232.1 713.9,237.5 714.5,243.6 C715.1,249.7 715.2,258.3 715.9,258 C716.6,257.7 717.6,257.3 718.8,241.8 C719.9,226.3 721,181.4 722.8,164.8 C724.6,148.2 727.7,144.5 729.7,142.5 C731.7,140.5 733.1,144.9 735,152.7 C736.9,160.4 739,174.2 741,189 C743,203.8 745.7,228 747.1,241.8 C748.5,255.6 748.4,267.3 749.5,272 C750.6,276.7 752.3,270.8 753.8,270 C755.2,269.2 757.1,268.3 758.4,267 C759.7,265.7 760.5,266.7 761.6,262 C762.7,257.3 763.7,244.4 764.7,238.8 C765.7,233.1 766.8,227.8 767.8,227.8 C768.8,227.8 770,233.3 771,238.8 C772,244.2 773.1,254.4 774,260.6 C774.9,266.9 775.6,277.9 776.6,276.2 C777.6,274.6 779.2,256.5 780.3,251 C781.4,245.5 782.3,244.4 783.4,243.4 C784.5,242.4 786.4,244.7 787,245" fill="none" stroke="#a81c1c" stroke-width="1.8" stroke-opacity="0.9"/></g></g><path d="M30,325.3 L31,325 L32,324.7 L33,324.4 L34,324.1 L35,323.8 L36,323.6 L37,323.3 L38,323.1 L39,322.8 L40,322.6 L41,322.4 L42,322.1 L43,321.9 L44,321.7 L45,321.5 L46,321.3 L47,321.2 L48,321 L49,320.8 L50,320.7 L51,320.6 L52,320.4 L53,320.3 L54,320.2 L55,320.1 L56,320 L57,320 L58,319.9 L59,319.9 L60,319.8 L61,319.8 L62,319.8 L63,319.8 L64,319.9 L65,319.9 L66,320 L67,320.1 L68,320.2 L69,320.3 L70,320.4 L71,320.6 L72,320.8 L73,321 L74,321.2 L75,321.5 L76,321.8 L77,322.1 L78,322.4 L79,322.8 L80,323.2 L81,323.7 L82,324.2 L83,324.7 L84,325.3 L85,325.9 L86,326.5 L87,327.2 L88,328 L89,328.8 L90,329.7 L91,330.6 L92,331.6 L93,332.6 L94,333.7 L95,334.9 L96,336.2 L97,337.5 L98,339 L99,340.5 L100,342.1 L101,343.7 L102,345.5 L103,347.4 L104,349.3 L105,351.4 L106,353.5 L107,355.8 L108,358.1 L109,360.5 L110,362.9 L111,365.4 L112,367.9 L113,370.4 L114,372.9 L115,375.4 L116,377.7 L117,380 L118,382.1 L119,383.9 L120,385.5 L121,386.9 L122,387.8 L123,388.5 L124,388.7 L125,388.6 L126,388.1 L127,387.3 L128,386.1 L129,384.6 L130,382.9 L131,380.9 L132,378.8 L133,376.6 L134,374.3 L135,371.9 L136,369.5 L137,367.2 L138,364.8 L139,362.6 L140,360.4 L141,358.3 L142,356.3 L143,354.4 L144,352.6 L145,351 L146,349.5 L147,348.1 L148,346.8 L149,345.6 L150,344.6 L151,343.7 L152,343 L153,342.3 L154,341.8 L155,341.4 L156,341.2 L157,341.1 L158,341.1 L159,341.2 L160,341.5 L161,341.9 L162,342.4 L163,343.1 L164,343.9 L165,344.8 L166,345.9 L167,347.1 L168,348.4 L169,349.8 L170,351.4 L171,353 L172,354.7 L173,356.5 L174,358.3 L175,360.1 L176,362.1 L177,364 L178,365.7 L179,367.2 L180,368.4 L181,369.4 L182,370 L183,370.3 L184,370.3 L185,369.9 L186,369.1 L187,368.1 L188,366.8 L189,365.2 L190,363.5 L191,361.6 L192,359.6 L193,357.5 L194,355.3 L195,353.1 L196,350.9 L197,348.7 L198,346.6 L199,344.4 L200,342.3 L201,339.9 L202,337.5 L203,335.1 L204,332.8 L205,330.5 L206,328.3 L207,326.1 L208,323.9 L209,321.9 L210,319.8 L211,317.9 L212,316 L213,314.1 L214,312.4 L215,310.6 L216,309 L217,307.4 L218,305.8 L219,304.4 L220,302.9 L221,301.6 L222,300.2 L223,299 L224,297.8 L225,296.6 L226,295.5 L227,294.4 L228,293.4 L229,292.4 L230,291.5 L231,290.6 L232,289.8 L233,289 L234,288.2 L235,287.4 L236,286.7 L237,286.1 L238,285.4 L239,284.8 L240,284.3 L241,283.7 L242,283.2 L243,282.7 L244,282.2 L245,281.8 L246,281.3 L247,280.9 L248,280.5 L249,280.2 L250,279.8 L251,279.4 L252,279.1 L253,278.7 L254,278.4 L255,278.1 L256,277.8 L257,277.5 L258,277.2 L259,276.9 L260,276.6 L261,276.3 L262,276 L263,275.8 L264,275.5 L265,275.2 L266,274.9 L267,274.6 L268,274.4 L269,274.1 L270,273.8 L271,273.5 L272,273.3 L273,273 L274,272.7 L275,272.4 L276,272.1 L277,271.9 L278,271.6 L279,271.3 L280,271 L281,270.8 L282,270.5 L283,270.2 L284,269.9 L285,269.7 L286,269.4 L287,269.1 L288,268.8 L289,268.6 L290,268.3 L291,268 L292,267.8 L293,267.5 L294,267.2 L295,267 L296,266.7 L297,266.4 L298,266.2 L299,265.9 L300,265.6 L301,265.4 L302,265.1 L303,264.9 L304,264.6 L305,264.3 L306,264.1 L307,263.8 L308,263.6 L309,263.3 L310,263 L311,262.8 L312,262.5 L313,262.3 L314,262 L315,261.7 L316,261.5 L317,261.2 L318,261 L319,260.7 L320,260.4 L321,260.2 L322,259.9 L323,259.7 L324,259.6 L325,259.5 L326,259.3 L327,259.2 L328,259.1 L329,259 L330,258.8 L331,258.7 L332,258.6 L333,258.5 L334,258.3 L335,258.2 L336,258.1 L337,258 L338,257.9 L339,257.7 L340,257.6 L341,257.5 L342,257.4 L343,257.2 L344,257.1" fill="none" stroke="#2a8a88" stroke-width="2"/><linearGradient id="b1g" gradientUnits="userSpaceOnUse" x1="30" y1="0" x2="432" y2="0"><stop offset="0" stop-color="#9c8c8c"/><stop offset="0.4" stop-color="#9c8c8c"/><stop offset="0.55" stop-color="#a89a60"/><stop offset="0.75" stop-color="#a09058"/><stop offset="0.9" stop-color="#8a5cb0"/><stop offset="1" stop-color="#7040b0"/></linearGradient><path d="M30,295.6 L31,295.5 L32,295.4 L33,295.2 L34,295.1 L35,295 L36,294.9 L37,294.7 L38,294.6 L39,294.5 L40,294.4 L41,294.3 L42,294.1 L43,294 L44,293.9 L45,293.8 L46,293.7 L47,293.5 L48,293.4 L49,293.3 L50,293.2 L51,293 L52,292.9 L53,292.8 L54,292.7 L55,292.6 L56,292.4 L57,292.3 L58,292.2 L59,292.1 L60,291.9 L61,291.8 L62,291.7 L63,291.6 L64,291.5 L65,291.3 L66,291.2 L67,291.1 L68,291 L69,290.8 L70,290.7 L71,290.6 L72,290.5 L73,290.4 L74,290.2 L75,290.1 L76,290 L77,289.9 L78,289.8 L79,289.6 L80,289.5 L81,289.4 L82,289.3 L83,289.1 L84,289 L85,288.9 L86,288.8 L87,288.7 L88,288.5 L89,288.4 L90,288.3 L91,288.2 L92,288 L93,287.9 L94,287.8 L95,287.7 L96,287.6 L97,287.4 L98,287.3 L99,287.2 L100,287.1 L101,287 L102,286.8 L103,286.7 L104,286.6 L105,286.5 L106,286.3 L107,286.2 L108,286.1 L109,286 L110,285.9 L111,285.7 L112,285.6 L113,285.5 L114,285.4 L115,285.2 L116,285.1 L117,285 L118,284.9 L119,284.8 L120,284.6 L121,284.5 L122,284.4 L123,284.3 L124,284.2 L125,284 L126,283.9 L127,283.8 L128,283.7 L129,283.5 L130,283.4 L131,283.3 L132,283.2 L133,283.1 L134,282.9 L135,282.8 L136,282.7 L137,282.6 L138,282.4 L139,282.3 L140,282.2 L141,282.1 L142,282 L143,281.8 L144,281.7 L145,281.6 L146,281.5 L147,281.3 L148,281.2 L149,281.1 L150,281 L151,280.9 L152,280.7 L153,280.6 L154,280.5 L155,280.4 L156,280.3 L157,280.1 L158,280 L159,279.9 L160,279.8 L161,279.6 L162,279.5 L163,279.4 L164,279.3 L165,279.2 L166,279 L167,278.9 L168,278.8 L169,278.7 L170,278.5 L171,278.4 L172,278.3 L173,278.2 L174,278.1 L175,277.9 L176,277.8 L177,277.7 L178,277.6 L179,277.5 L180,277.3 L181,277.2 L182,277.1 L183,277 L184,276.8 L185,276.7 L186,276.6 L187,276.5 L188,276.4 L189,276.2 L190,276.1 L191,276 L192,275.9 L193,275.7 L194,275.6 L195,275.5 L196,275.4 L197,275.3 L198,275.1 L199,275 L200,274.9 L201,274.8 L202,274.7 L203,274.5 L204,274.4 L205,274.3 L206,274.2 L207,274 L208,273.9 L209,273.8 L210,273.7 L211,273.6 L212,273.4 L213,273.3 L214,273.2 L215,273.1 L216,272.9 L217,272.8 L218,272.7 L219,272.6 L220,272.5 L221,272.3 L222,272.2 L223,272.1 L224,272 L225,271.8 L226,271.7 L227,271.6 L228,271.5 L229,271.4 L230,271.2 L231,271.1 L232,271 L233,270.9 L234,270.8 L235,270.6 L236,270.5 L237,270.4 L238,270.3 L239,270.1 L240,270 L241,269.9 L242,269.8 L243,269.7 L244,269.5 L245,269.4 L246,269.3 L247,269.2 L248,269 L249,268.9 L250,268.8 L251,268.7 L252,268.6 L253,268.4 L254,268.3 L255,268.2 L256,268.1 L257,268 L258,267.8 L259,267.7 L260,267.6 L261,267.5 L262,267.3 L263,267.2 L264,267.1 L265,267 L266,266.9 L267,266.7 L268,266.6 L269,266.5 L270,266.4 L271,266.3 L272,266.1 L273,266 L274,265.9 L275,265.8 L276,265.6 L277,265.5 L278,265.4 L279,265.3 L280,265.2 L281,265 L282,264.9 L283,264.8 L284,264.7 L285,264.6 L286,264.4 L287,264.3 L288,264.2 L289,264.1 L290,263.9 L291,263.8 L292,263.7 L293,263.6 L294,263.5 L295,263.3 L296,263.2 L297,263.1 L298,263 L299,262.9 L300,262.7 L301,262.6 L302,262.5 L303,262.4 L304,262.2 L305,262.1 L306,262 L307,261.9 L308,261.8 L309,261.6 L310,261.5 L311,261.4 L312,261.3 L313,261.2 L314,261 L315,260.9 L316,260.8 L317,260.7 L318,260.6 L319,260.4 L320,260.3 L321,260.2 L322,260.1 L323,260 L324,259.8 L325,259.7 L326,259.6 L327,259.5 L328,259.4 L329,259.2 L330,259.1 L331,259 L332,258.9 L333,258.8 L334,258.6 L335,258.5 L336,258.4 L337,258.3 L338,258.2 L339,258 L340,257.9 L341,257.8 L342,257.7 L343,257.6 L344,257.5 L345,257.3 L346,257.2 L347,257.1 L348,257 L349,256.9 L350,256.8 L351,256.6 L352,256.5 L353,256.4 L354,256.3 L355,256.2 L356,256.1 L357,255.9 L358,255.8 L359,255.7 L360,255.6 L361,255.5 L362,255.4 L363,255.3 L364,255.1 L365,255 L366,254.9 L367,254.8 L368,254.7 L369,254.6 L370,254.5 L371,254.4 L372,254.2 L373,254.1 L374,254 L375,253.9 L376,253.8 L377,253.7 L378,253.6 L379,253.5 L380,253.4 L381,253.3 L382,253.2 L383,253.1 L384,253 L385,252.9 L386,252.8 L387,252.6 L388,252.5 L389,252.4 L390,252.3 L391,252.2 L392,252.1 L393,252.1 L394,252 L395,251.9 L396,251.8 L397,251.7 L398,251.6 L399,251.5 L400,251.4 L401,251.3 L402,251.2 L403,251.1 L404,251 L405,250.9 L406,250.9 L407,250.8 L408,250.7 L409,250.6 L410,250.5 L411,250.4 L412,250.4 L413,250.3 L414,250.2 L415,250.1 L416,250.1 L417,250 L418,249.9 L419,249.8 L420,249.8 L421,249.7 L422,249.6 L423,249.6 L424,249.5 L425,249.4 L426,249.4 L427,249.3 L428,249.2 L429,249.2 L430,249.1 L431,249.1" fill="none" stroke="url(#b1g)" stroke-width="2" stroke-opacity="0.9"/><path d="M330,240.2 L331,240.1 L332,239.9 L333,239.8 L334,239.6 L335,239.5 L336,239.3 L337,239.1 L338,239 L339,238.8 L340,238.6 L341,238.4 L342,238.3 L343,238.1 L344,237.9 L345,237.7 L346,237.4 L347,237.2 L348,237 L349,236.8 L350,236.5 L351,236.3 L352,236 L353,235.7 L354,235.5 L355,235.2 L356,234.9 L357,234.6 L358,234.3 L359,233.9 L360,233.6 L361,233.2 L362,232.9 L363,232.5 L364,232.1 L365,231.7 L366,231.3 L367,230.8 L368,230.4 L369,229.9 L370,229.4 L371,228.9 L372,228.4 L373,227.9 L374,227.3 L375,226.7 L376,226.1 L377,225.5 L378,224.8 L379,224.2 L380,223.4 L381,222.7 L382,221.9 L383,221.2 L384,220.3 L385,219.5 L386,218.6 L387,217.7 L388,216.7 L389,215.7 L390,214.7 L391,213.6 L392,212.5 L393,211.4 L394,210.2 L395,209 L396,207.7 L397,206.4 L398,205.1 L399,203.7 L400,202.3 L401,200.8 L402,199.3 L403,197.8 L404,196.2 L405,194.6 L406,193 L407,191.4 L408,189.7 L409,188.1 L410,186.5 L411,184.9 L412,183.3 L413,181.8 L414,180.4 L415,179 L416,177.8 L417,176.6 L418,175.7 L419,174.9 L420,174.3 L421,173.9 L422,173.7 L423,173.9 L424,174.3 L425,175 L426,176.1 L427,177.4 L428,179.1 L429,181.1 L430,183.5 L431,186.1 L432,189.1 L433,192.3 L434,195.9 L435,199.6 L436,203.7 L437,207.9 L438,212.4 L439,217 L440,221.8 L441,226.8 L442,231.9 L443,237.1 L444,242.5 L445,247.9 L446,253.5 L447,259.2 L448,264.9 L449,270.7 L450,276.6 L451,282.4 L452,288.3 L453,294.2 L454,300 L455,305.6 L456,311.1 L457,316.4 L458,321.4 L459,326 L460,330.2 L461,333.8 L462,336.7 L463,338.9 L464,340.3 L465,341 L466,340.7 L467,339.7 L468,338 L469,335.5 L470,332.4 L471,328.8 L472,324.7 L473,320.3 L474,315.7 L475,310.8 L476,305.8 L477,300.6 L478,295.4 L479,290.2 L480,285 L481,279.7 L482,274.5 L483,269.4 L484,264.2 L485,259.1 L486,254.1 L487,249.1 L488,244.2 L489,239.3 L490,234.4 L491,229.6 L492,224.9 L493,220.3 L494,215.7 L495,211.2 L496,206.8 L497,202.5 L498,198.3 L499,194.3 L500,190.5 L501,186.8 L502,183.3 L503,180.1 L504,177.2 L505,174.5 L506,172.2 L507,170.2 L508,168.5 L509,167.2 L510,166.3 L511,165.7 L512,165.5 L513,165.6 L514,166.1 L515,166.8 L516,167.8 L517,169 L518,170.5 L519,172.1 L520,173.8 L521,175.7 L522,177.6 L523,179.6 L524,181.7 L525,183.7 L526,185.8 L527,187.9 L528,190 L529,192 L530,194 L531,196 L532,197.9 L533,199.8 L534,201.6 L535,203.4 L536,205.1 L537,206.7 L538,208.3 L539,209.9 L540,211.4 L541,212.8 L542,214.2 L543,215.6 L544,216.8 L545,218.1 L546,219.3 L547,220.4 L548,221.5 L549,222.6 L550,223.6 L551,224.6 L552,225.6 L553,226.5 L554,227.4 L555,228.2 L556,229.1 L557,229.9 L558,230.6 L559,231.4 L560,232.1 L561,232.8 L562,233.5 L563,234.1 L564,234.8 L565,235.4 L566,236 L567,236.6 L568,237.1 L569,237.7 L570,238.2 L571,238.8 L572,239.3 L573,239.8 L574,240.3 L575,240.8 L576,241.2 L577,241.7 L578,242.1 L579,242.6 L580,243 L581,243.5 L582,243.9 L583,244.3 L584,244.7 L585,245.2 L586,245.6 L587,246 L588,246.4 L589,246.8 L590,247.2 L591,247.6 L592,248 L593,248.4 L594,248.8 L595,249.2 L596,249.6 L597,250 L598,250.4 L599,250.8 L600,251.2 L601,251.7 L602,252.1 L603,252.5 L604,252.9 L605,253.4 L606,253.8 L607,254.3 L608,254.7 L609,255.2 L610,255.6 L611,256.1 L612,256.6 L613,257.1 L614,257.6 L615,258.2 L616,258.7 L617,259.3 L618,259.8 L619,260.4 L620,261 L621,261.6 L622,262.2 L623,262.9 L624,263.6 L625,264.3 L626,265 L627,265.7 L628,266.5 L629,267.3 L630,268.1 L631,268.9 L632,269.8 L633,270.7 L634,271.7 L635,272.7 L636,273.7 L637,274.7 L638,275.8 L639,277 L640,278.2 L641,279.4 L642,280.7 L643,282.1 L644,283.5 L645,285 L646,286.5 L647,288.1 L648,289.8 L649,291.5 L650,293.3 L651,295.2 L652,297.2 L653,299.3 L654,301.4 L655,303.7 L656,306 L657,308.5 L658,311 L659,313.7 L660,316.4 L661,319.3 L662,322.3 L663,325.3 L664,328.5 L665,331.8 L666,335.1 L667,338.5 L668,342 L669,345.5 L670,349 L671,352.6 L672,356 L673,359.4 L674,362.7 L675,365.7 L676,368.6 L677,371.1 L678,373.3 L679,375.1 L680,376.4 L681,377.3 L682,377.6 L683,377.4 L684,376.7 L685,375.5 L686,373.9 L687,371.8 L688,369.4 L689,366.6 L690,363.6 L691,360.5 L692,357.2 L693,353.8 L694,350.3 L695,346.8 L696,343.3 L697,339.9 L698,336.5 L699,333.2 L700,330 L701,326.9 L702,323.8 L703,320.9 L704,318.1 L705,315.3 L706,312.7 L707,310.2 L708,307.8 L709,305.5 L710,303.3 L711,301.1 L712,299.1 L713,297.2 L714,295.3 L715,293.5 L716,291.8 L717,290.2 L718,288.7 L719,287.2 L720,285.8 L721,284.4 L722,283.1 L723,281.9 L724,280.7 L725,279.5 L726,278.5 L727,277.4 L728,276.4 L729,275.5 L730,274.5 L731,273.7 L732,272.8 L733,272 L734,271.2 L735,270.5 L736,269.8 L737,269.1 L738,268.4 L739,267.8 L740,267.2 L741,266.6 L742,266 L743,265.5 L744,265 L745,264.5 L746,264 L747,263.5 L748,263.1 L749,262.6 L750,262.2 L751,261.8 L752,261.4 L753,261 L754,260.7 L755,260.3 L756,260 L757,259.7 L758,259.3 L759,259 L760,258.7 L761,258.5 L762,258.2 L763,257.9 L764,257.6 L765,257.4 L766,257.1 L767,256.9 L768,256.7 L769,256.5 L770,256.2 L771,256 L772,255.8 L773,255.6 L774,255.4 L775,255.3 L776,255.1 L777,254.9 L778,254.7 L779,254.6 L780,254.4 L781,254.2 L782,254.1 L783,253.9 L784,253.8 L785,253.7 L786,253.5" fill="none" stroke="#1a5a50" stroke-width="1.4" stroke-opacity="0.35"/><clipPath id="hfclip"><rect x="330" y="12" width="235" height="469"/></clipPath><g clip-path="url(#hfclip)" opacity="0.25"><path d="M30,347.2 C32.2,347.9 39.9,349 43.2,351.8 C46.5,354.5 47.3,356.7 49.9,363.6 C52.5,370.6 55.6,382.2 58.7,393.7 C61.8,405.2 65.6,430.8 68.6,432.8 C71.5,434.8 73.8,418.2 76.4,405.9 C79,393.7 81.8,370 84,359.3 C86.2,348.6 88.1,350.9 89.6,341.8 C91.1,332.7 90.3,312.9 93,304.8 C95.7,296.6 102,295.3 105.9,293 C109.8,290.7 112.8,292.1 116.5,291.2 C120.2,290.4 124.7,291 128,287.8 C131.3,284.6 133.9,270 136.4,272 C138.9,274.1 141.3,292.4 143,300 C144.7,307.6 145.3,311.5 146.5,317.8 C147.7,324.1 149,336.9 150.3,338 C151.7,339.1 153.2,332.4 154.6,324.4 C156,316.3 157.3,298.5 158.6,289.8 C159.9,281.2 160.7,277.5 162.5,272.3 C164.3,267.2 165.9,256.8 169.3,259.1 C172.7,261.4 178.6,284.2 182.8,286.2 C186.9,288.1 190.6,274.7 194,270.7 C197.4,266.8 200,264.5 203,262.6 C206,260.6 208.4,261.9 212,258.9 C215.6,256 221,247.1 224.4,244.6 C227.8,242.1 229.6,242.3 232.2,243.7 C234.9,245.2 233,250.7 240.1,253.2 C247.2,255.7 262.5,257 275,258.6 C287.5,260.3 307.1,261.4 315,263 C322.9,264.6 320,267.4 322.5,268.2 C325,269.1 327.5,267.2 330,268.1 C332.5,269 335,273.6 337.5,273.8 C340,274 342,268 345,269.5 C348,271.1 352.8,280.9 355.5,283 C358.2,285 359.5,281.4 361.5,282 C363.5,282.6 364.8,287.3 367.5,286.6 C370.2,285.8 375,280.6 378,277.6 C381,274.6 383.2,273.7 385.5,268.5 C387.8,263.3 389.8,252.7 391.5,246.4 C393.2,240.1 394,233.4 396,230.7 C398,228 401,228.3 403.5,230.3 C406,232.3 409,238.5 411,242.8 C413,247 413.9,248.3 415.5,255.7 C417.1,263.2 418.9,274.6 420.6,287.4 C422.3,300.1 423.9,327.5 425.8,332.2 C427.7,337 430.3,321.6 432.2,316 C434.1,310.4 436.1,304.6 437.4,298.8 C438.7,292.9 439.1,285 440,280.8 C440.9,276.6 440,278.8 442.5,273.5 C445,268.2 451.3,251.6 454.8,249.2 C458.3,246.8 459.8,259.3 463.7,258.9 C467.6,258.6 474.7,249.9 478.3,247 C481.9,244.1 482.4,241 485.2,241.3 C488,241.5 493,244.7 495.3,248.7 C497.6,252.6 497.7,257.1 499.2,264.8 C500.7,272.5 501.8,286.4 504.4,294.9 C507,303.4 511.9,315.4 514.7,316 C517.5,316.5 519.2,309.9 521.1,298.1 C523,286.3 524.9,257.1 526.3,245.1 C527.7,233.2 528.2,230.2 529.5,226.4 C530.8,222.5 532.6,220.8 534,222.1 C535.4,223.3 536.4,228.2 537.7,233.9 C539,239.6 540.3,251.5 541.6,256.3 C542.9,261 544.4,261.4 545.5,262.4 C546.6,263.4 546.7,262.8 548,262.3 C549.3,261.9 551,260.8 553.2,259.5 C555.4,258.3 558.9,256.8 561,254.7 C563.1,252.7 563.4,252 566,247.3 C568.6,242.6 574,231.4 576.4,226.5 C578.8,221.5 579,220.2 580.3,217.7 C581.6,215.2 582.8,211.7 584.1,211.5 C585.4,211.3 586.8,217.4 588,216.7 C589.2,216.1 589.8,204.3 591.3,207.7 C592.8,211 595.6,230 597,236.8 C598.4,243.5 599,244.5 599.6,248.2 C600.2,251.8 600,252.4 600.9,258.8 C601.8,265.1 603.4,279.3 604.7,286.3 C606,293.3 607.3,297.6 608.6,300.7 C609.9,303.9 611.4,304.6 612.5,305.1 C613.6,305.6 613.9,303.2 615,303.8 C616.1,304.3 617.8,308.3 618.9,308.5 C620,308.6 620.6,308.8 621.5,304.6 C622.4,300.4 623.1,290.8 624,283.2 C624.9,275.6 625.5,270 626.7,259.1 C627.9,248.1 629.6,226.1 631,217.5 C632.4,208.8 633.6,209.3 635,207.1 C636.4,204.9 637.8,201.8 639.3,204.2 C640.8,206.5 642.8,214.7 644.3,221.2 C645.8,227.6 647,239.2 648.5,242.9 C650,246.6 651.4,241.5 653.1,243.5 C654.8,245.5 657.1,252.8 658.7,254.9 C660.3,257 661.2,257.3 662.8,256.2 C664.4,255.1 666.4,249.1 668.3,248.2 C670.1,247.4 672.3,251.2 673.9,250.9 C675.5,250.6 676.6,246.7 678,246.6 C679.4,246.5 680.6,250.2 682.2,250.4 C683.8,250.6 685.9,248.4 687.7,247.6 C689.5,246.8 691.1,246.7 693.2,245.7 C695.3,244.7 697.8,241.8 700.1,241.6 C702.4,241.3 704.9,238.8 707,244.2 C709.1,249.5 711.2,265.5 712.5,273.5 C713.8,281.4 713.9,286.8 714.5,291.8 C715.1,296.9 715.2,305.3 715.9,303.8 C716.6,302.4 717.6,300.3 718.8,283.1 C719.9,265.9 721,219.4 722.8,200.7 C724.6,182 727.7,175 729.7,171.1 C731.7,167.1 733.1,170.6 735,176.9 C736.9,183.3 739,198 741,209.3 C743,220.7 745.7,234.3 747.1,245.2 C748.5,256.2 748.4,270.6 749.5,275.2 C750.6,279.8 752.3,273.8 753.8,272.9 C755.2,272 757.1,269.4 758.4,269.6 C759.7,269.8 760.5,277.2 761.6,274 C762.7,270.7 763.7,255.8 764.7,249.9 C765.7,243.9 766.8,238.4 767.8,238.2 C768.8,237.9 770,243.2 771,248.4 C772,253.7 773.1,263.6 774,269.7 C774.9,275.8 775.6,286.6 776.6,284.9 C777.6,283.1 779.2,264.6 780.3,259 C781.4,253.3 782.3,252.1 783.4,250.9 C784.5,249.7 786.4,251.8 787,252" fill="none" stroke="#e02424" stroke-width="1.6"/><path d="M30,343.2 C32.2,343.8 39.9,344.1 43.2,346.5 C46.5,348.9 47.3,350.9 49.9,357.5 C52.5,364.1 55.6,375.1 58.7,386 C61.8,396.9 65.6,421.5 68.6,422.6 C71.5,423.7 73.8,406.2 76.4,392.8 C79,379.4 81.8,354.1 84,342 C86.2,329.9 88.1,330.4 89.6,320 C91.1,309.6 90.3,292.1 93,279.5 C95.7,266.9 102,256.8 105.9,244.6 C109.8,232.4 112.8,215.8 116.5,206.5 C120.2,197.2 124.7,190 128,188.9 C131.3,187.8 133.9,190.6 136.4,199.9 C138.9,209.2 141.3,233.2 143,244.6 C144.7,255.9 145.3,260.1 146.5,268 C147.7,275.9 149,290 150.3,292 C151.7,294 153.2,287.9 154.6,280 C156,272.1 157.3,253.9 158.6,244.6 C159.9,235.3 160.7,231.6 162.5,224 C164.3,216.4 165.9,204.8 169.3,199.2 C172.7,193.7 178.6,191.1 182.8,190.7 C186.9,190.3 190.6,192.6 194,197 C197.4,201.4 200,211.6 203,217.2 C206,222.9 208.4,228.9 212,230.8 C215.6,232.6 221,228.3 224.4,228.5 C227.8,228.7 229.6,229.3 232.2,231.9 C234.9,234.5 233,240.2 240.1,244.2 C247.2,248.3 262.5,252.7 275,256 C287.5,259.3 307.1,261.9 315,264.2 C322.9,266.6 320,269.1 322.5,270.2 C325,271.4 327.5,269.8 330,271 C332.5,272.2 335,277.1 337.5,277.8 C340,278.4 342,272.6 345,274.8 C348,276.9 352.8,287.8 355.5,290.5 C358.2,293.2 359.5,290 361.5,291.2 C363.5,292.5 364.8,297.5 367.5,298 C370.2,298.5 375,295.5 378,294.2 C381,293 383.2,293.9 385.5,290.5 C387.8,287.1 389.8,278.5 391.5,274 C393.2,269.5 394,263.5 396,263.5 C398,263.5 401,268 403.5,274 C406,280 409,291.8 411,299.5 C413,307.2 413.9,310.4 415.5,320 C417.1,329.6 418.9,343.8 420.6,357.3 C422.3,370.8 423.9,399 425.8,401.1 C427.7,403.2 430.3,381.8 432.2,370.2 C434.1,358.6 436.1,343.1 437.4,331.5 C438.7,319.9 439.1,309.2 440,300.6 C440.9,292 440,299.4 442.5,280 C445,260.6 451.3,204.3 454.8,184 C458.3,163.7 459.8,156.6 463.7,158 C467.6,159.4 474.7,181.6 478.3,192.4 C481.9,203.2 482.4,208.2 485.2,222.8 C488,237.4 493,264.9 495.3,280 C497.6,295.1 497.7,299.8 499.2,313.5 C500.7,327.2 501.8,349.2 504.4,362.5 C507,375.8 511.9,393 514.7,393.4 C517.5,393.8 519.2,380.5 521.1,365 C523,349.5 524.9,315.6 526.3,300.6 C527.7,285.6 528.2,281.4 529.5,275 C530.8,268.6 532.6,263.2 534,262 C535.4,260.8 536.4,263.9 537.7,267.6 C539,271.3 540.3,281.4 541.6,284.4 C542.9,287.4 544.4,285.9 545.5,285.7 C546.6,285.5 546.7,284.7 548,283 C549.3,281.3 551,278.4 553.2,275.4 C555.4,272.4 558.9,268.4 561,265 C563.1,261.6 563.4,260.7 566,254.7 C568.6,248.7 574,235 576.4,229 C578.8,223 579,221.7 580.3,218.7 C581.6,215.7 582.8,211.7 584.1,211 C585.4,210.3 586.8,215.9 588,214.8 C589.2,213.7 589.8,201.7 591.3,204.5 C592.8,207.3 595.6,225.3 597,231.5 C598.4,237.7 599,238.5 599.6,241.9 C600.2,245.3 600,246 600.9,252 C601.8,258 603.4,271.5 604.7,278 C606,284.5 607.3,288.2 608.6,290.8 C609.9,293.4 611.4,293.4 612.5,293.4 C613.6,293.4 613.9,290.8 615,290.8 C616.1,290.8 617.8,293.9 618.9,293.4 C620,292.9 620.6,292.7 621.5,288 C622.4,283.3 623.1,273.2 624,265 C624.9,256.8 625.5,250.8 626.7,239 C627.9,227.2 629.6,203.8 631,194 C632.4,184.2 633.6,183.6 635,180 C636.4,176.4 637.8,171.9 639.3,172.4 C640.8,172.9 642.8,178.6 644.3,182.9 C645.8,187.2 647,196.8 648.5,198 C650,199.2 651.4,191.5 653.1,189.8 C654.8,188.1 657.1,189.9 658.7,187.8 C660.3,185.7 661.2,183.4 662.8,177.3 C664.4,171.2 666.4,158.2 668.3,151.1 C670.1,144 672.3,139.8 673.9,134.5 C675.5,129.2 676.6,121.9 678,119.3 C679.4,116.7 680.6,118.1 682.2,118.8 C683.8,119.5 685.9,120.2 687.7,123.5 C689.5,126.8 691.1,132.9 693.2,138.7 C695.3,144.4 697.8,151.1 700.1,158 C702.4,164.9 704.9,169.5 707,180.1 C709.1,190.7 711.2,210.9 712.5,221.5 C713.8,232.1 713.9,237.5 714.5,243.6 C715.1,249.7 715.2,258.3 715.9,258 C716.6,257.7 717.6,257.3 718.8,241.8 C719.9,226.3 721,181.4 722.8,164.8 C724.6,148.2 727.7,144.5 729.7,142.5 C731.7,140.5 733.1,144.9 735,152.7 C736.9,160.4 739,174.2 741,189 C743,203.8 745.7,228 747.1,241.8 C748.5,255.6 748.4,267.3 749.5,272 C750.6,276.7 752.3,270.8 753.8,270 C755.2,269.2 757.1,268.3 758.4,267 C759.7,265.7 760.5,266.7 761.6,262 C762.7,257.3 763.7,244.4 764.7,238.8 C765.7,233.1 766.8,227.8 767.8,227.8 C768.8,227.8 770,233.3 771,238.8 C772,244.2 773.1,254.4 774,260.6 C774.9,266.9 775.6,277.9 776.6,276.2 C777.6,274.6 779.2,256.5 780.3,251 C781.4,245.5 782.3,244.4 783.4,243.4 C784.5,242.4 786.4,244.7 787,245" fill="none" stroke="#a81c1c" stroke-width="1.6"/></g><path d="M428,249 L429,249 L430,248.9 L431,248.9 L432,248.8 L433,248.8 L434,248.7 L435,248.7 L436,248.6 L437,248.6 L438,248.5 L439,248.5 L440,248.4 L441,248.4 L442,248.3 L443,248.3 L444,248.2 L445,248.2 L446,248.2 L447,248.1 L448,248.1 L449,248 L450,248 L451,248 L452,247.9 L453,247.9 L454,247.9 L455,247.8 L456,247.8 L457,247.8 L458,247.8 L459,247.7 L460,247.7 L461,247.7 L462,247.7 L463,247.6 L464,247.6 L465,247.6 L466,247.6 L467,247.5 L468,247.5 L469,247.5 L470,247.5 L471,247.5 L472,247.5 L473,247.4 L474,247.4 L475,247.4 L476,247.4 L477,247.4 L478,247.4 L479,247.3 L480,247.3 L481,247.3 L482,247.3 L483,247.3 L484,247.3 L485,247.3 L486,247.3 L487,247.3 L488,247.2 L489,247.2 L490,247.2 L491,247.2 L492,247.2 L493,247.2 L494,247.2 L495,247.2 L496,247.2 L497,247.2 L498,247.2 L499,247.2 L500,247.2 L501,247.1 L502,247.1 L503,247.1 L504,247.1 L505,247.1 L506,247.1 L507,247.1 L508,247.1 L509,247.1 L510,247.1 L511,247.1 L512,247.1 L513,247.1 L514,247.1 L515,247.1 L516,247.1 L517,247.1 L518,247.1 L519,247.1 L520,247.1 L521,247.1 L522,247.1 L523,247.1 L524,247.1 L525,247.1 L526,247.1 L527,247.1 L528,247.1 L529,247 L530,247 L531,247 L532,247 L533,247 L534,247 L535,247 L536,247 L537,247 L538,247 L539,247 L540,247 L541,247 L542,247 L543,247 L544,247 L545,247 L546,247 L547,247 L548,247 L549,247 L550,247 L551,247 L552,247 L553,247 L554,247 L555,247 L556,247 L557,247 L558,247 L559,247 L560,247 L561,247 L562,247 L563,247 L564,247 L565,247 L566,247 L567,247 L568,247 L569,247 L570,247 L571,247 L572,247 L573,247 L574,247 L575,247 L576,247 L577,247 L578,247 L579,247 L580,247 L581,247 L582,247 L583,247 L584,247 L585,247 L586,247 L587,247 L588,247 L589,247 L590,247 L591,247 L592,247 L593,247 L594,247 L595,247 L596,247 L597,247 L598,247 L599,247 L600,247 L601,247 L602,247 L603,247 L604,247 L605,247 L606,247 L607,247 L608,247 L609,247 L610,247 L611,247 L612,247 L613,247 L614,247 L615,247 L616,247 L617,247 L618,247 L619,247 L620,247 L621,247 L622,247 L623,247 L624,247 L625,247 L626,247 L627,247 L628,247 L629,247 L630,247 L631,247 L632,247 L633,247 L634,247 L635,247 L636,247 L637,247 L638,247 L639,247 L640,247 L641,247 L642,247 L643,247 L644,247 L645,247 L646,247 L647,247 L648,247 L649,247 L650,247 L651,247 L652,247 L653,247 L654,247 L655,247 L656,247 L657,247 L658,247 L659,247 L660,247 L661,247 L662,247 L663,247 L664,247 L665,247 L666,247 L667,247 L668,247 L669,247 L670,247 L671,247 L672,247 L673,247 L674,247 L675,247 L676,247 L677,247 L678,247 L679,247 L680,247 L681,247 L682,247 L683,247 L684,247 L685,247 L686,247 L687,247 L688,247 L689,247 L690,247 L691,247 L692,247 L693,247 L694,247 L695,247 L696,247 L697,247 L698,247 L699,247 L700,247 L701,247 L702,247 L703,247 L704,247 L705,247 L706,247 L707,247 L708,247 L709,247 L710,247 L711,247 L712,247 L713,247 L714,247 L715,247 L716,247 L717,247 L718,247 L719,247 L720,247 L721,247 L722,247 L723,247 L724,247 L725,247 L726,247 L727,247 L728,247 L729,247 L730,247 L731,247 L732,247 L733,247 L734,247 L735,247 L736,247 L737,247 L738,247 L739,247 L740,247 L741,247 L742,247 L743,247 L744,247 L745,247 L746,247 L747,247 L748,247 L749,247 L750,247 L751,247 L752,247 L753,247 L754,247 L755,247 L756,247 L757,247 L758,247 L759,247 L760,247 L761,247 L762,247 L763,247 L764,247 L765,247 L766,247 L767,247 L768,247 L769,247 L770,247 L771,247 L772,247 L773,247 L774,247 L775,247 L776,247 L777,247 L778,247 L779,247 L780,247 L781,247 L782,247 L783,247 L784,247 L785,247 L786,247" fill="none" stroke="#4a1ca8" stroke-width="2.6"/></g><rect x="30.5" y="10.5" width="755.5" height="471.5" fill="none" stroke="#b2b2b2" stroke-width="3"/><text x="27" y="485.6" text-anchor="end" font-family="Liberation Sans" font-size="9" fill="#222">60</text><text x="27" y="454.3" text-anchor="end" font-family="Liberation Sans" font-size="9" fill="#222">62</text><text x="27" y="423" text-anchor="end" font-family="Liberation Sans" font-size="9" fill="#222">64</text><text x="27" y="391.7" text-anchor="end" font-family="Liberation Sans" font-size="9" fill="#222">66</text><text x="27" y="360.4" text-anchor="end" font-family="Liberation Sans" font-size="9" fill="#222">68</text><text x="27" y="329.1" text-anchor="end" font-family="Liberation Sans" font-size="9" fill="#222">70</text><text x="27" y="297.8" text-anchor="end" font-family="Liberation Sans" font-size="9" fill="#222">72</text><text x="27" y="266.5" text-anchor="end" font-family="Liberation Sans" font-size="9" fill="#222">74</text><text x="27" y="235.2" text-anchor="end" font-family="Liberation Sans" font-size="9" fill="#222">76</text><text x="27" y="203.9" text-anchor="end" font-family="Liberation Sans" font-size="9" fill="#222">78</text><text x="27" y="172.6" text-anchor="end" font-family="Liberation Sans" font-size="9" fill="#222">80</text><text x="27" y="141.3" text-anchor="end" font-family="Liberation Sans" font-size="9" fill="#222">82</text><text x="27" y="110" text-anchor="end" font-family="Liberation Sans" font-size="9" fill="#222">84</text><text x="27" y="78.7" text-anchor="end" font-family="Liberation Sans" font-size="9" fill="#222">86</text><text x="27" y="47.4" text-anchor="end" font-family="Liberation Sans" font-size="9" fill="#222">88</text><text x="27" y="16.1" text-anchor="end" font-family="Liberation Sans" font-size="9" fill="#222">90</text><text x="28" y="7.5" text-anchor="end" font-family="Liberation Sans" font-size="9" fill="#333">dB</text><text x="31.4" y="494" text-anchor="middle" font-family="Liberation Sans" font-size="9" fill="#222">15</text><text x="108.5" y="494" text-anchor="middle" font-family="Liberation Sans" font-size="9" fill="#222">20</text><text x="217.1" y="494" text-anchor="middle" font-family="Liberation Sans" font-size="9" fill="#222">30</text><text x="294.2" y="494" text-anchor="middle" font-family="Liberation Sans" font-size="9" fill="#222">40</text><text x="354" y="494" text-anchor="middle" font-family="Liberation Sans" font-size="9" fill="#222">50</text><text x="402.9" y="494" text-anchor="middle" font-family="Liberation Sans" font-size="9" fill="#222">60</text><text x="444.2" y="494" text-anchor="middle" font-family="Liberation Sans" font-size="9" fill="#222">70</text><text x="480" y="494" text-anchor="middle" font-family="Liberation Sans" font-size="9" fill="#222">80</text><text x="511.5" y="494" text-anchor="middle" font-family="Liberation Sans" font-size="9" fill="#222">90</text><text x="539.8" y="494" text-anchor="middle" font-family="Liberation Sans" font-size="9" fill="#222">100</text><text x="725.5" y="494" text-anchor="middle" font-family="Liberation Sans" font-size="9" fill="#222">200</text><text x="785" y="494" text-anchor="middle" font-family="Liberation Sans" font-size="9" fill="#333">250 Hz</text><text x="125.2" y="7.6" text-anchor="middle" font-family="Liberation Sans" font-size="10" fill="#34348c">6</text><text x="185.6" y="7.6" text-anchor="middle" font-family="Liberation Sans" font-size="10" fill="#34348c">5</text><text x="429" y="7.6" text-anchor="middle" font-family="Liberation Sans" font-size="10" fill="#34348c">2</text><text x="466" y="7.6" text-anchor="middle" font-family="Liberation Sans" font-size="10" fill="#34348c">1</text><text x="509.7" y="7.6" text-anchor="middle" font-family="Liberation Sans" font-size="10" fill="#34348c">4</text><text x="683.9" y="7.6" text-anchor="middle" font-family="Liberation Sans" font-size="10" fill="#34348c">3</text><text x="400" y="27" text-anchor="middle" font-family="Liberation Sans" font-weight="bold" font-size="17" fill="#858585">Filter Adjust, no smoothing</text></svg>
<div class="lg"></div><div class="cb" style="left:8px;top:505.5px;border-left-color:#333;border-top-color:#333"><svg width="10" height="10" style="position:absolute;left:-1px;top:-1px"><path d="M2.6,4.8 L4.6,7.4 L8.6,1.8" fill="none" stroke="#000" stroke-width="2"/></svg></div><div class="t" style="left:23px;top:505.5px;color:#b33a3a">May 12 19:30:25</div><div class="sw" style="left:145px;top:510px;width:28px;background:#a81c1c"></div><div class="t" style="right:568px;top:505.5px;color:#c03838">74.0 dB</div><div class="cb" style="left:267px;top:505.5px;border-left-color:#333;border-top-color:#333"><svg width="10" height="10" style="position:absolute;left:-1px;top:-1px"><path d="M2.6,4.8 L4.6,7.4 L8.6,1.8" fill="none" stroke="#000" stroke-width="2"/></svg></div><div class="t" style="left:282px;top:505.5px;color:#d83232">Predicted</div><div class="sw" style="left:404px;top:510px;width:28px;background:#e02424"></div><div class="t" style="right:309px;top:505.5px;color:#e03a3a">74.0 dB</div><div class="cb" style="left:526px;top:505.5px;border-left-color:#333;border-top-color:#333"><svg width="10" height="10" style="position:absolute;left:-1px;top:-1px"><path d="M2.6,4.8 L4.6,7.4 L8.6,1.8" fill="none" stroke="#000" stroke-width="2"/></svg></div><div class="t" style="left:541px;top:505.5px;color:#3434b4">Target</div><div class="sw" style="left:664px;top:510px;width:28px;background:#2020a8"></div><div class="t" style="right:50px;top:505.5px;color:#3a3aa8">74.0 dB</div><div class="cb" style="left:8px;top:525.5px;border-left-color:#333;border-top-color:#333"><svg width="10" height="10" style="position:absolute;left:-1px;top:-1px"><path d="M2.6,4.8 L4.6,7.4 L8.6,1.8" fill="none" stroke="#000" stroke-width="2"/></svg></div><div class="t" style="left:23px;top:525.5px;color:#3cbccc">Filters</div><div class="sw" style="left:145px;top:530px;width:28px;background:#3cc0c8"></div><div class="t" style="right:568px;top:525.5px;color:#3cbccc">-0.0 dB</div><div class="cb" style="left:267px;top:525.5px;border-left-color:#333;border-top-color:#333"><svg width="10" height="10" style="position:absolute;left:-1px;top:-1px"><path d="M2.6,4.8 L4.6,7.4 L8.6,1.8" fill="none" stroke="#000" stroke-width="2"/></svg></div><div class="t" style="left:282px;top:525.5px;color:#2f8c8c">Filters+Target</div><div class="sw" style="left:404px;top:530px;width:28px;background:#2a8a88"></div><div class="t" style="right:309px;top:525.5px;color:#2f8c8c">74.0 dB</div><div class="cb" style="left:526px;top:525.5px;border-left-color:#999;border-top-color:#999;background:#cfcfcf"><svg width="10" height="10" style="position:absolute;left:-1px;top:-1px"><path d="M2.6,4.8 L4.6,7.4 L8.6,1.8" fill="none" stroke="#777" stroke-width="2"/></svg></div><div class="t" style="left:541px;top:525.5px;color:#a0a0a0">Resonances</div><div class="t" style="right:50px;top:525.5px;color:#a0a0a0">dB</div><div style="position:absolute;left:750.5px;top:506.5px;width:19px;font:bold 6.6px/5.2px 'Liberation Mono';color:#000;letter-spacing:-0.5px;transform:scaleY(1.05)">HOUSE<br>CURVE</div>
</body></html>
